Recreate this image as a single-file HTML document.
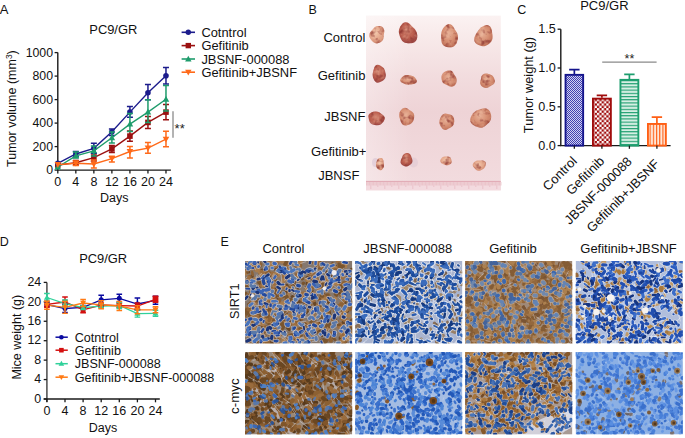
<!DOCTYPE html>
<html><head><meta charset="utf-8"><style>
html,body{margin:0;padding:0;background:#fff;}
svg{display:block;}
text{font-family:"Liberation Sans",sans-serif;}
</style></head><body>
<svg width="685" height="438" viewBox="0 0 685 438" font-family="Liberation Sans, sans-serif">
<rect width="685" height="438" fill="#fff"/>
<defs>
<pattern id="pb" width="2" height="2" patternUnits="userSpaceOnUse"><rect width="2" height="2" fill="#d0d0f2"/><rect width="1" height="1" fill="#4040b0"/><rect x="1" y="1" width="1" height="1" fill="#4040b0"/></pattern>
<pattern id="pr" width="4.7" height="4.7" patternUnits="userSpaceOnUse"><rect width="4.7" height="4.7" fill="#a00c0c"/><rect width="2.35" height="2.35" fill="#fff"/><rect x="2.35" y="2.35" width="2.35" height="2.35" fill="#fff"/></pattern>
<pattern id="pg" width="3" height="3.2" patternUnits="userSpaceOnUse"><rect width="3" height="3.2" fill="#d6efe4"/><rect width="3" height="1.1" fill="#1d9e6e"/></pattern>
<pattern id="po" width="3.2" height="3" patternUnits="userSpaceOnUse"><rect width="3.2" height="3" fill="#ffe6d6"/><rect width="1.1" height="3" fill="#ff5f14"/></pattern>
<filter id="mottle" x="-10%" y="-10%" width="120%" height="120%" color-interpolation-filters="sRGB"><feTurbulence type="fractalNoise" baseFrequency="0.2" numOctaves="2" seed="4" result="n"/><feColorMatrix in="n" type="matrix" values="0 0 0 0 0.95  0 0 0 0 0.78  0 0 0 0 0.68  1.2 0 0 0 -0.62" result="w"/><feComposite in="w" in2="SourceGraphic" operator="in" result="wi"/><feColorMatrix in="n" type="matrix" values="0 0 0 0 0.56  0 0 0 0 0.22  0 0 0 0 0.2  0 -2.4 0 0 1.22" result="d"/><feComposite in="d" in2="SourceGraphic" operator="in" result="di"/><feMerge><feMergeNode in="SourceGraphic"/><feMergeNode in="wi"/><feMergeNode in="di"/></feMerge><feGaussianBlur stdDeviation="0.45"/></filter>
<filter id="soft2" x="-20%" y="-20%" width="140%" height="140%"><feGaussianBlur stdDeviation="0.7"/></filter>
<filter id="soft" x="-5%" y="-5%" width="110%" height="110%"><feGaussianBlur stdDeviation="0.65"/></filter>
<linearGradient id="bgB" x1="0" y1="0" x2="0" y2="1"><stop offset="0" stop-color="#fbf2f2"/><stop offset="0.12" stop-color="#f8eaea"/><stop offset="0.35" stop-color="#f2dcde"/><stop offset="0.55" stop-color="#eed3d6"/><stop offset="0.85" stop-color="#f1d9dc"/><stop offset="1" stop-color="#f2dcdf"/></linearGradient>
<linearGradient id="bgB2" x1="0" y1="0" x2="1" y2="0"><stop offset="0" stop-color="#fff" stop-opacity="0.3"/><stop offset="0.35" stop-color="#fff" stop-opacity="0"/><stop offset="1" stop-color="#fff" stop-opacity="0"/></linearGradient>
<radialGradient id="tl" cx="0.45" cy="0.4" r="0.6"><stop offset="0" stop-color="#f2c6aa"/><stop offset="0.6" stop-color="#e4a68a"/><stop offset="1" stop-color="#d28a70"/></radialGradient>
<radialGradient id="tm" cx="0.45" cy="0.4" r="0.6"><stop offset="0" stop-color="#e8b298"/><stop offset="0.6" stop-color="#d68e72"/><stop offset="1" stop-color="#c0725a"/></radialGradient>
<radialGradient id="td" cx="0.45" cy="0.4" r="0.6"><stop offset="0" stop-color="#d48a76"/><stop offset="0.6" stop-color="#bc5e4e"/><stop offset="1" stop-color="#9e4844"/></radialGradient>
</defs>
<text x="308.5" y="14.0" font-size="12.5" text-anchor="start" fill="#111" >B</text>
<text x="365.4" y="41.6" font-size="13" text-anchor="end" fill="#111" >Control</text>
<text x="365.4" y="79.6" font-size="13" text-anchor="end" fill="#111" >Gefitinib</text>
<text x="365.4" y="121.0" font-size="13" text-anchor="end" fill="#111" >JBSNF</text>
<text x="366.4" y="156.1" font-size="13" text-anchor="end" fill="#111" >Gefitinib+</text>
<text x="338.8" y="179.5" font-size="13" text-anchor="middle" fill="#111" >JBNSF</text>
<rect x="366" y="15.6" width="134.8" height="174.7" fill="url(#bgB)"/>
<rect x="366" y="15.6" width="134.8" height="174.7" fill="url(#bgB2)"/>
<rect x="366" y="181" width="134.8" height="9.3" fill="#f3dadf"/>
<path d="M366 181.4 H500.8" stroke="#e0a8b2" stroke-width="1"/>
<path d="M366.6 182v3.5M368.0 182v3.5M369.4 182v3.5M370.8 182v7M372.2 182v3.5M373.6 182v3.5M375.0 182v3.5M376.4 182v3.5M377.8 182v5M379.2 182v3.5M380.6 182v3.5M382.0 182v3.5M383.4 182v3.5M384.8 182v7M386.2 182v3.5M387.6 182v3.5M389.0 182v3.5M390.4 182v3.5M391.8 182v5M393.2 182v3.5M394.6 182v3.5M396.0 182v3.5M397.4 182v3.5M398.8 182v7M400.2 182v3.5M401.6 182v3.5M403.0 182v3.5M404.4 182v3.5M405.8 182v5M407.2 182v3.5M408.6 182v3.5M410.0 182v3.5M411.4 182v3.5M412.8 182v7M414.2 182v3.5M415.6 182v3.5M417.0 182v3.5M418.4 182v3.5M419.8 182v5M421.2 182v3.5M422.6 182v3.5M424.0 182v3.5M425.4 182v3.5M426.8 182v7M428.2 182v3.5M429.6 182v3.5M431.0 182v3.5M432.4 182v3.5M433.8 182v5M435.2 182v3.5M436.6 182v3.5M438.0 182v3.5M439.4 182v3.5M440.8 182v7M442.2 182v3.5M443.6 182v3.5M445.0 182v3.5M446.4 182v3.5M447.8 182v5M449.2 182v3.5M450.6 182v3.5M452.0 182v3.5M453.4 182v3.5M454.8 182v7M456.2 182v3.5M457.6 182v3.5M459.0 182v3.5M460.4 182v3.5M461.8 182v5M463.2 182v3.5M464.6 182v3.5M466.0 182v3.5M467.4 182v3.5M468.8 182v7M470.2 182v3.5M471.6 182v3.5M473.0 182v3.5M474.4 182v3.5M475.8 182v5M477.2 182v3.5M478.6 182v3.5M480.0 182v3.5M481.4 182v3.5M482.8 182v7M484.2 182v3.5M485.6 182v3.5M487.0 182v3.5M488.4 182v3.5M489.8 182v5M491.2 182v3.5M492.6 182v3.5M494.0 182v3.5M495.4 182v3.5M496.8 182v7M498.2 182v3.5M499.6 182v3.5M501.0 182v3.5" stroke="#e4b2bb" stroke-width="0.6"/>
<ellipse cx="375.5" cy="162.5" rx="3.5" ry="4.5" fill="#d8c4d4" opacity="0.6"/>
<ellipse cx="413.5" cy="162.5" rx="4.5" ry="5" fill="#e0c8d2" opacity="0.6"/>
<g filter="url(#mottle)">
<path d="M383.8 34.7 L383.7 35.9 L383.7 37.1 L383.5 38.5 L383.0 39.7 L382.2 40.9 L381.2 41.8 L380.0 42.6 L378.6 43.1 L377.2 43.4 L375.7 43.3 L374.3 42.8 L373.1 42.0 L372.1 41.0 L371.2 39.9 L370.4 38.8 L369.7 37.5 L369.3 36.2 L369.3 34.7 L369.7 33.3 L370.4 32.1 L371.2 31.1 L372.0 30.2 L372.7 29.2 L373.6 28.2 L374.6 27.3 L375.8 26.6 L377.2 26.1 L378.7 26.0 L380.2 26.1 L381.7 26.6 L383.0 27.6 L383.9 28.9 L384.3 30.5 L384.3 32.0 L384.0 33.4Z" fill="url(#tl)"/>
<path d="M416.5 32.0 L417.0 33.7 L417.3 35.5 L417.2 37.5 L416.8 39.4 L415.9 41.1 L414.5 42.3 L412.8 43.0 L411.1 43.2 L409.5 43.2 L408.0 43.2 L406.5 43.1 L404.9 42.8 L403.5 42.1 L402.2 41.0 L401.3 39.6 L400.5 38.1 L399.9 36.6 L399.4 35.0 L399.0 33.3 L398.8 31.6 L399.0 29.8 L399.6 28.1 L400.3 26.5 L401.3 24.9 L402.5 23.6 L404.0 22.6 L405.8 22.2 L407.6 22.6 L409.2 23.5 L410.5 24.8 L411.6 26.0 L412.6 27.0 L413.7 28.0 L414.8 29.1 L415.7 30.4Z" fill="url(#td)"/>
<path d="M458.0 37.2 L457.8 39.1 L457.3 41.0 L456.7 42.9 L455.7 44.6 L454.4 46.0 L452.9 46.9 L451.3 47.3 L449.8 47.3 L448.3 47.2 L446.8 46.9 L445.3 46.6 L443.8 45.8 L442.6 44.6 L441.8 43.0 L441.4 41.1 L441.2 39.3 L441.1 37.5 L441.1 35.7 L441.2 33.9 L441.5 32.0 L442.1 30.2 L443.0 28.5 L444.1 27.0 L445.4 25.7 L446.9 24.7 L448.6 24.1 L450.3 24.2 L451.8 25.1 L453.1 26.4 L454.0 27.9 L454.8 29.4 L455.7 30.7 L456.5 32.0 L457.3 33.5 L457.8 35.3Z" fill="url(#tm)"/>
<path d="M492.5 38.5 L492.0 40.2 L491.1 41.8 L489.9 43.1 L488.6 44.2 L487.3 45.1 L485.8 45.8 L484.3 46.2 L482.8 46.3 L481.4 46.0 L479.9 45.6 L478.5 45.0 L477.0 44.2 L475.7 43.2 L474.6 41.6 L474.2 39.7 L474.4 37.6 L475.1 35.7 L476.0 34.1 L476.9 32.6 L477.8 31.3 L478.7 29.9 L479.7 28.7 L480.8 27.6 L482.2 26.7 L483.6 25.9 L485.3 25.3 L487.0 25.1 L488.6 25.5 L490.1 26.5 L491.1 28.0 L491.7 29.8 L492.0 31.6 L492.2 33.3 L492.5 34.9 L492.6 36.7Z" fill="url(#tm)"/>
<path d="M385.7 73.9 L385.8 75.3 L385.6 76.8 L385.2 78.2 L384.4 79.3 L383.4 80.2 L382.3 80.9 L381.3 81.4 L380.2 82.0 L379.0 82.5 L377.7 82.7 L376.4 82.4 L375.3 81.6 L374.4 80.5 L373.7 79.3 L373.1 78.0 L372.8 76.6 L372.6 75.3 L372.6 73.9 L372.9 72.6 L373.2 71.3 L373.5 70.1 L373.9 68.7 L374.4 67.3 L375.2 66.0 L376.3 65.1 L377.7 64.8 L379.0 64.9 L380.2 65.5 L381.3 66.2 L382.4 66.9 L383.3 67.8 L384.1 68.8 L384.7 69.9 L385.1 71.2 L385.4 72.5Z" fill="url(#td)"/>
<path d="M416.5 80.0 L416.8 80.9 L416.7 81.9 L416.1 82.8 L415.0 83.5 L413.7 84.0 L412.4 84.3 L411.0 84.5 L409.8 84.6 L408.5 84.7 L407.2 84.6 L406.0 84.4 L404.8 84.1 L403.7 83.6 L402.7 83.1 L401.6 82.5 L400.8 81.8 L400.3 80.9 L400.2 80.0 L400.6 79.1 L401.1 78.3 L401.8 77.5 L402.5 76.8 L403.4 76.1 L404.4 75.5 L405.7 75.1 L407.1 75.0 L408.5 75.1 L409.8 75.3 L411.0 75.6 L412.2 75.9 L413.3 76.3 L414.2 76.9 L414.9 77.6 L415.5 78.4 L416.0 79.1Z" fill="url(#tm)"/>
<path d="M456.5 78.6 L456.7 80.0 L456.6 81.4 L456.3 82.9 L455.6 84.2 L454.7 85.4 L453.4 86.3 L452.0 86.7 L450.5 86.6 L449.1 86.2 L447.9 85.6 L446.8 85.0 L445.8 84.5 L444.7 84.0 L443.6 83.3 L442.8 82.4 L442.1 81.2 L441.7 79.9 L441.5 78.6 L441.4 77.2 L441.6 75.8 L442.1 74.4 L442.9 73.3 L444.0 72.3 L445.2 71.6 L446.4 71.0 L447.7 70.6 L449.1 70.4 L450.5 70.5 L451.7 71.1 L452.8 72.1 L453.5 73.2 L454.1 74.3 L454.7 75.3 L455.4 76.2 L456.0 77.3Z" fill="url(#tm)"/>
<path d="M494.9 80.7 L494.8 81.8 L494.5 82.9 L493.7 83.9 L492.8 84.7 L491.8 85.3 L490.8 85.9 L489.7 86.6 L488.6 87.3 L487.2 87.8 L485.7 88.0 L484.2 87.7 L482.8 87.1 L481.7 86.2 L480.9 85.2 L480.3 84.1 L480.1 82.9 L480.2 81.8 L480.4 80.7 L480.8 79.7 L481.0 78.8 L481.2 77.8 L481.4 76.6 L482.0 75.4 L482.9 74.4 L484.2 73.8 L485.7 73.5 L487.2 73.6 L488.6 73.9 L489.9 74.3 L491.2 74.9 L492.3 75.6 L493.1 76.5 L493.8 77.5 L494.2 78.5 L494.6 79.6Z" fill="url(#tm)"/>
<path d="M384.8 118.4 L384.6 119.6 L384.1 120.6 L383.5 121.7 L382.7 122.6 L381.8 123.6 L380.7 124.4 L379.3 124.9 L377.8 125.2 L376.3 125.2 L374.8 125.0 L373.4 124.7 L372.0 124.2 L370.9 123.5 L370.0 122.6 L369.5 121.5 L369.2 120.4 L368.9 119.4 L368.7 118.4 L368.4 117.3 L368.3 116.1 L368.6 114.9 L369.4 113.8 L370.5 113.0 L371.8 112.3 L373.3 111.8 L374.8 111.6 L376.3 111.5 L377.8 111.8 L379.1 112.3 L380.2 113.0 L381.2 113.8 L382.2 114.5 L383.2 115.3 L384.0 116.2 L384.7 117.2Z" fill="url(#td)"/>
<path d="M414.2 116.8 L414.0 118.4 L413.6 119.9 L413.0 121.4 L412.2 122.6 L411.2 123.6 L410.1 124.3 L408.9 124.8 L407.7 125.1 L406.5 125.4 L405.2 125.5 L403.9 125.3 L402.7 124.6 L401.8 123.6 L401.1 122.2 L400.6 120.9 L400.2 119.6 L399.7 118.2 L399.3 116.8 L399.2 115.2 L399.3 113.6 L399.8 112.1 L400.5 110.7 L401.5 109.6 L402.6 108.6 L403.8 108.0 L405.2 107.8 L406.5 108.2 L407.7 108.8 L408.7 109.5 L409.7 110.2 L410.7 110.7 L411.8 111.4 L412.9 112.4 L413.7 113.6 L414.2 115.2Z" fill="url(#tm)"/>
<path d="M454.3 121.5 L454.0 123.1 L453.6 124.5 L452.8 125.8 L451.8 126.7 L450.8 127.4 L449.8 127.9 L448.8 128.5 L447.8 129.1 L446.7 129.7 L445.5 130.0 L444.2 129.8 L443.0 129.2 L442.0 128.2 L441.2 127.1 L440.4 125.9 L439.8 124.5 L439.4 123.1 L439.4 121.5 L439.6 120.0 L440.1 118.6 L440.7 117.3 L441.4 116.1 L442.2 115.0 L443.2 114.2 L444.4 113.7 L445.6 113.6 L446.7 113.8 L447.8 114.0 L448.9 114.2 L450.1 114.4 L451.3 114.9 L452.4 115.7 L453.3 116.8 L453.9 118.3 L454.2 119.9Z" fill="url(#tm)"/>
<path d="M491.1 118.0 L490.8 119.6 L490.1 121.1 L489.1 122.4 L488.0 123.5 L486.9 124.5 L485.7 125.6 L484.4 126.6 L482.8 127.4 L481.0 127.7 L479.2 127.6 L477.4 127.1 L475.8 126.4 L474.1 125.6 L472.6 124.6 L471.3 123.2 L470.4 121.6 L470.2 119.8 L470.5 118.0 L471.1 116.4 L471.9 114.9 L472.8 113.6 L473.9 112.4 L475.1 111.4 L476.4 110.6 L477.9 110.0 L479.4 109.5 L481.0 108.9 L482.8 108.4 L484.8 108.3 L486.8 108.7 L488.5 109.7 L489.8 111.2 L490.5 112.9 L491.0 114.6 L491.2 116.3Z" fill="url(#tm)"/>
<path d="M383.9 164.1 L384.0 165.0 L384.0 166.0 L383.8 166.9 L383.4 167.8 L383.0 168.6 L382.4 169.3 L381.7 169.9 L380.9 170.3 L380.1 170.3 L379.3 170.0 L378.6 169.5 L378.0 169.0 L377.4 168.4 L376.9 167.7 L376.4 166.9 L376.1 166.0 L376.0 165.1 L376.0 164.1 L376.2 163.2 L376.4 162.3 L376.7 161.5 L377.0 160.6 L377.3 159.8 L377.9 159.0 L378.6 158.5 L379.3 158.1 L380.1 157.9 L380.9 157.9 L381.7 158.1 L382.5 158.6 L383.0 159.5 L383.4 160.5 L383.5 161.5 L383.6 162.4 L383.7 163.3Z" fill="url(#tl)"/>
<path d="M412.4 160.0 L412.5 161.1 L412.3 162.3 L411.8 163.3 L411.1 164.1 L410.2 164.8 L409.4 165.3 L408.5 165.8 L407.6 166.2 L406.6 166.4 L405.6 166.4 L404.6 166.2 L403.5 165.8 L402.5 165.3 L401.6 164.6 L400.9 163.6 L400.5 162.4 L400.6 161.2 L400.9 160.0 L401.4 159.0 L401.8 158.1 L402.2 157.2 L402.5 156.2 L403.0 155.3 L403.7 154.4 L404.5 153.8 L405.5 153.3 L406.6 153.0 L407.7 153.0 L408.8 153.3 L409.8 153.9 L410.5 154.8 L411.1 155.9 L411.4 156.9 L411.8 157.9 L412.1 158.9Z" fill="url(#td)"/>
<path d="M451.6 160.8 L451.7 161.7 L451.5 162.6 L451.1 163.4 L450.5 164.1 L449.7 164.6 L448.8 165.0 L447.9 165.2 L447.1 165.3 L446.2 165.3 L445.4 165.1 L444.6 164.8 L443.9 164.4 L443.2 164.1 L442.4 163.7 L441.6 163.3 L440.9 162.6 L440.4 161.7 L440.2 160.8 L440.4 159.9 L440.9 159.0 L441.5 158.3 L442.1 157.6 L442.9 157.1 L443.7 156.8 L444.6 156.6 L445.4 156.6 L446.2 156.5 L447.0 156.5 L447.9 156.6 L448.8 156.7 L449.6 157.1 L450.3 157.6 L450.8 158.4 L451.1 159.1 L451.4 160.0Z" fill="url(#tl)"/>
<path d="M485.7 165.2 L485.4 166.1 L485.0 167.0 L484.5 167.8 L483.9 168.5 L483.2 169.1 L482.3 169.6 L481.4 170.1 L480.5 170.4 L479.4 170.7 L478.3 170.7 L477.2 170.4 L476.3 169.9 L475.5 169.2 L474.8 168.5 L474.2 167.8 L473.5 167.1 L473.0 166.2 L472.7 165.2 L472.8 164.2 L473.2 163.2 L473.9 162.4 L474.7 161.7 L475.5 161.2 L476.4 160.7 L477.4 160.5 L478.4 160.4 L479.4 160.4 L480.4 160.4 L481.4 160.4 L482.5 160.5 L483.7 160.8 L484.7 161.3 L485.5 162.1 L485.8 163.2 L485.8 164.2Z" fill="url(#tl)"/>
</g>
<text x="220.6" y="246.2" font-size="12.5" text-anchor="start" fill="#111" >E</text>
<text x="283.4" y="252.8" font-size="13" text-anchor="middle" fill="#111" >Control</text>
<text x="407.8" y="252.8" font-size="13" text-anchor="middle" fill="#111" >JBSNF-000088</text>
<text x="513.0" y="252.8" font-size="13" text-anchor="middle" fill="#111" >Gefitinib</text>
<text x="628.5" y="252.8" font-size="13" text-anchor="middle" fill="#111" >Gefitinib+JBSNF</text>
<text transform="translate(239.2 301.3) rotate(-90)" font-size="12.6" text-anchor="middle" fill="#111">SIRT1</text>
<text transform="translate(239.2 396.2) rotate(-90)" font-size="13.3" text-anchor="middle" fill="#111">c-myc</text>
<clipPath id="c00"><rect x="245.0" y="261.0" width="107.3" height="82.6"/></clipPath>
<g clip-path="url(#c00)"><g filter="url(#soft)">
<rect x="245.0" y="261.0" width="107.3" height="82.6" fill="#86786e"/>
<path stroke="#684628" stroke-width="2.6" stroke-linecap="round" d="M246.5 271.4l2.4 .7m11.6 -7.1l-.4 1.6m-5.3 -5.5l0 1.9m15.8 12.4l.1 .1m52.6 .6l.2 .1m2.5 -4.7l.8 2.7m9 -8l.4 .9m16.1 1.9l-1.1 .3m-97.6 21.2l-.5 .5m-4.8 -9.7l.4 .5m30.1 6.5l.1 0m12.2 -6.3l-.3 1.1m57.4 -.2l.2 .6m2.3 -5.1l.1 0m-95 31.3l-.6 .9m-5.8 -14.1l.8 .4m12.4 .8l-2.1 1.9m17.3 -.3l-1 .8m-9.9 -1l2.1 1.7m7.3 -7.2l0 2.9m17.2 -.6l-1.6 .8m-3.5 13.3l-1 .8m3.7 -10.2l0 .4m1.2 5.5l-1.1 1.6m12.9 -6.6l-2.8 0m.4 6.5l.7 1.5m2.3 -5.4l.6 .7m-45.6 5.5l-.8 1.7m3.5 12.6l-2 1.7m-12 -15l1.7 .4m7.6 0l1.7 .7m3.5 2.6l.6 .1m23 -1.7l-.1 .6m-3.6 .3l1 1.4m17.9 3.6l-.9 .5m4.7 -9.2l.2 .2m16.3 4.5l-2 2.2m.4 5l-2 .6m12.1 -7.8l-.1 .8m-10.4 -1.9l2.5 .8m23.2 -1l-.7 2.2m-5.9 -2.5l.4 .8m8.3 -3.2l-1.1 .6m-88.9 30.5l-2.1 .4m-11.2 -2.1l1.4 .2m5.1 1.6l2.3 .3m8.8 -16.1l-1.4 .9m3.3 11.4l-2.1 1.6m10.3 2.4l.6 .1m-9.1 -10.7l-1.1 1.3m15.5 -5.6l-.2 .4m-15.4 11.4l1.2 2.5m36.6 -.1l-.1 0m29.7 -4.8l-2.2 1m24.9 -2.2l-.5 .2"/>
<path stroke="#9c6e40" stroke-width="2.6" stroke-linecap="round" d="M246 269.3l.1 .2m1.7 -6.8l.4 .5m32.1 6.7l-.9 2.5m-10.3 -12.1l.2 2.4m.9 10l1.9 1.1m15.5 -10.3l2.1 1.1m-.3 9.1l2.6 .5m3.5 -11.4l.6 1m8 6.7l-.2 1.7m5.2 1l-.6 2.4m22.5 -10.9l1.6 2m16.2 9.6l1.8 1.5m-3.2 -15l-.9 .2m-7.6 2.7l1.1 1m-82.5 11.9l-1.9 .5m-6.1 -1.2l-.2 1.4m16.5 .9l0 .3m8.5 6.3l-1 2.5m7.3 2.6l-1.3 1.6m-6.3 -5.9l1 .1m9.5 -10.9l.5 1.5m-.4 14.3l.1 0m-1.7 -7l.6 .5m14.5 -6.3l-.1 .3m21.3 6.2l-2.1 .3m24.8 -3.1l-2.4 .7m8.3 -2.9l-1.6 .8m1.8 2.1l1.1 1.2m-4.6 .1l-.1 .1m6.5 -7.7l.3 2m-7.4 4.3l0 .2m0 5l-.8 .8m-91.6 12l.5 .3m.6 -1.4l.8 .7m-3.3 5.4l-2.6 1.1m16.2 -9.6l-.6 1.3m-11 5.1l-.4 2.1m12.7 .1l-.1 0m.9 -11.8l1.2 1.1m16.4 1.4l-.1 0m21.6 -2l-.7 .4m2.8 13l.1 .9m20.2 -5.7l0 1.3m-6.3 -6.4l.3 .5m25.1 9.5l-1.3 1.1m-91.6 6.8l.3 2.1m1.9 -.1l-.3 .7m7 4.1l.7 1.4m17.7 -3.4l-2.1 1m3.3 -4.2l-.3 .4m-11.7 -6.1l1.4 1.7m7.7 -.7l-.2 .4m-4.1 7.4l2 1m-8.6 -3.5l1.7 .3m27.3 -2.5l-.5 2.7m-13.5 -5.7l-.1 .8m8.6 .1l-.1 .2m22.7 5.5l-1.8 1.6m29.7 .6l2.4 1.4m8.9 -5.5l-.5 .4m-83.5 10.3l-2 1m10.4 -2.3l-1.4 .3m-7.8 3.8l.2 .1m.4 10.1l.5 .8m14.9 -12.9l.2 .8m13.2 8.2l2.8 .8m-17.2 -9.6l.5 .5m21.5 1l-.4 .1m6.3 1.5l-.4 .7m21.5 -2.1l0 .1m13.4 1.4l-1.9 1.3"/>
<path stroke="#684628" stroke-width="4.2" stroke-linecap="round" d="M246.5 267.9l.3 .2m29.1 .8l.5 0m-6.2 7.2l.3 .2m18.8 -3.4l-.1 .2m12.3 -.3l-.4 .2m8.8 -.1l0 .4m23 .9l-1.1 .5m-67.7 6.2l2 1.4m10.7 5.9l2.3 .9m-15.5 .4l1.5 .3m21.2 -4l-.2 .6m.3 6l-2.8 .2m27.3 -14.7l1.9 1.3m-5.3 -1l.1 2.3m0 2.9l.1 .7m2.3 4.7l.3 .5m25.7 2.5l2.8 .8m12 -5.2l-.2 .4m-92.3 9.5l1.1 1.1m-.2 -.4l.5 1.6m-.6 -3l.1 .1m3.7 12.6l.6 0m-.8 .2l2.6 .7m55.2 -8.3l.2 .7m1.6 -8.6l.9 .1m21.3 7.2l.1 1m4.3 -4.8l1.3 .4m-91 13.6l0 1m-4.3 7.8l-.5 0m3.8 5.1l2.5 .5m18.6 -8l-.3 1m-9.7 -2.2l-.1 .4m21.4 3.9l-1.8 1.3m25.9 -.3l.4 1.7m-8.4 -12.3l-1.6 1.2m-46.7 16.1l.3 .1m-3.8 8.4l.2 0m15.6 5.1l.2 2m4.8 -15.3l.3 .7m14 5.8l-1.5 0m-.8 5.4l-.6 .4m1.9 -3.2l-.1 0m18.2 2.6l-.8 1m18.6 -7.9l.5 .4m-1.8 7.6l-1.2 2.3m21 -3.8l.8 .7m.6 .8l-2.7 .4"/>
<path stroke="#684628" stroke-width="3.4" stroke-linecap="round" d="M261.9 270.5l.1 .1m-2.2 2.2l1.8 .4m-9.5 2.8l0 .2m10.2 -6l2.2 1.1m15.5 -5l-1.7 1.1m10 1.9l1.1 1.1m41.3 1l-1.4 .4m-59.7 10.3l1.2 .2m16.2 3.7l-1.9 .1m10.9 5.9l1.4 1.6m.2 -4l.2 .5m14.2 .9l-1.8 .2m-4.2 -3.2l.4 .5m14.6 .2l-1.5 .3m21.4 2.4l-.8 .7m-3.3 -14.6l-.9 1.6m-77.9 15.7l-.7 1.5m8.9 11.4l-.1 .1m0 -2.4l-2.1 .9m0 -2.9l-1 2.5m4.9 4.4l.2 0m26.4 -2.7l.7 .9m-8.3 -5.6l-1.6 0m10 2.6l.5 1.1m3.3 -4.9l-2.2 .7m-1.4 7.1l-.1 1.9m-10.8 -2.9l-.2 .5m30.1 -6l.5 1.5m13.5 -2.7l.5 .5m-4 7.8l-.2 .2m27.6 -8.1l-2.2 0m-69.8 11.9l-1 1.8m-6.2 -5.2l-.2 .2m8.7 2.9l-.5 .7m-.6 5.2l1.8 .8m2.6 -1.3l1.2 .7m-4.2 -8l.7 2.9m44.8 -2.2l1.9 .5m-4.2 -2.6l-.1 .4m15.3 .7l.2 0m4.9 10.4l-2.2 .4m-97.7 8.7l2 1m26.1 6.4l-.2 .2m-7.1 -11.4l1.4 .5m5.3 13.6l-.3 .1m2.4 -6.6l.5 0m11.8 -7.3l1.7 1.7m-2.7 13l.5 .1m32.8 -11.2l1.7 2.3m0 7l2.4 1.1m-1.6 -7.1l-.4 .9m18.4 2.4l.2 1.9"/>
<path stroke="#8e6236" stroke-width="4.2" stroke-linecap="round" d="M258.9 263.5l1.4 1m24.7 9.2l1.4 .1m2.1 -4.6l-1 1.4m26.2 2.1l-.4 0m-13.1 -7.4l0 .6m-.2 7.8l-2.7 .9m31.3 -9.2l.1 .9m-7.5 -.6l-.1 2.5m16.6 .6l-2.1 1.1m-91.2 14.3l2.3 .3m15.9 -2.4l-2.2 .6m-3.7 5.4l-1.2 1.1m-6 -12.3l-.8 2.8m18.9 1.7l-2.1 .6m46.7 -5l1.1 2.1m7.8 .8l2.6 1.5m.6 2.1l-.5 2m20.1 -2.3l.1 0m-2.8 1.1l-.1 .2m-7 -7.4l1.4 2.4m-68.3 15.3l-1.4 .7m9.1 -1.5l-2.8 .3m-6 9.1l-1.2 .2m6.8 -.9l-1.2 .8m15.9 -3.8l-.8 1.6m40.5 8.5l.5 .5m7.5 -2.9l.8 1m12.6 .5l.1 .2m1.6 -13.5l-1 1.3m-95.4 23.1l-2.9 .1m13.3 -3.9l-1.2 .5m-17.1 3.4l2.2 1.2m28.5 -3.5l-.9 .1m-8.2 1.9l1.1 2.3m3.2 -3.4l-1.7 1m23.2 -2.7l-1.2 .5m4.4 -4.6l.6 .2m1.6 9.2l-1.4 .5m8.1 2.7l-.8 1.8m28.8 -9.4l.2 .9m-6.6 -3.7l.1 .4m-75 13.9l.4 .8m2.7 6.3l-2 .5m3.8 -2.4l.1 0m12.2 7.5l-2.1 .2m8.4 -5.9l-.5 1.9m-11.2 -3.4l2 1.6m-1.8 -1.9l.2 .2m29.3 -1.1l-.7 .4m7.1 7.9l.4 .1m29.8 -3.1l1.6 1.6m-2.6 -12.3l-2.8 1m23.1 .8l.5 1.2m-5.5 3.5l.4 .2"/>
<path stroke="#9c6e40" stroke-width="4.2" stroke-linecap="round" d="M252.1 264.9l1.2 2.5m-3.1 -4.5l-.2 1.1m2.8 -1.2l.2 0m24.1 -.6l.1 .3m-14 14.4l-.2 .2m28.5 -15.5l.7 .2m-2 13.6l.7 .6m21.9 -15.6l1.5 1.6m-1 .2l.9 .1m5.4 1.9l-.8 1.9m27.1 -5.2l0 2.7m-91.7 24.9l-.7 1.1m-8.4 -7.4l0 .2m16.1 -4.2l.1 .4m-1 6.5l.2 .1m8.2 5.5l1.5 .2m27.2 1.4l.1 0m-5.2 -6.3l-1.9 2.1m1.6 -.4l1.7 2.3m-4.5 1.4l.1 0m24 -13.3l2.7 .9m7.7 .8l2.2 0m7.3 4l-.8 1.6m-3 2.4l-1.9 .9m21.7 -3.4l0 .2m-98.2 23.7l-.7 1.1m10.9 -14.4l-.2 .1m5.8 11.1l-1.4 1.8m9 -1.9l-1.6 1.5m-5.5 -7.5l.1 0m2.2 5.6l-.7 .1m19.4 -5.2l-.4 1.6m6.7 -1l-.1 2.7m4.2 -10.1l-.7 .9m-9.3 4.6l-1.2 .9m24.4 -4.2l.7 .6m12.9 -1.5l-.5 2.4m3.6 -2.6l.6 .9m-2 .1l-.4 2.4m1.4 -3.9l-.1 .1m-5.5 1.5l-1.5 .5m-60.7 25.7l.8 .8m-16.1 -13.4l1 .9m20.3 1.2l.9 .7m22.8 10.9l-1.3 1.2m6.1 -14.1l1.7 1m-13.5 -1.6l-1 1.4m25.9 13.1l-.8 2.2m11.9 -1.9l-1.2 .7m25.2 -8.1l1.7 2.2m-6.1 6.3l1.6 .2m11.1 -2.3l.7 1.2m-9 -12.6l-1.7 1.5m-79.5 25.4l-1.1 1.9m18.4 -5.3l-.3 2.2m16.9 -1.5l-.2 .7m20.5 -9.2l0 1m-12.9 10.2l2.2 1.3m-.3 -1.1l.9 .4m39.2 -6.4l-.4 0m5.9 -5.4l-1.1 .3m2.4 3.3l.6 .4m-10.2 -3.8l0 .9"/>
<path stroke="#a87c4e" stroke-width="2.6" stroke-linecap="round" d="M259.1 272.4l.1 .2m49.6 -.5l1.2 .7m-11.3 2.8l1.1 0m4.2 -2.2l-2.2 .2m47.7 1.6l.1 .4m-3.6 -10.5l-.2 1.9m-98.7 16.9l-1.2 1.2m6.1 7.3l-.7 .7m22.9 -8.1l-.5 1.2m17 .5l-.1 .8m17.1 -7.1l1.1 1.4m-10.1 -.9l.1 0m22 -1.8l-1.6 1.8m2.6 -1.7l-.8 .3m4.3 -.4l-1 2.2m3.9 7.6l-.4 1m15.2 -4.9l.6 2.3m-80.9 10.9l-1 0m-6.9 .6l.7 .3m21.8 -4.8l0 .8m-4.2 1.1l-1.4 .5m13.7 10.4l2.3 1.7m9 1l0 .1m-9.6 -14.8l1.6 1.2m-6.1 -2l.1 2.8m13.4 12.1l.2 1m12.2 -8.7l.2 .4m3.3 3.3l-.4 1.1m22.4 -2.2l.8 .2m-3.3 -6.1l0 .1m3.7 -.6l1 1.3m-74.9 21.1l-.5 .3m2 -7.4l.1 0m-5.2 7.2l1.6 1.3m-6.9 2.4l.9 1.7m9.2 -.8l2.4 1m4.6 -7.6l-.1 1.9m20.2 -2.9l.7 .6m-7.4 5.9l1.2 .1m9.7 -12.2l-2.3 1m-6.5 1.8l2.5 .9m23.1 8.3l-.3 .6m21.2 -7.2l.3 .8m18.1 -2.3l-1 .9m-89.6 16.2l-1 .4m-9.6 2.4l-1.5 .2m9.9 3.4l.2 1.5m3.2 -6.4l-.5 .1m10.5 -6.2l.1 .2m34.5 10.6l.9 .2m-5.8 -3.4l.4 2.4m12.1 -8.3l.2 2.5m-14.3 6.4l1.2 .9m7.3 -3.6l-.5 .6m5.9 2.4l-2.2 .6m11.1 -6.2l2.8 .1m18.1 5.7l1.8 .9m-3.7 -7.1l.5 1.1"/>
<path stroke="#8e6236" stroke-width="2.6" stroke-linecap="round" d="M252.1 272.2l.7 2.7m2.5 -7.8l.2 2.8m13.2 1.6l1.3 1.8m16.4 -.9l.1 1m-1.4 .7l1.2 .3m13.4 0l1.2 .2m34.2 -1.5l1.7 1.6m-74.7 17.3l.8 .2m3.2 -14.1l-1.8 .5m3.9 11.3l.2 2.9m18.5 -14.1l-.4 .4m.4 .7l.1 0m45.5 2.6l0 1.2m15.4 7.3l1.2 .9m-1.4 -10.5l-1.5 .7m-8 6.5l-.7 1.6m-1.9 -9.8l1.2 .4m1.2 -3.2l-.6 1.2m7.3 5.5l1.9 .8m-84.1 22.9l-1.1 2.3m11.9 -8.8l2 .7m-8 -7.8l-.4 .8m26 5.4l-.2 2m-5.9 .1l.3 .4m53.2 -7.9l2.3 1.7m-97.4 18.7l.1 1.5m14.4 -1.5l.6 .6m-9 -3.6l-.4 .7m6 12.4l-.9 .4m-2.7 -10.2l-.2 .2m24.8 10.2l1.4 1m-15.2 -9l-1 1.4m11.8 -.4l-1.4 .8m2.4 1.5l-1.2 2.2m-1.2 -8l.8 2m13.4 5.6l-.8 1.1m-2.8 .3l-.1 .1m-1.6 -6l.2 1.8m19.9 -3.8l-.6 2.6m27 -5.5l0 2.5m2.1 -.3l-.5 .3m7.3 5l-1.4 .5m.1 -8.6l-.2 .1m-88.8 12.8l-.2 2.2m9.5 -.7l-2.3 .8m-1.8 10.9l-1.3 1.4m-3.3 1.1l2.4 .3m7.8 -14.3l-2.3 1.2m-.7 3.5l.1 0m7 2.9l-1.8 2m13.6 -7.9l.5 2.1m-4.3 6.4l-.9 1m-1.2 -7.7l.4 .1m5.9 9.6l.3 .8m13 -4.1l.1 1.1m-4.2 -5.1l-2.8 .9m42.6 6l-.4 .6m6.9 -2.3l.9 2m11.8 -11.6l-.2 .4m3.5 11.1l-1.9 2.2m6.1 -15.3l1.3 .4m.2 8.4l-.8 1.5"/>
<path stroke="#a87c4e" stroke-width="3.4" stroke-linecap="round" d="M258.4 270l.5 .9m-9.8 -8.6l1.7 2m47 7.3l-.4 .2m31.2 -7.3l1 .6m-84.3 22.3l.2 0m-.2 -7.1l.2 2.1m6.8 11.3l.5 .2m2.4 -15.2l2.8 .9m5.4 6.1l.2 .1m14.1 5l.3 .1m17.3 -10.6l-.1 .2m-1.8 -4l.2 2.2m12.5 9.9l1.6 .7m20.5 -4.6l-.5 .6m-2.2 2l.4 1.5m-2.4 1.9l-1.2 1.8m-62.5 5.4l1.1 .4m-1.5 10.4l-1 2.3m7.5 -3.4l-.2 .4m7.6 -8.7l-2.3 1m-6.9 7.1l-.1 2m24.5 -14.8l-.6 2.2m-5.9 .8l-1.7 .2m6.2 10.7l-.3 .9m54.5 -6.1l.8 .7m5.7 5.5l-.5 .7m-96 7.7l.5 .8m.1 .6l.4 0m-4.8 4.4l-.2 .4m29.6 -6l.1 .2m-6.9 -2.7l1 .5m1.1 4.4l-.4 1.5m4.4 -8.1l-1.7 2.4m-5.8 3l.5 .6m-.3 1.3l2.5 .6m-6.2 -3l.4 2.1m29.8 -7.2l1.4 .2m-11.3 1l1.2 1.6m-1.4 6.1l-1.6 1.9m32.8 0l-.4 1.2m-16 -9.7l-.5 .2m23.7 -1.7l-.5 .9m25.8 4.7l-1.2 .2m-101.6 9.6l1.3 .1m6.5 9.1l-.5 .2m2.1 -11.5l-.2 1m2.6 5.7l1.7 .7m-2.3 7l0 .1m21.2 .9l.6 .6m-7.9 -9.5l2.2 .9m24.8 -4.9l-.6 0m-11.1 12.9l.1 .1m20.1 -1.2l1.8 .6"/>
<path stroke="#a87c4e" stroke-width="4.2" stroke-linecap="round" d="M246.6 271.9l-.9 1.5m12.3 -4.6l-1.3 1.4m4 2.6l.8 2.3m12.2 1.5l1 .4m1.6 -3.2l2 1.4m-6.5 -11.5l-.8 .6m9.7 -3.5l1.4 .9m2.8 5.5l.5 2.4m24.7 2.7l.6 1m-11 -11.8l1 .4m20.7 3.2l-.7 .6m24 6.1l-1.9 1m-1.4 -8.1l.1 0m-7 3.1l.9 .1m-88.7 19.7l.4 .4m2.7 -7.5l2.2 .2m22.9 10.7l-1.1 .6m10.3 -5.8l-2.6 .3m2.2 -6.5l-.9 1.7m24.2 -2.2l.3 .5m12.9 3.5l1.3 1.3m3.8 -6l1.1 .8m-4.4 10.1l-2.9 .1m6.6 -8l-1.5 1.2m13.5 -.9l-.8 1.5m-.2 -1.1l-1.8 .2m-72.4 13.1l-.4 .3m-15.3 -1.7l-.7 .9m14.3 -1.4l-.9 1.9m17.3 11.8l-2.3 .7m-11.1 -7.8l1.5 1.3m8.3 -3.4l0 .3m-5.2 -1.1l-1.6 .2m15.3 5.5l1.9 .3m30.3 -9.9l1.5 1.5m4.5 12.6l.7 2.6m4.8 -11.3l-1.9 1.1m21 -5l.6 .3m.7 14.3l-.3 .2m3.1 -14.4l.3 .7m-94.1 17.5l1.5 1.7m-.7 1.1l2 1.3m15.4 6.2l2.6 .4m-5.9 -9.1l-.2 2.4m13.3 -2.7l1.6 .5m28.7 -4.9l-.7 2.8m-5.7 9.8l-2 .4m23.1 -9.2l0 .1m19.6 9.1l.7 .9m-2.6 -10.2l1.3 .6m-93.7 13.6l-2.6 .5m33.2 10.7l-.3 1.3m9.6 .1l-.8 .1m2.9 -4.3l.3 1.7m-3 -4l-1 .2m-.8 2.9l-2.7 1m8.5 -10l.1 .4m6.4 12.4l-1.7 1.7m.2 -13.2l-.6 .3m7.2 11.6l-1.8 1.7m23.4 -16.1l-2.9 .5m-8.8 .1l-.1 .1m30.3 10.4l-.6 .3m-4.9 1.8l-1.4 .3m3 -14l0 1.4"/>
<path stroke="#7a542e" stroke-width="4.2" stroke-linecap="round" d="M250.6 267.3l-1 .2m16.9 2.6l.2 2.5m21.3 -2l1.5 1.1m-6 -4.2l.3 1.2m24.3 2.1l1.1 1.1m1.8 -10.2l-1.2 .8m11.7 -1.7l.5 2.9m6.6 3.8l.2 .4m-11 -.5l-.2 .1m-66.5 14.5l-.1 .1m8.7 6.5l-.8 2.2m-12.5 -3.5l1 .1m27.2 -7.4l.2 .1m-2.4 12.4l1.4 .7m28.6 -15.2l-.2 .2m6.6 9.8l.9 1.7m18.5 -5.3l1 2.2m-6.5 -1.9l-.9 1.7m25.7 -8.3l0 1.7m-96.6 24l-1.8 1.1m-.5 5l-2 .5m-1.1 -16.5l-.3 1.4m10.3 5.9l.2 .3m10.1 2.1l1.6 1.1m10.8 -10l-.2 .4m-4.1 7.8l-.2 1.1m12.1 -7.9l.8 .8m-6.7 -2.8l2.1 0m23.9 14.8l.6 .4m-7.3 -3.6l-.5 .2m18.1 2.9l-.3 .8m30.9 -10.5l-.2 .9m-8.8 7.7l0 .3m8.7 -13.7l.5 1m-96.8 19.6l-.8 1.5m8.7 -2.2l.4 2.9m19.6 6.7l.1 0m-.8 -.3l-.1 .1m5.2 .8l-.2 2.8m32.3 -16.6l2 1.2m-13.2 13.3l-2.6 .3m27.4 -14.7l.1 .3m.9 13.4l.2 1.8m-1.9 -3.3l0 1.9m-10.7 -1l-.3 .9m34.6 -3.8l.1 .3m-94.6 20.7l-.4 2.9m17 -12.4l-2.6 .7m-2.3 4.6l1.7 .3m30.4 -3.3l-.1 .1m24.9 6.2l-1.7 1.8"/>
<path stroke="#9c6e40" stroke-width="3.4" stroke-linecap="round" d="M261.4 271.6l2.6 1.3m-12 -4l.2 0m22.5 -4.8l1.2 2.4m-3.2 6.5l-.7 1.8m25.7 1.3l-2.6 .9m-5.6 -12.9l-2.2 .7m-3.8 11.3l2.3 1.3m1.1 -8l1.5 .3m10.1 -7.1l-.8 .2m-12.2 .3l-.2 1.9m13.6 .6l-.4 2.9m16.9 -6.9l2.8 .9m23.2 1.7l.5 1.6m.7 .1l-.2 1.3m-4 -6.3l-.8 .8m-83.5 27.6l-2.2 0m-.4 1.7l-.2 .2m-2.9 -14.1l-.1 3m29.1 3.9l.3 .5m-3.6 -.5l.6 0m-4.6 6.3l.7 1.6m-.3 -1.2l1.1 1.6m8.2 -7.4l-1.5 .4m8.4 2.3l-1.5 .5m-2.3 -4.5l.5 0m21.1 9.3l-2.4 .5m6.6 -2.3l-1.4 1.4m11.6 -11.7l.8 1.6m5.8 -5.2l-.8 1.4m18.6 -.9l-1.8 0m-3.2 1.8l.1 0m-84.8 22.8l1.9 1.4m-3.7 -3.6l.4 .3m12.4 .2l-.2 .3m18.2 6.9l-.3 .7m22 -8.1l1 1.8m8.5 -1.7l-1.2 .3m-10.2 -2.8l-.4 2.2m26.3 -4.8l.7 2.4m-11.2 7.2l1.2 1.9m24.5 -5.9l.2 0m-92.3 8.7l-.9 2.5m5 3.5l1.7 1.6m0 -2.8l-.1 2.2m-4.5 -.9l-.8 2.7m1.8 5.7l-1.2 2.3m-.1 -2.3l-1.1 2.6m19.4 -12l-.1 .6m4.3 5l.6 .1m-3.9 -8.2l-1.7 1.2m27.2 -1.1l-2.3 1m0 11.1l.8 .4m-4.5 -8.9l-1.2 1.6m3.4 .2l.5 .1m-1 3.4l1.4 2.3m-3.3 -13.1l-2.6 .7m27.3 6.1l-.1 .1m1.6 5.6l-2 1m-2.1 -10.6l.9 .5m27.3 4.6l.9 .6m4.6 .8l-.4 .5m-82.9 21.4l-1.2 .8m-6.8 -3.9l-.2 .5m-6.6 -4l-.4 .5m17.2 4.4l0 .1m9.7 -9.4l2.8 .8m-.8 3l2.5 .2m-2.9 5.6l-.9 1.8m21.6 -13.1l2.6 .5m-6 7l-2.7 .3m-3.8 -1.8l.3 .2m2.7 3.7l-.1 .1m60.8 -10.2l-.1 3m-9.7 4.5l1.3 1.2m5.5 -6.8l-.6 .4m2.9 4.9l.1 .4m-.9 -3.8l.8 .4"/>
<path stroke="#7a542e" stroke-width="2.6" stroke-linecap="round" d="M247.9 271.2l-.4 1.4m32.4 -5.7l0 .3m11.5 6.5l1.4 1.2m-6.5 -5.9l-.7 .5m46.9 -6.3l1.7 2.1m7.1 .6l-.3 1.5m-90.9 23.2l.9 1m29 -7.3l-2.6 0m-1.2 6.6l-.4 .1m13.7 -3.4l.1 0m4.7 -3l-1.8 .8m-4.5 -3.6l-.1 .1m62.9 .7l-1.6 1.2m-88.3 21l-.8 2.4m-13.4 -12l-1.5 2.4m9.5 10l.6 .5m-3.9 -10.2l2.6 .8m21.9 -4.6l-.4 1.3m-12.7 4.1l.5 .8m31.6 1.4l1.2 1.6m5.4 4.9l2 .6m8.5 -3.1l-.4 1.9m14.8 -12.9l2 .2m-.2 4.5l-.2 1.1m23.5 -5.2l-1.6 .4m-89.2 24.4l-.1 1.1m-14.8 -8.2l1 1.4m5.3 11.7l0 .1m-4.5 -13.8l.5 1m27.1 5.2l-2.1 1.9m-8.7 .3l.1 .6m29.4 -11.3l-.2 1.2m-9 .2l-.6 1.1m27.2 6.2l2.4 .6m-2.9 1.5l2.6 .4m-2.5 1.3l-.4 .6m22.8 -.6l0 2.7m-7.2 .7l-1 2m9.6 -4.4l.9 1.2m4.1 -.1l-2.4 .3m-83.6 12.6l.1 0m20.6 -2.8l-.1 .1m1.5 2.7l1.8 .9m8.4 3.9l-.1 1.3m3.6 -10.9l2 1.8m-11.7 -6.3l2.6 1.3m28.7 12.4l-3 0m-.4 -12.6l-1.5 1.8m27.2 7l1.7 1.7m-18.1 -7.5l2.7 .2"/>
<path stroke="#7a542e" stroke-width="3.4" stroke-linecap="round" d="M280.2 268.5l.8 .4m-4.9 7l-1.6 1.9m11.8 -15.7l-1.3 2.2m10.8 2.8l.8 2.9m3.7 .9l-1.3 2.2m44.1 -6.7l-.5 .6m-3.5 -2.8l.4 1.9m-79.7 27.7l.5 0m-1.7 -12.2l.7 1.6m.1 -2l2.7 .3m2.8 -1l2.5 1.3m-3.1 1.4l-.5 .2m27.2 -2l2.3 1.4m1 -.6l-.7 2.9m-10 8.8l.7 .1m19.1 -10.7l-.1 .1m13.8 -.3l0 2.1m32.1 -3.4l0 1.2m-8.5 3.5l1.6 .3m-1.9 3.7l1.2 1.2m-89.5 14.2l-.5 2.3m6.8 -10.3l.8 0m-9.2 -3.3l1.1 .8m3.7 -1.4l1.3 .4m-3.8 1.8l1.1 .6m16.2 12.4l.7 .7m20.7 -10.4l1.3 1.6m-9.7 -4.3l-.6 0m33.9 -.7l-1 1.8m3 .8l1.4 .2m2 -3.3l1.3 .5m-.8 8.1l-1.1 .9m14.8 -10.9l1.1 .9m14 1.7l.1 0m-1.5 -1.5l-.1 1.5m-91.1 15.7l0 .8m-6.4 6l-.6 .8m19.1 5.3l2.6 1.2m-5.7 -11.5l1.9 1.8m.4 -1.4l-2.7 1.1m2.6 8.1l.3 .2m6.3 -10.1l-.4 1.2m.3 6.6l-1.6 .4m8.5 .9l-2.1 .9m2 -11.6l1.9 .7m6.8 12.5l.5 .3m-10.4 -11.3l.7 1.2m22 6.9l1.5 1m15.2 -8.4l2.4 1.6m6.2 -1.2l-1.1 .1m7.3 2.2l-1.1 .2m-74.8 16.3l1.2 .9m19 -6.7l1.6 .9m-6.5 1.1l.5 .2m12.4 4.7l1.4 .9m3.5 -3.8l-.7 2.7m1.4 3.7l-1.1 .1m-10.3 -7.8l.1 1.2m19.9 -5.9l-2 1.2m34.2 8.4l-.4 .4m-10.3 2.3l-1.7 .6m29.3 -11.9l.6 1.9"/>
<path stroke="#8e6236" stroke-width="3.4" stroke-linecap="round" d="M280.4 271.6l-.1 .5m-12.4 -1.8l-1.4 .8m69.2 -1.3l-2.9 .6m-13.1 -4.5l-2 1.1m-58.6 25.4l0 .4m-6.8 -1.6l-1.4 1.2m19 -4.4l1.3 .8m41.7 -2.5l-.9 2.4m.9 -.8l-.3 .1m9.7 -9.7l1.1 .2m24.4 2.1l.7 .7m-100.4 28.2l0 .2m12.4 -1.5l1.8 1.2m12 -12.8l-.6 .4m6.2 2.6l-.6 1.7m1.7 5l-1.6 1.1m6.7 -1.6l.8 .1m18.5 -6.8l-.5 .9m19.3 3.4l.5 .1m26.5 3.5l-1.1 2.7m-7 -6.3l-.2 2.6m4.3 -8.5l-.2 .7m-6 5.7l.3 .7m-3.1 .9l-1.6 1.8m-2 3.1l.3 0m-84.1 11.2l.2 2.4m29.5 -13.5l-.3 .3m-9.9 7.2l-1.2 2.5m-3 -9.6l-.1 1.5m6.7 10.8l.3 .2m28.2 -9.4l2.1 .4m9.1 3.4l.8 1.4m1.6 -1.6l.1 0m37 6.2l0 .1m-12.3 -13.2l-.5 1.7m-73.6 14.7l.6 1.1m-2 1.6l1.3 1.5m8.3 -3.5l.8 1.8m17.4 -2.9l1.7 1.6m-6.7 11l0 .5m15.7 -9.1l.8 1.4m2.4 3.5l-.1 .2m4.1 -1.2l2.2 .8m-4.9 -7.7l-1.3 1.6"/>
<path fill="none" stroke="#dfe4f2" stroke-opacity="0.5" stroke-width="0.8" d="M308.3 316.9l-5.3 .9m.9 -23.6l4 1.5m33.4 31.4l1.7 2.7m-46.5 -27.9l-5.2 1.8m-8.8 1.2l-4 8.6m17.7 -25l-1.9 5.4m35 -11.4l1.9 5.2m-47.3 48.7l4.4 5.2m-7.6 -12.7l-2.3 3.4m-31.1 -55.3l-2.8 2m16.3 .8l2.3 2.5m60.6 38.2l-9.2 1.6m-10.4 15.1l-3.5 .8m-9 -61.1l-7.4 3.5m2.2 -11.7l-6.5 6.4m29.2 66.6l3.2 .6m-54 -79.5l-3.2 7.3m2 4.3l-1.4 4m61.5 62.7l-5.5 .4m-20.1 -48.2l3.6 3.2m54.4 46.7l6.8 4.2m-92.1 -73.8l-3.7 4m-9.3 27.2l7.7 .8m33.2 20.7l1.1 6.9m46.3 -22.6l1.7 5.1m4.9 16.3l-1.8 9.2m-84.1 -65.7l-3.2 4.7m-11.6 47.1l-.4 8.5m.5 -8.9l-3 5.1m63.5 -10.8l-5.8 .7m47.2 15.8l4 6.1m-66.1 -60.6l-7.4 5.7m51.6 39.9l-5.5 8.3m-44.9 -13.5l-1.7 4.5m-15.5 3.7l4.2 4.9m77.8 -68.8l-6.9 6.6m-76.1 49.4l-6.7 2m53.6 -29.6l9.2 2.6m11.3 -29.4l4.6 1.7m5.5 26.3l5.6 5.8m-20.7 11.3l.1 3.7m-1.1 -39.6l4.9 5.8m-42.5 52.5l-9.6 .1m15.6 -28.9l-6.3 6m9.5 18.1l-5.7 .9m7.4 -62.4l7.4 3.6m14.8 -9l-1.3 9.8m7.8 -3.4l2.8 6.9m-55.5 49.6l.2 3.2m-17.6 -.2l9.2 1m31.3 -32.6l-5.3 6m-7.7 32.3l3.9 1.8m46.7 -68.9l0 4.3m-51.3 -.7l.8 9.5m47.4 -2.3l7.2 6m5.8 23.9l-7.4 6.5m-22.2 -13.1l1.6 8.8m-58.7 22.7l-4.7 7.3m74 -63.6l-5.3 3.3m28.6 53.8l-2.3 3.5m-41.4 -46.3l3.8 1.7m-12.8 5.5l2 4.5m6.9 17.7l6.2 3.5m29.5 -36l-9.7 .6m-70.3 17.1l3.5 9.1m40.1 -31.3l2.6 1.9m-48 -4.3l-1.5 7.3m89.9 25.8l-5.5 .9m-28.2 -12.6l-4.6 7.8m-24.7 -2.7l-5.1 .5m-7.4 29.9l3.4 .1m29.8 -63.5l6.1 2.4m24.3 35.9l-7.6 1.8m24.3 -1.1l8 0m-109.2 -20.8l5.4 8.1m50.3 -42.6l-5.6 1.8m7.9 65.6l2.5 1.8m-46.6 -1.2l-3.6 .8m13.1 3.2l3.5 5.6m71.5 -44.8l7.7 1.7m-22.3 45.8l-2.6 2.7m-57.5 -71.5l-2.7 4.8m76 65.1l-3.8 9.2m-28.4 -78l-1.3 8m-30.3 53l4.3 2.1m-25.8 -64.1l-5.8 4.2m6 25l-1.3 6.9m28.4 -3.5l3.1 .6m-2 -25.9l6 5.7m37 -5.4l.3 3.6"/>
<path stroke="#dde2f0" stroke-opacity="0.55" stroke-width="3.4" stroke-linecap="round" d="M286.8 288.3l-.5 .9m6.3 12.8l1.9 1.2m-39.1 31.2l-1.2 2.2m-.8 -68.6l-2 .1m56.8 72.7l-2.2 1.7m31 -29.8l1.6 1.8m-38.2 27.3l-.1 .6m-1.7 -37.3l-1.4 2.6m-21.9 22.9l-3.2 .5m-25.9 -42.4l3.2 .2m75.3 40.5l.4 .6m-21.9 -23.1l2.2 1.3m-10.8 -1.5l-.1 3.5m26.8 10.6l.2 .7m-43.5 -15.7l-.4 .5m65.9 -12.7l2.5 .8m2.9 -10.1l.4 1.1m-36.8 8.5l-.2 1.9m21.3 38.4l.1 1.4m-54.8 -.3l-2.5 .4m-16.6 -4.1l-.6 .9m29.1 -56.8l-.4 .4m-24.1 44.6l-.4 1.4m25.6 18.9l3.2 .9m27.9 -40l-.5 1.8m-12 -12.9l1.9 1m15.5 -3.8l1.7 2.5m-76.2 38.5l-2.1 1.2m61.8 -5l-1.1 .7m12.1 15.4l.9 2m-18.8 -26.4l-1.7 .4m-53.3 6.5l-2.7 1.8m18 -46l.6 1.2m33.3 58.7l1 .5m-35.9 -46.9l.2 1.7m37.3 14.9l-1 3.2m-15.5 -28.4l-3.2 .2m-10.3 -3.1l-.8 .8m-9.7 18.9l.5 3.1m12.1 20.4l1.3 .3m-15.9 -37.6l-1 .2m66.7 -11.3l.7 3.4m-44.1 51.1l1.4 .9m3.4 -.1l.3 .9m-24.3 -21.4l-2.2 1m69.6 -14.6l2.5 2.1m4 32.9l.7 .6m-8.8 -50.1l-1 1.9m-67.4 -22.8l.1 .4m33.4 44.8l-1.4 1.7m8.6 -29.5l-1.1 .7m6.1 46.3l.4 3.1m-38.2 -43.6l1.2 .4m32.3 -10.6l.7 1.7m-46.2 63.8l1 .8m9.3 -64.3l-1.5 .4m36.2 29.5l-.8 1m11.8 -30.8l-1.7 .6m-40.4 .3l1.9 2.1m39.9 -11.9l-.5 .4m39.9 1l1.6 .6m-56.7 -1.1l-2.6 1.2m-12.9 .4l1.5 .9m67.7 6.1l.4 1.3m-39 49.2l-1.8 .1m31.1 -47l1.4 .1m-46.4 -3.4l-.3 3.2m10.7 25.6l-2.4 1.5m14 23.1l-.9 .5m18.9 -29.7l1.2 1m-23.5 -8.6l1 .5m-20.2 -6.1l2.1 1.2m-.9 20.3l2.2 2.6m-4.2 22.7l.6 2.5m-15.9 -75.2l-.4 .5m24.9 44.1l-1.1 2m49.6 -34.6l1.4 .3m-6.7 -14l-.7 0m-41.5 10.5l0 1.8m-38.7 14.9l1.8 .4m14.9 .2l-1.5 2.6m70 1.1l-.7 2.7m3.2 -25.4l-.7 1.1m-76.8 9.7l-.6 .8m-5.9 22.1l.3 2.5m33 35.3l.7 .2m-36.5 -67.1l-2 2.4m43 33.8l-.7 2m-15.3 -7.1l.5 .5m-30 -18l-2 .5m76.6 15.9l-.9 .6m-80.4 -23.6l-2.2 .1m80.5 16.7l-1.1 .8m-80.8 -37.6l-1.1 2.7m83.3 4.8l-2.3 2.6m-35 69.2l-.5 1.2m50.5 -17.2l-2.5 2.3m-52.2 8.7l2.5 .9m-18.2 -21.7l.1 .4m33.2 -19.5l-2.7 1.8m45.9 -2.1l-.1 .7m-95.5 1.1l.5 .8m42.1 10.5l-.2 1.5m46.2 -14.3l-.5 .4m-65.7 21.3l1.2 2.6m26.6 -10.7l-.6 .4m-8.7 -46.5l2.9 .5m49.2 59.7l-.1 1.1m-4.5 -32.2l-.5 .9m-73.3 -9.2l.4 2.1m22.6 -7.7l1.6 .9m53.4 53.7l-1 2m-63.5 -69.1l2.7 .4m-7.6 53.2l-.4 .6m54.3 -36.4l-1.2 2.2m-78.4 -25.7l-2.6 .6m55.3 43.7l-.9 1.1m46.7 31.3l.2 .2m-5.8 -24.9l.5 .4m-24.8 -41.5l-.7 .4m-6.1 65l-1.7 .2m23.6 -63.9l.2 .2m-12.7 27l2.3 .6m-48.6 -.7l.5 .3m24.1 6.2l1.8 2.6m27.5 -40.1l-1.2 .8m-73.8 47.9l-.3 1m47 11.6l-.5 1.2m-3.9 -63.9l-1.6 .6m32.4 -1.3l1.2 1.1m-75.8 28l-2.2 2.3m45.6 -6.1l.4 1.9m10.7 -26.4l3.1 .3m22.6 7.1l-.5 .2m-39.9 1.5l1.1 .1m54 17.7l-.4 .3m-55.9 -8.9l.5 .7m21.9 -17.8l-.1 .4m-42.4 40.6l3.4 .5m62.6 -41.7l.2 .4m-35.5 53.6l-2.7 1.3m-11.5 -18.2l-.6 0m-44.3 -40.8l1.6 1.1m64.7 60.4l-.4 0m20.5 -57.1l-1.4 .6m-52.4 -.5l2.9 .8m-28.1 66.1l.4 .1m94.8 -15.4l2 1.9m-76.6 -11.8l-.8 2.2m76.1 -42.9l-.5 .6m-95.6 -4.4l-2.8 .3"/>
<path stroke="#dde2f0" stroke-opacity="0.55" stroke-width="4.1" stroke-linecap="round" d="M252.5 325.1l1 .5m11.4 -22.3l2.4 1m-3.2 -43.7l1.2 1.5m43.7 44.9l1.2 .3m-7.4 -35.7l2.5 .9m-39.6 -3.3l-.8 .3m74.1 7.5l-.5 1.5m-4.3 53.6l.4 3.1m-49.4 -66.2l-.8 .8m62.8 3.5l-.2 .8m-79.3 64.5l1 0m-12.2 -14.9l-2 1.2m-3.4 -30.2l2.1 1.7m-5.9 .2l-1.8 2.2m32.6 24.8l-1.1 .4m-29.4 5.4l0 1.2m80.8 -10.6l-.6 1.5m-23.7 -22.3l2.3 2.2m-46.9 -22.6l-1.8 .4m52.6 -17.7l-.5 1.6m17.6 11.1l1.6 1.3m-67.9 65.9l-.3 1.1m7.7 -68l-2.6 2.3m33.6 -3.9l-.3 2.4m20.9 51.1l1.2 .6m3.8 5.6l-.2 2.6m-44.1 -26.7l-1.1 1.1m35.5 -41l-.3 .4m31.7 2.3l-1.6 .2m-55.5 18.8l0 .8m6.4 40.6l-1.1 1.6m-17.3 -46.3l2.3 1.6m6.5 28.2l-.5 .8m26.9 -.2l1 1.8m-12.5 -13.1l-.9 .8m15.5 -9.3l1 .6m-69.9 36.2l-.5 .3m22.2 -56.5l.8 1.6m60.4 36.5l-.9 1.5m-57.2 -49.7l.9 0m-4.4 -4.2l-1.6 .3m-14.7 27.2l3.4 .1m58.9 38.6l-2.7 1.1m-25.6 -29.4l3 1.1m-11.4 37.9l-.6 .1m47.2 -27.3l.7 2.3m22.2 -36.8l-.3 .1m-98.9 49.8l.1 3m63.8 -61.8l1 1m31.1 67.1l.1 .5m-44.8 3.6l.6 .9m7 -42.9l-2.9 .1m25.5 -22.6l0 .4m-57 22.9l3.3 0m13.2 -29.2l-.7 .6m-9.9 -1.5l.8 .3m57.1 8.9l-2.7 1.1m-12.9 10l-2.3 .6m-65.9 11.6l-2.5 2m23.6 1.4l-.1 .5m-21.9 -27l2.9 .8m-2.4 4.6l.1 .9m47.4 36.5l2.7 2.1m18.2 8.7l.2 .4m-30.9 4.5l1.1 3.2m-37.8 -9l1 .5m4.9 -67.5l-.4 .6m24.6 51.2l-1.4 .8m7.1 0l-1.2 1.4m44.4 -41l-1.2 1.4m-34.9 10.7l3.1 .4m41.6 39.1l1.1 .6m-60.8 -35.9l1 0m.8 -25.2l-.4 1.5m-23.9 50.3l-2 1.6m77.1 12l1 .1m-18.7 -74.3l-.2 2.6m-54.4 39.5l.5 .6m80.9 -30.1l.4 1m-6.4 31.4l-.9 2.7m-60.5 -4.3l-1.3 .8m59.8 -40.5l-2.6 1m-35 -5.7l-.7 1m-14.8 6.5l2.7 1.8m63.7 14.5l-2.4 .7m-52.2 -6.3l-.2 .6m-3.2 44.4l-3 .2m42.8 10.4l-1.3 2.6m11.3 -49.4l.3 .1m-51.2 12.9l-.3 .2m20.2 -31l.1 1.3m7.3 5.8l-.9 .3m19.8 23.3l-2.2 1.1m-18.9 9.9l-1 1.8m23.2 19.1l-.4 .4m-59.3 -56.3l-1.1 1.8m-3.3 16l2.4 1.6m20.8 22.2l2.3 .7m52.3 -19.2l.7 1.9m-88.8 39l.5 .9m48.4 -12.9l-1.6 1.9m-38.9 -48.2l-.4 2.6m-7.6 15.8l.1 .3m38.2 -31.4l.5 1.6m24.4 -1.2l-.7 1.2m-4.6 45.2l-1.7 1.2m22.2 25.3l-2.2 .2m-57.9 -15.5l-1 .6m-10.2 4.4l1.1 .4m-13 -36.9l-.7 2.2m66.7 -7.8l-.1 3.2m26.9 40l2.3 2.4m-42.7 .3l1.1 1.8m-28 -25.6l-.7 1.4m46.6 -48.9l-1.8 2.9m-35.4 -.5l.8 1.7m30 -5.3l.1 1.4m9.2 33l1.7 2.4m-73.6 -4.5l.4 .4m24.4 -3.5l.7 .9m8.6 26.6l.2 1.1m-39.6 -9l0 .9m49.9 -2.7l-3 .8m-5.5 -12.4l1.5 .5m5.1 40.2l2 .5m-10.6 -12.7l0 1.9m43.5 -7.3l-3.4 .9m-40.3 -45.7l2.9 1.2m55.3 63.2l.6 1.4m-36.6 -48.3l.8 2m-52.2 12.6l.7 1.9m26.8 -2.2l3 .4m10.4 5.2l-2 .9m-27.6 25.3l2.1 .2m-31 -77.5l.5 .8m97.7 -2.2l2.8 .5m-83.5 66.4l-1.6 2.5m18.1 -65.1l.4 .6m26.2 3.4l1.7 .8m-16.5 -9.8l-1.5 2.1m16.3 69.8l1 2.1m15.2 -72.2l1.7 1.3m-41.4 7.2l1.8 1.6m-14.1 31l0 1.4m-5 5.9l.1 2m64.8 -42.1l1.1 .3m-16.5 36.6l.5 2.1m-69.9 9l-.9 .1m50 7.8l-.8 1m31.8 -22.1l1.6 .7m-74 .4l-.5 .9m86.5 -28.5l-2.7 .1m-56 39.9l-.6 .5m49.2 -33.6l-1.5 1.1"/>
<path stroke="#dde2f0" stroke-opacity="0.55" stroke-width="4.8" stroke-linecap="round" d="M306.9 301.6l2.1 1.1m41.9 21l-1.7 0m-71 9.2l.3 .1m55.9 -42.3l2.1 1m-85.5 27.1l-1.2 .3m70.5 -46.3l-2.4 1.7m-48.4 6l-1.2 1.1m-14.3 -18.5l1 .3m-.7 70.9l.5 .9m-4.3 -2.6l-1.1 1.9m11.7 -15l-.4 .3m2.5 -39.3l.8 3m33.7 2l1.6 .4m28.1 30.5l-.7 1.2m-13.1 7.3l1.9 1m-19.5 8.5l-.4 .6m-48.6 -53.7l0 .9m39.1 23.9l.4 1m32.9 -21.3l-2.7 .7m-52.4 8.1l1 .7m82.4 27l-.2 .4m-45.4 8.6l-1.6 .9m8.5 10.1l-3.2 .4m0 -48.2l1.5 .4m24.4 -13.4l-1.8 2.5m16.6 10.1l1.8 .4m-48.8 -20l.7 .7m-25.9 48.6l.7 1.6m-26.3 -3.3l-1.7 2.3m22.1 -30.5l-.1 3.3m-2.4 42.2l-2.8 .1m-9.3 -20.2l2.3 .7m71.3 -10.9l-2.1 1.5m-57.8 -32.4l-1.4 .2m81.4 51.1l.8 1.3m-3.7 -24.2l-1.4 2.5m-50.5 -3l1.9 1m27 18.4l-1.3 .7m-36.9 -55.3l2.5 .7m29 14.5l.4 .6m-12 23.6l-3.2 .1m1 -35.3l-.2 .6m-5.9 56.9l2.4 1.9m33.4 -29.8l-.3 .1m-45.3 38.1l-1.8 .5m25.5 -54.2l.2 1m-28.8 22.7l-2.8 1.4m-21.3 24.8l-2.8 2.1m41.9 -41.3l-.7 .3m-1.3 -30.4l-2.6 1.6m5.8 24.4l.7 .9m-31.9 -29l.5 1.1m-11.2 43.7l-3.3 .3m17.1 -23.4l-3.1 .7m51.5 17.7l.2 3m-54.1 3.1l2.5 .3m-16.3 -47.5l-1.7 2.1m30.6 1.1l.8 .3m-2.9 53.5l.3 .4m48.6 -5.1l-1 2.6m-47.7 11.2l-1.8 .2m-15.9 -42.1l1.4 .5m13.5 -28.1l1.2 .2m-20.5 -1.4l0 .7m2.4 46l.3 2.6m31.5 -30.3l2.4 1m59.1 22.3l-1 .1m-62.3 20.7l1.2 .4m-1.5 -17.3l-1.7 .4m11.2 -2.8l-.4 1.6m-46.1 20.2l-1.2 .3m99.6 -31.7l-1.6 2.4m-37.1 -13.9l-.9 2m-45.7 4.1l-1.6 1.7m76.5 -20.4l-.2 2.3m-24.1 9.4l1 1.1m-57.6 7.2l.9 .5m40.2 2.7l2.2 .3m-28.3 40.7l-.3 2m51.4 -6.8l.5 1.2m-73.6 7l-2.9 1.3m75.3 -64.2l-.8 2.3m-58.9 57.3l.2 .5m71.9 -21.9l-.6 2.9m-20.3 -36.9l2.8 .8m-35.7 -10.4l.5 .1m20.3 1l-.9 .5m-11.6 2.6l-2.7 2.1m23.4 -7.8l-1.3 1.2m34.7 45.7l.8 .3m-90.1 -30l-1 1.2m16.8 39l1 .9m43.5 -31.2l-2 1.1m-44.3 29.9l-.6 1.8m80.4 .5l-1.3 2m-.4 -43.9l-1.4 1.2m-66.7 -7.3l1.1 1.4m3 30.4l0 3.5m-27.4 -31.6l-1.3 .4m85.7 22.4l-2.5 1.4m3.3 -39.9l-.6 1.2m-44.7 -10l1.1 1m-31.8 51.4l-.7 .5m16.3 1.5l-2.7 2.1m67.3 9.4l.7 1m-9.8 -55.2l.4 2m17.4 9.1l-1.9 2.6m-2.4 -.6l1 2.4m-32.3 -4.6l1.1 1.3m-39.5 20.7l2.3 .6m50.9 -35.3l-2 1.3m-83.7 9.1l.6 .6m100.6 10.1l.6 1.5m-32.1 43.5l.2 1.7m-24.3 -64l1.6 2.3m22.9 30.4l-.8 .2m-63.2 24.1l3.1 .3m63.3 -19.9l1 .8m-25.2 .8l-.5 .3m28.2 -12.3l1.7 2.9m-65.1 29.8l-.1 2.9m75.8 -12.7l-2.2 1.7m-20.9 4.8l1.2 1.6m-29.7 .1l2.1 .9m8 -30.4l-.8 3.2m-19.9 -16l-.1 .5m-7.2 7.4l-.2 .6m45.9 17.7l-1.2 1.1m-58.6 -32.9l.6 .8m64 22.6l1.5 0m-10.7 33.3l-2.6 2.3m43.8 -47.3l1.9 .3m-90.6 30.6l-.7 3"/>
<path stroke="#24489c" stroke-width="1.8" stroke-linecap="round" d="M286.8 288.3l-.5 .9m6.3 12.8l1.9 1.2m-39.1 31.2l-1.2 2.2m-.8 -68.6l-2 .1m56.8 72.7l-2.2 1.7m31 -29.8l1.6 1.8m-38.2 27.3l-.1 .6m-1.7 -37.3l-1.4 2.6m-21.9 22.9l-3.2 .5m-25.9 -42.4l3.2 .2m75.3 40.5l.4 .6m-21.9 -23.1l2.2 1.3m-10.8 -1.5l-.1 3.5m26.8 10.6l.2 .7m-43.5 -15.7l-.4 .5m65.9 -12.7l2.5 .8m2.9 -10.1l.4 1.1m-36.8 8.5l-.2 1.9m21.3 38.4l.1 1.4m-54.8 -.3l-2.5 .4m-16.6 -4.1l-.6 .9m29.1 -56.8l-.4 .4m-24.1 44.6l-.4 1.4m25.6 18.9l3.2 .9m27.9 -40l-.5 1.8m-12 -12.9l1.9 1m15.5 -3.8l1.7 2.5m-76.2 38.5l-2.1 1.2m61.8 -5l-1.1 .7m12.1 15.4l.9 2m-18.8 -26.4l-1.7 .4m-53.3 6.5l-2.7 1.8m18 -46l.6 1.2m33.3 58.7l1 .5m-35.9 -46.9l.2 1.7m37.3 14.9l-1 3.2m-15.5 -28.4l-3.2 .2m-10.3 -3.1l-.8 .8m-9.7 18.9l.5 3.1"/>
<path stroke="#1a3478" stroke-width="1.8" stroke-linecap="round" d="M272.2 324.8l1.3 .3m-15.9 -37.6l-1 .2m66.7 -11.3l.7 3.4m-44.1 51.1l1.4 .9m3.4 -.1l.3 .9m-24.3 -21.4l-2.2 1m69.6 -14.6l2.5 2.1m4 32.9l.7 .6m-8.8 -50.1l-1 1.9m-67.4 -22.8l.1 .4m33.4 44.8l-1.4 1.7m8.6 -29.5l-1.1 .7m6.1 46.3l.4 3.1m-38.2 -43.6l1.2 .4m32.3 -10.6l.7 1.7m-46.2 63.8l1 .8m9.3 -64.3l-1.5 .4m36.2 29.5l-.8 1m11.8 -30.8l-1.7 .6m-40.4 .3l1.9 2.1m39.9 -11.9l-.5 .4m39.9 1l1.6 .6m-56.7 -1.1l-2.6 1.2m-12.9 .4l1.5 .9m67.7 6.1l.4 1.3m-39 49.2l-1.8 .1m31.1 -47l1.4 .1m-46.4 -3.4l-.3 3.2m10.7 25.6l-2.4 1.5m14 23.1l-.9 .5m18.9 -29.7l1.2 1m-23.5 -8.6l1 .5m-20.2 -6.1l2.1 1.2m-.9 20.3l2.2 2.6"/>
<path stroke="#1a3478" stroke-width="2.5" stroke-linecap="round" d="M252.5 325.1l1 .5m11.4 -22.3l2.4 1m-3.2 -43.7l1.2 1.5m43.7 44.9l1.2 .3m-7.4 -35.7l2.5 .9m-39.6 -3.3l-.8 .3m74.1 7.5l-.5 1.5m-4.3 53.6l.4 3.1m-49.4 -66.2l-.8 .8m62.8 3.5l-.2 .8m-79.3 64.5l1 0m-12.2 -14.9l-2 1.2m-3.4 -30.2l2.1 1.7m-5.9 .2l-1.8 2.2m32.6 24.8l-1.1 .4m-29.4 5.4l0 1.2m80.8 -10.6l-.6 1.5m-23.7 -22.3l2.3 2.2m-46.9 -22.6l-1.8 .4m52.6 -17.7l-.5 1.6m17.6 11.1l1.6 1.3m-67.9 65.9l-.3 1.1m7.7 -68l-2.6 2.3m33.6 -3.9l-.3 2.4m20.9 51.1l1.2 .6m3.8 5.6l-.2 2.6m-44.1 -26.7l-1.1 1.1m35.5 -41l-.3 .4m31.7 2.3l-1.6 .2m-55.5 18.8l0 .8m6.4 40.6l-1.1 1.6m-17.3 -46.3l2.3 1.6"/>
<path stroke="#3a64b4" stroke-width="1.8" stroke-linecap="round" d="M291.1 336.7l.6 2.5m-15.9 -75.2l-.4 .5m24.9 44.1l-1.1 2m49.6 -34.6l1.4 .3m-6.7 -14l-.7 0m-41.5 10.5l0 1.8m-38.7 14.9l1.8 .4m14.9 .2l-1.5 2.6m70 1.1l-.7 2.7m3.2 -25.4l-.7 1.1m-76.8 9.7l-.6 .8m-5.9 22.1l.3 2.5m33 35.3l.7 .2m-36.5 -67.1l-2 2.4m43 33.8l-.7 2m-15.3 -7.1l.5 .5m-30 -18l-2 .5m76.6 15.9l-.9 .6m-80.4 -23.6l-2.2 .1m80.5 16.7l-1.1 .8m-80.8 -37.6l-1.1 2.7m83.3 4.8l-2.3 2.6m-35 69.2l-.5 1.2m50.5 -17.2l-2.5 2.3m-52.2 8.7l2.5 .9"/>
<path stroke="#24489c" stroke-width="3.2" stroke-linecap="round" d="M306.9 301.6l2.1 1.1m41.9 21l-1.7 0m-71 9.2l.3 .1m55.9 -42.3l2.1 1m-85.5 27.1l-1.2 .3m70.5 -46.3l-2.4 1.7m-48.4 6l-1.2 1.1m-14.3 -18.5l1 .3m-.7 70.9l.5 .9m-4.3 -2.6l-1.1 1.9m11.7 -15l-.4 .3m2.5 -39.3l.8 3m33.7 2l1.6 .4m28.1 30.5l-.7 1.2m-13.1 7.3l1.9 1m-19.5 8.5l-.4 .6m-48.6 -53.7l0 .9m39.1 23.9l.4 1m32.9 -21.3l-2.7 .7m-52.4 8.1l1 .7m82.4 27l-.2 .4m-45.4 8.6l-1.6 .9m8.5 10.1l-3.2 .4m0 -48.2l1.5 .4m24.4 -13.4l-1.8 2.5m16.6 10.1l1.8 .4"/>
<path stroke="#4a74bc" stroke-width="3.2" stroke-linecap="round" d="M299.5 274.5l.7 .7m-25.9 48.6l.7 1.6m-26.3 -3.3l-1.7 2.3m22.1 -30.5l-.1 3.3m-2.4 42.2l-2.8 .1m-9.3 -20.2l2.3 .7m71.3 -10.9l-2.1 1.5m-57.8 -32.4l-1.4 .2m81.4 51.1l.8 1.3m-3.7 -24.2l-1.4 2.5m-50.5 -3l1.9 1m27 18.4l-1.3 .7m-36.9 -55.3l2.5 .7m29 14.5l.4 .6m-12 23.6l-3.2 .1m1 -35.3l-.2 .6m-5.9 56.9l2.4 1.9m33.4 -29.8l-.3 .1m-45.3 38.1l-1.8 .5m25.5 -54.2l.2 1m-28.8 22.7l-2.8 1.4m-21.3 24.8l-2.8 2.1m41.9 -41.3l-.7 .3m-1.3 -30.4l-2.6 1.6m5.8 24.4l.7 .9"/>
<path stroke="#3a64b4" stroke-width="3.2" stroke-linecap="round" d="M266 267.7l.5 1.1m-11.2 43.7l-3.3 .3m17.1 -23.4l-3.1 .7m51.5 17.7l.2 3m-54.1 3.1l2.5 .3m-16.3 -47.5l-1.7 2.1m30.6 1.1l.8 .3m-2.9 53.5l.3 .4m48.6 -5.1l-1 2.6m-47.7 11.2l-1.8 .2m-15.9 -42.1l1.4 .5m13.5 -28.1l1.2 .2m-20.5 -1.4l0 .7m2.4 46l.3 2.6m31.5 -30.3l2.4 1m59.1 22.3l-1 .1m-62.3 20.7l1.2 .4m-1.5 -17.3l-1.7 .4m11.2 -2.8l-.4 1.6m-46.1 20.2l-1.2 .3m99.6 -31.7l-1.6 2.4m-37.1 -13.9l-.9 2m-45.7 4.1l-1.6 1.7m76.5 -20.4l-.2 2.3m-24.1 9.4l1 1.1"/>
<path stroke="#4a74bc" stroke-width="1.8" stroke-linecap="round" d="M273.5 316.2l.1 .4m33.2 -19.5l-2.7 1.8m45.9 -2.1l-.1 .7m-95.5 1.1l.5 .8m42.1 10.5l-.2 1.5m46.2 -14.3l-.5 .4m-65.7 21.3l1.2 2.6m26.6 -10.7l-.6 .4m-8.7 -46.5l2.9 .5m49.2 59.7l-.1 1.1m-4.5 -32.2l-.5 .9m-73.3 -9.2l.4 2.1m22.6 -7.7l1.6 .9m53.4 53.7l-1 2m-63.5 -69.1l2.7 .4m-7.6 53.2l-.4 .6m54.3 -36.4l-1.2 2.2m-78.4 -25.7l-2.6 .6m55.3 43.7l-.9 1.1m46.7 31.3l.2 .2m-5.8 -24.9l.5 .4m-24.8 -41.5l-.7 .4m-6.1 65l-1.7 .2m23.6 -63.9l.2 .2m-12.7 27l2.3 .6m-48.6 -.7l.5 .3m24.1 6.2l1.8 2.6m27.5 -40.1l-1.2 .8"/>
<path stroke="#4a74bc" stroke-width="2.5" stroke-linecap="round" d="M286.3 316.8l-.5 .8m26.9 -.2l1 1.8m-12.5 -13.1l-.9 .8m15.5 -9.3l1 .6m-69.9 36.2l-.5 .3m22.2 -56.5l.8 1.6m60.4 36.5l-.9 1.5m-57.2 -49.7l.9 0m-4.4 -4.2l-1.6 .3m-14.7 27.2l3.4 .1m58.9 38.6l-2.7 1.1m-25.6 -29.4l3 1.1m-11.4 37.9l-.6 .1m47.2 -27.3l.7 2.3m22.2 -36.8l-.3 .1m-98.9 49.8l.1 3m63.8 -61.8l1 1m31.1 67.1l.1 .5m-44.8 3.6l.6 .9m7 -42.9l-2.9 .1m25.5 -22.6l0 .4m-57 22.9l3.3 0m13.2 -29.2l-.7 .6m-9.9 -1.5l.8 .3m57.1 8.9l-2.7 1.1m-12.9 10l-2.3 .6m-65.9 11.6l-2.5 2m23.6 1.4l-.1 .5m-21.9 -27l2.9 .8m-2.4 4.6l.1 .9m47.4 36.5l2.7 2.1m18.2 8.7l.2 .4m-30.9 4.5l1.1 3.2m-37.8 -9l1 .5"/>
<path stroke="#3a64b4" stroke-width="2.5" stroke-linecap="round" d="M258.8 266.2l-.4 .6m24.6 51.2l-1.4 .8m7.1 0l-1.2 1.4m44.4 -41l-1.2 1.4m-34.9 10.7l3.1 .4m41.6 39.1l1.1 .6m-60.8 -35.9l1 0m.8 -25.2l-.4 1.5m-23.9 50.3l-2 1.6m77.1 12l1 .1m-18.7 -74.3l-.2 2.6m-54.4 39.5l.5 .6m80.9 -30.1l.4 1m-6.4 31.4l-.9 2.7m-60.5 -4.3l-1.3 .8m59.8 -40.5l-2.6 1m-35 -5.7l-.7 1m-14.8 6.5l2.7 1.8m63.7 14.5l-2.4 .7m-52.2 -6.3l-.2 .6m-3.2 44.4l-3 .2m42.8 10.4l-1.3 2.6m11.3 -49.4l.3 .1m-51.2 12.9l-.3 .2m20.2 -31l.1 1.3m7.3 5.8l-.9 .3m19.8 23.3l-2.2 1.1m-18.9 9.9l-1 1.8m23.2 19.1l-.4 .4m-59.3 -56.3l-1.1 1.8m-3.3 16l2.4 1.6m20.8 22.2l2.3 .7m52.3 -19.2l.7 1.9m-88.8 39l.5 .9m48.4 -12.9l-1.6 1.9m-38.9 -48.2l-.4 2.6m-7.6 15.8l.1 .3"/>
<path stroke="#1a3478" stroke-width="3.2" stroke-linecap="round" d="M256.9 292.2l.9 .5m40.2 2.7l2.2 .3m-28.3 40.7l-.3 2m51.4 -6.8l.5 1.2m-73.6 7l-2.9 1.3m75.3 -64.2l-.8 2.3m-58.9 57.3l.2 .5m71.9 -21.9l-.6 2.9m-20.3 -36.9l2.8 .8m-35.7 -10.4l.5 .1m20.3 1l-.9 .5m-11.6 2.6l-2.7 2.1m23.4 -7.8l-1.3 1.2m34.7 45.7l.8 .3m-90.1 -30l-1 1.2m16.8 39l1 .9m43.5 -31.2l-2 1.1m-44.3 29.9l-.6 1.8m80.4 .5l-1.3 2m-.4 -43.9l-1.4 1.2m-66.7 -7.3l1.1 1.4m3 30.4l0 3.5"/>
<path stroke="#5a78a8" stroke-width="3.2" stroke-linecap="round" d="M254.7 286.1l-1.3 .4m85.7 22.4l-2.5 1.4m3.3 -39.9l-.6 1.2m-44.7 -10l1.1 1m-31.8 51.4l-.7 .5m16.3 1.5l-2.7 2.1m67.3 9.4l.7 1m-9.8 -55.2l.4 2m17.4 9.1l-1.9 2.6m-2.4 -.6l1 2.4m-32.3 -4.6l1.1 1.3m-39.5 20.7l2.3 .6m50.9 -35.3l-2 1.3m-83.7 9.1l.6 .6m100.6 10.1l.6 1.5m-32.1 43.5l.2 1.7m-24.3 -64l1.6 2.3m22.9 30.4l-.8 .2m-63.2 24.1l3.1 .3m63.3 -19.9l1 .8m-25.2 .8l-.5 .3m28.2 -12.3l1.7 2.9m-65.1 29.8l-.1 2.9m75.8 -12.7l-2.2 1.7m-20.9 4.8l1.2 1.6m-29.7 .1l2.1 .9m8 -30.4l-.8 3.2m-19.9 -16l-.1 .5m-7.2 7.4l-.2 .6m45.9 17.7l-1.2 1.1m-58.6 -32.9l.6 .8m64 22.6l1.5 0m-10.7 33.3l-2.6 2.3m43.8 -47.3l1.9 .3m-90.6 30.6l-.7 3"/>
<path stroke="#5a78a8" stroke-width="2.5" stroke-linecap="round" d="M299.4 269.4l.5 1.6m24.4 -1.2l-.7 1.2m-4.6 45.2l-1.7 1.2m22.2 25.3l-2.2 .2m-57.9 -15.5l-1 .6m-10.2 4.4l1.1 .4m-13 -36.9l-.7 2.2m66.7 -7.8l-.1 3.2m26.9 40l2.3 2.4m-42.7 .3l1.1 1.8m-28 -25.6l-.7 1.4m46.6 -48.9l-1.8 2.9m-35.4 -.5l.8 1.7m30 -5.3l.1 1.4m9.2 33l1.7 2.4m-73.6 -4.5l.4 .4m24.4 -3.5l.7 .9m8.6 26.6l.2 1.1m-39.6 -9l0 .9m49.9 -2.7l-3 .8m-5.5 -12.4l1.5 .5m5.1 40.2l2 .5m-10.6 -12.7l0 1.9m43.5 -7.3l-3.4 .9m-40.3 -45.7l2.9 1.2"/>
<path stroke="#24489c" stroke-width="2.5" stroke-linecap="round" d="M350.8 341.8l.6 1.4m-36.6 -48.3l.8 2m-52.2 12.6l.7 1.9m26.8 -2.2l3 .4m10.4 5.2l-2 .9m-27.6 25.3l2.1 .2m-31 -77.5l.5 .8m97.7 -2.2l2.8 .5m-83.5 66.4l-1.6 2.5m18.1 -65.1l.4 .6m26.2 3.4l1.7 .8m-16.5 -9.8l-1.5 2.1m16.3 69.8l1 2.1m15.2 -72.2l1.7 1.3m-41.4 7.2l1.8 1.6m-14.1 31l0 1.4m-5 5.9l.1 2m64.8 -42.1l1.1 .3m-16.5 36.6l.5 2.1m-69.9 9l-.9 .1m50 7.8l-.8 1m31.8 -22.1l1.6 .7m-74 .4l-.5 .9m86.5 -28.5l-2.7 .1m-56 39.9l-.6 .5m49.2 -33.6l-1.5 1.1"/>
<path stroke="#5a78a8" stroke-width="1.8" stroke-linecap="round" d="M255.7 319l-.3 1m47 11.6l-.5 1.2m-3.9 -63.9l-1.6 .6m32.4 -1.3l1.2 1.1m-75.8 28l-2.2 2.3m45.6 -6.1l.4 1.9m10.7 -26.4l3.1 .3m22.6 7.1l-.5 .2m-39.9 1.5l1.1 .1m54 17.7l-.4 .3m-55.9 -8.9l.5 .7m21.9 -17.8l-.1 .4m-42.4 40.6l3.4 .5m62.6 -41.7l.2 .4m-35.5 53.6l-2.7 1.3m-11.5 -18.2l-.6 0m-44.3 -40.8l1.6 1.1m64.7 60.4l-.4 0m20.5 -57.1l-1.4 .6m-52.4 -.5l2.9 .8m-28.1 66.1l.4 .1m94.8 -15.4l2 1.9m-76.6 -11.8l-.8 2.2m76.1 -42.9l-.5 .6m-95.6 -4.4l-2.8 .3"/>
<circle cx="334.1" cy="272.6" r="2.6" fill="#f0eef0"/>
<circle cx="324.4" cy="288.3" r="1.9" fill="#f0eef0"/>
<circle cx="252.5" cy="295.7" r="1.7" fill="#f0eef0"/>
</g></g>
<clipPath id="c01"><rect x="355.1" y="261.0" width="107.3" height="82.6"/></clipPath>
<g clip-path="url(#c01)"><g filter="url(#soft)">
<rect x="355.1" y="261.0" width="107.3" height="82.6" fill="#aab4ce"/>
<path stroke="#988068" stroke-width="4.2" stroke-linecap="round" d="M372.2 263.1l.1 .1m7.1 2.5l-.2 .1m44.4 2.8l0 2.3m14.3 -6.9l1.5 .4m6.1 10.6l.4 1.8m-21 7.2l1.4 1.1m1.4 -2.4l0 .9m1.9 1.7l.6 .4m18.2 -.7l-.8 1.1m-84.6 19.4l-.5 1m28.4 2.2l-.7 2.6m22.5 -14.7l.2 1.2m-57.3 20.3l.4 .4m30.1 -.9l.3 0m19 4l-.3 .3m13 -.6l-.8 2m23.9 -.6l-.2 .2m21.7 -9.8l-2 1.9m-79.4 20.7l1.4 1.4m24.3 5.5l-1.5 .2"/>
<path stroke="#988068" stroke-width="3.4" stroke-linecap="round" d="M362.3 260.8l0 1.4m-1.1 8.9l-.1 2.7m23.8 2.5l1.2 .9m7.8 -.3l.3 .2m64.2 -5.7l2.9 .7m-13.3 -4.9l2.1 .4m-78.6 11.9l.6 .3m31.3 8.1l.5 1.3m19.5 -1l-.4 .2m-13.3 -2.8l1.6 .9m7.6 -5l-.2 .9m17.2 2.1l-.2 2.8m3.9 -1.3l.3 1.8m15.8 1.4l-1.2 2.6m-6.8 -7l1.2 2.7m3.8 -1.8l1.7 2.3m7.2 -4.8l.1 1.3m-55.9 17.6l1.8 .4m-.8 -3.4l-1.7 .8m23.6 3.4l1.5 2m-1.5 -7.7l2.2 1.4m9 -3l.3 .1m-37.1 20.5l-1.1 1.2m-2.3 -4.4l.6 .1m-8.1 14.7l.5 .2m18.9 10.4l-1.9 1.2m11.5 -.7l.1 .2m20.7 -5.6l1.2 1.7m8.8 -4.4l2.7 1.1"/>
<path stroke="#7a6450" stroke-width="3.4" stroke-linecap="round" d="M370.8 267.6l.7 0m-12.7 7.2l-2 .8m72.2 -3.4l-2.3 1.9m31 -3.4l-.5 .5m-86.5 20.1l-1.5 .1m21 -6l-.2 1.1m-29.8 10.5l1.1 2.3m18.5 9.8l-1.2 1.8m26.2 -8l.9 .9m-.6 -9.9l.2 .7m12.5 12.6l.3 1.1m35.2 -2.1l-.7 .4m-55.5 15.5l.2 .1m21.2 3.9l-.5 .1m-8.6 -6.7l-.7 .9m34.2 -5.5l-.9 1.3m-70.2 15.5l1.2 1m1.9 -2.4l-.1 2.8m60.2 2.6l3 0m.7 2.8l.5 .8m19.7 -8.8l-2.9 0m-10 -2.7l.9 .7"/>
<path stroke="#8a7058" stroke-width="3.4" stroke-linecap="round" d="M364.9 267.9l-1.1 1.9m34.3 -1.5l.2 .1m19.9 -3l-1 2m.1 3l1.4 1.9m26.2 3.6l2.1 .8m-65.8 15.7l-.4 1.6m.5 -8.1l.5 2.2m14.1 -.9l-2.3 1.7m32.4 -6.9l.8 .5m-11.3 6.1l.6 .7m28.7 .3l-1.9 .2m12.4 -5.1l-.7 .2m-57.3 14.9l-.4 .1m26.2 3.3l-.1 0m-9.9 -1.3l1 .9m12.6 -4.8l0 .2m-67.6 28.5l.1 .8m-3.7 -11.7l-.2 .1m31.1 9.6l1.7 .1m39.4 -12.3l1 .6m6 9.4l.1 .1m17.1 -4.5l2.4 1.6m.3 -7.1l.4 .6m-68.1 19.3l-1.4 1.3m19.8 6.5l0 .3m5.2 -7.9l-.6 .2m33.8 5.6l.4 .3m-7.3 2.2l.6 1.3"/>
<path stroke="#8a7058" stroke-width="4.2" stroke-linecap="round" d="M371.7 261.6l2.3 .8m56.3 10.9l1 2.3m-1.8 -7.3l-2.6 .6m23 -4.6l-.3 1.4m-64.2 26.1l1.5 2.2m16.9 -4.7l.5 .8m10.9 -9.8l1.6 1.3m16.4 8.8l.7 2.5m-.7 -7.5l.3 .2m11 -3.6l.1 .1m-62.6 16.8l1.8 .2m13.3 -2.4l.4 .3m10.5 7l-.3 1.5m-1 -1.9l-1.2 1m33.3 -1.6l.4 .2m.9 -4.3l-2.6 .4m-79.2 26.4l-1.6 1.1m64.7 -1.9l.2 .5m-7.9 -11.3l-.8 .5m16.1 1.7l1.8 1.9m27.1 -.1l.1 .2m-89.9 10.3l-.2 .6m-9.2 9.7l1.1 1.2m62.1 -11.5l.5 0m-.1 -.9l-.7 .1"/>
<path stroke="#988068" stroke-width="2.6" stroke-linecap="round" d="M364.7 263.3l1.6 .2m39.6 3.5l-1.6 .5m-13.3 7.2l-.1 .2m40.9 -10.7l-1.7 1.7m-45.9 21.8l2.5 .1m-12.4 -5.4l1.2 .7m50.2 1.3l-.4 .6m12.7 -3.2l-.2 1.2m20.2 5.9l.9 1m-8.7 -13l2.1 1.7m-9.3 27.9l2 .8m15.1 -1l2.3 .6m-4.2 -11.6l-.1 .4m-69 19.5l0 1.8m4.4 .1l-1.8 .1m45.3 7.9l.2 .7m-74.4 2.9l-.3 .3m28.9 2.7l2.2 1.8"/>
<path stroke="#7a6450" stroke-width="2.6" stroke-linecap="round" d="M387.2 267.7l2.2 .7m-14.1 7.8l-.4 .4m28.9 .5l-.5 .2m39.8 -3.3l.1 0m2.6 -1.2l-.5 2.4m-88 7.5l-.1 2.6m19.1 -4.2l-1.6 1.7m32.8 1.3l-1.2 1.3m-1.3 .4l-.2 .2m12.3 -6.7l-1.5 1.3m5.6 2.2l.9 2.6m13.2 1.2l.1 0m-73.2 15.4l-2.9 .6m4.3 3l1.4 2.2m20.7 -2.4l-.6 1.5m.7 -.8l.2 1m2.4 -2.8l-.4 2.4m5.1 -8.6l0 .5m22.5 -1.3l-.6 .9m-5.2 1.9l.5 2.5m39.9 -5.4l1 .7m5.7 11.3l-1.1 1m-1.3 -10l.3 1.2m-43.3 18.8l.3 1.5m24.4 2.6l-1.8 1.9m-58 7.1l-1.4 .8"/>
<path stroke="#a08868" stroke-width="3.4" stroke-linecap="round" d="M378.8 275.6l.7 .8m-10.5 1.3l-.6 1.6m2.1 7l-2 1.2m27.9 -3.9l-.5 1.2m25.7 -6.6l-2.3 1.4m6 11.4l-.7 1.7m6.8 -2.9l1 .2m13.3 -11.6l-1.4 2.3m-65.2 21.7l.1 0m22.5 1.9l-1.6 .3m13.6 -5.2l1.2 0m8.5 4.9l.9 2.2m9.9 -9.8l.9 1.4m7.9 -2.1l1.8 .8m5.4 -.9l-.7 1.6m.8 -3.5l-.3 1.5m-88.9 15.7l.5 .2m18.5 .9l1.9 2.2m37.5 -3.6l-1.4 .1m-36.3 16.9l1.6 .4m23.4 -1l1.6 1.5m-11.9 14.4l-.2 .7m13.2 -12.7l-1.2 .4"/>
<path stroke="#a08868" stroke-width="4.2" stroke-linecap="round" d="M376.4 265.2l2.3 1.4m12.1 5l1.4 .7m52.5 -6.8l-.8 0m-3 1.7l-.1 .5m-69.8 16.7l-2.6 .6m2 4.4l.4 .4m35.6 -1.8l.1 1.5m-7.4 8l-.2 2.8m53.3 9.5l-.1 .6m-65.4 1.7l-.7 1.7m14.7 1.8l2.6 1.4m8.3 3.6l-2.8 1m49.6 -.3l1.7 .4m-99.5 15.4l-1.7 1.5m80.5 -.9l-.4 2.2m7.2 -.6l.5 1.5"/>
<path stroke="#7a6450" stroke-width="4.2" stroke-linecap="round" d="M397.5 270.1l.5 .8m13.6 -9.9l1.8 .1m-.2 4.3l-.9 .9m-.8 -.2l1.4 2.1m21.5 6.9l-1.8 2.1m-53.4 7.6l.9 2m64.6 -.4l-.9 1.2m12.1 -2.5l.2 1.1m-7.1 7.4l2 .1m-80.9 2.9l-.1 2.8m11.2 10.7l0 .7m5.4 -8l2.3 0m35.5 3.1l-.2 .3m5.8 -12.5l-1.2 .7m-62.9 29.3l1 .4m16.4 -4.5l-3 .3m15.7 5.9l-1.6 1m-37.3 5.5l.3 2.9m31.1 -5.2l-.9 1.6m59.9 9.4l1.1 1.1"/>
<path stroke="#a08868" stroke-width="2.6" stroke-linecap="round" d="M399.2 268.6l1.1 .4m21.2 -.6l.2 2.1m-6.7 -4.9l-2.2 .5m25.2 15.3l-1 1.3m-80.4 26.4l.5 .2m42.7 -4.2l-.2 2.5m5.8 -3.1l2.3 .1m33.4 -10.1l-.3 .1m-41.4 18l-2.3 .6m33.4 15.5l1.2 2"/>
<path stroke="#8a7058" stroke-width="2.6" stroke-linecap="round" d="M423.3 268.2l.1 .6m27 8.3l1 .1m-60.8 7.6l.9 .1m14.5 -2.1l-1.2 .3m30.5 .8l-.3 2.6m-1.2 2.5l1.4 .3m9.8 -6.8l0 1.6m-79.5 18.8l1.5 .2m36.2 1.8l1.9 .3m8.9 -2.5l.2 .8m8.1 -9l.6 .2m-5.7 9.2l.1 .5m22.5 -3.6l1.2 .2m-51 15.1l-1.7 .8m-12 -3.5l-1.7 0m19 10.2l-.3 .8m54.1 -2.6l.1 1.1m-57.7 4.3l1.7 1m.8 13l.1 2.3m58.9 -5l0 .2"/>
<path fill="none" stroke="#f2f4fa" stroke-opacity="0.6" stroke-width="0.8" d="M417.7 283.2l4.9 6.4m-59.2 13.2l-.8 3.3m14.8 -4.5l-5.3 8.2m43.1 16.5l-1.4 5.8m42 9.6l-1.2 2.8m-18.6 -13.4l6.2 2.4m-42 -50.4l6 2.5m-38.5 53.6l-5 3.9m58 -49.3l-6.9 2.2m-42.8 21.4l-9.7 .6m54.7 -52.7l.5 7.8m43.2 7.9l3.7 1.1m-47.8 32l-5.9 2.5m51.7 -44l1.2 6.6m-98.3 -2.1l1.5 6.7m19.8 -17.5l-7.5 2.7m-6.4 63.8l-5.7 1.3m90.9 6.4l-2.2 2.3m-95.1 -78.3l4.5 5.4m94.1 33.7l-.2 4.9m-50.7 -46.2l-2.8 8.7m27.5 59.2l8.4 .4m-11.4 -17.6l-1.9 7.4m22 -52.6l-4.5 3.4m-47.9 66.6l-1.9 9.3m37.7 -80.9l-.5 5m-76.7 43.4l6 2.8m65.3 -19.3l2.7 2.2m-54 4l1.8 6.3m73 -46.5l1.5 8.7m-77.6 10.3l-4.7 .1m48.1 1.8l-4.8 1.5m-29.1 44.6l5.3 .3m-33.2 4.7l-8.6 4.1m66.1 -77.9l4.8 4.8m-13.9 65.8l-2.6 3.5m-33 -71.7l1.5 3.5m-2.7 54.2l.2 6m11.1 -19.5l3 1.2m-9.1 -24l5.5 6.9m-.6 7.4l1.3 2.7m42.3 5.7l1.2 9m-9 -45.7l-6.4 2.3m13.2 -8.5l-4.2 4.1m-57.5 66.5l-3.3 7.7m81.8 -42.5l.3 7.6m-6.5 -32.7l3.1 4.1m-17.9 52.7l-.5 6.3m36.1 -66.5l-2.3 4.3m-7.9 27.3l-4 2.7m-27.3 -44.3l-3.3 2.1m-19.2 5.4l-3.9 3.2m-15.4 19.1l2.5 8.5m31.7 -31l2.8 3.1m-21.6 8.3l2.6 2.8m34.3 54.3l-.2 5.5m-45 -51l1.9 4.1m-5 39l7.6 4.3m-21 -43.2l-5.2 1.8m23.4 34.7l-.6 9.2m72.8 -15.2l-3.8 1.4m11.9 -32.4l8.5 1.7m-12.8 43.8l-9.5 3m-11.3 -31.9l.9 6m-33.6 -44.2l1.4 2.9m57.8 -10.1l-1.2 5.3m-18.1 61.9l-.1 7.2m12.4 -58.6l1.4 6.8m-53.4 -.6l-6.1 2.1m59.8 -25.2l4.5 3.9m-.6 36.2l1.8 6.9m-85.3 -17.5l-4.6 2.6m66.4 -11.6l4 3.9m16.9 24.1l6 4m-3.1 14l3 2.8m-13.1 -70.8l2.7 5.9m-17.9 29.1l4.2 4.3m-42.3 -43.6l-1.5 3.2m13.1 8.9l-1.4 6.9m-26.6 10.2l4.2 3.8m2.2 13.9l-3.4 1.6m10.3 -33.8l7.2 3.2m26.1 -16.8l7.8 4.6m-60.9 37.2l1.6 7.4m17.4 -11.3l-1.2 8.5m-14.8 21.2l-.6 3.9m3.4 -49.2l-.6 3.1m-13 54.3l-7.9 2.4m50 -12.2l.2 3.9m25.8 -30.8l2.8 2.9m-1.8 -44.4l-2 2.2m-47.2 41.1l3.2 3m69.6 28.9l.9 9.2m-73.9 -27l-4.7 3.8m22.3 -12.7l-2.2 5.8m-2.1 -17.1l-.3 3.8m61.5 -34.8l3.6 1.6m-88.3 51.1l4.4 8m8.7 -58.7l-4.6 3.9m70.7 20.5l7.3 4.9m-6.5 15.5l.2 4.7m-22 7.8l-3.5 4m24.1 -58l2.8 2.6m-22.5 62.4l-7.6 2.5m-19.4 -35.8l1.7 6.4m20.3 -50.2l2.7 3.2m-45.6 7.9l2.6 2.1m-23.4 14.5l-6.1 5.7m15.2 -12.6l5 1m73.6 36.5l4.5 4.2m-59 -64.9l.5 3.7m-22.1 27.5l-6.7 4.9m66.6 -21.1l-9.7 2.3m-39.6 28.6l.7 3.5m22.9 18.2l3.5 1.3m-11.9 -45.1l-2 2.5m-38.2 42.6l7.4 3.2m69.9 -27.2l3 5.6m-41.8 -23.9l3.5 4.3m24.7 -24.7l5.2 6.6m9.5 -9.6l7.3 4.7m-45.1 49.7l2.2 5.2m-19.3 -29.1l1.3 4.9m-9.4 -38.1l2.3 8.4m-4.7 34.7l-6.5 .3m1 -39.4l-5.2 1.4m-7.7 11.6l-3.8 2.1m34 16.3l-6.7 1.3m39.4 22.4l4.4 2.9m25.8 -17.3l2.6 6.7m-56.9 -3.3l6.6 3.9m-44.7 -26.7l7.8 6.1m29.4 -27.7l-5 2.2m49.1 20l2 9.7m9.7 -11.1l-5.1 .2m-15.2 10.5l.6 8.6m16.1 16.3l-1.2 4.5m11.1 -27.1l-5.1 2.6m-43.2 -34.4l5.6 4.1m-31.9 8.4l-1.5 6.8"/>
<path stroke="#f0f2f8" stroke-opacity="0.7" stroke-width="4.8" stroke-linecap="round" d="M370.2 272.8l-2.4 1.3m13.9 18.1l.7 3.5m15.8 -28.3l-2.7 2.3m21.6 22.6l-.6 2.3m-.8 -33.1l-1.4 .1m-15.6 6.7l-2 .2m63.3 10.3l2.4 .3m-86.3 -9.1l1.5 3.6m9 7.9l3.7 .2m-9.9 53.9l-2.1 .5m36.6 -61.1l.6 1m17.3 18l.9 1m22.7 -17.9l1.8 1m-70.2 38.3l-2.5 2m30.8 12.8l-4 .2m32.7 -23.1l-.4 2.7m-50.8 -6.6l-2.4 1.7m1.8 14.5l-2.1 1.3m-24.6 -10.4l3.5 .4m10.1 -45.1l.8 1.5m36.2 38.8l-1 .3m12.5 -41.6l-.1 3.5m-52 26l2 .8m11.3 17.5l.9 2.3m6 -42.6l1 .9m-15.8 22.7l1.4 2m66.2 41.5l.6 .2m-15.5 -44.4l-3.4 1.3m24.2 -13.2l-2 .5m-80.7 -8.8l-.2 2.9m86.1 52.4l.1 .5m-91 -61l-.7 2.3m59.5 3.6l-.6 .8m-58.6 15.3l-2.5 2.5m28.8 -2.4l-3 .1m18.8 -20.9l3.1 .4m39.2 41.6l-2 3.2m-51.1 -2.6l-1.4 3.6m-2.8 -48.7l-1.7 3.4m1.9 24.2l2.4 2.9m5.6 37.8l.6 .4m19.4 -28.8l.2 3.9m-63.4 -9.2l2.4 1.7m31.3 -41.1l1.4 3.7m-35 16.3l2.1 2.1m56.8 34.1l-3.5 1.4m6.5 18.7l-1.3 1.4m36.9 -18.5l-.4 .7m-53.8 -44.3l-1.9 .5m51.6 -17.3l-.9 2.8m-39 31.6l-.8 1.3m28.2 36.4l-.6 3.9m-76.5 -19.9l-3.2 1.6m-2.2 -13.4l-.9 1.4m49.3 17.2l.6 1.5m15.6 -44.1l.1 1.8m2.1 24.5l-.5 .4m-10.9 -3.6l-2 1.6m-35.4 18.4l-2.1 2.2m41.9 -1.4l-3.2 1.5m-.2 -4.7l-.4 .6m38.2 3l-2.2 3m-21 -25.2l1.3 2.9m-69.7 -11.1l.3 .4m100.1 43.3l2.2 1.2m-28.6 -51.8l-1.8 1.4m-10.5 6.4l-2.4 1.9m-44.1 -28l.5 1.9m70.8 50.1l-3.1 1m-78.5 -4.5l-1.3 1.7m27 -60.4l-.1 .9m52.6 63.7l-2.1 1.9m-58.4 -35.2l-2.8 1.3m28.1 6.6l-3 1.3m-19.6 29.6l-2.2 .5m7 1l.6 1m23.4 -60.2l.9 .9m34.2 4.5l3.2 1.6m-60.1 47.3l-1.3 3.5m21.8 -43.4l1.3 1.4m-16.4 42.2l-3.5 1.5m18 -43.9l1.1 .5m-48.3 44.4l-1.5 .7m32.6 -12.9l-.4 .7m33.2 5.7l-1.1 3.4m-54 -38.2l2.7 1.7m66.8 -34l2.9 1.7m-51.2 54.7l3.3 1.9m53.2 -25l.1 3.6m9.9 29.5l.4 .6m-98.2 -24.9l-2.6 1.6m19.2 -31.4l-1.8 1.7m-13.4 43.8l.9 3.4m35.5 -63.4l1 3.1m32.1 11.7l-1.5 2.7m-49.8 -11.5l-1.9 3.1m-8.6 -1.3l-2.7 1.4m72.8 29.3l-3 2.4m-37.5 -28.7l-3.2 .5m-34.5 58.2l.9 .1m51.4 -32.2l-2.5 .4m-.8 42.7l-1.4 1.2m34.1 -83l-3.1 2.2m-82.7 13.3l-1.8 1.7m13.9 27l3.7 .9m9.2 22l-1.7 2.4m6.8 -2.5l1.2 .8m-7.7 -.1l-.9 1.8m31.5 -7.4l-.5 .3m12.6 -39.5l-1.6 .9m-31.4 -9.9l-.3 1.2m59.7 48.9l-2.1 1.2m-16.9 -64l-.7 .5m24.6 8.2l1.8 0m-74.6 -6.8l-.2 1.2m43.8 57.6l-.6 .2m-48.9 7.6l-2.1 2.2m27.1 -41.5l2.7 2.7m44.7 45.4l1.2 0m-48.1 .1l-1.4 .6m59.8 -59.2l-.8 1m-101.7 38.1l-.3 2m52 -43.3l-.7 2.2m6.5 -13.9l1.5 3.2m20.2 42.5l.4 1m-30.6 23.6l-.3 3.2m36.3 -36.7l.8 .2m-73.5 -16l2.1 1.8m37.7 17.2l.6 .8m-8.6 -25.3l.3 3.1m-43 7.8l-.1 4m28.8 -19.3l2.2 1.1m-26.9 7.8l-.7 .4m-7.5 48.7l-1 .1m23.7 -72.2l-.8 .2m22.3 67.5l-2.1 .3m9.2 -20.3l1.2 .6m39.5 -7.3l1.5 2.6m-42.3 -24.7l-2.8 1.7m-7.9 5.6l.4 1.7m-4.7 48.8l-1.8 2.8m17.8 -37.3l.7 1.2m22 -31.3l1.8 .1m-30.9 5.2l-1.4 2.2m-34.4 -17.7l-1.7 1m45.8 4l.8 1.3m-23.1 41l.6 .1m57 -47.4l2.3 2.5m-43.3 34.8l-1.1 1.1m-30.9 -24.9l1 1.1m51.2 1.3l1.1 1.8m-2.8 28.6l1.4 1m9.1 -42.6l-.5 2.5m14 67.6l2.4 .1m-1.5 -45.4l3 .1m-74.6 -16l-.6 2.9m45.4 30.4l1.7 1.9m-41.5 -29.8l-3.8 .8m23.5 -24l-.2 1.8m27.5 37.6l.5 .1m-31.4 23.5l.1 3.3m49.4 -50.5l-.6 2.8m-8 35.5l3 1.9m-11.4 -26.4l.5 .4m-33.2 9.5l-.1 .7m-35 28.4l-2.4 .8m38.4 -20.8l-1.1 1.6m-10 -30.9l.3 3m45.1 -19.9l-1.9 1.3m-63.6 11.9l-1 1.3m30 45.5l2.2 2.2m-25.8 -34.9l1.5 .9m22 9.8l1.5 2m-31.3 24.5l.5 .6m2.4 -19.4l2.7 1.5m9.6 -21l1.2 2.6m7 -7l-.3 3.7m24.9 -27.3l1.2 3.1m-30.1 76.4l.5 1.4m58 -75.7l3.7 .4m-51 15.3l1.2 2.2m-31.4 -16.1l-.7 1.5m47.2 39l-3.4 1.1m51.9 24.6l1 .9m-40.1 -60.5l-.3 .4m-53.4 27.1l-.4 .5m13.3 -28.6l1.6 .7m75.4 37.9l.6 .1m-73.1 28.1l2.1 1.4m14.8 -59.4l-3.3 .2m19.2 25.3l1.1 3.6m8.9 -45.2l-1.7 2.3m-60.8 45.6l-1.6 .2m12.2 -29.8l1.4 1.8m-7.4 -13l-2.8 .8m50.8 20.9l-.6 3.3m-47.1 -36.1l-1 1m-7.2 51.9l1.4 1.6m58.4 -36.3l1 2.8m7.5 19.9l-1.2 .1m-70.8 26.3l.2 3.4m50.3 2.1l1.4 .6"/>
<path stroke="#f0f2f8" stroke-opacity="0.7" stroke-width="3.4" stroke-linecap="round" d="M440.6 285l.4 .5m-65.2 53.7l3.6 1.4m-21.5 -61.3l3.5 1.1m-2.6 -7.9l-3.4 1.2m81.4 63.5l-1.6 .9m-18 -46.2l-.9 .1m35.1 31.5l3.4 .1m-27.6 -23.2l-.1 2.4m-20 -40.7l1.8 1.3m-52.7 32.3l2.5 .2m59 -24.1l-.2 3.5m41.8 48.3l.9 .9m-96.9 -15.4l-1.2 .2m6 -28.2l-.1 2.8m57.3 58l1.3 .3m-39.3 -77.9l-3.1 .9m-2 10.3l-1.6 .6m22.8 38.1l-.8 1m-11.7 -50.8l0 2.1m11.6 -3.1l-3.7 .3m-12.2 53.2l-1.3 .2m11.2 15.7l.9 2.9m27.8 5.8l-1.2 1.2m33.6 -39.7l1.9 3m-66.6 5.9l3.1 .3m-36.4 23.7l-1 0m36.8 -6.9l1.3 1m-19.5 1l-3.7 .4m4.5 -49.6l-1.4 0m33.4 8.9l-2 .8m34.6 -3.3l1.2 2.7m-.8 50.9l3.3 1.9m-67.1 -34.2l-3.2 1.7m11.8 -6.2l-1.4 0m58.5 -25.6l-3.3 .7m-56.3 34.4l.7 1.6m-12.3 -24l1.7 2.2m18.5 40.5l1.4 2m-30.8 -69.6l-3.5 .3m81.9 29.4l-2.2 2.8m-42.4 1.9l-1.4 1.5m52.2 -19.5l2.6 1m-20.2 2.2l.6 .2m-22.3 15.1l-.2 .6m-24.5 13.8l-3 1.5m-11.7 -46.2l.2 2.1m75.5 15.9l-.4 2.8m-21.9 49.4l-.7 .5m-44.1 -68.3l1.3 3.1m53.8 48.4l3 1.5m-33.3 -62.9l-1.5 .7m-24.2 20.5l.3 .9m28.4 8.2l-1.4 3.2m37.2 -27l.8 1.6m-7.1 -12l2.2 2.6m-27.1 9.3l1.6 1.2m-6.7 25.8l.5 .7m-10.4 -27l.6 1.7m56.8 2.4l-1.6 1.7m-82.6 21.7l-1.1 1.2m70.1 -5.3l-.5 3.5m-18.8 27.1l2.3 1.9m16 -45.5l2.3 1.1m-.3 23.7l1 3.2m-13.2 -12.9l-1 3.1m-3.4 13.3l.1 3.6m-4.1 -35.1l-2.1 .1m-7.5 -19.9l-2 1.5m16.9 17l-1.4 3m-25.3 52.7l1.1 2.2m16.9 -75.2l-1.7 .2m-42.3 53.3l.2 .6m20.2 1.9l-.7 3.4m24.6 -15l-.5 1.7m9.4 3.3l3.7 1.3m11.4 3.9l0 2.7m-23.2 17.4l2.8 1.3m-39.6 -63.6l1.5 1.3m-4.4 -1.3l-1.7 1.2m48.4 31.1l0 .9m-49.1 -49.8l-.6 3.5m62.7 40.5l-.6 1.2m-17.4 -27.1l-.5 1.6m34.3 -10.9l2.8 .9m-12 59.7l-3.5 1m-23.3 -23.2l.6 .4m4.1 20.6l2.9 .1m23.3 5.1l1.3 2.6m-49.9 -17.9l-2 1.2m47.9 19l3 .2m-4.8 3.4l2.3 .8m17.9 -25.5l-3.1 .8m-7.6 -32l1.5 2.1m-86.5 -3l.8 .1m73.6 45.7l.7 .8m-11.3 -51l1.1 .5m-36 2.4l1.5 2.6m2.7 -25.3l-.2 1.3m46 23.8l-2.8 .1m-40.8 29.4l-.7 3.6m40.2 -10l1.9 1.8m-69.4 28.7l-.8 3.9m57.2 -31.2l.5 .4m-49.1 16l2.2 3m28.4 -48l2.8 .7m-41.8 -4.9l-3.4 1.1m48.1 -11.8l.2 1.5m-57.2 20.9l.6 .4m11.4 28.9l-3.3 2m82.4 -21.2l1.7 2.7m-16.6 -42.2l-1.2 .1m21.1 2.5l1.1 .9m-73.2 7.7l-1 1.3m29.6 28.2l-.5 .4m-31.4 10.9l.8 0m38.4 -46.2l-3.5 1.9m-27.8 20.8l-2.5 2m18.1 -22.9l1.3 .2m20.1 48.5l-2.8 .5m18.7 -30.7l.1 .5m-27.4 -25.8l-2.3 .3m28.1 19.3l2.6 1.9m-35 24.3l-.6 .7m10.4 -44.5l.9 .6m21.5 58.4l1 1.6m-31.6 -46.8l1.2 .6m-48.4 49.8l.1 .6m13.5 -14.6l-2.4 .3m11.6 -53.5l-.4 .3m38.4 36.6l3.2 .5m-10.5 -26.1l-1.7 1.4m40.1 -.8l3.8 .6m-74 67.2l-.8 1.3m-29.4 -.9l.9 1.2m86.2 -15.3l-2.4 2.8m-5.8 -40.6l2.4 2.6m-4.9 -19.6l1 2.6m-25.9 53.6l-1.5 2.7m28.2 -47.7l.2 2.1m-10.8 -23.7l2.5 1.8m-28.8 21.2l-3.1 1.8m57 -18.1l-2.2 .7m-35.3 23.7l-.7 .3m-52 -31.2l1.5 3.3m80.5 42.3l-.3 .6m-52.1 22.1l-1.1 .7m47.5 -27.7l-.5 .3m-77 -11.9l-2.7 .5m40.6 38.3l.8 1.4m29.6 7.1l2.9 1.3m-72.9 -22.6l-1.2 1m90.1 -57.5l1.4 3.6m9.1 23.1l-.7 .5m-70.1 -5.7l.3 2.8m23.9 14.2l-3.5 .2m-7.1 26.5l.3 1.9m-3.1 -54.7l1.4 .4m56.3 53.5l1 .9m-17.2 -16.7l-2.9 .4m6.4 3.1l2.1 2.2m-36.3 -42.1l-1.2 1.5m-39.7 20.2l.5 3.1m89.1 -13.6l-3.6 1.3m-31.9 -14.9l.8 2.1m23.2 30.4l0 1.6m-42.3 9.2l-.9 .7m26.7 -25.8l-1 1.1m-66.3 -12.6l1.7 .1m-2.2 21l.5 1.1m63.5 20.8l1.5 2.2m-34.5 6.6l2.9 2m-7.8 -47.3l-1.9 2.3m-25.4 7.4l0 1.7m16.1 -22.7l-3.6 .4m-10.2 41.8l2.9 1.7m13.3 11.8l.5 .1m81.5 -50l.8 1.3m-34.2 42.5l-2.8 .5m19.3 16.2l3.7 1.1m-72.1 -8.4l.2 4m34 -14.2l.1 3.2m-.2 2l.3 .7m-39.9 .1l.1 3.3m3.7 1l-2.8 2.2m10.2 -66.3l-2.5 1.9m54.1 40.2l-.3 .8m-55.6 27.7l2.9 1.3m26.5 -67.8l2.3 2.1m45.1 17.8l.1 1.6m-76.1 -4.9l.6 2.4m74.9 -6.2l1.6 1.2m-1 -24.8l-.2 3.8m-.3 59.8l3.5 .9m-95.2 2.9l3.2 2m49.9 -60.8l-.8 3.1m15.1 17.4l-.4 1.4m-63.3 39.2l2.2 2.6m15.9 -48.2l-1.6 2.5m37.1 2.4l-2 .8m-54.6 1.1l-2.5 .9m15.6 -11.2l-2.5 .1m47 38.4l3 1.9m15.8 15.2l2.2 .7m13.1 -58.1l-.3 .5m-57.3 34.8l1.4 2.2m34.4 14.6l2 .4m-33.5 -57.5l-2.2 1.6m35.5 51.7l-.7 .8m-50.7 -32.4l3.7 .7m-25.1 -33.1l.5 1.2m9.1 2.9l.2 2.5m-11.8 55.2l2 1"/>
<path stroke="#f0f2f8" stroke-opacity="0.7" stroke-width="4.1" stroke-linecap="round" d="M370.1 310.6l1.2 3.6m84.7 -38.7l-.7 2.6m4.4 40l.4 3.2m-44.6 -6.9l-2.8 .6m28.6 -49.1l2.2 .4m-23.5 46.8l1.4 2m-.3 -24.2l.9 2.2m7.8 -24.4l3.1 1.4m-36.8 32.1l-2 .6m-5.4 38.6l.8 1.5m2.5 -71.5l-2.7 1.4m4.2 -1.7l-2.6 2.1m17.5 60.7l-.6 2.8m16.3 -5.5l-.5 .3m11.7 -37.1l1.9 .3m22.5 11.9l3.5 .5m-23.7 .2l-1.9 .6m3 -24.6l.8 .3m-39.4 45.5l2.6 2.7m-13.2 3.2l1.2 2m32.8 -67.5l-.2 1.7m-47.3 16.3l1.5 .2m-14.7 22.5l-.4 1.8m37.6 -5.6l2.2 1.2m-30.1 25.6l.2 .8m48.9 -28.6l1.9 1.7m-18 35l.2 2.6m13.3 -54.9l3.3 1m-50 34.9l.1 3.3m30.6 2.6l-2.7 1m-17.3 -63.6l-.5 1.8m49.8 65.2l-1.7 2.7m.1 -55.8l-.9 .4m-66.3 17l-.3 1.4m10.6 13.6l-.7 2.3m73.9 -41.8l-2.2 1.9m-15.9 29.5l-1.3 1.1m-48.6 3.9l-1.4 .3m72.3 9.1l-1.2 3.5m-71.2 -47l.5 3.4m51.2 26.3l1.4 .4m-57.5 -41.3l3 2.2m14.4 35.3l.4 .3m-35.3 -43.5l-1.6 1.3m89.4 51.2l-.6 3.2m-71.1 -56.3l-1.1 1.2m70.2 11.7l-3 1.2m-32.7 36.9l-.1 .7m-31.5 19.1l-2.2 1m29.7 -.6l.8 3.5m-44.2 -18.3l3.8 0m-4 18.3l-.8 .6m51.4 -63.2l-2.9 2.5m-2.4 63l-2.7 2.7m56.4 -31.3l-1.8 .6m-54.3 -.4l-2.8 .8m24.8 -28.9l1.4 2.9m-5.4 4.2l-3.4 0m8.3 23l-3.4 .1m-21.2 -2.8l.5 3.6m-23 9.2l.7 .5m5.5 -22.4l-.7 1.9m13.8 -27.3l-1.3 .4m-19.6 5.9l3.6 1.2m42.7 21.4l2 1.5m21.9 -14.4l.7 .6m-91.2 -29.6l3.6 1.5m90.1 12.7l1.3 1.6m-58.2 20.6l2.9 1.4m-14.9 -32.6l-1.7 3.5m-3.6 26.5l.8 .4m.9 -20.6l-.1 1.5m69.9 17.6l.4 2.3m-17.7 -29.3l1.4 2.2m-52.2 32.2l1.5 3m2.4 -27.8l.5 .8m-25.1 56.4l-1.7 .1m71.8 -26.8l-1.1 2.9m-64.8 -45.5l.1 3.5m-4.8 69l-1.9 2.2m64.5 -44.4l1.6 1.2m23.9 5.5l-1.1 .4m13.8 29.3l.2 2.2m-73.1 -11.2l-.5 .1m38 -43.4l-1.1 2.8m-35.5 -22.2l-1.7 2.1m-25.3 51l-3.1 0m8.4 -6.2l-2.7 1.1m19.4 -17.1l2.2 .4m35.2 37l-.8 1.1m-10.7 -61.4l3.7 .3m16.7 38.8l-.4 .7m-40.8 -44.4l.5 .6m27.6 56.7l1.1 .6m-53.1 -33.7l1.7 .3m54.3 11.2l1.4 .8m29.6 38.5l-3.2 .1m-87.7 -35.3l-.8 2.2m19.4 -12.2l3.5 1.5m-15.2 10.3l2.5 1.7m77.6 -21.2l-.9 1.9m-59.7 35.6l.9 3.2m21.6 -66l2.5 .9m28.5 69.7l-.1 .7m9.4 -50.7l-.8 3.4m-68.5 35.2l1.9 1.6m8.7 -20.3l.1 .8m-32.7 31.8l2.5 1.8m51.1 -53.5l2.6 1m22.5 6.1l-.7 .2m-28.1 29.4l-3.1 1.6m18.6 -6.9l-.2 3.2m-37 -27.9l3.3 0m4.1 38.8l-1.2 .1m68 -24l-3.8 .3m5.5 -3.4l3.4 1.5m-49.4 -11l-.2 2m-16.6 -3.9l-2.8 2.3m-28.9 -21.7l-2.5 .3m85.2 39l2.1 2m6.3 -40.8l.3 2m-37.3 16.2l.3 .7m-64.9 -9.1l-.3 3.9m83 -5.7l2.4 .1m-42.4 28.2l-2.9 1.7m3.5 -19.7l-3 .6m.3 19.9l.8 3.2m-21.5 -43.7l-1.2 0m9.9 34l-2.7 .3m68.3 24l.6 1.8m-41.7 -28.3l-1.6 3m53.1 3.6l-.4 3.9m-48.1 23.6l-.7 .3m-19.2 -62.6l1.1 3.5m-17.8 55.7l.8 1.9m55.4 -15.4l.7 .5m-5.7 -31.4l-.4 .4m-42.2 16.4l.6 1.5m6.7 -12.6l.9 1.1m-23.3 27l.9 .8m73.1 -11.5l-1.9 1.2m-64.9 24.7l0 1m21.8 -17.7l1.2 3.6m-28.7 -54.4l1.4 .9m45.2 -5.8l1.5 1.4m31 73.6l1.3 .5m-55.1 -29.3l-.6 1.7m66.6 -15.7l-.9 1m-26.2 37l-3.6 .2m-36.9 -1.3l.7 1.6m-7.2 -52.6l2.2 1.4m-10.2 15.7l-.7 1.2m63 -27.7l-.3 .4m-14 33l-.3 .9m-15 15l1.2 .9m-49.6 -52.1l2 .9m25.3 -7.8l2.2 1.6m54.5 73l2 1.7m-6.6 -37.3l-1.6 3m-21.5 -38.2l.2 .5m-45.3 55.1l.3 .6m52.1 -29.1l-2.2 .3m-12.9 43.7l-.6 3m39.9 -13.5l-1.6 1.3m-54.6 -2.3l2.3 1.4m-14.4 -43.7l-2 .8m4.5 32.6l3.1 1.5m53.3 -17.2l-.8 1m-51.1 6.7l2.6 .6"/>
<path stroke="#1f4c9c" stroke-width="3.2" stroke-linecap="round" d="M370.2 272.8l-2.4 1.3m13.9 18.1l.7 3.5m15.8 -28.3l-2.7 2.3m21.6 22.6l-.6 2.3m-.8 -33.1l-1.4 .1m-15.6 6.7l-2 .2m63.3 10.3l2.4 .3m-86.3 -9.1l1.5 3.6m9 7.9l3.7 .2m-9.9 53.9l-2.1 .5m36.6 -61.1l.6 1m17.3 18l.9 1m22.7 -17.9l1.8 1m-70.2 38.3l-2.5 2m30.8 12.8l-4 .2m32.7 -23.1l-.4 2.7m-50.8 -6.6l-2.4 1.7m1.8 14.5l-2.1 1.3m-24.6 -10.4l3.5 .4m10.1 -45.1l.8 1.5m36.2 38.8l-1 .3m12.5 -41.6l-.1 3.5m-52 26l2 .8m11.3 17.5l.9 2.3m6 -42.6l1 .9m-15.8 22.7l1.4 2m66.2 41.5l.6 .2m-15.5 -44.4l-3.4 1.3m24.2 -13.2l-2 .5m-80.7 -8.8l-.2 2.9m86.1 52.4l.1 .5m-91 -61l-.7 2.3m59.5 3.6l-.6 .8m-58.6 15.3l-2.5 2.5m28.8 -2.4l-3 .1m18.8 -20.9l3.1 .4m39.2 41.6l-2 3.2m-51.1 -2.6l-1.4 3.6"/>
<path stroke="#183a80" stroke-width="1.8" stroke-linecap="round" d="M440.6 285l.4 .5m-65.2 53.7l3.6 1.4m-21.5 -61.3l3.5 1.1m-2.6 -7.9l-3.4 1.2m81.4 63.5l-1.6 .9m-18 -46.2l-.9 .1m35.1 31.5l3.4 .1m-27.6 -23.2l-.1 2.4m-20 -40.7l1.8 1.3m-52.7 32.3l2.5 .2m59 -24.1l-.2 3.5m41.8 48.3l.9 .9m-96.9 -15.4l-1.2 .2m6 -28.2l-.1 2.8m57.3 58l1.3 .3m-39.3 -77.9l-3.1 .9m-2 10.3l-1.6 .6m22.8 38.1l-.8 1m-11.7 -50.8l0 2.1m11.6 -3.1l-3.7 .3m-12.2 53.2l-1.3 .2m11.2 15.7l.9 2.9m27.8 5.8l-1.2 1.2m33.6 -39.7l1.9 3m-66.6 5.9l3.1 .3m-36.4 23.7l-1 0m36.8 -6.9l1.3 1m-19.5 1l-3.7 .4m4.5 -49.6l-1.4 0m33.4 8.9l-2 .8m34.6 -3.3l1.2 2.7"/>
<path stroke="#24509c" stroke-width="3.2" stroke-linecap="round" d="M394.4 269.6l-1.7 3.4m1.9 24.2l2.4 2.9m5.6 37.8l.6 .4m19.4 -28.8l.2 3.9m-63.4 -9.2l2.4 1.7m31.3 -41.1l1.4 3.7m-35 16.3l2.1 2.1m56.8 34.1l-3.5 1.4m6.5 18.7l-1.3 1.4m36.9 -18.5l-.4 .7m-53.8 -44.3l-1.9 .5m51.6 -17.3l-.9 2.8m-39 31.6l-.8 1.3m28.2 36.4l-.6 3.9m-76.5 -19.9l-3.2 1.6m-2.2 -13.4l-.9 1.4m49.3 17.2l.6 1.5m15.6 -44.1l.1 1.8m2.1 24.5l-.5 .4m-10.9 -3.6l-2 1.6m-35.4 18.4l-2.1 2.2m41.9 -1.4l-3.2 1.5m-.2 -4.7l-.4 .6m38.2 3l-2.2 3m-21 -25.2l1.3 2.9m-69.7 -11.1l.3 .4m100.1 43.3l2.2 1.2m-28.6 -51.8l-1.8 1.4m-10.5 6.4l-2.4 1.9m-44.1 -28l.5 1.9m70.8 50.1l-3.1 1m-78.5 -4.5l-1.3 1.7m27 -60.4l-.1 .9m52.6 63.7l-2.1 1.9m-58.4 -35.2l-2.8 1.3m28.1 6.6l-3 1.3m-19.6 29.6l-2.2 .5m7 1l.6 1m23.4 -60.2l.9 .9m34.2 4.5l3.2 1.6m-60.1 47.3l-1.3 3.5m21.8 -43.4l1.3 1.4m-16.4 42.2l-3.5 1.5"/>
<path stroke="#2a5cb0" stroke-width="1.8" stroke-linecap="round" d="M443 341.8l3.3 1.9m-67.1 -34.2l-3.2 1.7m11.8 -6.2l-1.4 0m58.5 -25.6l-3.3 .7m-56.3 34.4l.7 1.6m-12.3 -24l1.7 2.2m18.5 40.5l1.4 2m-30.8 -69.6l-3.5 .3m81.9 29.4l-2.2 2.8m-42.4 1.9l-1.4 1.5m52.2 -19.5l2.6 1m-20.2 2.2l.6 .2m-22.3 15.1l-.2 .6m-24.5 13.8l-3 1.5m-11.7 -46.2l.2 2.1m75.5 15.9l-.4 2.8m-21.9 49.4l-.7 .5m-44.1 -68.3l1.3 3.1m53.8 48.4l3 1.5m-33.3 -62.9l-1.5 .7m-24.2 20.5l.3 .9m28.4 8.2l-1.4 3.2m37.2 -27l.8 1.6m-7.1 -12l2.2 2.6m-27.1 9.3l1.6 1.2m-6.7 25.8l.5 .7m-10.4 -27l.6 1.7m56.8 2.4l-1.6 1.7m-82.6 21.7l-1.1 1.2m70.1 -5.3l-.5 3.5m-18.8 27.1l2.3 1.9m16 -45.5l2.3 1.1m-.3 23.7l1 3.2m-13.2 -12.9l-1 3.1m-3.4 13.3l.1 3.6m-4.1 -35.1l-2.1 .1m-7.5 -19.9l-2 1.5m16.9 17l-1.4 3m-25.3 52.7l1.1 2.2m16.9 -75.2l-1.7 .2m-42.3 53.3l.2 .6m20.2 1.9l-.7 3.4m24.6 -15l-.5 1.7m9.4 3.3l3.7 1.3m11.4 3.9l0 2.7m-23.2 17.4l2.8 1.3m-39.6 -63.6l1.5 1.3m-4.4 -1.3l-1.7 1.2m48.4 31.1l0 .9"/>
<path stroke="#2a5cb0" stroke-width="2.5" stroke-linecap="round" d="M370.1 310.6l1.2 3.6m84.7 -38.7l-.7 2.6m4.4 40l.4 3.2m-44.6 -6.9l-2.8 .6m28.6 -49.1l2.2 .4m-23.5 46.8l1.4 2m-.3 -24.2l.9 2.2m7.8 -24.4l3.1 1.4m-36.8 32.1l-2 .6m-5.4 38.6l.8 1.5m2.5 -71.5l-2.7 1.4m4.2 -1.7l-2.6 2.1m17.5 60.7l-.6 2.8m16.3 -5.5l-.5 .3m11.7 -37.1l1.9 .3m22.5 11.9l3.5 .5m-23.7 .2l-1.9 .6m3 -24.6l.8 .3m-39.4 45.5l2.6 2.7m-13.2 3.2l1.2 2m32.8 -67.5l-.2 1.7m-47.3 16.3l1.5 .2m-14.7 22.5l-.4 1.8m37.6 -5.6l2.2 1.2m-30.1 25.6l.2 .8m48.9 -28.6l1.9 1.7m-18 35l.2 2.6m13.3 -54.9l3.3 1m-50 34.9l.1 3.3m30.6 2.6l-2.7 1m-17.3 -63.6l-.5 1.8m49.8 65.2l-1.7 2.7m.1 -55.8l-.9 .4"/>
<path stroke="#24509c" stroke-width="1.8" stroke-linecap="round" d="M374.6 260.6l-.6 3.5m62.7 40.5l-.6 1.2m-17.4 -27.1l-.5 1.6m34.3 -10.9l2.8 .9m-12 59.7l-3.5 1m-23.3 -23.2l.6 .4m4.1 20.6l2.9 .1m23.3 5.1l1.3 2.6m-49.9 -17.9l-2 1.2m47.9 19l3 .2m-4.8 3.4l2.3 .8m17.9 -25.5l-3.1 .8m-7.6 -32l1.5 2.1m-86.5 -3l.8 .1m73.6 45.7l.7 .8m-11.3 -51l1.1 .5m-36 2.4l1.5 2.6m2.7 -25.3l-.2 1.3m46 23.8l-2.8 .1m-40.8 29.4l-.7 3.6m40.2 -10l1.9 1.8m-69.4 28.7l-.8 3.9m57.2 -31.2l.5 .4m-49.1 16l2.2 3m28.4 -48l2.8 .7m-41.8 -4.9l-3.4 1.1m48.1 -11.8l.2 1.5m-57.2 20.9l.6 .4m11.4 28.9l-3.3 2m82.4 -21.2l1.7 2.7m-16.6 -42.2l-1.2 .1m21.1 2.5l1.1 .9m-73.2 7.7l-1 1.3m29.6 28.2l-.5 .4m-31.4 10.9l.8 0m38.4 -46.2l-3.5 1.9m-27.8 20.8l-2.5 2m18.1 -22.9l1.3 .2m20.1 48.5l-2.8 .5m18.7 -30.7l.1 .5m-27.4 -25.8l-2.3 .3m28.1 19.3l2.6 1.9m-35 24.3l-.6 .7m10.4 -44.5l.9 .6m21.5 58.4l1 1.6"/>
<path stroke="#3a6cbc" stroke-width="1.8" stroke-linecap="round" d="M411 279l1.2 .6m-48.4 49.8l.1 .6m13.5 -14.6l-2.4 .3m11.6 -53.5l-.4 .3m38.4 36.6l3.2 .5m-10.5 -26.1l-1.7 1.4m40.1 -.8l3.8 .6m-74 67.2l-.8 1.3m-29.4 -.9l.9 1.2m86.2 -15.3l-2.4 2.8m-5.8 -40.6l2.4 2.6m-4.9 -19.6l1 2.6m-25.9 53.6l-1.5 2.7m28.2 -47.7l.2 2.1m-10.8 -23.7l2.5 1.8m-28.8 21.2l-3.1 1.8m57 -18.1l-2.2 .7m-35.3 23.7l-.7 .3m-52 -31.2l1.5 3.3m80.5 42.3l-.3 .6m-52.1 22.1l-1.1 .7m47.5 -27.7l-.5 .3m-77 -11.9l-2.7 .5m40.6 38.3l.8 1.4m29.6 7.1l2.9 1.3m-72.9 -22.6l-1.2 1m90.1 -57.5l1.4 3.6m9.1 23.1l-.7 .5m-70.1 -5.7l.3 2.8m23.9 14.2l-3.5 .2m-7.1 26.5l.3 1.9m-3.1 -54.7l1.4 .4m56.3 53.5l1 .9m-17.2 -16.7l-2.9 .4m6.4 3.1l2.1 2.2m-36.3 -42.1l-1.2 1.5m-39.7 20.2l.5 3.1m89.1 -13.6l-3.6 1.3m-31.9 -14.9l.8 2.1m23.2 30.4l0 1.6m-42.3 9.2l-.9 .7m26.7 -25.8l-1 1.1m-66.3 -12.6l1.7 .1m-2.2 21l.5 1.1"/>
<path stroke="#1f4c9c" stroke-width="1.8" stroke-linecap="round" d="M424.2 323.8l1.5 2.2m-34.5 6.6l2.9 2m-7.8 -47.3l-1.9 2.3m-25.4 7.4l0 1.7m16.1 -22.7l-3.6 .4m-10.2 41.8l2.9 1.7m13.3 11.8l.5 .1m81.5 -50l.8 1.3m-34.2 42.5l-2.8 .5m19.3 16.2l3.7 1.1m-72.1 -8.4l.2 4m34 -14.2l.1 3.2m-.2 2l.3 .7m-39.9 .1l.1 3.3m3.7 1l-2.8 2.2m10.2 -66.3l-2.5 1.9m54.1 40.2l-.3 .8m-55.6 27.7l2.9 1.3m26.5 -67.8l2.3 2.1m45.1 17.8l.1 1.6m-76.1 -4.9l.6 2.4m74.9 -6.2l1.6 1.2m-1 -24.8l-.2 3.8m-.3 59.8l3.5 .9m-95.2 2.9l3.2 2m49.9 -60.8l-.8 3.1m15.1 17.4l-.4 1.4m-63.3 39.2l2.2 2.6m15.9 -48.2l-1.6 2.5m37.1 2.4l-2 .8m-54.6 1.1l-2.5 .9m15.6 -11.2l-2.5 .1m47 38.4l3 1.9m15.8 15.2l2.2 .7m13.1 -58.1l-.3 .5m-57.3 34.8l1.4 2.2m34.4 14.6l2 .4m-33.5 -57.5l-2.2 1.6m35.5 51.7l-.7 .8m-50.7 -32.4l3.7 .7m-25.1 -33.1l.5 1.2m9.1 2.9l.2 2.5m-11.8 55.2l2 1"/>
<path stroke="#183a80" stroke-width="3.2" stroke-linecap="round" d="M410.3 290.4l1.1 .5m-48.3 44.4l-1.5 .7m32.6 -12.9l-.4 .7m33.2 5.7l-1.1 3.4m-54 -38.2l2.7 1.7m66.8 -34l2.9 1.7m-51.2 54.7l3.3 1.9m53.2 -25l.1 3.6m9.9 29.5l.4 .6m-98.2 -24.9l-2.6 1.6m19.2 -31.4l-1.8 1.7m-13.4 43.8l.9 3.4m35.5 -63.4l1 3.1m32.1 11.7l-1.5 2.7m-49.8 -11.5l-1.9 3.1m-8.6 -1.3l-2.7 1.4m72.8 29.3l-3 2.4m-37.5 -28.7l-3.2 .5m-34.5 58.2l.9 .1m51.4 -32.2l-2.5 .4m-.8 42.7l-1.4 1.2m34.1 -83l-3.1 2.2m-82.7 13.3l-1.8 1.7m13.9 27l3.7 .9m9.2 22l-1.7 2.4m6.8 -2.5l1.2 .8m-7.7 -.1l-.9 1.8m31.5 -7.4l-.5 .3m12.6 -39.5l-1.6 .9m-31.4 -9.9l-.3 1.2m59.7 48.9l-2.1 1.2m-16.9 -64l-.7 .5m24.6 8.2l1.8 0m-74.6 -6.8l-.2 1.2"/>
<path stroke="#2a5cb0" stroke-width="3.2" stroke-linecap="round" d="M427.1 322.2l-.6 .2m-48.9 7.6l-2.1 2.2m27.1 -41.5l2.7 2.7m44.7 45.4l1.2 0m-48.1 .1l-1.4 .6m59.8 -59.2l-.8 1m-101.7 38.1l-.3 2m52 -43.3l-.7 2.2m6.5 -13.9l1.5 3.2m20.2 42.5l.4 1m-30.6 23.6l-.3 3.2m36.3 -36.7l.8 .2m-73.5 -16l2.1 1.8m37.7 17.2l.6 .8m-8.6 -25.3l.3 3.1m-43 7.8l-.1 4m28.8 -19.3l2.2 1.1m-26.9 7.8l-.7 .4m-7.5 48.7l-1 .1m23.7 -72.2l-.8 .2m22.3 67.5l-2.1 .3m9.2 -20.3l1.2 .6m39.5 -7.3l1.5 2.6m-42.3 -24.7l-2.8 1.7m-7.9 5.6l.4 1.7m-4.7 48.8l-1.8 2.8m17.8 -37.3l.7 1.2m22 -31.3l1.8 .1m-30.9 5.2l-1.4 2.2m-34.4 -17.7l-1.7 1m45.8 4l.8 1.3m-23.1 41l.6 .1m57 -47.4l2.3 2.5"/>
<path stroke="#183a80" stroke-width="2.5" stroke-linecap="round" d="M365 300.3l-.3 1.4m10.6 13.6l-.7 2.3m73.9 -41.8l-2.2 1.9m-15.9 29.5l-1.3 1.1m-48.6 3.9l-1.4 .3m72.3 9.1l-1.2 3.5m-71.2 -47l.5 3.4m51.2 26.3l1.4 .4m-57.5 -41.3l3 2.2m14.4 35.3l.4 .3m-35.3 -43.5l-1.6 1.3m89.4 51.2l-.6 3.2m-71.1 -56.3l-1.1 1.2m70.2 11.7l-3 1.2m-32.7 36.9l-.1 .7m-31.5 19.1l-2.2 1m29.7 -.6l.8 3.5m-44.2 -18.3l3.8 0m-4 18.3l-.8 .6m51.4 -63.2l-2.9 2.5m-2.4 63l-2.7 2.7m56.4 -31.3l-1.8 .6m-54.3 -.4l-2.8 .8m24.8 -28.9l1.4 2.9m-5.4 4.2l-3.4 0m8.3 23l-3.4 .1m-21.2 -2.8l.5 3.6m-23 9.2l.7 .5m5.5 -22.4l-.7 1.9m13.8 -27.3l-1.3 .4m-19.6 5.9l3.6 1.2m42.7 21.4l2 1.5"/>
<path stroke="#3a6cbc" stroke-width="2.5" stroke-linecap="round" d="M446.2 290.6l.7 .6m-91.2 -29.6l3.6 1.5m90.1 12.7l1.3 1.6m-58.2 20.6l2.9 1.4m-14.9 -32.6l-1.7 3.5m-3.6 26.5l.8 .4m.9 -20.6l-.1 1.5m69.9 17.6l.4 2.3m-17.7 -29.3l1.4 2.2m-52.2 32.2l1.5 3m2.4 -27.8l.5 .8m-25.1 56.4l-1.7 .1m71.8 -26.8l-1.1 2.9m-64.8 -45.5l.1 3.5m-4.8 69l-1.9 2.2m64.5 -44.4l1.6 1.2m23.9 5.5l-1.1 .4m13.8 29.3l.2 2.2m-73.1 -11.2l-.5 .1m38 -43.4l-1.1 2.8m-35.5 -22.2l-1.7 2.1m-25.3 51l-3.1 0m8.4 -6.2l-2.7 1.1m19.4 -17.1l2.2 .4m35.2 37l-.8 1.1m-10.7 -61.4l3.7 .3m16.7 38.8l-.4 .7m-40.8 -44.4l.5 .6m27.6 56.7l1.1 .6m-53.1 -33.7l1.7 .3m54.3 11.2l1.4 .8"/>
<path stroke="#3a6cbc" stroke-width="3.2" stroke-linecap="round" d="M404.6 302.6l-1.1 1.1m-30.9 -24.9l1 1.1m51.2 1.3l1.1 1.8m-2.8 28.6l1.4 1m9.1 -42.6l-.5 2.5m14 67.6l2.4 .1m-1.5 -45.4l3 .1m-74.6 -16l-.6 2.9m45.4 30.4l1.7 1.9m-41.5 -29.8l-3.8 .8m23.5 -24l-.2 1.8m27.5 37.6l.5 .1m-31.4 23.5l.1 3.3m49.4 -50.5l-.6 2.8m-8 35.5l3 1.9m-11.4 -26.4l.5 .4m-33.2 9.5l-.1 .7m-35 28.4l-2.4 .8m38.4 -20.8l-1.1 1.6m-10 -30.9l.3 3m45.1 -19.9l-1.9 1.3m-63.6 11.9l-1 1.3m30 45.5l2.2 2.2m-25.8 -34.9l1.5 .9m22 9.8l1.5 2m-31.3 24.5l.5 .6m2.4 -19.4l2.7 1.5m9.6 -21l1.2 2.6m7 -7l-.3 3.7m24.9 -27.3l1.2 3.1m-30.1 76.4l.5 1.4m58 -75.7l3.7 .4m-51 15.3l1.2 2.2m-31.4 -16.1l-.7 1.5m47.2 39l-3.4 1.1m51.9 24.6l1 .9m-40.1 -60.5l-.3 .4m-53.4 27.1l-.4 .5m13.3 -28.6l1.6 .7m75.4 37.9l.6 .1m-73.1 28.1l2.1 1.4m14.8 -59.4l-3.3 .2m19.2 25.3l1.1 3.6m8.9 -45.2l-1.7 2.3m-60.8 45.6l-1.6 .2m12.2 -29.8l1.4 1.8m-7.4 -13l-2.8 .8m50.8 20.9l-.6 3.3m-47.1 -36.1l-1 1m-7.2 51.9l1.4 1.6m58.4 -36.3l1 2.8m7.5 19.9l-1.2 .1m-70.8 26.3l.2 3.4m50.3 2.1l1.4 .6"/>
<path stroke="#24509c" stroke-width="2.5" stroke-linecap="round" d="M449.4 339.6l-3.2 .1m-87.7 -35.3l-.8 2.2m19.4 -12.2l3.5 1.5m-15.2 10.3l2.5 1.7m77.6 -21.2l-.9 1.9m-59.7 35.6l.9 3.2m21.6 -66l2.5 .9m28.5 69.7l-.1 .7m9.4 -50.7l-.8 3.4m-68.5 35.2l1.9 1.6m8.7 -20.3l.1 .8m-32.7 31.8l2.5 1.8m51.1 -53.5l2.6 1m22.5 6.1l-.7 .2m-28.1 29.4l-3.1 1.6m18.6 -6.9l-.2 3.2m-37 -27.9l3.3 0m4.1 38.8l-1.2 .1m68 -24l-3.8 .3m5.5 -3.4l3.4 1.5m-49.4 -11l-.2 2m-16.6 -3.9l-2.8 2.3m-28.9 -21.7l-2.5 .3m85.2 39l2.1 2m6.3 -40.8l.3 2m-37.3 16.2l.3 .7m-64.9 -9.1l-.3 3.9m83 -5.7l2.4 .1"/>
<path stroke="#1f4c9c" stroke-width="2.5" stroke-linecap="round" d="M398.2 307.3l-2.9 1.7m3.5 -19.7l-3 .6m.3 19.9l.8 3.2m-21.5 -43.7l-1.2 0m9.9 34l-2.7 .3m68.3 24l.6 1.8m-41.7 -28.3l-1.6 3m53.1 3.6l-.4 3.9m-48.1 23.6l-.7 .3m-19.2 -62.6l1.1 3.5m-17.8 55.7l.8 1.9m55.4 -15.4l.7 .5m-5.7 -31.4l-.4 .4m-42.2 16.4l.6 1.5m6.7 -12.6l.9 1.1m-23.3 27l.9 .8m73.1 -11.5l-1.9 1.2m-64.9 24.7l0 1m21.8 -17.7l1.2 3.6m-28.7 -54.4l1.4 .9m45.2 -5.8l1.5 1.4m31 73.6l1.3 .5m-55.1 -29.3l-.6 1.7m66.6 -15.7l-.9 1m-26.2 37l-3.6 .2m-36.9 -1.3l.7 1.6m-7.2 -52.6l2.2 1.4m-10.2 15.7l-.7 1.2m63 -27.7l-.3 .4m-14 33l-.3 .9m-15 15l1.2 .9m-49.6 -52.1l2 .9m25.3 -7.8l2.2 1.6m54.5 73l2 1.7m-6.6 -37.3l-1.6 3m-21.5 -38.2l.2 .5m-45.3 55.1l.3 .6m52.1 -29.1l-2.2 .3m-12.9 43.7l-.6 3m39.9 -13.5l-1.6 1.3m-54.6 -2.3l2.3 1.4m-14.4 -43.7l-2 .8m4.5 32.6l3.1 1.5m53.3 -17.2l-.8 1m-51.1 6.7l2.6 .6"/>
</g></g>
<clipPath id="c02"><rect x="465.1" y="261.0" width="107.3" height="82.6"/></clipPath>
<g clip-path="url(#c02)"><g filter="url(#soft)">
<rect x="465.1" y="261.0" width="107.3" height="82.6" fill="#a08a78"/>
<path stroke="#7a5434" stroke-width="4.2" stroke-linecap="round" d="M471.8 263.3l.1 0m-5.6 1.1l2.6 .9m-2.6 11l2.8 .5m7.3 -3.2l-1.6 1.4m.8 -5.9l-1.5 1.2m25.2 -.1l1.7 1.4m-11.9 2.3l-.9 1.9m-2.5 -8.1l-.5 .2m46.8 3.7l-.8 .7m2.8 1.3l.1 0m4.8 -.7l-.2 .4m3.7 -10.8l.9 .6m3.8 10.3l1.9 .9m-10.5 -2l-2.5 .2m22.8 -4.7l.1 .2m11.5 7.6l-2.5 .4m-90 7.9l-.4 1.8m3.7 3.2l1.8 .4m-4.7 -.5l-1.2 0m23.1 -9.5l.3 .6m17.1 9.9l.6 2.3m-8 -2.4l-1.1 .8m7.7 -2.7l.8 .8m-4.1 -4l-.8 .1m-1.3 8.3l1.5 .6m12.1 -12.1l-.2 1.7m19 9.8l-.8 1.1m-3 -8.7l-.4 2.6m-.3 .8l2.1 0m-2.4 4.1l0 1.2m6.3 -10l-.2 1.2m8.8 5.3l-.7 .8m13.3 -.3l-.1 2.6m-6.7 -11.4l.4 2.6m-88.3 9.7l.1 0m11.2 2.8l-1.9 1.1m13.3 -3.9l-1.1 .3m15.7 5.3l1.7 .9m-8.3 -3.3l.1 0m28.8 11.3l-.7 .6m-2 -12.2l1 .2m-10.7 9.1l-.3 .2m38.7 -13l-.6 .7m12.6 14.7l-.3 .2m-13 -4.9l.5 .1m-79.6 10.8l.5 1.3m-12.3 -4.2l1.4 .1m15.8 9.2l-.6 .3m-3.4 -6.7l.1 0m14.9 1.6l1 1.3m-.2 1.8l-.4 .1m1.7 2.5l-.7 .1m-2 -6.7l-.2 .5m13.9 -5l-.5 1.3m18.1 3l.1 0m4.5 -5.1l1.1 0m-1.1 3l-.1 1.6m-6.3 5.4l2.3 .3m13.5 -6.3l-2.4 .1m14.2 5.4l.7 2.5m-7.4 -1.7l1.4 .2m-78.5 20.9l2 2m21.8 -7.1l1.8 2m-8.2 3.1l.2 1.8m13 -4.2l-.6 .2m-9.8 -8.3l1.7 1.4m6.2 -1.7l.8 .3m4.8 5.2l1.3 1.1m-2.8 -1.9l.1 1.2m10.9 5.2l.4 1.3m-.4 -1l-.4 .7m-1.1 -5.8l-.4 .1m1.8 -10.5l-1.2 2.3m-.6 -2.2l1.9 .4m-7.7 7.6l-.3 .8m32.9 -5.5l-1.4 .1m11.5 -4.4l1.5 1.2m1.2 14.1l.1 1.3m9.1 -4.1l1 1"/>
<path stroke="#a07448" stroke-width="4.2" stroke-linecap="round" d="M467.2 269.4l-1.4 1.6m12.5 -4.2l.2 1m.6 -7.6l0 2.4m-4.6 13.7l-.6 1m18 -10.9l-1.6 .5m8.8 -.1l-.5 2.8m12.6 -5.4l0 .3m-1.7 5.4l-1.6 1.4m-5.4 -10.9l.6 1.3m9.6 10.5l1.9 .5m.7 -1.2l0 .2m13.2 -6.3l-.5 1.7m-6 3.3l1.2 2.4m1.2 3.4l-1.9 2.3m16.3 -1.5l-1.7 .5m6.2 -17.5l1.6 2.4m-2.3 10.2l1 2.5m4 -9.1l-.3 .1m16.6 7l-1.1 .5m-87.2 8.1l-.3 .8m-.6 7.4l.3 1m-1 -2.7l.8 .4m2.1 -2.4l-.2 .9m-3.1 -7.6l-1.6 2.3m2.7 -.2l-.1 0m44.8 -.2l-1.7 1.1m-.8 5.2l-.8 1.9m-6 4.1l-2.2 .7m15.9 -10.8l-.1 .5m16.7 8.3l-2.3 .3m15.9 .9l.7 .4m-10.2 -16.3l-1.1 1.3m25.5 -.1l-.1 .1m1.1 9.2l.1 .4m-10.9 -9.5l-2.7 1.4m-78.3 28.8l-.1 0m.8 -1.7l-1.6 2m-9.7 -11l-1.3 2.5m30.9 4.4l-1.2 .8m2.9 -4.4l2.3 .4m-15.2 4.2l-1.7 1.6m16.3 -7.6l2.2 1.6m16.6 7.7l1.3 .7m24.1 -4.3l-2.4 .5m11.1 0l-.4 1.8m-13.7 -2.8l2.1 2.1m-2.6 -9.4l0 1.7m26.2 -1.6l.5 1.8m-2.6 -5l.1 0m3.5 7.2l.1 .6m-7 6.9l-.1 .3m-2.2 -13l.3 1.1m-77.7 27.6l0 .1m13.1 -6.6l.5 0m-3 .6l1.7 1.2m-3.5 -8l1.2 .3m-5.1 5.7l-.4 1.7m23.2 2.3l0 .7m-6.1 -3.1l0 .9m11.2 -.8l-.1 1.8m18.8 -2.9l-2.2 .7m-.2 -5.9l1.1 .6m4.5 1.8l-.8 .2m7.3 4.6l-1.7 .7m6 -2.7l-2 1.3m.5 -4l-1.2 .2m13.3 7.1l.5 1.3m12 -6.7l1.1 .5m-9.3 .9l-1.5 1.2m-1.6 -1.4l-1.4 2.1m-75.1 20.4l1.4 1.4m.6 -4.2l-2.2 1.7m10.2 1.1l2.6 .4m4.2 -8.2l1.9 .4m-1.3 -3l1.8 .8m32.3 7.9l-.1 .1m-2.8 -14.4l1.2 1.8m-4.3 1l-.2 0m24.6 -.5l1 2.8m2.2 5l.4 2.6m4.2 -6l.9 .2m2 5.4l.5 .6m-7.9 -6.7l2.5 .2m7.3 8.9l.1 .1"/>
<path stroke="#94683c" stroke-width="4.2" stroke-linecap="round" d="M477.1 268.1l1.1 .6m-11.1 .6l-.1 .2m10.7 5.6l-.8 0m-2.4 -9.3l.6 .3m-8.4 -5.3l-.2 1.4m-1 -1.3l1.1 2.7m22 6l-1.3 .1m5.5 4.9l-1.1 .6m21.4 -9.3l-1.4 .6m-4.8 8.5l1.1 1.3m13.9 -5.5l2 1.7m-4.7 -7.7l-.8 2.5m4.3 2.2l.9 0m6.8 -7.7l2.5 0m17.6 5.9l-2.6 .4m-10.4 8.1l-.4 .3m3.9 -6.9l-.2 1.7m10.5 -5.9l.7 1m-14.4 8.3l1.3 .8m16.7 -6.9l-.5 .9m1.4 -2.7l-.3 1.3m14 -2.4l-1.1 2.3m-2.1 -.9l-.6 .9m-5.9 -3.9l-.2 .2m-79.3 12.6l0 1.4m-12.2 2.1l-2.2 1.8m18.1 .8l-2.7 .7m24.8 -3.4l-2.3 .7m12.4 5.2l-.1 .3m-15 .1l.4 2.6m20.7 -12l1.2 .6m1.1 15.9l.3 .2m2.8 -4.8l-.8 .8m15.3 1.4l-1.1 .1m3.1 -13.5l-.1 0m27.5 7.7l0 .8m-12.8 -6.2l-1.2 2.7m8.4 1.1l-.7 1.3m3.9 -1.9l1.9 .3m-101 12.6l1.3 1.7m-5.4 6.2l1.7 .6m43 4.9l-1.7 1.2m5.6 -9.5l2.1 2m2 -2.9l-1.7 .3m12.8 1.5l1.3 2.7m-1.4 3.1l2.3 1m-10.3 -8.3l1.4 .4m7.8 6.1l.3 1.4m3.6 -12.8l.5 1.6m-4.9 1l-2.1 1.3m27.4 .8l-.7 .1m.2 -2.3l-2 1.1m-56.7 24.8l1.3 .8m-5.9 1.5l2.8 .1m-9.8 -7.9l-1.1 .4m5.9 -6.6l.6 1.9m-4.7 -.8l.9 2.3m4.5 10.4l-.1 .6m-1.2 -6.5l.1 2.3m21.4 .3l-2 .6m-7.5 2.1l-1 1m31 -2.7l-.3 1m-.2 -12.1l.1 .2m-5.3 -2.3l1.2 1m25.5 10.2l-.8 1m19.5 -4.2l-.5 .3m-91.6 15.4l-1.2 2.6m-1.7 -2.1l.4 1.7m3.9 -9.8l1.8 .5m-13.2 8.1l1.7 .5m3.9 -5.1l1.6 1.7m-2.5 8.2l-2.1 2.1m3.4 -13.2l-1.6 1.3m24.1 8l.2 2.8m6 -.2l0 2.3m7.2 -4.9l.7 .8m15.3 -.2l2.4 .2m-4.4 -6.4l.1 1.3m19.8 -5.1l-.5 .7m5.7 3.6l.6 .3m3.5 -4.7l-2.9 .7m14.5 4l-1.2 0m1.5 5.1l-.5 .5m-12 -10.7l.7 1.3"/>
<path stroke="#94683c" stroke-width="2.6" stroke-linecap="round" d="M481.3 263.3l.5 2.1m-17.7 7.4l2.2 1.6m2.6 -10.7l1.8 .1m2.9 -1.3l.8 .3m1 12.4l1.8 .5m-.3 -7.4l.4 .4m15.6 -4.5l1.9 .8m4.6 -.6l.1 0m-2.6 -.5l.1 0m3.4 -2.6l-1.6 .2m-8.1 .7l-1.4 .2m19.8 -.9l-.3 .4m-3.5 12.3l-1 .2m7.5 -6.8l0 .1m-5.9 3.8l0 .4m14.6 -10.3l-.9 .3m14.3 12.1l.2 .5m25.7 -4.8l-2 1.2m-.5 4.7l.7 .3m3.9 -10.1l-1.3 1.9m3.8 5.1l-.2 .4m-97 17.8l1.7 1.9m4.7 -10.8l-2 1.1m27.4 6.5l-.8 1m-2.1 -2.8l-.1 .1m-3.3 -.6l-1.2 1.2m11.7 -6.5l.2 1.4m4 -6.1l-2.6 1.4m28.4 14.1l1.6 .5m9.9 -10.8l.4 .4m5.7 -3.9l1.2 2.6m1.9 11.6l-.1 .4m-10.2 -7.9l2 1.6m13.5 -7.4l0 .1m-1.5 5.1l1.8 .7m11.7 .8l-1.3 .8m-100.6 13.7l.7 1.8m8 1.4l0 .1m13.3 4.2l.4 0m-2.7 -1l-.1 1m24.7 -4.4l0 .2m2.1 -.5l-1.2 2m.1 -6.4l.1 .8m-11 2.7l1.9 .6m3.4 5.7l-1.1 1.6m24.9 -1.3l-2.2 .2m15.5 -13.5l0 2.1m-6.9 -.8l.5 .2m1.9 4.1l1.6 .4m-1 -5.5l-.1 .6m-3.8 -1.9l-.5 1.5m-60.4 16.1l.1 0m-11.2 6.6l.1 0m-1.5 -4.7l1.9 .9m13.8 8.9l-.1 .1m14.7 -14.4l-.2 1m6.9 2.8l2.4 1.4m-1.7 2.1l-.3 .1m2.3 0l.6 .9m5.1 1.5l.2 0m17.1 5.4l.1 0m18.9 -6.9l.2 .4m5.5 1.8l.4 1m-12 -4.5l1 1.9m12.3 2.8l-.1 .5m13 -1.2l-.3 2.4m-8 2l-.5 2m1.4 -2.4l0 2.2m-78.5 4.8l2.5 1.2m-4.9 8.9l.9 1m-12.3 -4.9l-1.1 2.2m11 -9.7l.3 1.8m.1 4.1l-1.8 1.9m12.6 4l-2.6 .6m12.1 -12.5l1.5 .5m5.3 -5.7l-.1 2.8m6.8 10.5l-1 .2m-4 -4.8l-.4 1.1m4.1 5.3l0 .9m12.1 -11.1l.9 1.8m9.5 1.1l-.4 1.7m1.6 -8.2l.4 .3m-2.6 10.1l.1 .1m22.1 .5l.2 .3m13.8 -8.9l-1.3 1.1"/>
<path stroke="#a07448" stroke-width="3.4" stroke-linecap="round" d="M479.3 275.8l-.7 .5m10 -12.9l-1.4 0m17.7 8.9l.7 .4m-2.2 -2l-1.4 .9m20.3 5.8l0 .2m.3 -6.2l-.3 1.7m-2.6 -8.3l0 .3m16.2 -3l-.6 .7m3.9 0l-.4 1.5m3.7 11.3l-2 1.6m24.8 -3.2l.6 2.1m2.6 -7l2.7 .5m-7.5 -7.2l0 .1m-4.5 10.5l-1 1.4m-81.2 17.8l-1.1 .6m-9.2 -9.1l-1.9 .8m31.7 .9l.1 1.8m-6.2 1.1l-1.3 1.5m24.6 -1.3l.8 .3m20.4 4.8l-.9 .8m-7.7 -9.7l.5 1m2.8 -4.7l-.6 .2m-2 2.2l.1 1.2m9.8 -6l-.9 .2m17 6.5l.7 1.8m-13.5 -6.3l-.9 2.4m31.7 2.4l1.6 2.2m-99.2 16.7l-.5 2.3m-2.1 -6.2l-.1 .1m-3.1 -2.4l.9 .3m8.4 8.4l-1.9 .7m15.6 -5.6l.1 2.2m3.9 -4.8l1.4 1.8m4.4 7.9l.3 .5m14 -15.9l-1.4 1.6m-4.9 5.5l.3 1.7m-.9 4.6l1.8 1.6m.9 -.1l.1 .1m-7.9 -1.5l-.3 .3m31.8 -6.2l-.9 .5m6.4 -7.6l.8 1m5.7 .6l.6 .9m3.5 7.3l-.5 .6m-5.1 -5.6l-1.1 1m.6 5.1l-2.3 .8m7.6 -4l-2.2 1.8m-75.8 12.9l-.9 .3m-2 -6.2l-.5 1.1m.9 2.1l-2.8 .9m10.1 10.8l-1.8 1.2m8 -14.3l-1.6 .3m-9.3 4.1l-2.3 .2m20.4 -.4l-.1 .1m-5.8 1.1l.1 .3m15.8 .1l-.3 .1m-7 -2.6l-2 1.5m13.3 -5.2l.2 2.9m.4 2.9l-.2 .4m4.7 7.9l-.2 .1m20 -8.1l0 1.2m20.6 -7.2l.8 1.6m8.9 -1.8l.9 .6m-73.8 30.8l-.4 0m18 -8.7l.1 0m10.5 -5.3l.4 .9m-10.5 3.6l-1.2 .5m18.3 5.5l.4 .1m4.9 -3l.7 1.2m6.7 -6.7l1.4 .6m-6.2 -4.8l0 1.4m-3.8 2.7l.9 1.4m15.6 -.9l-.9 .5m2.1 10.3l-1.8 .9m-4.3 -14.4l.2 .6m27.6 1.9l.1 .5m-3.4 -.4l-.7 1.4m-1.4 3.2l1.3 .1m-6 -7.6l.8 .6"/>
<path stroke="#ac8050" stroke-width="3.4" stroke-linecap="round" d="M477.7 261l.1 .2m-7 1.2l-.8 1.1m29.5 8.8l.4 1m0 -11.2l.6 .5m.7 14.2l.5 .7m15 -.7l.9 .2m-2.5 -15.1l.4 .6m-5.1 6.1l-1.4 2.5m17.3 -2.6l.9 .6m-8.1 -7.4l1.4 .1m-.9 6.2l0 .2m9.4 8l1 .1m-9.4 -5.6l-1.4 .2m11.6 .3l2.4 .8m12.7 -2.7l.5 .2m5.4 -5.7l1.8 .7m12 5.6l-2.3 1.7m-91.6 9.4l-1.1 1.9m40.1 8.4l.3 .9m.8 -6.8l1.5 .2m12.6 2l1.7 .4m11.2 -5.4l-2.9 .1m.8 1.5l1.3 2.5m23.8 1.9l-1 2.8m-.2 -8.7l-.1 .4m4 5.2l-.8 2.1m-96.1 11.9l-2 1.3m9.6 -.6l2.6 .4m-4.3 -7.6l1.1 1m24.8 -2l-1.9 .4m-4.3 9.8l2.4 .9m11.4 .7l-.3 .8m9.2 -9.5l2.3 .7m-14.6 7.2l.1 1.6m0 2.4l.1 .1m1.7 -4.5l-.1 .2m-3.3 -2.1l.5 1.1m1.1 3.1l-1.6 1.9m43.7 -9.9l1.7 .2m2.1 -1.6l2.8 .9m-13.4 0l.1 2.9m9.6 1.2l.2 .7m15.2 -8l.7 .7m-2.1 -.5l-.1 .3m-6 -1.5l-.6 .8m1.4 11.3l-.1 .4m-.7 -12.3l1.2 1.9m-90 15.9l.3 .2m7.9 6.4l-1.5 .9m-7 2.4l2.1 1.5m2.9 -7.3l-.3 2.5m8.8 -4.7l-2.1 .6m10 .4l-.3 1.7m27.5 -4l-.2 0m-5.4 -1.5l-.4 1.7m25.4 7.4l1 .2m1 .9l-2.1 1.7m7.8 -7.7l0 .1m19.3 -3.1l1.8 1.4m2.7 2.5l.2 1.1m2.3 -1.9l.9 .8m-4 -6l1.2 1.1m-4.7 7.6l.5 1.7m-5.9 5.1l-2.5 .1m-87.6 13.7l-.9 .5m19.9 -2.9l-1.1 1m5.8 -6.7l-.9 .1m17 3.5l.4 1.5m6.7 3.6l-.7 2.5m-10.3 -6l.6 .3m10.9 -3.2l2.7 .4m-15.9 6l-1 .3m13.1 -4.8l.3 .1m-3.9 -8.1l2.2 1m6.3 7.5l.2 1.4m2.2 -5.9l2.2 .7m-2.5 -5.8l-1.2 2.1m3.8 1l.1 .5m8.7 -3.4l.6 .2"/>
<path stroke="#7a5434" stroke-width="2.6" stroke-linecap="round" d="M481.2 262.5l-.3 1.5m-12.1 1.1l.6 .7m-1.4 7.9l.1 .6m1.6 -4.8l.1 0m25.2 7.6l-.1 .1m.4 -.8l.6 .3m33.1 -1.1l-2.5 .3m25.8 -3l.3 .3m0 -8l1 .6m-16.4 -1.7l-.9 .9m9.5 11.7l-1.9 .8m1.9 -14.3l-.7 1.1m14.3 -1l-.5 2.7m12.4 8.7l-.1 0m-69.2 13.1l-.1 .2m13.9 -3.4l-.1 .3m-13.5 0l-2.6 1.2m4.1 -8.5l1.4 .1m30.4 .9l-1.7 1.1m1.3 -1.8l-1.4 .4m-7 5.8l-.6 1.5m15.9 2.7l-1.9 1.6m-1.7 -12l0 2.9m14.8 11.9l.1 0m13.1 -11.8l.9 .4m-85.6 14l-.8 2.3m-9.1 .5l.5 .1m-1.4 6.6l1.2 1.3m7.4 2.2l0 .1m17.6 -13.5l.4 .7m-13.5 5.7l2.1 .4m1.3 -2.7l-.2 .4m12.9 6.5l1.3 1.4m3.5 -8.2l-1.2 2.5m-1.3 .8l-.2 .2m-.5 2l1.4 1.1m20.6 .6l-.8 .8m1.9 1.2l-.8 .3m11.3 -4.9l.1 .4m1.9 -8.8l.1 0m34 0l.3 .7m-8.5 -1.5l-1 .1m-95.4 23.2l.2 .2m20.1 6l.4 1m.7 -2.6l1.3 2.4m4.1 -8l-.2 .5m-10 4.7l.1 .2m16.2 -2.1l-2.7 .5m6 2.5l-1.2 .5m6.8 -4.4l.5 .4m11 -8.9l.1 2m13 4.7l.2 .4m-11.9 -7.1l-2.9 .2m32.7 13.4l-.8 2.4m1.4 -8.9l1.3 1.7m-7.2 -3.4l.6 .4m7.2 -4.3l-2.8 .5m1.9 7.2l.5 .8m-13 -8.9l-1.7 .4m24.4 1.7l2.3 .2m-82.1 14.9l-.6 1m6.7 12l1 .2m10.2 -5l-.8 1.3m-14.2 -10l-1.2 1m4.3 13.6l.5 .8m10.1 -3.5l0 2.4m29.2 -1.1l.6 .4m-7.8 -.3l2.2 1.1m11.8 -13.4l-.2 .7m-6.1 7.5l.1 .1m5.9 -6.3l-.4 .2m3.8 7.7l0 .6m7.8 2.8l1.5 .7m.9 -2.1l-.6 1.8m-9.2 -4.3l.5 .2m15.7 .7l.3 2m4.7 -12l-.4 .5m7.3 -1.2l-.7 2.2"/>
<path stroke="#7a5434" stroke-width="3.4" stroke-linecap="round" d="M481.8 267.7l-.4 .4m-14.5 6.8l.4 1.3m2.7 -7.3l.4 .1m8.1 -1.5l-1.7 2m-10.9 -4.7l-.6 .4m24.4 -1.1l-.6 2.7m14.8 -6.4l-.1 2.1m13.3 1.5l-.6 .6m-10.8 9.6l.3 1.5m8.3 -4.9l0 .4m19.1 -3.4l-1.2 1.5m2.5 .2l1.4 1.1m5.8 -4.1l1.5 .8m4.2 3.3l-.6 1m26.2 -.6l-1.7 1.2m-.5 -1.4l.3 .4m-6.5 5.1l2.1 1.8m-91.8 4.5l.1 .2m3.7 3.4l1 2.5m-5.2 -4.4l-1.8 .2m22.6 -5.5l.3 2.4m17.3 .1l2.1 .2m13.4 2l2.3 1.7m.3 -1.2l0 .2m-2.8 6.3l1 .6m2.8 -6.7l-.1 0m13.7 -3.2l2.2 1.5m-9.7 4.3l-.4 .6m13.6 -1.5l.1 1.6m-4.6 3.1l.8 .5m22.4 -9.3l.1 0m-15.1 6.8l.2 1m7.2 1l0 .4m2.7 -1.8l.2 .5m-8.3 -8.5l-1 .2m-80.5 15l.5 1.4m1.7 -.9l-.7 1.1m-9.6 1.8l1.9 1.2m25.7 -2.9l.1 .1m-2.3 -4l-1.4 .7m-4.1 0l0 .1m18.7 2l.2 .3m8.9 4.6l0 .1m-10.6 7.9l-.1 0m33.5 -4.2l1.8 1.8m1.6 -3.9l-2.1 1m7.5 -6.9l-.4 .8m6.1 -4.6l.2 .5m-12.9 4l1.2 1.5m1.1 -2.8l1.6 2.3m25.1 2.9l.9 .5m-103 19.2l-1.1 2.2m10.6 -9.8l-2.5 1.1m4.3 -1.5l-.4 .5m15.3 -.6l1 .2m-2.6 -.5l.6 .8m24.6 4.9l.3 .2m-9.5 1.1l.6 1.3m-5.6 -7.8l-2.7 .1m26.1 1.6l-.9 .2m1.3 -5.2l.1 2.4m-6.6 12.6l1.9 .8m10.8 -16.3l-2.7 .9m-1.7 6.6l1.4 1.4m4.2 -2.5l.9 .9m33.8 2.2l.1 0m3.3 -1.7l-.4 .7m-16.9 .8l1.1 .8m-83.9 18.4l-1.2 1.7m-.2 -4.6l-.4 1.1m13.7 -3.8l-.2 .5m35.2 1.2l-.3 .6m-11 -6.2l-1.7 .6m29.5 -2.4l.6 .4m-15.5 14.4l0 .2m1.4 -11.2l-1.6 .6m14.7 -3l.2 2.9m1.1 -1.5l1.8 1.2m4.2 7.3l2.1 1.5m27.1 1.6l.3 .7m-5 -3.3l-1 .4m.1 2.5l-.4 0m6.6 -3.5l.6 .5m-16 -3.1l2.7 .7"/>
<path stroke="#845c34" stroke-width="2.6" stroke-linecap="round" d="M467.3 272.4l0 .5m8 -6.3l-.5 1.6m9.9 4.7l.2 2.7m14.9 -13.1l-.4 .5m-11.1 .8l.5 1.9m26.5 6l.5 1.1m-3.3 -3l1.7 .1m-7.6 6.8l-1.9 1.3m12.4 -5.8l-1.9 1.1m8.2 -12.4l-.8 1m7.2 10.1l.1 .2m1.9 .9l-2.2 .4m4.4 -6.8l.5 2.2m20 7l-1.5 .3m12.9 -8.2l.1 .8m1.1 -5.9l-2.7 .1m-6.7 11.5l-.8 2.4m-.5 -3.4l.6 .4m-89 5l.5 .5m-.1 9.8l-2.6 .4m11.8 -5.2l.9 2m-3.9 5.9l-.2 .1m6.5 -11.4l1 .4m-6.5 8.7l.3 .3m22.5 -3.7l-.7 .2m-.7 1.8l2 .8m11.3 3.9l-.7 .7m-8.7 -8.2l1.6 2.5m24.5 -.1l-.1 0m8.1 -4.6l-.5 .1m-.9 -.2l1.5 .3m17.1 .8l-2.4 .2m-10.5 -5.9l-1 2.8m2.3 -4.4l1.9 .4m13.7 8.9l1.9 .6m-2.8 -.6l2.3 .3m.6 -1.7l.3 1.1m-77 21.6l1.7 1.5m2.7 -3.5l-.5 .1m3.1 -.2l2.7 .9m3.7 1.7l-1.3 .6m4.6 -5.4l-2.7 1.2m15.9 -8l-.3 .7m-9.6 6.3l.1 .1m31 -9.8l.9 1m5 11.1l1.3 1.2m10.9 -9.4l-1.1 1.1m-8.3 7.3l-.3 2m21.2 -7.7l.9 .1m-8.6 -4.6l.9 1.1m3.4 10.6l.3 .1m8.9 -6.3l2.3 1.5m-6.4 -7.8l-.1 .6m3.4 -.7l.6 2m-86.2 24.6l-1.3 .5m-.8 -11.2l-.2 1.4m-12.2 -2.3l1.2 1.6m2.5 4.6l-1.4 .3m7.1 -2.7l-.1 .1m18.2 4.6l-1.4 .7m8.1 3.8l1.8 1.5m13.9 -7.9l2.1 1.2m-15.4 -6.1l-1.5 0m9 2.4l1.7 1.3m-3.9 10.7l-.9 .6m.1 -12.4l.7 1.6m10.1 1.7l2.1 1.3m1.9 -3.7l.3 1.3m9.2 .4l.3 .2m10.8 -5.2l.1 0m.1 8l-2.4 1.5m-2.4 1.5l.2 1m31.3 .4l-1.1 2.2m-.4 -14.2l.5 .5m-9.8 .4l-2.2 1.5m-85.1 23.1l-.9 .5m.1 -7.9l.3 0m21.6 -.7l1.1 .4m-1 3.4l-.5 .4m5.5 1.4l-1.2 1.7m-3.8 -7.6l-.2 1m-4.8 5.3l-.7 2.3m12.9 -1.1l.1 0m-10.9 1.3l2.4 1.3m14.3 -10.9l2.4 1.4m-2.9 .6l-1.2 .7m5.2 -4.7l1.4 2.1m10 1.3l0 1.5m12.7 2.1l1 .8m11.1 -.3l-1.9 .4m8.8 7.2l1.5 2.1m-8 -5.5l.9 2m4 -5.8l2.1 1.4m-3.8 2l1.4 1.6m-8.4 -12l-.2 1.7m20.3 0l-.4 1.9"/>
<path stroke="#845c34" stroke-width="4.2" stroke-linecap="round" d="M479.1 269.3l2.2 .6m9.7 .5l.5 1.3m5.2 -10.3l.2 1.7m-.2 11l-.2 .2m-2.6 -7.1l1.4 .6m5 -3.7l.1 0m-15.9 12.5l.3 .7m7.8 .1l0 .2m21.4 -8l2.2 .4m-3.8 3.7l0 1m1.1 -6l-1.1 2.6m-11.4 1.5l-.2 2.2m43.7 -5.4l-.2 2.1m-.9 2.3l-1.2 1.3m6.5 -8.3l1.6 1.3m-2.6 6.8l2.3 1.7m17.3 -12.2l-2 .8m-3.2 8.9l.2 .1m-6.8 -.6l.8 2.1m13 -7.1l.1 0m-92.2 9.5l-1.4 1.4m6 -.1l.9 1m15.3 1l-.4 2.3m-5 2.3l-1.3 .8m6.9 .4l2.8 .7m3.5 -6l.6 .1m8.1 2.5l.8 .8m-7.1 -2.3l-1.2 1.8m9.3 6.2l-.6 1.4m15.7 -14.4l.3 1.8m23.1 3.7l.1 1.5m-15 -3.6l0 .2m10.9 .5l-2.2 .7m8.8 5.9l.9 .4m10.3 2.2l1.1 2.7m1.8 -14.2l.2 .1m-12.1 2.9l-1.5 .8m-76.4 10.2l.2 2.2m-14.5 -.2l.1 .1m1.6 1.4l1.1 2.3m30.7 4.6l.3 .5m15.8 -8.3l-2.6 .7m-9.9 -2.9l1.2 0m5.3 .5l-.9 .6m36.8 4.8l.9 1m-.6 4.7l-1.6 .9m5.1 -2.6l-.1 1.5m14.3 -10.5l-1.4 2m-3.1 9.7l.3 .7m-79.4 9.8l-.8 .4m-9.1 1.6l1.1 2.6m-6.7 1.9l2.5 1.1m32.1 1.4l0 .8m-14.3 -15.7l-.3 .2m10 5.8l2 .5m8.5 8.3l1.3 .8m4.7 -12.3l.1 1.3m18.1 3.7l-1.3 .8m6.7 -3.1l-.7 .3m10.3 -.8l-.1 .9m9.3 -2.5l-.5 1.2m-13.1 6.1l-.3 1m12.4 -7.3l-1.9 1m-10.4 4.9l-.5 .4m20.3 2l-2.1 .9m1.5 -15.5l-.1 1.9m7.2 5.9l.4 .4m-100.4 9.8l.2 .1m6.8 5.4l-1 2.3m-.3 -10.2l-.5 2.8m-.7 11.6l1.2 1.5m24.4 -4.2l.1 .2m-10.1 2.2l.5 .2m21.7 -1l.6 1.3m-4.8 -10.8l-1.2 .8m25.2 3.4l0 .1m11.3 6.3l-1.6 .6m9.3 -1.7l-.5 1.6m5.9 -11.7l-.4 1.6m-8.9 -2.3l1.1 .5m21.1 11.9l-1.4 1.8"/>
<path stroke="#ac8050" stroke-width="4.2" stroke-linecap="round" d="M475.6 262.1l-.7 .1m9.8 4.2l-.2 .2m14.9 .5l.2 .4m-11.5 2.3l2.6 .8m16.7 .8l-.1 1m10.1 -10.6l1.8 .9m-16.5 4.9l-1 2.7m8.6 -9l1.6 2m15.9 1.6l.2 .8m8.1 6.3l.9 1.7m-17.2 -7.6l1.5 .1m27.8 9.1l.2 .3m1.2 .5l.9 1.8m-2.9 -16.2l.2 1m4.1 -.6l-1.9 1.2m21.5 10.3l-1 .6m-1 -2.1l.1 .2m-104.1 8.9l.2 .2m11 10.7l-1.5 .5m-6.5 -9.2l1.9 0m-4.2 1l-2.3 .8m33.1 -.2l.5 2.3m4.4 -9.2l-1.1 1m26.5 -.3l1.5 .6m-1 1.8l-2.6 .6m27.6 9.9l-2.7 .6m-8.4 1.4l0 .2m-3.8 -4.5l-.2 1.7m8.9 2.3l-.5 .4m17 -3.4l.7 1.6m4.9 -4.8l-.5 2.1m-89.6 20.3l.9 .1m-3.6 -1.5l1.9 1m-2.4 -15.8l.2 2.4m9.9 5l-1.2 1.6m25.8 6.6l-.4 .6m-2.6 -12.5l0 1.6m-.6 5.9l.9 2.5m5.4 -2.2l-.2 .7m3.4 -7.3l-.1 1.2m3.2 1.9l-.2 0m-1.3 4.2l.7 .8m17.2 -.3l1.4 1.7m2.4 -6.8l-.6 .1m15.8 3.1l.2 .2m7.2 -10.3l.3 1.8m-6.6 11.1l-1 .1m5.7 -12l-1 2.5m-93.2 27.2l-1.4 .5m16.1 -5.3l-1.5 1.1m19.9 .7l.9 2.6m-7.4 -12.9l-2 .4m7.4 6l-1.1 1.4m13.5 5.8l-.5 .1m-8.4 -1.4l2.3 .6m24.4 -12.8l1.4 .9m.8 -.7l.4 .3m16.6 13.9l1.9 .7m-7.5 -8.5l.1 .8m19.6 6.7l.1 0m-86.5 15.6l-1.1 .6m11.9 -9.1l1.4 .5m1.1 1.7l1.2 1.2m-1 -8l-.2 1.1m21.9 8.3l.3 1.8m5.9 -3.2l.6 .4m16.7 -8.8l-1 1.4m-13.6 2.3l-2.3 1.9m35.2 2.7l0 .2m12.1 -8.1l-1.5 .7m-4.7 11.2l0 .2"/>
<path stroke="#a07448" stroke-width="2.6" stroke-linecap="round" d="M477.6 275.5l-.2 0m-.3 -7.8l.2 0m12.4 -1.4l.9 .1m22.6 -1.2l-2.1 .2m7.2 -.7l-1 1.8m10.3 -4l.6 .1m3.7 -1.4l1.2 2.2m2.6 10.4l-1.7 .3m-10.5 -12.3l1.4 1.6m-4.7 9.1l.9 .4m30.8 -6.3l-.4 1.2m8.9 2.8l-2.9 .2m-46.2 9.2l.3 .6m22.6 5.7l.5 .5m.1 -6.8l-.8 .5m-3.5 .1l1.5 .9m2.1 3.6l.3 2.7m12.2 1.1l-.2 1.3m1.8 -8.4l.5 .5m13.6 8.1l-1 .3m-1.2 2.7l-2.5 .7m-80.4 7.3l.6 .5m5.1 2.5l.1 0m3 -10.2l-.5 .8m3.7 2.4l-.8 .3m-1.9 -3.5l-.7 2.7m20.5 2.9l.5 .6m24.1 8.9l-.6 1.1m6.5 -8.4l1.6 1.6m13 .7l-.5 .3m-2.7 2.8l.8 2.8m-7.3 -9.1l-.7 1.9m21.4 3.1l-1.5 .2m5.1 -.2l-1 .7m-90.1 15.7l-.3 .8m-.3 -1.6l0 1.2m-1.1 -9.5l-.4 1.1m12.1 7.9l.6 1m13.8 1l.5 2.4m-8.3 -6l-2.1 1.1m.4 -2.6l1 1.9m20.4 -2.9l.2 0m-9.4 3.1l2 .6m1.3 .3l.3 .7m3.9 -2l-.8 1.7m18.1 -9l1.7 .8m.2 6.1l.1 .5m-9.4 -1.8l.7 2.7m31.8 -2.5l1.9 .1m-15.9 5.9l-.2 .8m33.7 -4.6l-.5 .8m-1.9 .5l1.7 .6m-14.8 -3.7l0 2.7m15.7 -8.1l.1 1.7m-8 4.2l1.5 1.6m-92.8 16.6l-.1 1.3m.7 -5.5l-1.3 .4m4.2 5.8l-2.5 .7m9.4 -1.6l-1.9 .9m-11.8 -12.7l-.7 1.1m30.3 2.4l-1.1 2.2m-9.3 7l-1.3 .1m7.9 -8.3l1.8 .9m17.3 -4.1l1.1 2m3 3.2l-1.7 .5m-3.4 7l.7 2.4m4.6 -2.4l-2.3 1m-.1 -1.5l-.7 .7m15.9 -11.5l-.5 .1m-8.7 7l-.3 .3m17.4 3.9l.4 2.3m12.4 -5l.7 .1m7.3 -2.8l1.5 1.3m.5 -5.5l-.1 .2m1.7 -3.8l.6 2.5m-9.4 7l.4 1.3"/>
<path stroke="#845c34" stroke-width="3.4" stroke-linecap="round" d="M474.1 273.9l-1.8 .2m2.2 2.6l2.4 .8m21.7 -.9l-2.6 1.1m4.1 -15.8l.3 1.3m-9.2 3.4l1.3 .3m-4.7 6.3l2.2 .4m3 -9.5l.8 .3m16.4 6.8l2.4 .6m4.3 5.1l2 1.1m-5.5 -11.8l-.2 .2m0 .2l-.2 .1m8.9 3.2l2.5 .9m43.4 -7.8l1.9 2.1m-6 -2.4l2.3 1.3m-94.6 14.6l.6 1.4m5.6 6.5l1.7 1.3m-12.5 -6l-.3 1.6m49.8 5.3l-3 .2m.1 3.6l.1 .1m-11.2 -3.2l1.5 1.5m19.4 -11.2l1.9 1.1m8 1.9l-.6 2.9m-8.5 -1.4l0 .1m21.7 -1.1l-.1 .4m1.2 -2l-.9 2m6.9 -7l-1 2.8m5.3 13l-.3 2.4m-.2 -9.2l-2.7 1m5.1 -6.2l-.3 .2m-79.1 22.6l-1.6 .9m-10.5 -1.6l-.1 .2m11.5 -7.8l.3 .9m-2.7 .5l.5 2.4m2.2 1.8l0 .5m5.3 -6.3l1.1 .2m30.9 9.4l.4 .7m16.4 -2.4l-1 1m25.5 3.9l-.1 .1m2.5 -3.3l0 1m-1.2 -1.6l-2.4 1.2m-50.5 5.6l2.7 1.1m5.9 11.2l1.8 1.1m-7.9 -8l.7 1.8m-3.9 -5.1l-1 .5m15.9 3.9l.1 .6m-.1 -5.8l-.2 2.8m10.6 10.8l-1 2.5m24.2 -3.1l.6 1.4m-14.3 -15.1l1.1 2.2m29.2 7.3l.2 .1m-4.2 -8.2l-.4 0m-4 3.4l.3 .9m-85.4 25.9l.4 .8m-7.8 -5.2l.3 1.1m.7 -4.1l.1 .4m.4 -1.6l-.1 0m5.7 3.2l1.2 1.5m15.3 .1l-.8 .6m21.5 -11.6l1 .3m2.9 12l1.1 1.2m4.6 -9.9l-.7 2.8m-1.4 8l1.3 .3m9.3 -10.4l2.3 .6m15.3 4.2l-2.4 1.6m5.1 -4l-.4 .2m-8.2 -6.5l-1.6 1.3m13.3 -2.4l.1 .2m9.8 6.6l.1 .1m.7 -3.8l2.5 .7m-9.5 7.9l-1.9 1.2m10 1.2l-.2 .1"/>
<path stroke="#ac8050" stroke-width="2.6" stroke-linecap="round" d="M474.9 275.7l-.5 1.7m2.1 -15.2l2.3 .1m15.5 9.2l2.7 .8m-11.7 4.8l.1 0m24.7 -9.9l-2.9 .4m5.6 -4.5l.6 1.8m18.1 -2.7l-.4 1.9m-6.2 5.9l-1.9 .3m1.5 6.1l.7 .6m4.8 -1.4l1.2 2.6m18.6 -1.4l2.5 .6m-.2 -8.6l-1.7 1.5m-12.1 6.7l-.1 .2m7.4 -8.7l0 .4m3.6 .3l2.4 1.6m10.9 -1.7l-2 1.5m-.6 4.6l-2.2 0m11.6 -.4l.2 2.3m-88 6.4l-1.9 .3m-8.5 9.8l.7 .5m9.3 -2.9l-.5 2.2m4.5 -11.6l1.4 2.3m12.5 -3.7l.8 .2m-4.8 6.2l-.4 1.9m-5.2 -6.1l0 2.1m28 5.6l.9 .9m-8.3 -2.3l.1 0m-2.6 -8.4l-.3 1.7m18.8 2.9l-1.3 2.2m7.5 -4.8l.9 .8m-14.1 8.7l.8 1.2m50.1 -13.7l-2 0m-3.2 .4l-.5 .3m3 8.9l-.9 .7m-3.4 -2.6l-.4 1m-82.6 8.1l1.8 .6m14.5 2.3l2.9 .5m-.3 3.8l-.6 2.8m-14.7 -11l.3 2.6m61.4 4.9l-.8 .5m20.6 -2.2l-2.6 .7m4 -1.8l.2 .1m-5.3 2.8l-1.4 .6m5.6 -2.9l-.2 .4m-11.1 4.1l1.1 2.2m-83.9 10.8l-1.9 1.3m5.4 -7l0 .8m-1.9 -2l2.5 .7m-5.1 2.8l-.8 0m4.8 -1.3l0 .1m26.5 3.1l-2.3 1.3m-8.2 1.5l-.7 .2m6.6 2.7l-.6 .1m-11.3 -8l1.5 .6m29.9 10.3l-.9 .2m-.2 -4.7l-2.7 .7m-1.9 -10.4l2 1m3.1 7.2l1.3 .6m6.5 4.1l2 .6m18.4 -9.4l0 .1m-.8 .1l.3 2.1m13.6 4.2l.2 0m9.7 -4.5l-1.7 .2m-84.6 16.8l-.4 2.1m-10.5 .5l-.9 1m1.1 0l-1.7 .9m-1.4 -.9l0 .5m23.4 .8l-.4 .1m9 2.6l.3 .1m3.9 -3l.2 .1m10.4 .3l1.1 .3m21.9 -3l-2 .6m-11.3 -7.5l-2.6 1.1m17.6 -3.5l-.2 .7m8.2 11.5l-.7 .7m-5.3 -11.8l-.2 .1m18.3 2.2l-.3 2.1m12.6 2.6l.1 0"/>
<path stroke="#94683c" stroke-width="3.4" stroke-linecap="round" d="M472.2 269.3l2.5 .7m14.2 1.1l1.5 .8m12.1 4.3l-1 1.1m14.3 -4l1.9 1.1m-1 -11l-1.4 1.6m19.1 8.7l.4 .1m-7 -3.7l2.4 1.4m4.4 -2.4l.2 .2m18.2 -7l-.1 0m13.2 8.3l1.9 .6m-100.1 22.4l2.3 .6m7.5 -5.2l-1.1 1.2m9.1 -10.1l.1 .4m17.6 10.1l-.9 .3m3.8 -8.8l-.6 .9m1.8 -5.2l.4 .8m8 .3l-.5 1.1m17.8 2.8l-.2 .2m3 -2l-.1 .9m-14.5 -3.7l-1.6 .9m5.8 9.8l1.4 .6m24.9 1.2l0 .1m-7.1 -3l-.2 .2m6.9 .3l-1.9 2.3m6.3 -2.7l.2 .6m5.8 -2.2l.1 0m10 -1.3l.6 1.1m-17.8 0l2.4 1m-84.6 19.9l-.1 .3m10.9 -8.5l-1.1 1.7m18.6 -2.5l-1.8 2.1m-10.7 -1l.6 .1m29.7 6.8l-2.1 2m-8.7 -1.1l-.9 1m10.9 -12.4l-2.4 .8m13.7 12.2l-.2 0m2 -5.7l.1 0m17.8 5.9l.6 .1m13 -9.6l-1.1 .5m9.2 -3.4l-.3 .1m-13.7 12.8l-2.2 1.7m12.1 -6.3l-.3 .5m-93.4 10.2l0 2.2m1.1 5.8l-1.3 1.1m19.9 -8.9l-2.4 1.8m26.3 -1l1.3 2.7m-11.5 2.7l0 .9m18.4 -7.7l.4 1m7.6 7l-2.1 .6m-5.1 -11.8l2 .6m24.9 5l-1.5 2.1m-10.8 -7.7l-.3 .2m12.8 8.8l-.2 1m-8.4 -5.4l-.5 .6m13.9 6.7l-1 1.4m14.7 -2l.5 .5m-10.3 -4.3l-.6 .2m-92.7 10.3l.7 .2m14.7 4.7l1.2 .3m15.6 -7.7l-.7 1.4m-7 7.1l.2 1.1m11.7 -3.6l-1.2 1.7m1 3.9l.5 .1m-2.8 -.2l.1 .2m21.7 -3l.7 .9m-2 5.9l-.1 0m5.9 -6.1l.1 0m1.6 1.8l-1.7 2.5m11.8 -.1l1 0m4.1 1.6l-.2 .7m6.6 -6.5l2.5 .1m-12.1 1.9l1.3 .3m12.5 1.1l-1.7 .9m3 -3.5l.9 .6m8.8 -3.9l-.1 .1"/>
<path fill="none" stroke="#e0dce4" stroke-opacity="0.5" stroke-width="0.8" d="M567.6 338.4l5.3 4.4m-44.1 -49.9l-2.2 6.8m-24.1 23.2l3.2 7.9m-34.1 -34.7l5.6 2.2m92.7 -9.5l7.1 4.6m-83.3 -2l-.4 4.4m75.3 -24.8l-3 5.7m-26.5 43.1l-.6 4.8m-41.8 9l-4.5 5.1m25.9 3.1l-3.2 5.4m26.7 -85.5l4.8 8.1m-65.3 52.8l2.5 2.2m81.2 -18.6l8.9 4m-77.1 -46.8l9.1 .4m51.5 6.9l-7.7 5.7m-83.3 36.3l-5 1.4m87.7 -24.7l-9.2 1.1m-6.5 23.7l2 5.1m-14.8 -8.1l4.4 5.6m-35.7 18l6.2 .9m13.9 -67.5l-.1 8.6m-3.2 -15.5l5.2 4.7m2.1 16.5l-8.1 3.1m35.4 .1l4.2 4.9m-31.6 9.5l7.3 5.3m-29 13l-2.9 5.4m-19.8 9.1l-3.7 5.2m96.6 -51.2l-5.6 2.5m1.3 -21.4l-3.2 8.9m-8.1 6l-4 2.4m18.6 6.5l3.1 1.8m-18.5 35l6.8 .6m-60.9 -20l-5.1 3.7m-17.9 4l9.3 .6m41.5 12.9l3.9 1.2m31 -35l4 2.2m11.7 9l.7 4.2m-44.7 -45l-7.1 .7m53.8 38.7l-6.5 .3m-15.1 -7l-.3 6.4m-44.3 -6.3l1.8 8.5m-6.3 -43.9l-.6 8.5m-16.5 30.5l3.5 3.8m81.2 17.7l-.2 3.8m-16.1 -15.7l-3.6 2.9m-81.7 -8.9l-1.8 4.6m71.9 31.2l-4.4 2.4m-48.7 -5.3l7 2.2m24.2 -58.1l-6.1 2.7m61.5 45.1l-1.9 4m-18.4 -68.8l2.9 2.4m-80.8 19.9l7.8 .2m-9.4 51.5l5.2 .1m84 -79.8l-2.3 9.2m-6.5 .9l-5.2 4.6m-28 53.4l7.3 1.2m-8.8 -37.1l-1.3 9.7m-23.6 -35.7l4.1 5.5m73.5 66.5l1.1 4.1m-61 -37.1l-1.6 3.7m11.2 -40l-2.6 5m5.4 47.2l1.4 9.7m12.2 -15.4l4.8 2.9m-19.3 -31l-3.8 3.5m-14.3 -11.3l-2 3m64.9 24.1l5 4.5m-87.3 -39.4l-5.9 6.3m56.9 -17.2l6.5 7.3m1.7 68.6l.2 3.2m-69.1 -40.5l8 2.7"/>
<path stroke="#d8ccc4" stroke-opacity="0.45" stroke-width="5.2" stroke-linecap="round" d="M504 280.6l.1 1.5m-6.1 13.3l-1.1 .5m-22.6 28.5l-.4 .5m25.8 -48.8l0 .4m29.7 12.8l.2 .3m-23.3 49.9l.3 .4m-2.1 -20.7l-.9 1m-8.6 -58.6l-.8 1.2m18.2 35.1l-.6 1.3m-8.1 -8.9l0 .3m14.3 8.1l.7 .3m34.8 -26.2l1 .3m-33.4 -3.6l1.4 .5m-9.4 28.6l.8 1m-25.1 -23.8l-.9 1.2m35.5 -6l-.3 .1m46.8 51l-.6 .7m-48.6 13.2l-1.1 .8m35.7 -2l.3 .2m-38.3 -61.5l-.1 .3m-26.1 -6l1 .6m-10.4 64.4l-.2 1.1m89.5 -11.3l-.3 1m-93.3 -20.1l-.8 1.2m10.9 8.8l.6 .2m14.8 -9.1l.5 .4m52.5 -12l.7 .3m9.6 17l-.8 .7m-36.8 -44.7l.3 .3m-8.6 7.2l.2 .1m-54.9 19.1l-1 .2m45.6 1.6l.3 .6m-11.2 27.6l.2 .5m-.6 -1.2l-.3 .1m55.7 -40.8l-.2 1m.6 38l-.1 1.6m-81.8 -54.1l.5 .6m17.6 57.4l.2 .5m6.1 -27.6l.7 1.1m25.7 -39.1l-.4 .9m-37 58l0 .2m46 -34.3l-.8 .7m-43.4 33.6l0 .2m3.4 -10.2l-.9 .8m37.2 32l1.3 .4m1.7 -76l-.4 .9m-18.7 61.7l.2 .1m3.2 -13.6l1.2 1m10.9 14l-.3 1.2m-.4 -71.1l.8 .3m38.6 72.5l1.2 .6m-60.7 -10.2l.1 .6m-13 -9.4l-.3 .2m43 15.3l-.2 .3m-30.9 -66.1l.1 .4m-3.9 35.8l.9 .3m-26.3 23.7l-1 .1m97.5 -3l-.3 1.1m-36.1 -22.1l-1.2 .5m-31.9 -37.6l-.6 .9m48.2 33l.3 .5m-58.2 -29.2l-.4 0m58.8 40.8l-.3 1.1m9.9 -33.2l.3 .2m-74.3 45.7l-.5 .5m10.7 -13.5l.2 .2m61.7 -17.7l1 1.1m-64.3 30l.8 .4m28.9 -46l0 .3m-2.6 -2.7l-.3 0m36.7 -5.2l0 .4m-45 48.7l.1 1.2m-12.4 -51.1l.1 1m55.5 66.9l.5 0m-.7 -24l-.5 .4m-77.4 26.8l.4 .9m-3.3 -46.5l-1.1 .3m-1.7 -14.5l.1 .5m75.9 -15.1l-.2 .2m13.3 1.4l-.1 .2m-86.8 1.9l-.5 .5m-7.2 69.6l.6 .5m7.6 -79.7l1.3 .5m26.2 58l-.2 .9m-15.4 3.3l.2 .1m52.7 -60.5l1.1 .4m-7.4 30.2l1.4 .3m-54.1 -12.7l.4 1.1m61.1 8.7l.4 1.1m-.7 -11.7l1.1 1.1m8.1 44.6l.8 .1m17.2 -9.7l-.5 .2m-39.3 13.4l-.3 .2m-55.4 -65.8l.3 .9m71.2 4.2l.7 .7m-51.9 -8.7l1.4 0m51 48.1l.8 .5m-56.3 -48.9l-.4 .6m20 31l-.6 .8m19.1 -27.1l.1 .4m20.9 47l-1.1 .3m-13.4 -39.6l1.5 .6m-28.6 57l.2 1.2m9.6 -68l-1 1.1m-15.8 47.7l-.1 .2m7.9 -17.3l.4 .3m55.7 27.1l1 .2m-81.7 .3l.2 .4m-2.6 -34.4l-.3 .3m84.2 11.3l-1.1 .3m-80.5 17.4l-.6 .9m16.5 -4.9l0 1.2m48.1 -.4l.1 1.1m-27.6 7.3l.6 .8m-46.6 -30.3l-.5 1.3m2.3 37l-1.2 .6m-5.4 -57.7l0 .3m83.9 9.1l-1 .3"/>
<path stroke="#d8ccc4" stroke-opacity="0.45" stroke-width="3.8" stroke-linecap="round" d="M469.2 285.5l-.4 .8m22.4 -21.7l-.2 .4m-5.6 21.9l-.6 1.4m15.4 22.7l-.7 .4m22 32l1.1 .1m24.2 -24.7l1.4 .8m-15.6 -56l.3 0m-8.3 6.6l-1.1 0m42.6 44.7l-.8 .2m-82.3 27.7l-.2 1.1m62 -74.2l-.1 .3m-10.7 30.9l1.5 .5m-69.8 13.4l-.1 1.1m28.7 26l-1.1 .8m17.3 -75.4l.2 .6m11.9 43.5l.3 .8m-49.2 9.7l-.7 .6m66 -37.9l1.3 .8m-13 -4.6l.3 .2m32.9 9.7l.7 .3m-31.7 -24.9l.1 .5m-37.4 62.3l.1 .4m54.7 -17.8l-.4 .3m-72.1 -30.6l-.2 .2m69.8 7.9l.1 .5m-59.3 23.4l-1 0m4.8 -30l-.5 .5m26.8 14.5l-.6 0m-32.2 -1.5l-.4 1.5m13.1 25.2l-1.3 .4m75 -46l-.7 .2m-102.3 17.6l.1 .2m62.5 44.3l-.1 .9m-17.6 -32.8l-.2 .3m-36.4 -25l-.8 .2m95.5 30.1l-.9 .4m-7.2 -20.7l-1 .6m-40.8 39.2l.9 .3m-19.2 -4.6l0 .4m17.6 -49.9l.8 .4m2 34.2l1.3 .9m20.8 23.4l-.7 1m-12.2 -48.2l.6 1.1m-65 -10.4l-.8 .5m22.7 54.3l.3 .5m26.3 6l-1.2 .2m25.1 -70.7l.4 1.4m-18.7 20.3l1.1 .9m32.2 -5l-.5 0m-66.9 -9.6l-1.1 0m15.8 2.7l.3 .3m52 36.2l1.4 .1m15.1 -34.1l.5 1.1m-66.9 32l.4 .3m48.1 12.4l-.7 .6m-49.7 -56.8l.6 1.2m-3 4.8l-.4 .7m-12.4 24.7l.1 .9m4.8 -15.7l-.1 .4m-1.1 -20.1l.3 .4m11 67.6l.6 1m27.8 -54.4l0 .8m-15.9 45.4l0 .2m-6.6 -23.5l-.3 .4m-34.9 12.7l.8 .7m-2.5 -51.6l.6 .7m40 41.4l1.3 .1m-25.8 -1.5l.6 .6m85 -36.1l-.1 .7m-29.2 -6.9l1.2 .5m21.9 54.4l.3 .6m-17.6 -37.8l-.8 .7m14.1 -16.4l.1 .2m-82.8 11.7l.1 .4m2 30.9l-.3 1.2m9.3 -53l-.3 1.5m62.6 77.3l-1.3 .1m21.3 -40.4l-.6 .3m-42.7 -38.8l1 .7m34.3 65.8l.3 .9m-89.7 -68l1 .1m78.6 51.3l-.2 .1m-73.8 -22.5l1.1 1.1m76.2 9.6l.9 .1m-71.7 -13.5l-.5 .3m13 17.6l1.2 .3m56.5 -32l1.3 0m-77.8 19.5l-.1 1.1m42.3 .4l-.2 .2m-31.7 -2.6l.8 .3m14.5 -1.3l-.3 .1m-12.1 -21.4l-.5 .7m21.8 11.3l.9 .6m-3.7 39.9l.2 1.5"/>
<path stroke="#d8ccc4" stroke-opacity="0.45" stroke-width="4.5" stroke-linecap="round" d="M503.3 333l-1.1 .8m-7.1 -40.1l-1.5 .5m-22.3 19.6l-.3 .3m39.6 -11.8l.3 0m43.8 1.1l.3 .3m10.7 16.5l-.2 .1m-14.2 -28.9l-1 .3m-12.1 31l.2 .2m-25.1 12.8l-.1 .5m-23.3 -75.2l.4 .7m-14.8 55.7l-1.3 .1m14.8 -46.2l.6 0m37.1 27.2l-1.3 .7m-59.5 28.4l.2 .3m5 -34.2l-.6 .2m5.9 .1l.6 0m-8.2 -21.9l0 .4m37.2 37.2l-.1 .2m46.5 -9.2l-1.6 .1m6.1 40.5l.2 1.1m-55 -37.6l-.2 .1m44.6 -10.8l.1 .5m-17.5 -5.9l-1.2 .9m-55.5 -6.7l-.6 .4m88.4 .5l-.6 .7m-32.5 10.6l.5 .9m-5.3 -5.4l0 .3m-.6 37.8l-.9 .2m-47.7 -42.8l-.5 .3m23.3 26l.3 .1m-24.3 -46.4l.3 .1m40.4 35.6l-.3 .2m51.9 8.8l-1 .1m-64.5 -47.5l1 .1m65.7 38.1l-.1 .3m-65.7 38.5l0 .3m46.4 -19l.3 1.1m13.3 -38.5l-.3 1.2m-51.1 56.3l.6 .4m-7.9 -29.3l.3 1m-29.3 -22l.7 .2m30.8 42.9l-.3 .4m-30.5 -21.7l.6 .7m89 10.8l-.2 .3m-14.4 -38.4l.8 1.1m-76.4 -6.9l.8 .8m-5.3 38.7l.3 1.2m7.1 -2.5l-.3 1.4m-7 12.3l0 1m80.9 7.2l.2 .3m-41 -20l-.2 1.2m-41.4 -47l-.3 .1m52.6 -12.8l.4 1.2m17.1 44.7l-1.3 0m35.7 -13.1l.5 .3m-38.9 13.3l.7 0m27.6 20.8l-.6 1.4m-93.1 -39.4l-.2 0m8.8 -7.6l.8 1.4m19.2 48.4l.2 .6m1.4 -62.8l-1.1 .2m-15 -10.9l.3 .6m70.3 61.7l-.4 0m-26.4 -33.3l.1 .8m-57 -24.7l-.5 .9m68.9 62.1l.1 .6m-54.5 7.1l1 .2m46 -51.6l-1.3 .5m-14.9 43.3l-.7 .5m49.3 .1l.9 .5m7.1 -23.9l-.3 .4m-2 -23.3l1.3 .7m3.6 22l.3 .2m-29.8 10.8l.4 .9m-9.1 -43l-1.2 .5m32 6.1l.5 .6m-31 -7.8l-.6 1.2m39.2 38.8l.3 .5m-44.5 -15.3l1 .1m34.2 -15.1l.3 .6m-1.2 55l1.3 .3m-41.3 -8.4l.2 .1m-5.6 -20.7l.6 .1m27.2 27.3l.3 .6m-38.4 -3l-.4 .5m49.8 -23.7l.3 .8m-31.4 -24.3l-.2 .1m28.6 -16.4l.1 1.5m14.2 21.2l-.4 .2m-29.9 6.8l-1.2 .7m2.1 -31.5l.8 1.1m-49.2 8l0 .3m50.6 8.8l-.4 .3"/>
<path stroke="#3a68b0" stroke-width="3.8" stroke-linecap="round" d="M504 280.6l.1 1.5m-6.1 13.3l-1.1 .5m-22.6 28.5l-.4 .5m25.8 -48.8l0 .4m29.7 12.8l.2 .3m-23.3 49.9l.3 .4m-2.1 -20.7l-.9 1m-8.6 -58.6l-.8 1.2m18.2 35.1l-.6 1.3m-8.1 -8.9l0 .3m14.3 8.1l.7 .3m34.8 -26.2l1 .3m-33.4 -3.6l1.4 .5m-9.4 28.6l.8 1m-25.1 -23.8l-.9 1.2m35.5 -6l-.3 .1m46.8 51l-.6 .7m-48.6 13.2l-1.1 .8"/>
<path stroke="#5474a4" stroke-width="3.8" stroke-linecap="round" d="M555.3 334.8l.3 .2m-38.3 -61.5l-.1 .3m-26.1 -6l1 .6m-10.4 64.4l-.2 1.1m89.5 -11.3l-.3 1m-93.3 -20.1l-.8 1.2m10.9 8.8l.6 .2m14.8 -9.1l.5 .4m52.5 -12l.7 .3m9.6 17l-.8 .7m-36.8 -44.7l.3 .3m-8.6 7.2l.2 .1m-54.9 19.1l-1 .2m45.6 1.6l.3 .6m-11.2 27.6l.2 .5m-.6 -1.2l-.3 .1m55.7 -40.8l-.2 1m.6 38l-.1 1.6m-81.8 -54.1l.5 .6m17.6 57.4l.2 .5m6.1 -27.6l.7 1.1m25.7 -39.1l-.4 .9m-37 58l0 .2m46 -34.3l-.8 .7m-43.4 33.6l0 .2m3.4 -10.2l-.9 .8m37.2 32l1.3 .4m1.7 -76l-.4 .9"/>
<path stroke="#5474a4" stroke-width="2.4" stroke-linecap="round" d="M469.2 285.5l-.4 .8m22.4 -21.7l-.2 .4m-5.6 21.9l-.6 1.4m15.4 22.7l-.7 .4m22 32l1.1 .1m24.2 -24.7l1.4 .8m-15.6 -56l.3 0m-8.3 6.6l-1.1 0m42.6 44.7l-.8 .2m-82.3 27.7l-.2 1.1m62 -74.2l-.1 .3m-10.7 30.9l1.5 .5m-69.8 13.4l-.1 1.1m28.7 26l-1.1 .8m17.3 -75.4l.2 .6m11.9 43.5l.3 .8m-49.2 9.7l-.7 .6m66 -37.9l1.3 .8m-13 -4.6l.3 .2m32.9 9.7l.7 .3m-31.7 -24.9l.1 .5"/>
<path stroke="#44649a" stroke-width="2.4" stroke-linecap="round" d="M492.2 328.9l.1 .4m54.7 -17.8l-.4 .3m-72.1 -30.6l-.2 .2m69.8 7.9l.1 .5m-59.3 23.4l-1 0m4.8 -30l-.5 .5m26.8 14.5l-.6 0m-32.2 -1.5l-.4 1.5m13.1 25.2l-1.3 .4m75 -46l-.7 .2m-102.3 17.6l.1 .2m62.5 44.3l-.1 .9m-17.6 -32.8l-.2 .3m-36.4 -25l-.8 .2m95.5 30.1l-.9 .4m-7.2 -20.7l-1 .6"/>
<path stroke="#5474a4" stroke-width="3.1" stroke-linecap="round" d="M503.3 333l-1.1 .8m-7.1 -40.1l-1.5 .5m-22.3 19.6l-.3 .3m39.6 -11.8l.3 0m43.8 1.1l.3 .3m10.7 16.5l-.2 .1m-14.2 -28.9l-1 .3m-12.1 31l.2 .2m-25.1 12.8l-.1 .5m-23.3 -75.2l.4 .7m-14.8 55.7l-1.3 .1m14.8 -46.2l.6 0m37.1 27.2l-1.3 .7"/>
<path stroke="#6484b4" stroke-width="3.8" stroke-linecap="round" d="M511.6 329.9l.2 .1m3.2 -13.6l1.2 1m10.9 14l-.3 1.2m-.4 -71.1l.8 .3m38.6 72.5l1.2 .6m-60.7 -10.2l.1 .6m-13 -9.4l-.3 .2m43 15.3l-.2 .3m-30.9 -66.1l.1 .4m-3.9 35.8l.9 .3m-26.3 23.7l-1 .1m97.5 -3l-.3 1.1m-36.1 -22.1l-1.2 .5m-31.9 -37.6l-.6 .9m48.2 33l.3 .5m-58.2 -29.2l-.4 0m58.8 40.8l-.3 1.1m9.9 -33.2l.3 .2m-74.3 45.7l-.5 .5"/>
<path stroke="#7088ac" stroke-width="3.1" stroke-linecap="round" d="M465.9 327.6l.2 .3m5 -34.2l-.6 .2m5.9 .1l.6 0m-8.2 -21.9l0 .4m37.2 37.2l-.1 .2m46.5 -9.2l-1.6 .1m6.1 40.5l.2 1.1m-55 -37.6l-.2 .1m44.6 -10.8l.1 .5m-17.5 -5.9l-1.2 .9m-55.5 -6.7l-.6 .4m88.4 .5l-.6 .7m-32.5 10.6l.5 .9m-5.3 -5.4l0 .3m-.6 37.8l-.9 .2m-47.7 -42.8l-.5 .3m23.3 26l.3 .1m-24.3 -46.4l.3 .1m40.4 35.6l-.3 .2m51.9 8.8l-1 .1m-64.5 -47.5l1 .1m65.7 38.1l-.1 .3"/>
<path stroke="#3a68b0" stroke-width="3.1" stroke-linecap="round" d="M499.6 340.4l0 .3m46.4 -19l.3 1.1m13.3 -38.5l-.3 1.2m-51.1 56.3l.6 .4m-7.9 -29.3l.3 1m-29.3 -22l.7 .2m30.8 42.9l-.3 .4m-30.5 -21.7l.6 .7m89 10.8l-.2 .3m-14.4 -38.4l.8 1.1m-76.4 -6.9l.8 .8m-5.3 38.7l.3 1.2m7.1 -2.5l-.3 1.4m-7 12.3l0 1m80.9 7.2l.2 .3m-41 -20l-.2 1.2m-41.4 -47l-.3 .1m52.6 -12.8l.4 1.2m17.1 44.7l-1.3 0m35.7 -13.1l.5 .3m-38.9 13.3l.7 0"/>
<path stroke="#7088ac" stroke-width="3.8" stroke-linecap="round" d="M496.7 311.6l.2 .2m61.7 -17.7l1 1.1m-64.3 30l.8 .4m28.9 -46l0 .3m-2.6 -2.7l-.3 0m36.7 -5.2l0 .4m-45 48.7l.1 1.2m-12.4 -51.1l.1 1m55.5 66.9l.5 0m-.7 -24l-.5 .4m-77.4 26.8l.4 .9m-3.3 -46.5l-1.1 .3m-1.7 -14.5l.1 .5m75.9 -15.1l-.2 .2m13.3 1.4l-.1 .2m-86.8 1.9l-.5 .5m-7.2 69.6l.6 .5m7.6 -79.7l1.3 .5m26.2 58l-.2 .9m-15.4 3.3l.2 .1m52.7 -60.5l1.1 .4m-7.4 30.2l1.4 .3m-54.1 -12.7l.4 1.1m61.1 8.7l.4 1.1m-.7 -11.7l1.1 1.1m8.1 44.6l.8 .1m17.2 -9.7l-.5 .2"/>
<path stroke="#3a68b0" stroke-width="2.4" stroke-linecap="round" d="M518.7 333.3l.9 .3m-19.2 -4.6l0 .4m17.6 -49.9l.8 .4m2 34.2l1.3 .9m20.8 23.4l-.7 1m-12.2 -48.2l.6 1.1m-65 -10.4l-.8 .5m22.7 54.3l.3 .5m26.3 6l-1.2 .2m25.1 -70.7l.4 1.4m-18.7 20.3l1.1 .9m32.2 -5l-.5 0m-66.9 -9.6l-1.1 0m15.8 2.7l.3 .3m52 36.2l1.4 .1m15.1 -34.1l.5 1.1m-66.9 32l.4 .3m48.1 12.4l-.7 .6m-49.7 -56.8l.6 1.2m-3 4.8l-.4 .7"/>
<path stroke="#7088ac" stroke-width="2.4" stroke-linecap="round" d="M485.6 306.9l.1 .9m4.8 -15.7l-.1 .4m-1.1 -20.1l.3 .4m11 67.6l.6 1m27.8 -54.4l0 .8m-15.9 45.4l0 .2m-6.6 -23.5l-.3 .4m-34.9 12.7l.8 .7m-2.5 -51.6l.6 .7m40 41.4l1.3 .1m-25.8 -1.5l.6 .6m85 -36.1l-.1 .7m-29.2 -6.9l1.2 .5m21.9 54.4l.3 .6m-17.6 -37.8l-.8 .7m14.1 -16.4l.1 .2m-82.8 11.7l.1 .4m2 30.9l-.3 1.2m9.3 -53l-.3 1.5m62.6 77.3l-1.3 .1m21.3 -40.4l-.6 .3"/>
<path stroke="#44649a" stroke-width="3.8" stroke-linecap="round" d="M530.4 331.9l-.3 .2m-55.4 -65.8l.3 .9m71.2 4.2l.7 .7m-51.9 -8.7l1.4 0m51 48.1l.8 .5m-56.3 -48.9l-.4 .6m20 31l-.6 .8m19.1 -27.1l.1 .4m20.9 47l-1.1 .3m-13.4 -39.6l1.5 .6m-28.6 57l.2 1.2m9.6 -68l-1 1.1m-15.8 47.7l-.1 .2m7.9 -17.3l.4 .3m55.7 27.1l1 .2m-81.7 .3l.2 .4m-2.6 -34.4l-.3 .3m84.2 11.3l-1.1 .3m-80.5 17.4l-.6 .9m16.5 -4.9l0 1.2m48.1 -.4l.1 1.1m-27.6 7.3l.6 .8m-46.6 -30.3l-.5 1.3m2.3 37l-1.2 .6m-5.4 -57.7l0 .3m83.9 9.1l-1 .3"/>
<path stroke="#44649a" stroke-width="3.1" stroke-linecap="round" d="M560.2 330.4l-.6 1.4m-93.1 -39.4l-.2 0m8.8 -7.6l.8 1.4m19.2 48.4l.2 .6m1.4 -62.8l-1.1 .2m-15 -10.9l.3 .6m70.3 61.7l-.4 0m-26.4 -33.3l.1 .8m-57 -24.7l-.5 .9m68.9 62.1l.1 .6m-54.5 7.1l1 .2m46 -51.6l-1.3 .5m-14.9 43.3l-.7 .5m49.3 .1l.9 .5m7.1 -23.9l-.3 .4"/>
<path stroke="#6484b4" stroke-width="3.1" stroke-linecap="round" d="M566.6 284.2l1.3 .7m3.6 22l.3 .2m-29.8 10.8l.4 .9m-9.1 -43l-1.2 .5m32 6.1l.5 .6m-31 -7.8l-.6 1.2m39.2 38.8l.3 .5m-44.5 -15.3l1 .1m34.2 -15.1l.3 .6m-1.2 55l1.3 .3m-41.3 -8.4l.2 .1m-5.6 -20.7l.6 .1m27.2 27.3l.3 .6m-38.4 -3l-.4 .5m49.8 -23.7l.3 .8m-31.4 -24.3l-.2 .1m28.6 -16.4l.1 1.5m14.2 21.2l-.4 .2m-29.9 6.8l-1.2 .7m2.1 -31.5l.8 1.1m-49.2 8l0 .3m50.6 8.8l-.4 .3"/>
<path stroke="#6484b4" stroke-width="2.4" stroke-linecap="round" d="M528.5 264.5l1 .7m34.3 65.8l.3 .9m-89.7 -68l1 .1m78.6 51.3l-.2 .1m-73.8 -22.5l1.1 1.1m76.2 9.6l.9 .1m-71.7 -13.5l-.5 .3m13 17.6l1.2 .3m56.5 -32l1.3 0m-77.8 19.5l-.1 1.1m42.3 .4l-.2 .2m-31.7 -2.6l.8 .3m14.5 -1.3l-.3 .1m-12.1 -21.4l-.5 .7m21.8 11.3l.9 .6m-3.7 39.9l.2 1.5"/>
</g></g>
<clipPath id="c03"><rect x="575.6" y="261.0" width="107.3" height="82.6"/></clipPath>
<g clip-path="url(#c03)"><g filter="url(#soft)">
<rect x="575.6" y="261.0" width="107.3" height="82.6" fill="#b0bedc"/>
<path stroke="#96683a" stroke-width="2.6" stroke-linecap="round" d="M583.3 269.9l0 1.4m51.9 .1l-.3 .2m46.4 -.1l-1.7 .1m-86.8 12.1l.2 .7m4 .6l-.8 .2m0 -6.4l-.3 .8m68.1 7.1l-1.4 .6m15.1 -2.9l-.4 .6m-8.1 -6l.5 .6m-56.5 24.8l-.9 1.2m41.6 0l.1 0m-46.8 19.2l-.6 .1m6.3 -4l-.7 .3m-.8 3.2l.5 .2m32.5 -6.2l.4 2m11.3 -4.1l1.5 .8m22.1 -6.2l0 1.5m-23.4 21.6l1.7 1.2m-8.4 5l-.4 .5"/>
<path stroke="#96683a" stroke-width="4.2" stroke-linecap="round" d="M586.6 263.5l1.4 .3m-11.7 10.9l.3 1m24.8 -1.3l-1.8 2m28.8 -14.8l-2.3 .3m10.4 4.6l-.6 .1m22.4 6.2l-.4 .3m8.7 -9.6l-1.5 .8m-40.1 27.9l2.7 .9m-11.8 -10.9l2.6 .4m57.6 9l-.5 2.1m-95.3 2.5l1 .2m-3.9 13l.5 0m17.5 -6.2l1.6 2.4m-2.8 3.5l-.3 .4m6.4 -6.7l.8 2m11.9 2.3l1.2 .2m19 4.3l1.4 1.6m23.6 12.3l.7 .3m19 -15.4l-1.3 1.5m-56.1 30l1.5 1.2"/>
<path stroke="#b88a4c" stroke-width="4.2" stroke-linecap="round" d="M583.7 271.8l.1 1.1m-.4 -11.3l0 1m15.7 2.9l-1.6 1m77.5 10.3l.1 .1m5.7 -15.5l2.2 .6m-75 23.6l-.2 2.8m12.2 -2.9l2.1 2m43.5 -1.1l-1.7 1.6m-62.8 20.6l-1.9 .4m28.5 -1.6l2.3 .2m-8.4 -13.1l-1.6 .3m26.1 2.9l.9 2m-66.4 18.1l1.3 .1m10 3.6l.6 .1m12.1 1.6l.7 .2m19.3 -.2l-.6 .8m25.2 2.3l2.2 1m-64.2 6.9l1.8 .2m21.3 3.4l-.8 .6m68.4 2.4l-2.3 1.7m-6.5 -9.3l1.4 .8"/>
<path stroke="#b88a4c" stroke-width="2.6" stroke-linecap="round" d="M592.3 270.5l1.3 1.2m5.7 -5.8l.2 .8m-22.8 23.3l.4 1.9m19 -4.3l1.1 .6m2.4 .3l0 .1m26.4 -8.5l-1.1 1.1m54.1 5l-1 .4m-100.7 19.9l-1.7 .3m41.8 2.4l1.7 0m43.4 -11.2l-1.4 .7m13 8.5l1.2 1m-71.9 12.3l-.5 1.5m-6.2 2.2l-2.9 .4m33.7 4.6l.9 .2m-7.9 .8l-.7 1.5m22 -.8l1.2 .6m30.5 .1l.6 1.6"/>
<path stroke="#c09a68" stroke-width="3.4" stroke-linecap="round" d="M591.6 265.2l1.7 1.6m11.3 -4.7l-2.3 1m24.1 10.3l.7 .7m-2.6 -8.9l-1.8 1.8m1.8 3.8l.8 1.1m-33.9 15l-.2 .4m14.4 -.3l1 .1m13.4 -8.4l-2.1 1.4m10.1 4l-1.2 1.5m-10.1 2.5l0 .5m60.1 -9.6l-.5 2.6m-80.1 12.5l.6 .1m30.6 12.5l-1 .6m12.9 -2.5l.8 .5m23.8 -10.1l.7 .1m11.5 10.6l-2 .2m-96.8 6.6l.1 .1m2.2 3.8l.9 1.8m37.1 -3.7l-.1 .3m48.9 5.2l.3 2.2m-76.6 9.4l-1 1.9m19.9 5.4l-.6 .7m-9.5 3l.5 1.3m11 -10.4l.5 .1m13.7 9.6l-.3 .2m3.1 -9.8l-.3 1.5m14.4 7.9l-1.3 .5m15.2 -3.1l-.6 1.4"/>
<path stroke="#a8783c" stroke-width="3.4" stroke-linecap="round" d="M598.3 260.4l-1.2 2.2m-2.2 7.2l2.4 1.2m4.8 -4.6l-.1 .7m13.7 2.8l-1.2 2.3m19.3 -2.5l-2.2 1.6m41.5 -8.7l1.5 2.4m-67.7 14.2l-.4 2.7m-10.9 5.3l1.2 1.9m24.7 .1l-1.6 .5m17.1 -7.2l.8 1.7m40.7 8.3l-1.9 .5m-76.3 7.7l-.3 2.5m.3 -3.9l.3 .1m1.8 10l-.7 1.7m29.2 -11.2l.1 .1m48.1 1.3l1.8 1.3m-38.9 9.2l-.9 .9m-50.7 27.2l-.5 2.3m-1 -.3l-1.3 .7m43.4 -4.4l1.7 .6m32.8 -11.8l2.4 .3m-1.2 4.6l-.3 1.4"/>
<path stroke="#c09a68" stroke-width="2.6" stroke-linecap="round" d="M601.1 275.8l.6 2.8m1.2 -7.9l-.3 .4m.5 -9.5l-.2 .4m22.1 11.7l.4 .9m9.6 -4.7l-.5 .5m22.7 -5l.5 2.7m-68.7 18.1l-1 .3m-.5 -.3l-2 .2m-6.5 -4.4l.5 .5m20.6 5.4l.2 1.4m1.3 -7.9l.7 1.3m21.7 -4.4l.6 2.7m2.1 2.8l-1.7 1.5m12.6 -7.1l.1 0m34.3 9.8l-1.8 .7m6.4 2.3l1.9 .3m-70.4 2.7l-.6 .6m51 9.4l-2.4 .7m25.7 -5.6l.7 .6m-72.4 18.1l1 .9m-15.3 -4.1l1.2 .9m48.8 .1l-.8 1.5m-3.1 -.6l1.7 .7m9.5 -4.3l0 .1m-14 16.1l-.1 2m13.1 9.5l1.2 .3"/>
<path stroke="#a8783c" stroke-width="2.6" stroke-linecap="round" d="M600.7 271.8l1.6 1m16.9 .1l.3 .7m25.5 -5.9l-2.9 .1m-57.3 13.7l2.4 1.6m4 7l.1 0m-3.5 -.1l.1 .3m23.7 -7l2 1.6m2.8 -3.8l.6 1.3m2.2 8.3l.7 2.6m-6.3 -14.3l-.2 2.4m60.8 6.8l-1.1 2.1m5.1 -4.4l-.4 .4m-10.6 -6.7l1.4 .3m-59.2 20.8l-1.2 1.1m-6.2 -3.3l.8 .6m-8.2 10.2l-.5 1m45.2 -2.1l.4 .7m27 -2.5l.7 2m-86.2 15.7l.3 .9m22.7 -3.5l1.8 .4m-9.5 4.3l-1.8 1.6m21.4 -17.1l1.2 2.3m-29.5 19.2l-1.4 2m9.7 -6.4l-2.6 1.4m.6 9.4l-.1 0m81.9 -3.5l1 2.8"/>
<path stroke="#b88a4c" stroke-width="3.4" stroke-linecap="round" d="M595.9 269.1l.1 1.6m19.1 -2l-1.7 .4m16.8 -1.8l.7 .5m33.3 1.4l.1 .6m-24 21l.4 .4m-10.6 -6.9l.4 .3m19.4 .8l.3 .3m-66.2 11.6l-1.5 2.3m-5 4.1l-1.1 2.3m23.9 -11l1.1 0m40.1 6.2l-2.1 .6m14.3 1.1l-2.4 1.6m21.4 -3.5l.2 .4m-48.8 23.5l-2.3 1.2m26.8 -10.6l.4 .9m-66.5 10.7l2.8 .2m11.2 6.8l2.3 1.2"/>
<path stroke="#a8783c" stroke-width="4.2" stroke-linecap="round" d="M618.8 271.6l.3 .3m4.9 -1.1l-.7 1.6m5.5 -8.6l.5 .4m-40.1 18.8l-1.1 .9m18.1 4l.1 .1m-10.1 -6l2.2 1.2m3 4.7l.6 1.5m37.5 1.4l-1.5 .8m-5 -13.7l-1.9 .7m29.7 9.2l.5 2.4m-13.6 -4l1.4 1.8m7.2 4.4l-1 2.6m14.1 -11l-.1 .3m-80.6 24.2l-1 .1m15.7 -11l-.4 .7m5.8 2.4l-.3 1m-5.3 -7.6l.7 .5m-.7 5.3l0 .1m19 -.3l-1.8 1.1m29.3 -4.8l-1.2 2.2m-44 12.8l-.9 1.7m16.3 4.6l-1.1 2m22.6 -3.5l1.7 .6m-3.1 -4.1l.2 .4m-5.9 19.8l.9 2.6m26.7 -.9l.6 .5m17.2 -3.9l-2.2 1.5"/>
<path stroke="#96683a" stroke-width="3.4" stroke-linecap="round" d="M624.9 276l1.8 1.8m-6.7 -13.3l.9 1.7m16.4 2.6l0 .2m2.6 4.1l.1 0m-38.7 15.7l1.8 .8m15.9 -1.5l.9 .7m25.9 -2.2l1.8 .1m-9.8 5.9l1.4 1.9m16.4 -5.8l.3 1.4m-70.5 11.9l-.5 2.2m7.3 -.5l.4 1.3m-16.6 -7l1.3 1.9m47.6 -5l.1 0m1.3 13.5l1.3 2.2m8.3 -.9l-2.8 .4m3.5 -.8l.2 .4m-44.3 3.9l-.2 2.8m34.5 6.2l-1 1.2m-2.8 15.7l-2.2 1.3m-4.2 -3l-2 .9"/>
<path stroke="#c09a68" stroke-width="4.2" stroke-linecap="round" d="M644.8 271.8l0 .1m1.7 4l2.3 .7m-61.9 2.2l2.2 .7m37.8 .9l-1 1.5m45.3 2.4l-1.1 2.6m-29.7 15.6l-.5 1m40.8 -1.4l.3 0m-93.6 9.1l-.1 .4m17.9 10.9l2.1 2m57.6 -1.2l-.9 .6m2.4 -3.8l.4 .8m-59.5 7.2l2 1.2m8.7 7.2l.1 1.1m17.9 2.6l.1 .2m27.8 -.8l.7 1m-8.2 -.4l2 1.5"/>
<path fill="none" stroke="#f0f0f4" stroke-opacity="0.7" stroke-width="0.8" d="M671.8 291.2l-5.1 1.4m3.2 36.2l-9.4 .3m-58.9 9.7l-.4 7m13 -18.4l7.8 .3m50.9 -25.5l-1.5 4.4m-49.9 -16.8l-5.6 .8m-19.5 13.6l6.1 1.1m31.3 2.2l-2 7.6m-29.3 -45.5l-7.6 3.8m12 19l.5 8.4m50.2 35.1l-5.9 .8m-46.9 -61.4l4.4 1.8m30.5 49.7l1.7 9.8m22.6 -19.5l3.4 5m-48.7 6.2l3.8 3.4m-25.1 -41.7l2.8 3.1m-23 33.2l2.7 4.5m25.3 -61.3l.6 5.2m72.9 13l1.8 5.6m-55 18.6l4.3 6.3m-11.8 -3.2l5.1 6.6m-44.7 20.6l-.5 7.1m38 -25.8l-5.7 .4m4.2 14.9l1.2 3m8.4 -39.5l-2.6 3.2m-29.6 -32.7l1.8 9.1m75.9 8.6l8.9 2.5m-4.2 48.1l6.2 4.4m-1.6 -62.3l.6 7m-1.3 22.9l2.4 8.3m-76.5 -32.8l-5.2 4.8m57.6 39.6l-1.2 6.9m-33.8 -54.6l8 2m15.6 -12.1l-.1 3.3m9.2 24.6l-8 4.8m6.3 12.3l3.8 7.9m3.7 -64.9l8.5 5.2m-49.3 22.7l4.9 1.4m52.4 46.1l-3.2 8.9m-79.5 -34.2l4.7 8m-13.9 -3.1l2.1 8.2m50.1 -8.2l-6.2 2.4m-26.9 -44.2l-7.6 2.7m82.6 -6.6l4.2 3.7m-48.4 7.7l.6 7.9m21.8 21.7l4.5 8.4m-8.5 -13.7l4.2 4.9m-40.1 14.7l-3.9 6.7m33.1 -40.3l-5.8 6.3m28.8 25.2l-5 5.1m-80.4 8.7l4.9 2.9m-7.5 -25.8l-3 3.2m32.7 -25.9l-4.1 3.7m76 39l3.3 1.3m-48 -8.6l-4.1 7.7m33.2 -26.9l6.5 .4m-9.4 -34.2l-1.3 5.2m-56 58l9.4 3.2m47.5 -51.8l2.3 5m4.2 -13.3l-5.8 7.3m-65.7 -27.7l-2.1 7.2m-2.6 .2l1.6 9.5m62.4 -16.5l1 4.8m-45 44.4l-.5 9.6m61.1 -15.1l6.7 5.3m-61.2 -4.8l-2.8 2.2m-19.8 31.5l-.8 4m79.7 -35.5l-5.2 3.5m-45.5 -6.1l7.9 3.7m-34.2 -47.5l-6.4 3.8m48.3 37.7l8 0m-66.3 -22l4.4 1.7m95.2 32l-6 5.3m-99.1 -51.1l-3.3 .7m91.5 53.2l-6.6 .8m-10.5 -59.4l2.2 6.2m-51.5 70.6l-4.7 4.1m-9.3 -63.7l-1.9 2.6m76.1 6.1l.4 9.2m-18.8 -23.3l-3.3 1.3m39 -5.3l1.2 3.9m-21 24.6l-4.5 8.5m-27 -47l-.9 8.2m50.3 4.9l-1.5 4.3m-48.1 43.5l1.9 4m26.5 4.2l-3.8 5.6m-60.4 -36l2.5 2m70.2 -8.3l1 4m-44.6 29.9l.4 4.4m54.8 -31.3l.8 6.5m-80.4 -39.5l6.5 4.8m74.8 61.9l4.5 5m-17.9 -2.5l-.7 9.5m-19.7 -58.1l3.3 1.8m-64 18.9l-3.5 2m52.6 -33.2l1.5 5.5m9.7 33.2l.1 4m6.6 14.5l8.7 .1m-16.4 -66l-6.9 .7m-33.7 20.8l1.2 4.9"/>
<path stroke="#e8ecf6" stroke-opacity="0.55" stroke-width="3.3" stroke-linecap="round" d="M587.5 286.2l1.6 1.2m.1 8.2l-.1 .6m-1.5 -18.8l.7 1.5m45.4 46l-1.9 3.1m31 -48.9l-3.1 .9m-11.4 25.9l2.3 .5m4.9 -28.4l-2.5 2.8m-55.9 58.8l-3.4 .1m-6.4 -35.7l-3.5 .1m48.5 25.8l-1.5 .1m44.2 -8.8l.2 .8m-63.6 -19.8l.8 1m37.3 34.5l0 3.2m-44.8 -46.9l-.1 .6m66.5 -5.1l-1.6 1.9m-24.5 18.2l-.5 .2m8.2 28.7l-1.4 2.3m-31.2 -15l-2.9 1.5m-7.3 -38.7l-2 2.2m-10.9 17l1.7 1.4m31.5 -30.2l-.2 .8m-30.9 34.5l.5 3.5m12.3 -48.4l-.4 .6m41 -.6l1.1 2.9m-41.4 14.1l1.4 .3m40.9 34.3l-.7 .7m17.6 2l3 .7m-22.3 -15.1l-.7 1.6m-51 -13.9l-3.2 1.7m67.5 38.6l-3.3 .1m4.4 4.1l3.7 1.4m-58.3 -1.6l-2 1.1m7.5 -6.8l.4 1.5m-8 -5.9l-1.2 .8m67.2 -3.5l.6 3.4m-98.7 -40.5l-.5 .3m33.3 22.9l-.7 1.2m35.4 -52.1l3.3 1.1m-47 23.5l-3.4 .2m58.5 -12.3l-1.4 .5m1.1 -5.1l3.4 2m-47.7 -9.6l.6 2.4m-10.8 18.7l.9 1.6m15.2 38.5l.8 .4m-34 -2.5l.4 .7m71.7 -28.9l2.4 .1m-25.4 14.4l-3.6 1.5m-14.3 -25.1l2.8 1.5m-34.9 -16.4l-3.1 .8m6.7 46.9l-.2 1.3m77.6 -13.2l-2.8 2.3m6.7 -37.2l.3 1.1m-62.2 19l0 2.1m11.6 17.8l.1 1.2m5.1 6.5l-1 1.1m25 20.4l.5 1.4m-3.7 -35.1l.3 1.6m-5.3 15.4l-.5 2.2m15.8 -10.9l.3 .6m-4.7 -23.8l-1.7 .9m-42.1 9l-2.5 2.1m9.5 8.6l3 2.4m29.1 14l-3.8 .3m31.8 -68.3l-3.6 .3m-83.5 50.8l2.5 2.8m19.5 -22.8l1.8 1.3m-31.3 -11.7l-1.6 .7m104.8 -8.9l-3.4 2.1m-96.9 37.9l1.7 1.2m7.5 18.6l-1.5 1.5m52.2 -60l2.7 2.4m-37.2 -4l.4 1m73.5 30.3l.2 .6m-26.4 -21.1l-.3 1.6m-26.7 -7.8l.8 3.2m-1.8 39l-2.5 2.1m-26.7 -2.2l0 .7m-16.6 -40.7l-.6 1.8m68 14.5l1.6 .2m-19.5 -19.8l.4 .9m17.4 62.4l-2.7 2.3m-17 -80.6l-1.5 0m5.8 76.6l-.9 3m-52.1 -19.3l-.4 .7m48.4 -2.8l1 .5m-44.2 -36.9l2.1 1.6m28.4 3.7l.4 1m8 18.4l.5 3m46.2 10.9l-.8 .7m-3.5 -40.3l-3.7 1.4m-75.4 40.8l.8 1.1m5.6 -42.6l-1.9 2.9m28.5 17.8l1 1.7m19.5 -38.9l1.3 .8m21.2 37.6l-1.6 1.6m-82.7 -8.3l.5 1m73.3 3.5l-.9 1.4m-48 -36.4l1.9 2.5m17.1 62.2l-1 1m-13.8 -26.5l2.1 3.3m-24.8 16.9l1.5 3.5m57.4 -44.8l.6 1.3m3.9 -6l1.6 .6m-58.6 29.3l.6 2.6m39.9 27.9l-2.5 1.8m-27.7 -6.7l-.6 .2m4.1 -45.7l-1.9 1.5m64.9 -19.3l-1.9 2.2m-51 61.8l-1.6 .4m-21.8 -42.2l.3 1.4m66.9 -.7l-.5 .2m-3.7 -11.1l1.2 .6m-65.7 48.2l2.3 3.2m-11 -62.8l3.7 1.5m22.9 33.3l-2.6 .5m-16.2 -4.2l-1 .4m37.7 -20.5l.8 .7m54.3 12.6l1.5 1m-46.8 -24.4l0 .9m-.6 -12.4l2.1 2.9m-60.5 11.4l3.5 .2m16.4 15.6l-.7 1.5m30.2 19.3l-1.7 1.8m34.3 21.3l-1 1.4m-29.6 -16.3l1.3 .7m-32.7 -55.6l-2.4 1.3m14.5 63.7l.9 .3m20.3 -72.2l0 2.3m36.8 20.1l1.8 .1m-67.4 -9.5l-.4 1.1m52.5 52.2l-2.8 2m-66 -40.4l.4 .8m81.8 -5.5l1.2 3.2m12.8 -13.1l1.3 2.1m-37.5 -11.1l.3 2.3m-25.9 67.2l2.5 .4m23.5 -6.1l.7 2.8m-3.8 -34.1l.9 2.1m-11.3 -18.2l-.7 .1m-56 9.6l2.6 .3m37.7 45.8l-2.1 1.1m52.7 -54.1l-.3 1.2m-65.1 7.3l2.5 2.8m.4 -16.5l-3.6 .3m-2.7 52.8l-1.8 2.1m-12 -3.1l-2.7 1.6m34.8 -12.2l.7 .3m-26.5 10.6l-.3 .5m60.9 -26.9l-1.7 1.3m-21.8 2.8l-2.5 1.1m33.7 -33.1l-.8 3.1m-70.8 29.4l-.2 2.6m87.4 1l.5 .2m-14.3 -13.9l1 .4m-48.9 14.5l-2.5 2.9m-9.7 -45.7l-.5 .8m57.2 6.9l1.8 1.9m-31.9 -18.4l-.5 .3m49.1 76.5l-.9 .8m-3.7 -21.7l1.2 3.4m-47.9 -3.8l2.2 .2m14 -9.8l1.1 .3m-20.4 28.9l-.5 1.4m39.4 -55.4l-2 2.3m-15.5 -23.3l-.4 1m-29.2 49.2l-.7 2.1m-2.1 19.3l-.4 .7m5.6 -68.6l-2.7 .4m-17 36.2l-.7 .4m-13.2 -44.2l3 1.8m21 50l2.1 2"/>
<path stroke="#e8ecf6" stroke-opacity="0.55" stroke-width="4.0" stroke-linecap="round" d="M654.2 301.4l-.4 1.6m-17.8 29.2l1.2 3.3m40.7 -38l.8 2.5m-4.4 -27.1l3.5 1.3m-61.9 26.9l-1.9 2.6m42 23.7l3.3 .7m19.3 -37.1l2.2 1.3m-35.9 -10.7l-.6 2.6m21.7 38.9l-.9 2.5m-21.2 -40.8l-2.3 2.2m4.8 -6.1l1.8 .3m-37.9 -10.2l1.2 1.6m43.4 65.9l.7 2.9m-66.9 -27.9l-.2 2.2m45.9 -11.4l2.2 .1m43.9 -42.3l2 .2m-96.3 48.1l1.5 1.3m19.7 6.2l-2.2 1m62.8 -14.7l-1.2 0m4.6 3.5l-2.7 2.9m-3.8 7.6l-2 .5m10.2 -30l2 1.1m-74.6 -2.3l-2.1 3m24.4 22l1.7 2.4m6.5 -48.9l-2.5 2.6m-31.2 -6.1l-3.6 .2m83.1 73.9l-2.2 3.3m-80.6 -76.5l-1.1 1m-9.4 6.3l-1.8 .8m48 10.1l.4 1.1m-37.4 6.1l-3.3 1m28.1 8.9l-.6 3.8m6.1 -9.7l2.3 1.6m-16.5 1.3l1 .2m-26.9 -19.5l-.2 3.6m50.3 38.3l1.6 .9m-31.9 -45.3l-3.6 .1m23.6 68.9l-2.2 .4m37.3 -49.1l1.2 .7m1.4 30.2l1.9 1.5m-81.2 -53.9l2 1.3m55.3 60.3l.9 1.5m5.9 -32l-.7 .7m-47.4 -11.1l1.9 1.3m79.4 -16.2l2.1 1.5m-27.7 14.9l2.5 0m14.8 45.2l.2 2.3m-24.7 -22l.8 .2m-11.6 -11.5l-1.2 .6m10.5 -22.2l-2.8 .7m-24.1 18.3l.2 3.3m15.8 -5l-1 .2m-30.3 -21l.6 1.9m31 22.8l1.9 1.2m-30.8 20l.6 .4m50.7 2.2l-.6 .4m10.4 -41.8l.8 .9m-30 49l.8 2.8m-12.7 -27.5l-1 3.7m-40.3 14.8l.2 1.4m49.3 -40.6l-3.2 1.6m7.4 -8.8l.6 1.4m44 -5.9l.5 1.1m-73.8 9.1l-1.9 1.9m-7.7 26.4l-.1 3.2m-14.8 11.7l-1.1 .1m43.4 -40.3l.9 3.7m.3 -1.1l-.5 .7m51.2 5.1l-.5 .6m-49.6 33.3l2.3 2m-39.6 -17.9l-1.3 .6m1 -9.5l-.1 2.5m1.9 -38.6l0 1.2m67.4 -8.5l1.4 .5m-49.8 51.3l-.9 2.5m-8.5 1.1l1.7 2.2m62.6 -28.6l1.2 2.4m-60.1 21.5l-.5 .5m23.9 -48.1l-.5 1.7m-21.6 10.7l-1.3 1.3m54.7 36.7l-.5 1.6m-52.1 1.3l-.4 .8m22.3 -44.9l3.2 2.3m21.7 8.6l2.6 2.5m-16 35.4l-2 1.5m15.4 -15.2l-2.4 1.1m3.6 -8.6l2.4 .1m-22.1 -3.5l1.1 .1m-13.1 17.2l.4 2m-45.6 11.7l-3.1 1.7m30.7 -.7l1.2 3m8.7 -42.9l-2.6 2.1m50.2 -13.5l.6 .7m-42.2 -15.5l1.4 2m-4 45.7l-1.6 2.5m17.5 -37.5l-1.1 1.4m22 5.3l.3 .6m-80.4 38.1l2.5 .5m73.9 -24.6l1.5 3.3m-34.6 -6.3l-.9 1.5m58.5 -11.3l-.5 .4m-62.1 37.7l-2.9 1.3m48.3 -38.3l.8 1.6m-58.2 24.3l.5 1.3m45.2 -55.1l2.2 1.7m-10 45.1l.1 1m-.9 -18l-1.7 .4m-43.6 -29.2l1 1.3m59.5 3.3l-1.5 .6m-32.7 47.2l.6 .2m-1.6 11.6l-1 .8m-2.1 -24.5l1.7 3.4m-10 -39l-1.3 2.3m21.9 55.1l1.3 1.4m30.5 -66.4l.5 1m-87 29.7l-.3 2.9m20.5 37.1l.4 1.3m36.4 -5.6l-.6 .5m4.5 -56.1l-1.9 .3m-39.5 13.7l-1.8 2.2m52.5 32.5l-.6 1.8m-32.2 -50.6l1 .8m21.2 45.4l-3.2 1m42.4 -46.3l2.5 1.2m-75.8 -6.7l.4 1.5m10.3 47.3l.4 1.6m25.9 -57.9l-1.6 1.9m44.3 39.6l-2.4 2.4m-53.4 11.5l.2 .5m17.9 11.6l0 .6m25.3 -31.4l-2.6 2.1m-55.4 7.9l1.7 0m22.6 -42l.9 2.4m18.4 55.9l.7 .3m22.8 9.1l2.5 2.4m-65 -54.5l1.9 1.1m12.8 10.7l1.3 1.3m-15.9 -39.6l2.9 .7m19.8 44.7l-1.6 2.2m-52.9 28.6l-2.2 .3m14.2 -41.3l.5 3.3m3.9 23.9l-1.7 .8m3.6 -33.6l.8 .1m76.6 -8.9l.7 1.5m-45.4 -5.2l-1.7 2.5m-24.5 -7.5l1.5 .7m7.5 18.1l-.9 3m-35.5 12.8l2.2 1.6m24.3 -30l2.2 .1m27.9 26.3l2.2 1m29.1 -32.8l-1 1.4m-79.6 48.7l-.9 3.7m47 9.7l2.7 1.2m39 -69.9l.8 3.2m-61.7 45.9l-.1 1.2m-3 -27.7l1 2.7m58.7 -27.3l3.1 1.6m-42.1 53.1l0 2.3m-5.8 3.4l-3 .4m28.4 -61.4l-3.8 .3m-61.4 46.7l-.8 2.7m-10.1 19.4l-.1 3.6m92.4 -37.9l-.4 .5m-7.4 17.9l-2.5 1.1m20.4 4.4l-.2 .9m-3.3 8l2.1 2.8m-50.5 -33.8l.5 2.1m16.6 -33.7l-.9 2.9m-58.5 59.5l.3 .6m12.3 -42l-1.3 2.3m68.5 11.8l1.1 .1m10.5 15.9l.7 1.5m-98.7 -38.9l-2.3 .6m56.2 .8l-.3 3.9m-37.3 -11.9l-.2 2.3m10.2 47.2l-.3 .4m9.1 -49.4l2.6 1.7m62 1.2l-2.6 1.8m3.7 51.4l1.7 1.6m-9 -7.7l-.9 .1m-62 -11.2l-2.3 1.5m-2.6 -41.4l1.3 3.1m-13.1 29.5l2.4 1.8m30.5 -34.9l1.1 .9m-12.1 44.4l-.7 .7m-24 -59.7l-.7 .8m3.4 2.7l-2.2 1.3m13.8 21.7l3.5 .7m56.4 43.3l2.3 1.4m-14.7 6.7l2.5 1.5m-67.9 -2.3l-1 1.2m-8.1 -19l-.2 3.4m.5 -1.8l.9 .2m58.8 6.6l2.9 .1m-39.3 -5.6l0 .6m55.9 -3.4l-.5 .3"/>
<path stroke="#e8ecf6" stroke-opacity="0.55" stroke-width="4.7" stroke-linecap="round" d="M636.6 288.3l.8 3.7m18 6.2l1.1 1.3m-28.8 -29.4l1 2.5m-15.9 -11.8l.9 1.9m20.1 26.3l0 .6m-4.7 -13.3l-2.5 1.3m-16.9 29l1.2 3m15.4 -8.6l0 2.2m19.8 -13l-3.7 .7m-47 50.6l.9 .8m24.2 -50l.3 2.9m14.8 31.7l.3 1.2m33.7 -54.7l2.3 2.6m-38.6 1.1l-2.5 2.3m-44.6 -14.6l1.5 .5m25.8 1.9l-.1 2.2m12.7 69.4l.5 .7m-5.8 -6.8l-2.1 2.2m-10.1 -35.6l-1.4 0m-21.1 31.3l3.3 0m82.7 5l-1 2.1m-24.9 -61.6l3.2 2m-36 -12.6l-.1 1.5m-23 55l-2.8 .4m26.1 -47.9l-2.1 1.3m20.1 36.7l3.4 1.4m20.5 24.7l-1.7 1.2m-25.7 -67.4l-1.6 2.1m35.9 -4.8l.2 .8m-29.6 17.4l-.7 1.2m-18.5 3.6l1.3 1.9m-37 44l2 1.4m42.9 -53.8l-.7 1.4m38.9 42.9l-2.5 1.6m-29.9 -32.8l.4 .9m-23.5 9.6l2.3 2.6m-24 25l-2.5 2.1m92 -46.4l1 1.1m-96.3 31.7l1 3.7m87.7 -7l-.1 .6m-24.3 -29.9l.8 3.7m-46.6 -25l.1 1.1m-8.1 44.5l.1 1.2m2.2 -1.9l-1.2 2.9m32.2 -13.6l-2.6 .3m21.2 33l-.3 2.3m-27.8 -63l-1 .2m56.2 5.8l.7 1.1m-8.8 45.4l-1.1 1.3m-69.3 -8.8l-.8 .8m63 -34.6l.7 .1m22.4 -.3l-1 2.3m-48.9 -.3l-1.6 1.5m-26.3 23.3l.1 1.4m44.6 -47.4l-2.4 .6m-7.2 -1.9l-1.7 .5m-30.5 10.8l2 2.8m36.6 30.2l.6 .1m-17.4 -7.7l1.2 .6m46 -42.5l-1.9 .4m-63.5 72l-1.2 .9m2 -30.9l3.6 .1m56.4 -29l1.7 3.2m-3.4 15.4l-.8 .4m-47.5 29.6l-.5 1.4m-21.6 -48.7l.6 .6m-2.7 62.1l-1.9 .5m5.1 -72.5l0 .5m63.9 1.7l1.5 3.6m9.8 4.9l-.4 1.9m-32.8 32.4l-.4 2.4m39.5 -51.7l1.6 1.8m-65.3 .6l-1.8 .4m-13.9 -2.7l-.9 .4m87.9 47l-2.2 .5m-44 29.4l-.1 .5m32.5 -20.9l3.8 .1m-78.8 -41.3l-.7 2.9m6.9 17.9l.5 2.9m56.5 10l1.2 1.6m-12.4 20.1l-1.8 .9m13.9 -68.8l.2 1m-22 31.6l2.3 2.9m.6 -17l2.6 2m-63.2 11.1l.7 1.2m64.4 -20.1l-2.1 1.8m-56.2 6.8l2.1 1m26.4 -1.1l-.6 1.6m-23 13.1l-1.8 .1m62.1 26.4l-1.5 1.7m-32.1 -51.3l-1.1 1.1m52.9 3.5l2 .7m-41.4 -5.8l-.2 .8m34.8 19.9l-3.7 .6m-70.2 32.9l3.8 .5m37.4 -54.8l-.9 0m28.8 36.2l-.5 .9m20 -14.6l2.7 2.4m-24.2 -23.2l1.5 .8m-77.8 -1.7l-1.1 .1m27.4 -3.8l1.6 1.7m9.9 8.4l-1 1.3m35 -13.1l1 .1m-64.2 -10.5l.9 1.1m5 24.3l1.2 .2m22.2 -3.8l-1.7 1.5m-21.8 6.9l-.1 3.1m19.2 22.4l-.6 0m-22.1 5.3l2.1 .4m42 -64.8l2.2 .7m-16.2 1.6l2.7 2.2m-16.8 52.9l-3.3 .2m47.3 -38.8l.6 3m-60 -3.2l.7 .8m90 3.9l-2.7 .8m-85.2 52.9l-2.1 .9m-12.4 -37.1l-2.8 .6m95.9 -23.7l3.3 1.8m-44.5 53.8l-1.7 1.6m9.3 -74.6l-.5 .5m41.1 70.4l2.2 1.3m-83.3 -45.5l-.8 .5m47.9 -5.3l-1.7 .4m-23.7 -20l-3.6 .3m-8.9 57.3l1 .5m15.3 -11l-.5 1.4m-19 -41.8l-1.5 2.3m50.8 64.5l-.7 1.1m-.3 -30.2l-.4 3.3m-9.4 -21.3l-2.5 .9m-37.8 -27.4l3.3 .1m48.2 33.7l-1 .9m-2.6 -10l.4 .8m-32.8 42.9l2.2 2.7m17.2 -54.1l1.7 2.1m-37.2 -15.3l.6 .1m43.7 43.9l3.5 .5m-26.6 -13.8l-2.5 .8m47.3 -36.9l-3.9 .3m-74.2 74.3l-1.8 2.3m52.1 -36.2l.5 .5m-45.6 19.2l3.5 .2m76.4 -21.6l1.6 1.1m7 28.4l-3.2 .4m-5.5 -69.6l.3 .9m-70.3 40l-1.9 2m43.2 18.2l1.5 .1m32.4 -12.4l1 3.3m-67 -36.4l1.6 1m16.3 26.7l-1.2 1.8m-9.4 -24.5l2.3 1.3m36.6 -15.3l.3 1.2m-51.3 38l-.2 3.3m61.9 -41.4l-1.3 3.2m-7.7 27.2l1.2 .9m-22 20.4l1.7 1.7m9.1 -10.3l2 3.2m-51.4 1.1l-.5 2.4m-24.9 -.1l1.6 .2m22.6 -15.6l-1.4 3.7m.6 10.5l-2.2 1.1m18.2 -21.9l1.1 .8m24.8 26.9l-.3 2.6m24.9 -22l1 .9m-69.7 -8.2l-3 .2m16.2 28.8l2.7 2.8m24.3 .4l1.4 1.5m37.6 -53.4l2.7 1.1m-39 -7.3l-1.6 0m-54.8 22.7l-2.5 .7m40.3 -5.5l-3.2 .1m55.5 -10.9l-.6 1.4m-57.8 7.8l.6 1.5m-25.5 14.5l2 .5m52.8 -24.7l1 1.4m6.8 32.2l2.5 1.4m-22.1 19.6l-2.9 .9m-20.5 -72.1l-1.1 .4m47.8 76.1l2.4 2.5m14.7 -43.8l.8 .7m-73.6 -13.3l2.2 1.1m49.2 -16.1l.7 .3m-60.4 51.2l-1.6 2.1"/>
<path stroke="#183480" stroke-width="1.8" stroke-linecap="round" d="M587.5 286.2l1.6 1.2m.1 8.2l-.1 .6m-1.5 -18.8l.7 1.5m45.4 46l-1.9 3.1m31 -48.9l-3.1 .9m-11.4 25.9l2.3 .5m4.9 -28.4l-2.5 2.8m-55.9 58.8l-3.4 .1m-6.4 -35.7l-3.5 .1m48.5 25.8l-1.5 .1m44.2 -8.8l.2 .8m-63.6 -19.8l.8 1m37.3 34.5l0 3.2m-44.8 -46.9l-.1 .6m66.5 -5.1l-1.6 1.9m-24.5 18.2l-.5 .2m8.2 28.7l-1.4 2.3m-31.2 -15l-2.9 1.5m-7.3 -38.7l-2 2.2m-10.9 17l1.7 1.4m31.5 -30.2l-.2 .8m-30.9 34.5l.5 3.5m12.3 -48.4l-.4 .6m41 -.6l1.1 2.9m-41.4 14.1l1.4 .3m40.9 34.3l-.7 .7m17.6 2l3 .7m-22.3 -15.1l-.7 1.6m-51 -13.9l-3.2 1.7m67.5 38.6l-3.3 .1m4.4 4.1l3.7 1.4m-58.3 -1.6l-2 1.1m7.5 -6.8l.4 1.5m-8 -5.9l-1.2 .8"/>
<path stroke="#2c5cc0" stroke-width="1.8" stroke-linecap="round" d="M675.3 328.5l.6 3.4m-98.7 -40.5l-.5 .3m33.3 22.9l-.7 1.2m35.4 -52.1l3.3 1.1m-47 23.5l-3.4 .2m58.5 -12.3l-1.4 .5m1.1 -5.1l3.4 2m-47.7 -9.6l.6 2.4m-10.8 18.7l.9 1.6m15.2 38.5l.8 .4m-34 -2.5l.4 .7m71.7 -28.9l2.4 .1m-25.4 14.4l-3.6 1.5m-14.3 -25.1l2.8 1.5m-34.9 -16.4l-3.1 .8m6.7 46.9l-.2 1.3m77.6 -13.2l-2.8 2.3m6.7 -37.2l.3 1.1m-62.2 19l0 2.1m11.6 17.8l.1 1.2m5.1 6.5l-1 1.1m25 20.4l.5 1.4m-3.7 -35.1l.3 1.6m-5.3 15.4l-.5 2.2m15.8 -10.9l.3 .6m-4.7 -23.8l-1.7 .9m-42.1 9l-2.5 2.1m9.5 8.6l3 2.4m29.1 14l-3.8 .3m31.8 -68.3l-3.6 .3m-83.5 50.8l2.5 2.8m19.5 -22.8l1.8 1.3m-31.3 -11.7l-1.6 .7m104.8 -8.9l-3.4 2.1m-96.9 37.9l1.7 1.2m7.5 18.6l-1.5 1.5m52.2 -60l2.7 2.4m-37.2 -4l.4 1m73.5 30.3l.2 .6m-26.4 -21.1l-.3 1.6m-26.7 -7.8l.8 3.2m-1.8 39l-2.5 2.1"/>
<path stroke="#3a6cc8" stroke-width="1.8" stroke-linecap="round" d="M597.3 320.3l0 .7m-16.6 -40.7l-.6 1.8m68 14.5l1.6 .2m-19.5 -19.8l.4 .9m17.4 62.4l-2.7 2.3m-17 -80.6l-1.5 0m5.8 76.6l-.9 3m-52.1 -19.3l-.4 .7m48.4 -2.8l1 .5m-44.2 -36.9l2.1 1.6m28.4 3.7l.4 1m8 18.4l.5 3m46.2 10.9l-.8 .7m-3.5 -40.3l-3.7 1.4m-75.4 40.8l.8 1.1m5.6 -42.6l-1.9 2.9m28.5 17.8l1 1.7m19.5 -38.9l1.3 .8m21.2 37.6l-1.6 1.6m-82.7 -8.3l.5 1m73.3 3.5l-.9 1.4m-48 -36.4l1.9 2.5m17.1 62.2l-1 1m-13.8 -26.5l2.1 3.3m-24.8 16.9l1.5 3.5m57.4 -44.8l.6 1.3m3.9 -6l1.6 .6m-58.6 29.3l.6 2.6m39.9 27.9l-2.5 1.8m-27.7 -6.7l-.6 .2m4.1 -45.7l-1.9 1.5m64.9 -19.3l-1.9 2.2m-51 61.8l-1.6 .4m-21.8 -42.2l.3 1.4m66.9 -.7l-.5 .2"/>
<path stroke="#1c46a4" stroke-width="1.8" stroke-linecap="round" d="M654.6 285.8l1.2 .6m-65.7 48.2l2.3 3.2m-11 -62.8l3.7 1.5m22.9 33.3l-2.6 .5m-16.2 -4.2l-1 .4m37.7 -20.5l.8 .7m54.3 12.6l1.5 1m-46.8 -24.4l0 .9m-.6 -12.4l2.1 2.9m-60.5 11.4l3.5 .2m16.4 15.6l-.7 1.5m30.2 19.3l-1.7 1.8m34.3 21.3l-1 1.4m-29.6 -16.3l1.3 .7m-32.7 -55.6l-2.4 1.3m14.5 63.7l.9 .3m20.3 -72.2l0 2.3m36.8 20.1l1.8 .1m-67.4 -9.5l-.4 1.1m52.5 52.2l-2.8 2m-66 -40.4l.4 .8m81.8 -5.5l1.2 3.2m12.8 -13.1l1.3 2.1m-37.5 -11.1l.3 2.3m-25.9 67.2l2.5 .4m23.5 -6.1l.7 2.8m-3.8 -34.1l.9 2.1m-11.3 -18.2l-.7 .1m-56 9.6l2.6 .3m37.7 45.8l-2.1 1.1m52.7 -54.1l-.3 1.2m-65.1 7.3l2.5 2.8m.4 -16.5l-3.6 .3"/>
<path stroke="#3a6cc8" stroke-width="2.5" stroke-linecap="round" d="M654.2 301.4l-.4 1.6m-17.8 29.2l1.2 3.3m40.7 -38l.8 2.5m-4.4 -27.1l3.5 1.3m-61.9 26.9l-1.9 2.6m42 23.7l3.3 .7m19.3 -37.1l2.2 1.3m-35.9 -10.7l-.6 2.6m21.7 38.9l-.9 2.5m-21.2 -40.8l-2.3 2.2m4.8 -6.1l1.8 .3m-37.9 -10.2l1.2 1.6m43.4 65.9l.7 2.9m-66.9 -27.9l-.2 2.2m45.9 -11.4l2.2 .1m43.9 -42.3l2 .2m-96.3 48.1l1.5 1.3m19.7 6.2l-2.2 1m62.8 -14.7l-1.2 0m4.6 3.5l-2.7 2.9m-3.8 7.6l-2 .5m10.2 -30l2 1.1m-74.6 -2.3l-2.1 3m24.4 22l1.7 2.4m6.5 -48.9l-2.5 2.6m-31.2 -6.1l-3.6 .2m83.1 73.9l-2.2 3.3m-80.6 -76.5l-1.1 1m-9.4 6.3l-1.8 .8m48 10.1l.4 1.1m-37.4 6.1l-3.3 1m28.1 8.9l-.6 3.8m6.1 -9.7l2.3 1.6m-16.5 1.3l1 .2"/>
<path stroke="#183480" stroke-width="2.5" stroke-linecap="round" d="M582.9 276.4l-.2 3.6m50.3 38.3l1.6 .9m-31.9 -45.3l-3.6 .1m23.6 68.9l-2.2 .4m37.3 -49.1l1.2 .7m1.4 30.2l1.9 1.5m-81.2 -53.9l2 1.3m55.3 60.3l.9 1.5m5.9 -32l-.7 .7m-47.4 -11.1l1.9 1.3m79.4 -16.2l2.1 1.5m-27.7 14.9l2.5 0m14.8 45.2l.2 2.3m-24.7 -22l.8 .2m-11.6 -11.5l-1.2 .6m10.5 -22.2l-2.8 .7m-24.1 18.3l.2 3.3m15.8 -5l-1 .2m-30.3 -21l.6 1.9m31 22.8l1.9 1.2m-30.8 20l.6 .4m50.7 2.2l-.6 .4m10.4 -41.8l.8 .9m-30 49l.8 2.8m-12.7 -27.5l-1 3.7m-40.3 14.8l.2 1.4m49.3 -40.6l-3.2 1.6m7.4 -8.8l.6 1.4m44 -5.9l.5 1.1m-73.8 9.1l-1.9 1.9m-7.7 26.4l-.1 3.2m-14.8 11.7l-1.1 .1m43.4 -40.3l.9 3.7m.3 -1.1l-.5 .7m51.2 5.1l-.5 .6m-49.6 33.3l2.3 2m-39.6 -17.9l-1.3 .6m1 -9.5l-.1 2.5m1.9 -38.6l0 1.2m67.4 -8.5l1.4 .5m-49.8 51.3l-.9 2.5m-8.5 1.1l1.7 2.2m62.6 -28.6l1.2 2.4m-60.1 21.5l-.5 .5m23.9 -48.1l-.5 1.7m-21.6 10.7l-1.3 1.3"/>
<path stroke="#2c5cc0" stroke-width="3.2" stroke-linecap="round" d="M636.6 288.3l.8 3.7m18 6.2l1.1 1.3m-28.8 -29.4l1 2.5m-15.9 -11.8l.9 1.9m20.1 26.3l0 .6m-4.7 -13.3l-2.5 1.3m-16.9 29l1.2 3m15.4 -8.6l0 2.2m19.8 -13l-3.7 .7m-47 50.6l.9 .8m24.2 -50l.3 2.9m14.8 31.7l.3 1.2m33.7 -54.7l2.3 2.6m-38.6 1.1l-2.5 2.3m-44.6 -14.6l1.5 .5m25.8 1.9l-.1 2.2m12.7 69.4l.5 .7m-5.8 -6.8l-2.1 2.2m-10.1 -35.6l-1.4 0m-21.1 31.3l3.3 0m82.7 5l-1 2.1m-24.9 -61.6l3.2 2m-36 -12.6l-.1 1.5m-23 55l-2.8 .4m26.1 -47.9l-2.1 1.3m20.1 36.7l3.4 1.4m20.5 24.7l-1.7 1.2m-25.7 -67.4l-1.6 2.1m35.9 -4.8l.2 .8m-29.6 17.4l-.7 1.2m-18.5 3.6l1.3 1.9m-37 44l2 1.4m42.9 -53.8l-.7 1.4"/>
<path stroke="#3a6cc8" stroke-width="3.2" stroke-linecap="round" d="M661.2 330.5l-2.5 1.6m-29.9 -32.8l.4 .9m-23.5 9.6l2.3 2.6m-24 25l-2.5 2.1m92 -46.4l1 1.1m-96.3 31.7l1 3.7m87.7 -7l-.1 .6m-24.3 -29.9l.8 3.7m-46.6 -25l.1 1.1m-8.1 44.5l.1 1.2m2.2 -1.9l-1.2 2.9m32.2 -13.6l-2.6 .3m21.2 33l-.3 2.3m-27.8 -63l-1 .2m56.2 5.8l.7 1.1m-8.8 45.4l-1.1 1.3m-69.3 -8.8l-.8 .8m63 -34.6l.7 .1m22.4 -.3l-1 2.3m-48.9 -.3l-1.6 1.5m-26.3 23.3l.1 1.4m44.6 -47.4l-2.4 .6m-7.2 -1.9l-1.7 .5m-30.5 10.8l2 2.8m36.6 30.2l.6 .1m-17.4 -7.7l1.2 .6m46 -42.5l-1.9 .4m-63.5 72l-1.2 .9m2 -30.9l3.6 .1m56.4 -29l1.7 3.2m-3.4 15.4l-.8 .4m-47.5 29.6l-.5 1.4m-21.6 -48.7l.6 .6m-2.7 62.1l-1.9 .5m5.1 -72.5l0 .5m63.9 1.7l1.5 3.6m9.8 4.9l-.4 1.9m-32.8 32.4l-.4 2.4m39.5 -51.7l1.6 1.8m-65.3 .6l-1.8 .4m-13.9 -2.7l-.9 .4m87.9 47l-2.2 .5"/>
<path stroke="#1c46a4" stroke-width="2.5" stroke-linecap="round" d="M661.8 326.9l-.5 1.6m-52.1 1.3l-.4 .8m22.3 -44.9l3.2 2.3m21.7 8.6l2.6 2.5m-16 35.4l-2 1.5m15.4 -15.2l-2.4 1.1m3.6 -8.6l2.4 .1m-22.1 -3.5l1.1 .1m-13.1 17.2l.4 2m-45.6 11.7l-3.1 1.7m30.7 -.7l1.2 3m8.7 -42.9l-2.6 2.1m50.2 -13.5l.6 .7m-42.2 -15.5l1.4 2m-4 45.7l-1.6 2.5m17.5 -37.5l-1.1 1.4m22 5.3l.3 .6m-80.4 38.1l2.5 .5m73.9 -24.6l1.5 3.3m-34.6 -6.3l-.9 1.5m58.5 -11.3l-.5 .4m-62.1 37.7l-2.9 1.3m48.3 -38.3l.8 1.6m-58.2 24.3l.5 1.3m45.2 -55.1l2.2 1.7m-10 45.1l.1 1m-.9 -18l-1.7 .4m-43.6 -29.2l1 1.3m59.5 3.3l-1.5 .6m-32.7 47.2l.6 .2m-1.6 11.6l-1 .8m-2.1 -24.5l1.7 3.4m-10 -39l-1.3 2.3m21.9 55.1l1.3 1.4m30.5 -66.4l.5 1"/>
<path stroke="#2c5cc0" stroke-width="2.5" stroke-linecap="round" d="M575.8 299.2l-.3 2.9m20.5 37.1l.4 1.3m36.4 -5.6l-.6 .5m4.5 -56.1l-1.9 .3m-39.5 13.7l-1.8 2.2m52.5 32.5l-.6 1.8m-32.2 -50.6l1 .8m21.2 45.4l-3.2 1m42.4 -46.3l2.5 1.2m-75.8 -6.7l.4 1.5m10.3 47.3l.4 1.6m25.9 -57.9l-1.6 1.9m44.3 39.6l-2.4 2.4m-53.4 11.5l.2 .5m17.9 11.6l0 .6m25.3 -31.4l-2.6 2.1m-55.4 7.9l1.7 0m22.6 -42l.9 2.4m18.4 55.9l.7 .3m22.8 9.1l2.5 2.4m-65 -54.5l1.9 1.1m12.8 10.7l1.3 1.3m-15.9 -39.6l2.9 .7m19.8 44.7l-1.6 2.2m-52.9 28.6l-2.2 .3m14.2 -41.3l.5 3.3m3.9 23.9l-1.7 .8m3.6 -33.6l.8 .1m76.6 -8.9l.7 1.5m-45.4 -5.2l-1.7 2.5m-24.5 -7.5l1.5 .7m7.5 18.1l-.9 3m-35.5 12.8l2.2 1.6m24.3 -30l2.2 .1m27.9 26.3l2.2 1m29.1 -32.8l-1 1.4m-79.6 48.7l-.9 3.7m47 9.7l2.7 1.2m39 -69.9l.8 3.2m-61.7 45.9l-.1 1.2m-3 -27.7l1 2.7m58.7 -27.3l3.1 1.6m-42.1 53.1l0 2.3m-5.8 3.4l-3 .4m28.4 -61.4l-3.8 .3m-61.4 46.7l-.8 2.7"/>
<path stroke="#183480" stroke-width="3.2" stroke-linecap="round" d="M635.5 342.7l-.1 .5m32.5 -20.9l3.8 .1m-78.8 -41.3l-.7 2.9m6.9 17.9l.5 2.9m56.5 10l1.2 1.6m-12.4 20.1l-1.8 .9m13.9 -68.8l.2 1m-22 31.6l2.3 2.9m.6 -17l2.6 2m-63.2 11.1l.7 1.2m64.4 -20.1l-2.1 1.8m-56.2 6.8l2.1 1m26.4 -1.1l-.6 1.6m-23 13.1l-1.8 .1m62.1 26.4l-1.5 1.7m-32.1 -51.3l-1.1 1.1m52.9 3.5l2 .7m-41.4 -5.8l-.2 .8m34.8 19.9l-3.7 .6m-70.2 32.9l3.8 .5m37.4 -54.8l-.9 0m28.8 36.2l-.5 .9m20 -14.6l2.7 2.4m-24.2 -23.2l1.5 .8m-77.8 -1.7l-1.1 .1m27.4 -3.8l1.6 1.7m9.9 8.4l-1 1.3m35 -13.1l1 .1m-64.2 -10.5l.9 1.1m5 24.3l1.2 .2m22.2 -3.8l-1.7 1.5m-21.8 6.9l-.1 3.1m19.2 22.4l-.6 0m-22.1 5.3l2.1 .4m42 -64.8l2.2 .7m-16.2 1.6l2.7 2.2m-16.8 52.9l-3.3 .2m47.3 -38.8l.6 3m-60 -3.2l.7 .8m90 3.9l-2.7 .8m-85.2 52.9l-2.1 .9"/>
<path stroke="#2450b0" stroke-width="3.2" stroke-linecap="round" d="M579.5 303.2l-2.8 .6m95.9 -23.7l3.3 1.8m-44.5 53.8l-1.7 1.6m9.3 -74.6l-.5 .5m41.1 70.4l2.2 1.3m-83.3 -45.5l-.8 .5m47.9 -5.3l-1.7 .4m-23.7 -20l-3.6 .3m-8.9 57.3l1 .5m15.3 -11l-.5 1.4m-19 -41.8l-1.5 2.3m50.8 64.5l-.7 1.1m-.3 -30.2l-.4 3.3m-9.4 -21.3l-2.5 .9m-37.8 -27.4l3.3 .1m48.2 33.7l-1 .9m-2.6 -10l.4 .8m-32.8 42.9l2.2 2.7m17.2 -54.1l1.7 2.1m-37.2 -15.3l.6 .1m43.7 43.9l3.5 .5m-26.6 -13.8l-2.5 .8m47.3 -36.9l-3.9 .3m-74.2 74.3l-1.8 2.3m52.1 -36.2l.5 .5m-45.6 19.2l3.5 .2m76.4 -21.6l1.6 1.1m7 28.4l-3.2 .4m-5.5 -69.6l.3 .9m-70.3 40l-1.9 2m43.2 18.2l1.5 .1m32.4 -12.4l1 3.3m-67 -36.4l1.6 1m16.3 26.7l-1.2 1.8m-9.4 -24.5l2.3 1.3m36.6 -15.3l.3 1.2m-51.3 38l-.2 3.3m61.9 -41.4l-1.3 3.2m-7.7 27.2l1.2 .9m-22 20.4l1.7 1.7m9.1 -10.3l2 3.2m-51.4 1.1l-.5 2.4"/>
<path stroke="#2450b0" stroke-width="1.8" stroke-linecap="round" d="M596.8 333.1l-1.8 2.1m-12 -3.1l-2.7 1.6m34.8 -12.2l.7 .3m-26.5 10.6l-.3 .5m60.9 -26.9l-1.7 1.3m-21.8 2.8l-2.5 1.1m33.7 -33.1l-.8 3.1m-70.8 29.4l-.2 2.6m87.4 1l.5 .2m-14.3 -13.9l1 .4m-48.9 14.5l-2.5 2.9m-9.7 -45.7l-.5 .8m57.2 6.9l1.8 1.9m-31.9 -18.4l-.5 .3m49.1 76.5l-.9 .8m-3.7 -21.7l1.2 3.4m-47.9 -3.8l2.2 .2m14 -9.8l1.1 .3m-20.4 28.9l-.5 1.4m39.4 -55.4l-2 2.3m-15.5 -23.3l-.4 1m-29.2 49.2l-.7 2.1m-2.1 19.3l-.4 .7m5.6 -68.6l-2.7 .4m-17 36.2l-.7 .4m-13.2 -44.2l3 1.8m21 50l2.1 2"/>
<path stroke="#1c46a4" stroke-width="3.2" stroke-linecap="round" d="M577.3 320.1l1.6 .2m22.6 -15.6l-1.4 3.7m.6 10.5l-2.2 1.1m18.2 -21.9l1.1 .8m24.8 26.9l-.3 2.6m24.9 -22l1 .9m-69.7 -8.2l-3 .2m16.2 28.8l2.7 2.8m24.3 .4l1.4 1.5m37.6 -53.4l2.7 1.1m-39 -7.3l-1.6 0m-54.8 22.7l-2.5 .7m40.3 -5.5l-3.2 .1m55.5 -10.9l-.6 1.4m-57.8 7.8l.6 1.5m-25.5 14.5l2 .5m52.8 -24.7l1 1.4m6.8 32.2l2.5 1.4m-22.1 19.6l-2.9 .9m-20.5 -72.1l-1.1 .4m47.8 76.1l2.4 2.5m14.7 -43.8l.8 .7m-73.6 -13.3l2.2 1.1m49.2 -16.1l.7 .3m-60.4 51.2l-1.6 2.1"/>
<path stroke="#2450b0" stroke-width="2.5" stroke-linecap="round" d="M576.2 335.1l-.1 3.6m92.4 -37.9l-.4 .5m-7.4 17.9l-2.5 1.1m20.4 4.4l-.2 .9m-3.3 8l2.1 2.8m-50.5 -33.8l.5 2.1m16.6 -33.7l-.9 2.9m-58.5 59.5l.3 .6m12.3 -42l-1.3 2.3m68.5 11.8l1.1 .1m10.5 15.9l.7 1.5m-98.7 -38.9l-2.3 .6m56.2 .8l-.3 3.9m-37.3 -11.9l-.2 2.3m10.2 47.2l-.3 .4m9.1 -49.4l2.6 1.7m62 1.2l-2.6 1.8m3.7 51.4l1.7 1.6m-9 -7.7l-.9 .1m-62 -11.2l-2.3 1.5m-2.6 -41.4l1.3 3.1m-13.1 29.5l2.4 1.8m30.5 -34.9l1.1 .9m-12.1 44.4l-.7 .7m-24 -59.7l-.7 .8m3.4 2.7l-2.2 1.3m13.8 21.7l3.5 .7m56.4 43.3l2.3 1.4m-14.7 6.7l2.5 1.5m-67.9 -2.3l-1 1.2m-8.1 -19l-.2 3.4m.5 -1.8l.9 .2m58.8 6.6l2.9 .1m-39.3 -5.6l0 .6m55.9 -3.4l-.5 .3"/>
<circle cx="610.5" cy="297.8" r="3.6" fill="#f6f2ee"/>
<circle cx="596.3" cy="311.9" r="3.2" fill="#f6f2ee"/>
<circle cx="645.2" cy="310.4" r="3.2" fill="#f6f2ee"/>
<circle cx="658.4" cy="270.4" r="2.4" fill="#f2eee8"/>
<circle cx="579.4" cy="289.2" r="2" fill="#f2eee8"/>
<circle cx="603.8" cy="311.0" r="2" fill="#f2eee8"/>
<circle cx="630.2" cy="293.0" r="1.5" fill="#f2eee8"/>
<circle cx="662.2" cy="297.8" r="1.5" fill="#f2eee8"/>
<circle cx="585.0" cy="306.3" r="1.5" fill="#f2eee8"/>
<circle cx="583.1" cy="316.3" r="1.5" fill="#f2eee8"/>
<circle cx="609.5" cy="317.6" r="1.8" fill="#f2eee8"/>
</g></g>
<clipPath id="c10"><rect x="245.0" y="352.0" width="107.3" height="82.6"/></clipPath>
<g clip-path="url(#c10)"><g filter="url(#soft)">
<rect x="245.0" y="352.0" width="107.3" height="82.6" fill="#9a8878"/>
<ellipse cx="293.3" cy="389.2" rx="53.6" ry="4.3" transform="rotate(42 293.3 389.2)" fill="#dcdcea" opacity="0.45"/>
<ellipse cx="271.8" cy="409.8" rx="42.9" ry="3.8" transform="rotate(48 271.8 409.8)" fill="#dcdcea" opacity="0.45"/>
<ellipse cx="325.5" cy="376.8" rx="37.6" ry="3.2" transform="rotate(40 325.5 376.8)" fill="#dcdcea" opacity="0.4"/>
<path stroke="#583a1e" stroke-width="3.4" stroke-linecap="round" d="M259.6 367.7l-.3 .4m-3.8 -14l-2.2 .3m4.2 4.5l2.3 1.1m-1 -7.4l.5 1.5m12 11l.8 2.7m-3.8 -3.6l.8 .7m13.6 -4.8l0 .3m10.5 4.5l.6 1.1m-13.5 -2.2l2.3 .6m15.3 -2.4l.1 .1m-15.4 1.8l-.1 1.2m68.4 0l.9 .1m-95.2 13.8l2.2 .1m-14.8 -6.7l2.2 .5m4.4 3.2l1.2 .3m6.2 -7.1l-1 1.1m-10.7 4.2l.4 .5m44.2 8.7l.9 .9m.7 -8.3l-.6 1m14.2 -6.1l-1.1 1.9m.6 9.3l-2.3 .9m8.3 -3.9l.7 .1m-3 -4.6l-.7 .4m-2.7 5l.7 .8m19.8 -7.6l.2 0m25.3 1.6l-1.2 1.7m-2.3 -5.7l2.7 .6m-12 8.6l-1.3 1.2m12.9 -9.1l1.6 2.1m-82.2 18.6l.3 1.2m56.1 6l-.4 .4m-7.5 -4l-.5 .4m33.4 -12.3l-.5 2.5m-3 10.9l.5 1.1m-13.2 -4.8l2.5 .5m-88.9 20.8l-1.6 .6m8.8 -.8l-.5 1.2m22.5 -14.6l-.1 .8m-.9 -1.6l-.2 .3m-6.6 8.2l1.7 2.1m32.5 -.2l-.7 .1m12.8 -9.6l-2.3 0m-10.2 .9l-.2 .5m4 7.3l-.3 1.5m42.3 2.1l1 .6m-12.6 -14.6l-.5 2.2m3.2 1.6l2.6 .5m-89.7 15.9l.6 1.8m-5.6 2.8l1.5 1.4m28.1 -6.3l-.1 .3m3.8 -1.6l1.1 .6m10.3 11.5l.6 .2m-3.4 -6.7l.3 .3m17.4 -6.8l.9 .5m8.9 .6l1.9 .5m.4 -.1l1.2 .7m3.8 .1l1.1 .4"/>
<path stroke="#9a6c3e" stroke-width="2.6" stroke-linecap="round" d="M257.1 353.6l-.6 .4m-1 10.8l-.1 1.7m18.6 -13.7l-.3 .8m6.2 11l.1 .1m-5.1 2.9l-2.1 .4m-4.7 -11.1l.5 1.2m22.6 9.1l-.4 .1m-8.5 -12.9l1 2.2m13.6 2.6l-2.1 1.3m-1.5 2.6l0 .7m-13.1 -2.5l1.5 .7m3.8 -7.7l-1.7 .4m19.6 6.8l-1.4 1.3m20.6 -9.5l-.4 2.9m20.9 12l1.2 0m.3 -2.8l.3 .1m-85.9 17.1l-.9 1.2m7.8 -2.2l2 .5m3.2 -13.1l.1 .2m-5 2.8l-.8 1.4m-2.2 8.5l1.1 1m13.3 -13l2.1 .4m-6.5 9.7l2.5 .2m-7.9 -5l.8 1.6m2.6 -4.3l2 .9m29.9 -3l2.4 .1m11.2 .8l-.7 2.3m31.1 -3.9l-.5 1.4m-78.1 27.8l.6 2.1m27.9 -14.8l.2 .1m15.7 5.2l.7 1.2m1.5 -.8l.4 2.8m7.9 -4.2l-.8 1.1m11.7 1.6l-.3 .1m16.6 -8.6l.9 1.1m-17 7.6l1.3 1.4m13 -1.3l-.9 2.2m-89.4 6.8l-2.2 .2m2.5 10l.3 .8m9.8 .4l.1 .1m24.9 -3.7l1.8 1.3m-3.8 -2.6l.1 2.3m-7.1 4.8l-1 .8m.8 -4.6l-.2 .5m23.7 -2.5l1 0m25.1 1l0 .9m-10.1 -6.4l-.3 2.2m-2.4 -2.9l-1.1 .4m29.2 7l2.9 .3m-63.2 10.1l-.7 .3m-4.6 -1.1l-.3 2.8m13 1.3l-.4 .9m19.4 -.6l.7 .7m.3 -3.4l-.5 .7m6.1 8l.2 1.6m23 -2.7l.4 .2"/>
<path stroke="#9a6c3e" stroke-width="3.4" stroke-linecap="round" d="M250 359.5l-1.1 1.6m1.9 -8.7l-.6 1.8m3 -2l.6 0m17.9 8.1l.1 0m6.6 .3l.1 2m-3.4 .5l-2.6 .5m-7.4 2.6l.2 .7m13.1 -6.8l-.3 .1m-1.1 -7.6l.1 2.4m-6.6 8.8l-.3 1.7m14.5 -10.4l1.1 2.4m5.6 10.1l.3 .3m16.7 -12.6l.1 .4m43.1 8.7l-.1 .1m-94 18.6l1.2 1.2m-.4 -15.6l.1 .2m2 9.6l-.5 .9m1 4.3l-.5 .3m18.1 -8.7l1.2 1.8m17 -8.7l-.4 .5m-11 8.9l-.4 1.6m1.3 2.1l2 .2m1.2 -9.7l-1.2 2.7m21.4 5.4l-1.8 1.2m8.4 -12.7l-1.7 2.4m19.1 5.2l.6 .5m-14.6 -3.9l.4 2.2m.6 -5.1l-.1 .1m22.5 7.4l2.3 .5m-85 9l.1 0m-6.5 -1l-.9 1.1m16.8 -2.5l2.5 1.1m-2.6 7.7l2.3 .7m25.4 -7.6l1.3 .7m-3.8 3.5l.3 1.6m.6 -3.1l-.6 2.2m2.6 6.9l1.2 .3m-3.7 1.6l-2.6 1.3m-10.5 -9.5l2.1 .5m28.8 3.9l.9 1.3m-10.7 -1.5l1.3 2m5.3 -2.9l1.1 1.4m-1.2 -9.5l1.1 2.2m-5.5 -.7l-.8 1.4m19.9 2.6l0 .1m-4.5 .9l-1.4 .8m6 4.7l-1.6 1.1m-3.4 -2.6l.8 2.4m24.7 -8.8l-.1 .5m-10.4 6.4l.4 1.8m-89.6 4.9l2.4 1.6m44 4.9l-1.9 1.1m8.8 -10.8l0 2.6m-9.3 9.2l-.8 1.6m43.7 -10.3l-1 1.2m-9 1.7l.7 2.7m-4 -2.1l-.4 .9m6.3 3.4l-1.9 .8m10 -8l-.7 1.7m-11.9 4.6l-1.8 .6m24.7 3.5l.5 0m-.8 -13.8l-1.7 2.3m-82.3 19.8l.3 .4m1.7 6.4l-1.4 .7m50.5 -6.9l-.1 1.2m.2 8.3l.7 .9m-.1 -8.5l.9 1.3m1 -1.6l.5 .7m15.4 -8.9l-1 1.1m-.3 6.8l-.2 .4m-4.6 -8l-1.2 .5m11.1 13.4l-.2 .2m-10 -7.1l-1.5 .2m4.2 2.4l-.2 .4m21 6l2.1 .1m-11.4 -12.8l.2 .1"/>
<path stroke="#8c6032" stroke-width="2.6" stroke-linecap="round" d="M248.6 360.6l-2.3 .9m10.6 -3.6l-.2 1.6m-10.5 -.2l.4 .6m12.9 5.3l-1.2 .7m-6 -10.5l1.1 1.7m15.3 8.8l.3 .9m20.1 -.2l.1 0m19 1.1l.6 .4m-6.3 -.3l1 .1m6.5 -12l1.6 1.2m5.8 -.2l2.7 .7m4.8 -3.8l-1.9 .6m24.6 7.9l1.6 .6m-6.1 2.3l-.8 2.4m-83.9 5l-.9 .5m-.1 .9l.7 .4m-.5 -3.5l.2 .5m0 13.5l.1 .1m5.8 -11.1l-.9 1.1m3.4 2.9l-1.2 1.4m13.6 -4.4l2.3 1.4m-2.2 -7.9l2 2m-4.8 11.7l-.4 .4m-2.7 -1.5l-1 .7m-9.3 .7l2.2 .6m4.8 -9l-2.3 1.2m17.7 -1.9l1.7 .9m23.7 -.2l.1 .1m-4.5 -.1l-.1 2m-6.3 -7.2l.6 2m12 4.6l.9 .1m12.5 6.3l-.6 2.5m8.1 -12.2l-.1 2.2m.1 -3.4l-.5 .4m1.7 8.3l-1.4 .3m6.6 3.6l.9 .7m2.6 -11.5l-1 .3m-.1 2.6l.5 .5m-.9 -1.7l-.7 .6m-82.8 10.4l-1.9 .7m11.1 10.1l.1 .5m1 3.4l1 2.7m28.1 -8.9l0 1.7m-14 4.6l1 2.1m20.5 -9.5l-.4 1m-3 .4l-1.5 .6m28.3 -7l.9 2.6m-5.4 2.7l-2.1 .8m5.2 1.8l.8 1.2m-4.1 2.3l.5 1.7m22.6 -10.1l-1.6 .7m2.7 2.9l.3 2.7m-57.1 10l-.2 .1m-8.6 5.9l-.6 .2m3.2 2.8l0 .2m4.2 -2.7l-.6 1.1m13.2 -2.9l-1 2.2m-.8 -12.3l2.2 .2m8.9 6.9l-1.3 2.5m3.2 -3.8l.5 2.9m4.5 .5l-.4 0m30 -.6l.8 .7m-3.7 -2.1l-1.7 1.9m-1.7 2.9l-1 2.4m-78.8 2.5l-2.4 1.1m18 12.6l-.2 .3m-10.6 -14.9l.1 1.9m.6 10.1l1.1 1m1.3 2.7l.1 0m26.2 -8.1l-1.3 .9m.6 -.5l-.4 .2m-7.4 4.3l-.5 0m18.8 -3l1.4 1.8m17.8 -4.1l.7 .4m-6.9 3.5l2.3 1m19.3 -4.5l-.4 .4m-1.3 -5.8l.6 0m4.2 6.2l-.5 .5m-5.1 6.2l.1 1.2"/>
<path stroke="#80542a" stroke-width="4.2" stroke-linecap="round" d="M260.8 360.5l-.1 .6m1.7 -.1l-.1 1.7m5.4 3.2l1.4 .7m10.5 -9.8l.3 .5m-4.2 6.9l.3 1.4m2.4 -12.3l-2.1 1.1m2.4 -1.5l-.5 1.3m10.1 -2l-1.2 1m8.7 7.4l.1 1.9m5.9 -4.2l.7 .8m11.9 -5.6l-.8 1m19.4 .5l-.3 2.3m9.6 4l-.9 1.6m-90.9 15.2l-.1 .5m1.7 -2.4l1.4 .7m2.2 -9.5l-.2 2.5m13.5 5.8l.4 1.2m7.8 -3.7l-.8 .6m-8.6 4.1l.5 .2m.6 -4l-1.1 .5m17.3 4.1l1.2 1.2m-.1 -6.1l0 2.2m5.7 1.9l-1.1 .7m20.3 1.6l-.6 .2m1.3 -11.8l-2.8 .6m-2 11.3l-.5 .4m19.7 -2.8l-.6 2m-3.6 -2.1l1.1 2.4m7.7 -12.5l1.5 2.1m-6.4 8l1.2 2.1m-9.2 -7.8l-1.6 1.1m9.3 1.3l1.9 2.2m19.4 1.9l1.1 1.1m3.2 1.6l-.8 1.4m-5.4 1.5l2.1 .1m-1.9 -13.6l.6 1.9m-99.2 13.4l-1.1 .5m38.3 11.2l-1.7 .1m1.9 .8l2.1 .9m1.9 -8.6l.1 .1m23.4 .4l.6 1.8m18 -.1l-1.1 2m22.5 1.2l-.6 .9m-9.7 -4.9l.4 2m-92.4 7.1l-.2 .5m1.5 8.9l.1 0m17.7 3.4l2.4 0m30.7 2.7l.6 .1m29.7 -5.3l-.2 0m8 -9l-.3 .1m-91 29l-1.1 .3m38.5 -8.2l-.2 .7m29.3 -3.9l-1.9 .5m-5.1 4.4l-.2 .4m22.9 8.1l1.3 .1m-8.9 -16.6l-.1 2.2m24.1 3.2l.4 .1m-6.5 6.4l-.1 .1"/>
<path stroke="#6a4624" stroke-width="2.6" stroke-linecap="round" d="M259.7 366.6l-.3 1.3m-12.6 -13.1l.7 1.4m-2.2 10.2l1.2 1.7m.8 -4.1l-1.7 .8m21.2 1l.5 2.3m-2 -13.8l.9 .1m-3.2 7.3l.3 .3m11.5 2.1l-2.2 1.3m25.6 -8.2l-1.7 .2m2.8 -1.7l-2.5 1.4m.7 .3l1.9 .3m-13.5 9.7l.1 0m20.5 -7l-.1 0m-7.4 4.8l1.4 .2m24.2 -10.7l.3 1.5m20.3 9.2l-.6 .3m-86.4 8.5l2 1.2m-1 -5.8l1.6 .6m-3.6 12.7l0 .7m-12.5 -13.7l2 .7m24.7 12.9l1.3 .5m9.8 -.3l-1.5 1.5m12.5 -10.7l-.1 .1m-8.3 3.3l.1 .6m17 -7l-.2 .1m3.1 -.8l-.4 1.7m4.4 2.7l.5 .5m-55.6 16.7l2.1 1.1m2.6 -7.3l2.3 1.4m16.3 7.2l2 1.5m10.2 4.5l1.3 .8m-8 -10.9l-1.2 1.7m31.4 7.1l.2 1.8m-10 -12.8l-1.3 1.6m-1.7 7.7l-2 .6m15.2 -6.1l-.1 .9m4.8 5.1l1.9 1.7m11.1 -13.6l-1.6 2.5m.3 12.3l-.6 .3m-4.4 -9.3l.6 2.9m5.6 -.2l.4 .2m-.3 -10.1l1.7 1.7m3.6 9.7l1 2.2m-57.3 4.5l-2.3 .1m-14.8 .5l2.4 1.4m2.9 12.7l.8 0m27.1 -14.8l1.7 1.7m17.1 6.3l.8 1m-13.3 5.4l.1 .1m46 -16.4l-2.5 1.4m-11.2 9.7l.4 .3m10 -7.3l-.8 .7m3.7 7.5l-.4 .6m-86.9 15.6l.1 0m-8.5 -8.8l-.2 .4m-1.7 6l0 .8m24 -1.1l.9 1.2m17.7 -9.1l-1.2 1.9m42.5 6.1l-.9 .8m6 -3.7l2.5 1.5m8.4 -6.8l-.6 1.6m-6.6 1.7l.7 2.1m-2.4 9.8l2.5 0"/>
<path stroke="#8c6032" stroke-width="4.2" stroke-linecap="round" d="M247 359.4l-2.1 .9m16.3 -2.9l-.5 .1m-5.9 -4.3l-2.3 1.8m19.3 3.4l1.5 1.9m19.9 -5.3l.3 2.7m3.1 -3.4l.5 1.9m-1.2 2.1l-.9 .5m-12.6 -.2l-.8 1.1m14.1 -5.8l-.6 2.6m14.5 10.5l.4 .1m-5.8 -6.7l-1.2 2.1m30.3 -10.3l-.9 .8m12.1 4.7l-.4 .8m-90.2 25.2l-1 1.7m-4.8 -.7l-1.1 .6m14.4 -.4l-.4 .2m-1 -13.7l.1 0m2.6 7.9l-.1 .5m-12.7 .3l-.4 .2m26.6 -2.9l-.1 .1m-11.6 -5.5l-1.8 1.9m21 5.5l0 .3m8.1 2.7l2.2 1.7m-4.1 -3.1l-.7 1.4m26 -3.6l-.3 .1m14.9 -6.6l1.2 2.2m-4 -4.2l.9 .9m-76.7 25.7l-2.4 1.3m-1.3 -12.4l1.9 1.4m-2 11.9l-.6 2.1m11.7 -14.7l1 .8m21.5 10.2l-.6 .8m-7.4 -7.4l2.3 .2m17.5 9.1l-1 1.1m25.5 -15.2l-1.9 1.6m-7.4 -2.1l-.2 .2m2.8 .8l-2.5 .3m7.2 7l0 .1m2.2 -1.9l2.5 .6m1.5 4.4l-.8 .9m15.3 -2.9l-1.3 .8m15 4.9l-1.7 .5m-8.8 -12.1l2.1 1.4m-93.1 22.1l-.2 .1m26.4 2.4l.1 2m-.9 -12.4l-.3 1m24.5 10.5l.6 .5m-6.9 -11.5l-1.9 1.4m1.7 -.7l1.9 .8m12.9 7.1l-1.5 1.4m1.7 -7l2.4 .7m10.4 .8l.4 2.2m23.3 -9.4l-2 1.4m6.8 6.6l-.1 .3m-89.7 13.5l.5 .9m-10.4 -1.4l2.2 1.9m-1.8 2.1l.5 .1m10 -1.4l-.9 .7m18.1 6.7l.9 .8m14.7 -10.5l1.2 1.8m-4.1 -6l-.1 .5m18.7 8.7l1.8 1.5m23.5 -12.9l-1.3 2.3m6.1 5l1.9 1"/>
<path stroke="#583a1e" stroke-width="4.2" stroke-linecap="round" d="M246.3 355.7l-.3 1.8m2.3 6.8l2.7 .2m7 -11.9l.3 .7m-3.2 13.2l1.5 .8m20.8 -14.8l0 .1m14.4 9.4l1.1 .6m.7 3.7l1.3 1.4m-6.2 -14.2l-2.6 .2m-.6 8.1l.5 1.4m18 -10.2l-1.4 2.5m1.1 -2.7l.9 1.2m-5.3 7.8l-.2 1.5m23.7 4.2l.9 .3m10.2 -.2l-.8 .1m16.6 -2.6l.5 .5m-16.5 -5.6l2.2 .3m6.6 2.5l-.7 .8m-86.7 6.2l-1.3 1m-5.4 1.7l1.1 2.7m1.4 6.6l.6 .6m-.6 -3l-1.5 1.1m7.5 -2.5l0 1.5m-12.1 -3.3l.9 0m33.6 3.5l.1 2.3m-11.6 2.8l0 .1m21.2 -13.7l-2.3 1.3m11.8 11.8l-.1 1m-2.9 -13.6l-1.5 2.4m-12.1 -5.2l.6 .1m34.3 3.5l-1.3 .9m-8.5 4.4l1 2.4m-6.2 -11.4l.9 .6m1.1 3.1l-.3 .3m18.3 5.2l1.7 1.2m-3.4 -.8l-.1 .3m9.9 -7l-.3 1.8m-5.7 .7l.3 .2m2.2 -2.8l-.2 .6m15 8.2l-1.7 1.2m5 -8.8l-.7 1.7m5.3 -6.2l-.2 .5m-89 16l.2 .9m1.5 2.2l2.2 .9m-3.6 7.7l.2 1.1m-10.1 .7l1 2.1m-6.1 -3l.2 .6m61.2 -8.2l1.6 1.4m10.4 -5l.3 .6m12.3 8.1l1.6 .6m10.7 2l-1.5 2m-86.5 13.6l.1 0m-3.6 2.4l-.6 2.4m18.5 -13.2l-1.2 2m-1.7 -4.7l-.4 1.3m32 .3l-.8 .5m8.2 -3.3l.1 1.6m-1.6 14.2l1.1 .7m25.5 -6.9l2.3 .3m-3.9 5.3l-.1 .5m-6.6 .8l0 1.2m9.2 -6.3l-.7 .8m-2.1 -2.1l-.6 .5m11 -1.3l1.9 2m-81.5 9.2l-1.6 1.3m-12 -.7l2.1 .1m10.3 -.2l.2 .2m20.2 5.6l-.8 .4m27.9 -1.8l.3 .4m-2.6 -8.3l.6 2.1m8.1 11.9l-.5 1.6m-9.2 -14.9l.1 0m21.1 -.4l1.6 .1m7.9 7l-.2 .2m-17.5 -4.9l2.8 .7m26 3.1l0 .6"/>
<path stroke="#6a4624" stroke-width="3.4" stroke-linecap="round" d="M260.4 355l1.5 2.3m-15.7 4.1l1 .2m-1.2 2l-1.3 1.4m2.4 2.8l-2.3 .6m10 .1l1.2 0m8.7 -10.9l-1 .1m3.2 -3.4l.5 2.5m-.4 5.6l-.1 .2m-1.4 -7.4l-.1 0m19.6 5.9l1.7 .9m16.4 -1.7l-1.8 .8m10.4 -7.4l1.3 1.9m5.5 3.5l-.8 .2m1.7 -2.9l2.3 1.6m-4.9 5.4l0 .2m1.5 -5.5l-.3 0m15.2 4.3l.3 1.3m2 4.1l.1 0m11 -9.8l2.3 1m-87.6 21.3l.1 2m-9.1 -5.8l-.8 1.1m21.6 1.7l1.2 1.6m14 -3.3l0 1.1m4.3 2.1l-.5 .3m25 -11.8l-1.4 .2m.3 5.6l0 .5m-14.1 .6l1 1.2m20.4 -6.9l-.1 .3m.1 1l.7 1.2m-62.6 12.6l.5 .5m-13.1 9.5l1.4 2.5m21.7 -11.6l.1 0m11.7 11l-2.2 2m1.4 -11.3l-.2 2.7m14.2 2.4l.7 .4m1.6 3.9l.6 1.6m15.6 -12l1 .8m3.1 7.6l2.4 .1m2 -3l1.2 1.1m-69.2 8.3l0 .7m6.4 5.8l.2 1m19.1 -1.5l2.3 1.5m5.2 -1.8l.8 .2m4.8 1.3l-.3 1.1m7.9 4.9l.1 .2m-1.8 -5.3l-.5 1.8m6.1 -1.1l1.8 1.9m-3.4 .4l-.2 0m26.9 -1.5l-.6 2.1m5.1 -7l-1.6 1.6m8.1 .5l-1.2 1.2m5.1 -.2l2.1 2m-1.5 -7.2l2 .2m-93.8 20.5l1.1 1.6m19.5 3.2l-.6 .3m14.5 -12.2l1.8 1.1m27.8 11.1l.7 2.2m28.4 -12l-.4 .8m3.3 5.1l1.5 2.3"/>
<path stroke="#8c6032" stroke-width="3.4" stroke-linecap="round" d="M260.4 353.8l-1.5 2.5m8.5 -1.7l-1.3 1.8m-1.4 12l0 .1m7 -10.4l-.9 2.3m20.7 7.2l1.1 1.8m1 -14.6l0 .7m19 -2.6l-1.2 2.2m-4.6 3.6l-1.7 .6m-.7 -2.9l-2.9 .3m5.9 1.8l-.8 .3m-2.6 -.2l.9 .7m9.9 1.4l.4 1.5m-6.3 1.2l-2.1 1.3m8 -12.5l.4 .3m-1.8 13.2l.5 1.9m14.8 -10.5l-.7 1.1m-10 6.2l.2 1.7m-65.4 17.8l-2.4 .3m22.8 -15.6l-.1 0m8 3l-1 1.7m-13.1 9.6l0 .2m32.3 -7.7l-1.6 .2m8.9 -7.3l.1 1.3m2.3 7l-1.9 .7m4.1 5.9l.2 2.5m15.1 -13.5l1.2 2m-11.6 9.6l1.3 2.1m32.8 -10.3l-.8 .7m-9.6 7.1l-2.1 1.5m-2 -6.8l.7 1.5m-89.5 19l2.6 0m7.8 -4.7l-1.5 .6m16.1 -4.2l-2.7 0m6.2 -3.7l.1 .6m-3.8 10.4l.1 .8m15 -.7l-2.6 1.2m2.9 -5.2l-1.4 .1m13.2 4.2l-1.1 1.1m1.2 -8.4l.3 .3m7.8 2.2l.8 2.3m13.9 -4.2l.3 .1m15.5 5.8l.7 .4m10.2 -.9l-.2 .4m-98.6 18.5l-.2 1.3m27.9 -8.2l1.3 1.4m18.7 6.8l-.7 1.1m5.7 -3.4l2.3 1m9.5 -2.2l1.5 1.3m14.6 -13.3l-2 1.9m-7.1 8.3l-1.7 .1m6.6 -9.4l0 2.2m18.7 10.9l.2 .6m-2.6 -4l2 1m-93.8 8.7l-.7 1.9m8.6 9.9l2.5 .4m-10.1 -3.4l-.3 .2m9.3 -.6l.4 .6m2 -6.1l1.8 .6m32.1 3.3l-3 0m-4.5 -8.1l-1.3 2.4m10.5 11.5l.1 0m9.8 -13.8l-2.1 .5m3.1 9.1l-.2 .5m6.9 -4.9l-1.2 .9m-6.7 3.7l-2.8 .6m27.2 -13.7l.3 1.8m-6.2 3l-.1 .5m7.9 2.5l-2.6 .4m8.6 -4.7l-2.6 1.1m8.4 3.5l-1.2 2.5m-8.8 2.7l.9 .8"/>
<path stroke="#9a6c3e" stroke-width="4.2" stroke-linecap="round" d="M248.9 367.6l.3 .4m26.8 -2.3l-1.9 .8m15.7 -2.6l.1 0m7.1 -5.5l.1 0m29.7 -3.3l2.2 .7m-11.1 3.9l-2.6 .9m14.9 -2.5l2.3 1.6m-5.4 -3.9l2 1.7m-5.1 9.4l1.9 2.2m-81.3 13l1.5 2.1m.7 -.7l2.2 .8m21.2 -9.4l-.5 .7m32.7 -6.5l-.1 .1m24 7.4l.1 .2m-7.2 -.5l.4 2.1m19.5 -2.1l-1.3 1.6m-79.8 21.8l-1.5 2.2m-5 -16.5l-1.4 2.4m.4 -1.5l.1 .3m3.4 10.7l.8 1.9m25.3 -4.4l.1 .9m-16.2 2.2l-1.2 .6m10.6 -12.1l-.8 2.2m10.3 -3.8l.6 .8m12.8 11.1l.7 1m-4.4 -7.2l-.9 .6m7.4 7.7l.9 .1m23.3 .1l-.1 .1m7.7 -1.6l-.5 .3m.2 -9.7l.4 .2m-8.8 7l-2.7 .2m-2.8 2.4l.1 .6m18.6 -7.1l-2.5 .1m8.3 -4.5l1.1 .3m2.8 11.5l.1 .2m-87 9.9l-2.3 .4m16.9 4.6l-.2 0m7.6 -1.1l1 2.7m-.3 -8l1.7 .5m14.7 -5.7l-.4 .2m12.6 3.8l-.4 2.8m-.9 .8l.3 1.7m4.4 2.1l-.8 2.1m-6.2 -4l2.3 1.6m22.6 -2.3l.5 .6m1.7 .9l-.2 .6m-4.3 -2.4l-1.2 .4m18 -1.3l2.6 1.2m-4.5 2l-.2 .3m-.1 3.6l2.4 1.5m4.9 -11l1.6 .8m-2.7 3.8l1 .5m-11.1 -1.5l.6 .6m-91.9 18.1l.5 2.3m7.3 -7.8l-.7 .6m-6.7 7.8l.8 .7m23.2 -11.9l.5 .9m-.7 -3.5l-1.5 2.4m25.2 -1.6l2.1 1.3m-13.2 9.3l-.5 1.5m13.4 -11.4l-.9 1.2m-5.2 8.4l.6 .2m-3.1 -11l-1 2.6m11.3 5l0 .2m16.2 -2.7l.6 .2m15.6 7.8l-.3 1.5m-10.7 -.3l.5 .3m25.8 -1.6l.5 2.4m-7 -10.2l-.5 2.1m3 -5.9l-2.2 1.3"/>
<path stroke="#583a1e" stroke-width="2.6" stroke-linecap="round" d="M255.8 357.7l.4 .8m-9.5 -5l-.1 .6m25.5 10.5l-1.6 .9m17.5 -10.4l.2 .3m17.7 5.3l-2.9 .5m2.1 1.5l1.6 1m4.9 -8.8l-.6 2.3m12 -1.9l1.2 1m3.9 3.9l.7 .7m14.8 1.1l-3 .2m6.6 4.8l-.1 1.5m-2 -11.4l.8 1.2m-93.5 15.9l.7 1.1m-.9 2.5l-.1 .8m-5.1 -8l-.6 .6m-2 1.3l1.5 .1m9.4 7.8l1.8 2.3m-9.6 -5.4l-.6 .5m31 3l2.1 0m-7.3 -7.3l-1.9 .6m22.3 8.6l.3 1.5m-3 -5.3l2.1 .9m5.4 -.2l-1.1 .4m-10.8 2.2l.5 1.1m9.5 -2l-1.3 .5m-10.3 -1.3l-.5 1m26.7 1.3l-1 .4m-11 -8.8l.1 2.2m22 5.5l-.8 1.6m16 -10.3l.2 0m-.1 10l.3 .8m-77 15.5l-.6 .9m.5 -4.1l.1 .1m19.1 2l-1.4 .6m-5.6 .8l-.4 .2m9.9 -6.1l1 .6m1.3 1.5l.2 1.3m24.5 -7.8l-1.1 .6m4.4 -2.3l-.2 0m-2.5 -.2l-2.2 .9m2.3 .5l-1.2 .4m-6.8 4.4l-.8 1.1m6.9 -5.8l.2 .1m14.1 -.7l1.5 1.8m30.1 7l-1.9 .5m-10.3 -10.8l1.1 .6m-94.6 14.3l0 2.6m1.8 11.5l.1 .1m8.5 -9l-2.4 1.5m-7.6 1.5l-.9 2.7m11.1 -4.1l.4 .2m35.9 -3l-.2 .9m-4.4 -2.9l.9 1.6m3.6 5.5l-.2 .4m16.8 3.9l.9 2.2m4.8 -10.2l.4 .1m-6 7.2l2.1 .1m-7.5 -5.3l.1 0m15.1 6.8l-1.7 1.2m23.1 -12.1l-2.8 .7m7.1 4l0 .1m-5 4.3l.9 .2m-5.5 -1.3l-.2 .1m-57.4 19.1l1.4 .5m.8 -4.4l-.6 0m-.5 2.3l-.1 .8m-13.6 -10.8l-.1 .4m15 -3.5l0 .3m17.5 -.1l-2.6 .4m8 10l-.9 .4m1.1 -3l-.7 2.1m5.6 6l-.4 .5m9.7 -14l-1.7 .6m3.8 6.2l1.2 2.6m3.5 -3.3l.6 .7m-1.7 -5.5l-.6 2.3m26.1 -4.9l2.4 .3m-1 9.4l-.3 1.4m-10.6 3.4l-1.4 .1"/>
<path stroke="#80542a" stroke-width="2.6" stroke-linecap="round" d="M251.1 357l0 .8m36 5.5l.7 .5m6 3.9l.6 .1m-12.7 -2.8l-.5 1.8m30 -7.9l.1 .5m-4.6 2.3l.7 .6m8 -8.7l.6 2.5m8.8 2.8l1.8 .6m-.4 .3l1.7 1m24.4 3.5l-1.5 .1m-8.5 -4.9l-.4 .8m-7.1 -4.5l-.2 .1m6.3 3.1l-1.7 1.4m-85.5 16.4l.1 .9m16.6 -3.6l-.5 .5m15.5 4.4l.6 0m-4 -9.6l-1.6 1.9m4 -3.2l1.5 1.9m35 1.2l.2 .6m15.4 -.3l1.4 2.2m-2.9 7.6l1.4 .3m-.1 -7.6l1.9 2.1m-92.6 10.8l-.4 1.7m14.3 2.2l1.4 2.4m-6.1 -4.4l-.4 .6m-.1 7.1l1.2 1.4m19.5 -5.4l1.1 .7m-7.4 .6l-1.8 1.3m10.4 -4.6l.3 1m-13.3 2.3l.1 1.7m19.6 3.8l-.3 .5m26.1 -11.9l.1 2m-.3 4l.8 .1m22.9 3.5l.2 1.9m-8.4 -3.5l-1.4 1.4m-.5 1.8l1.1 .1m22.4 -13.6l-1.8 0m-82.5 17l.7 1.9m-10.6 10.1l1.8 .3m5.3 -10.7l1.7 1.4m13 7.8l1.2 .5m-4.4 -11l-1.3 1.4m17.4 9.9l-2 2.1m18.4 -4.4l-.5 1.1m10 -5.5l-.5 .4m-2.8 -4.5l1 .5m16.1 4.7l-.2 .2m5.8 1l-1.1 .6m-8.3 -8.2l-.8 1.2m17.4 5.3l1.4 2.3m-6.5 6l.7 .5m-85.4 8.2l-1 2.6m-4.1 -2.9l1.3 .4m15.6 -5.2l2 .2m3.4 1.4l-1.4 2.2m6.7 -.9l1.4 .4m18.5 3.8l-.6 2.6m2.5 -12l.5 1.4m31.8 12.9l-.9 1.8m2.2 -4l1.6 1.2m-3.8 -8l1.2 .1m19.1 -2.6l-.2 .7m-1.3 -.7l-1.4 .6m-3.5 -.8l-.1 2.3"/>
<path stroke="#80542a" stroke-width="3.4" stroke-linecap="round" d="M246.4 359.8l-1.8 0m15.6 -8.5l.5 2.3m5.1 3.5l-2.1 .5m24.3 8.4l.8 1.2m-5.1 -7.2l1.3 1m11.1 1.6l.3 .2m-12.5 1.7l1 1.2m24.6 -3.8l-1.1 .2m14.5 -4.7l-1.5 1.3m10.1 -1.9l-1 .6m2.2 -3.4l.5 .8m-2.8 9.9l1.5 2.1m-.8 -13.3l.4 1.6m18.5 .2l2.6 .6m-15.6 2.9l1 .1m.7 3.4l-.6 .6m-82.6 6.5l-2 1.2m1.8 .7l.1 0m15.6 4.4l-.8 1.6m-5.6 3l.4 .8m4.6 -5.6l-.1 0m23.7 3.7l-2.1 1.1m22.1 -9.2l-.3 2m-4.9 -3.9l-1 2.7m-4.2 9.2l-.3 .1m26.5 -13l-.6 1.2m-10.7 11l-.5 .2m3.4 3.4l-1.2 .6m-69.4 6.5l-1.4 .2m1.3 -1.7l-.4 1.8m57.3 -4.1l1 2.5m10.3 -2.4l-.6 1.9m.7 -.4l.1 .4m32.8 6.8l-.2 .2m-.1 -11l0 .1m-8 12.1l.3 .5m8.4 -7.5l1 .7m-102.1 11.8l0 .4m27.1 4.3l.9 1.3m-12 -.6l-.8 .6m18.2 -4.5l.6 .4m13 1.8l-2.6 1m-7.3 -2.2l-.9 2.3m29.4 4.1l-2.8 .2m-4.1 2.1l-.4 .4m-.7 .4l-1.8 .5m9.6 -10.6l-2.7 .8m8.5 3.4l2.1 .9m-2.3 3.5l-1.2 .1m7.4 3.2l.3 .6m.8 -5.9l-.1 .4m23 .5l-.9 .5m-101.2 19.2l.4 .5m-3.4 .6l-.5 1.3m15.4 -12.7l.1 .9m9.1 1.7l-1.3 1.3m16.3 3.3l.2 1.8m3 -4.5l1 .2m-6.7 3.7l2 .2m-2.4 -7l-.5 1.6m8.2 -4.5l-.2 .2m25 3.7l1.1 .7m-4 6.8l2 .4m12 -9.7l-2 .7m.1 -.7l0 .1m9.1 8.3l1.9 1.9m6.5 -4.4l.1 0"/>
<path stroke="#6a4624" stroke-width="4.2" stroke-linecap="round" d="M252 357.2l-2.4 .6m14.2 -4.7l1 .6m15.9 10.5l-1.8 .6m-1 -2.6l.3 .9m-2.1 -1.4l-.5 .1m23.1 -4.8l-.6 1.9m-12.8 0l.2 1.2m-1.2 -2.8l-.3 .4m9.9 7.3l-1 .1m-3.7 -3.6l.1 .5m-6.7 3l.7 .8m15.6 -9.8l.9 .8m4 10.7l2 .6m13.4 -4.1l.2 .6m12.4 -11.9l.9 .5m.7 3.3l.2 2.6m-7.3 7.5l-2.1 1.4m21.6 -15.5l1.2 .3m-100.3 19.3l-1.1 .1m17.2 7.6l.7 .9m13.8 .2l2.2 1m-14.3 -2.5l1.8 .6m33.2 2.2l.4 .6m-.2 -11.9l-1.1 1m17.4 1.2l-1.3 .2m13.4 6.5l2.1 1.2m-10.1 -12.5l-2.3 .1m-72.3 23.1l-.4 1.4m.8 -5.2l.1 .8m-1.1 -.5l2.5 .3m40.4 5.7l-.3 2m21.6 -4.2l.2 .5m13 5.7l1.5 1m12.5 .2l.3 2.1m3.7 -7.9l-2.2 2m1.7 4.3l-.3 .1m11.2 -6.4l0 .2m-7.3 3.7l2.6 .9m-97 3.2l-1.3 2.4m1.1 -.3l-2.5 .6m40.7 12.5l-.2 0m-1.7 -5.6l-.4 .9m-.8 -1.6l.2 .4m12.5 1.6l-.5 .3m-9 3.9l1 1.6m18.9 -6.1l-1.9 .4m1.4 -11.6l1.6 1.2m-9.4 3.2l-.3 .1m26.8 9.9l1.6 .7m3.4 -4.9l-2 1.1m9.6 2l.3 1.1m3.8 -9.1l0 .9m9.1 3.9l-.8 1.1m-9.7 -7.6l-2.1 1.6m-86.1 24.8l-.6 .2m2.6 -12.8l1 1.7m3.1 -1.2l.8 2.5m14.5 8.1l-.4 .4m-6.5 3l2.8 1m-3.6 -12.7l.6 .2m7.9 -2.8l-.2 .1m5.1 15l-1.2 1.5m-12.3 -16.9l2.2 1.9m27.2 -1.5l-1 2.2m-1.6 -1.7l.2 .1m4.7 11.1l.4 .5m16.1 -9.9l1.7 1.4m-.9 8.1l1 .2m27.1 -1.3l1.5 .5m-.3 -1.4l-2.1 1.3"/>
<path fill="none" stroke="#dde0ec" stroke-opacity="0.55" stroke-width="0.8" d="M315.2 371l2.9 7m-60.2 2.6l4.1 3.2m88 10l-5.5 1.7m-69.7 -37.1l-5.9 8m-21.4 56.3l-3.3 3.7m51.2 -3.3l-3.8 4.3m-7.4 -49.3l7.4 7.2m40.2 8.5l-.9 4.3m-42.2 -40.3l7.2 8.2m-48 10.3l10 5.8m29.5 3.7l10.6 9.3m-30 15.1l4.5 7.1m-.2 -64.1l5.9 8.1m20 58.6l10.3 8m-40.5 -70.5l9.6 11.7m10.4 -8.6l3 5.7m-17.2 -12.7l6.3 5.4m44.8 15.9l9.4 4.7m8.3 -.5l-9.9 1.5m-54.7 -22.6l8.2 7.8m22.7 36.7l3.1 4.5m-5.8 26.1l4.8 5.6m32.3 -61l2.9 5.5m-58.5 3.1l7.1 9.3m31.5 -32.5l11.7 6.2m-78.3 1.7l4.6 5m73.5 -13.6l11.5 9m-11.8 47.2l.7 3.6m-39.6 -69.5l5.5 9.2m45.8 71.9l7 10.6m-84.2 -52.3l6.6 6m-4.1 2.7l3.6 4.1m28.3 -49.2l11 8.1m-67.5 36.7l1.4 6.1m100.1 2l6.5 6.7m-28.6 -2.5l4 13.2m-25.2 -21.5l4.4 4.9m-49.6 -54.1l5.5 4.8m77.1 30.5l1.4 4m-7.7 -36.8l-3 1.8m-66.4 58.6l3.6 3.5m-.4 -54.4l6 8.7m70.1 28.1l-7.9 .1m-67.6 1.1l5.2 6.6m22.9 15.1l5.1 4.4m30.9 -23.3l9.9 9.9m-53.3 -39.6l9.9 9m-48.7 -19.6l-7.2 2.5m50.3 38.3l7.2 11.3m-50.5 -60.2l-3.4 .9m30.8 69.2l8.8 10.8m-26.9 -82.1l2.3 2.4m6.4 2.6l4.1 2.6m-2.9 29.3l-2.6 9.6m67.5 -18.3l.7 6.8m-89.7 25.4l9.7 8.6m-4.6 -34.7l7 4.4m34.7 2.1l3.6 9.1m36 -13.4l-4.4 5.3m-53.7 -27.6l2.8 8.1m-14.9 -6.5l-5.9 2.2m88.2 47.5l-.7 6.4m-7 -26.4l-3.5 .8m-20.2 -41.1l-3.7 3.6m33.2 -9l1.6 5.2m-3.4 10.4l-5.7 3.3m-90.3 -17.6l-6.5 7.5m46.1 38l6.6 10.6m26.8 -31.7l1 8.2m27.2 -7.3l4.5 4.9m-14 -27.5l3.5 8.2m-95.9 20.7l3.5 5.2m69 -43.5l-4.9 1.2m29.8 49.7l4.4 6m-61.2 -25.3l7.8 1.2m-36.4 -19l12.5 8.4m72 -7.1l-1.9 2.8m-75 51.1l6.3 8.3m21.6 -64.3l5.3 11.9m34.2 20.2l8.7 10.3m1 22.2l4.4 6.2m-50.7 -3.7l9.3 10.9m39.3 -42.5l5.9 7.5m-61.1 -1.1l3 4.7m-26.7 -42.2l3.9 5m70.7 3l4.5 5.2m-87.1 12.2l2.9 5.2m18.7 -2.5l7 4.9m23.3 -41.2l4 .8m19.6 13.8l-.8 4"/>
<path stroke="#3a68b4" stroke-width="2.0" stroke-linecap="round" d="M248.2 393.3l-1.4 1.1m23.9 -35.9l1 .6m79.5 5.9l-.5 2.5m-36 65.7l-.6 1.2m-29.8 -25.4l2.5 1m34.7 -41.8l-.8 1.9m-66.9 -3l1.5 1.5m65.4 45.5l-.6 0m-52.1 11.2l-2.3 .9m4.8 -1.8l0 .3m-1.3 -12.7l-.9 .7m8.6 -29.2l.6 .5m19.2 29.7l1.2 .7m-10.8 -28.9l1.5 .3m12 -20l-1.6 .5"/>
<path stroke="#3a68b4" stroke-width="3.4" stroke-linecap="round" d="M274.1 395.1l1.4 1.4m77.2 -33.4l-1.2 1.7m-23.1 43l2.3 .3m-11.7 15.5l0 .5m-64.8 2l1.7 .5m17.6 -24.5l.4 .4m54.2 -6.2l.8 1.7m-29.9 -20.7l2.9 .2m-25 -16l-.8 .3m-16 4.6l-1.9 .5m30.7 -6.3l.3 .8m16.8 48.2l0 .6m28.3 -47.4l.6 1m-53.6 56l-.1 .2m8 -4.5l-.2 .8m25.9 -6.2l.8 1.4m6.2 22.5l-.2 .3"/>
<path stroke="#2e5494" stroke-width="3.4" stroke-linecap="round" d="M344.4 376.6l-1.2 .2m-84 49.9l-.4 1.9m13.3 -5.9l.3 .4m4.6 -22.2l-2.1 .3m15.2 7.8l0 .8m-7.4 -25.7l.9 .9m-25.7 -8.3l.1 .6m23.2 32.4l1.2 1.3m27.2 -45.3l-1.4 .5m-5.9 .3l-.1 1.1"/>
<path stroke="#5080c4" stroke-width="3.4" stroke-linecap="round" d="M325.8 431.7l.8 2.6m-75.6 -8.6l-.2 1.2m.7 -34.6l-1 1.2m13 -8l-1.6 .9m45 46.4l-.2 .1m-9 -25.3l-.5 .4m22.9 .6l.1 1.7m-46.9 -25l-.9 .2m74.4 -32l-1.2 2.5m-80.3 30.2l-2.6 .1m-17 -26.6l1.1 1.5m45.2 -6.8l-1.5 .6m48.6 11.6l0 2.1m-5.7 26.4l.6 1.6m7.5 -.7l1.4 0"/>
<path stroke="#3a68b4" stroke-width="2.7" stroke-linecap="round" d="M291.6 361.7l-.5 .7m40.2 56.3l1.2 2.7m3.5 -15.8l.8 .1m-24.4 28.3l-.8 1.1m31.6 -27.8l2.5 1.4m-74.2 -25.1l-1 .4m-15.4 17l-.8 0m74.8 -45.7l-.2 .1m17.1 9.2l-1.7 .3m-81.7 51.1l0 1.4m20 -62.2l-.3 .1m-3.4 78.4l-.6 .4"/>
<path stroke="#5a78a8" stroke-width="2.0" stroke-linecap="round" d="M295.5 374.3l-.4 .8m-48.7 52.2l.6 1.1m91.3 -62l-.9 .7m-71.6 -9.3l.8 2.5m25.5 35.1l1.4 1.1m-22 -7.7l.7 1.7m42.9 7.4l-1.5 2.2m-28 -6.7l2.5 .4m17 24.6l-.1 .2m31 -24.5l-.2 2.7m-.2 17l1.1 1.1m-40.7 -25.6l1.6 2m-30.3 -10.5l-.3 .1"/>
<path stroke="#5a78a8" stroke-width="2.7" stroke-linecap="round" d="M296.9 404.2l-1.5 1.1m13.9 -5.9l-.8 0m5.9 11.3l-1.1 .6m3.4 -25.8l1.6 1.4m-71.5 9.2l1.6 2.1m74 -36.2l.7 1.2m11.6 -2.9l-.3 1.8m-29.4 -9.3l-.4 .5m21.8 38.1l.3 1m-34.3 -12.8l-.2 1.2m12.6 35.3l.1 1.4m41.6 -61.1l0 .4m-95.3 51.9l2.9 .5m68.9 -29.9l-1.7 1.7m-71.1 12.3l1.1 .2m87.5 8.2l.1 1.6m-78.6 26.2l-.2 2.5m68.9 -36.2l0 .9m12.7 12.6l1.2 2.5m-49.8 -59.8l.1 .6"/>
<path stroke="#5080c4" stroke-width="2.0" stroke-linecap="round" d="M245.5 381.8l.7 .1m83.4 42.4l2.6 .5m-77 -27.2l-1.9 1m66.6 -10.2l.5 .1m-52.8 -3.1l2 1.1m-22.3 -6.1l-2.3 .6m25.5 -14l.2 1.8m.2 64.5l1.4 .6m78.8 -43.6l.7 .1m-5.8 .1l-.1 .7m-76.7 -3.4l.9 2.2m78.1 35.7l1.4 1.7m-19.5 3.8l.3 0m-35.5 -26.5l1.2 .1m41.9 23.3l-.9 .6m-17.9 -10.2l2.2 1.5"/>
<path stroke="#5a78a8" stroke-width="3.4" stroke-linecap="round" d="M265.5 400.9l.8 .1m75.8 -10.1l.9 .2m-87.9 -18.4l1.7 1.8m-7.2 35.6l1.2 .6m100.7 -16.9l1.2 .6m-102.8 38.5l-1.7 1.6m80.3 -66.1l1.3 .8m-2.3 38.4l-1.3 2.2m-45.6 19.8l3 0m-.4 -22.8l-.3 1.9m26.8 4.5l-.2 1m-61.8 .6l-.2 .9m91.4 -58.4l.5 2.6m-81.6 42.9l-2.9 .7"/>
<path stroke="#2e5494" stroke-width="2.7" stroke-linecap="round" d="M319.8 405.7l-2.4 1.7m-56.8 -11l2.2 1.1m79.2 -15.7l.2 .6m-45.6 33.9l2 1.1m-34.1 -20.3l-.6 .5m-17 .2l.3 1.6m89.9 20.8l-.1 .3m-40.2 -61l-1 .4m-23.7 3.4l.5 .4m-9.4 48.7l-1.6 1.2m24.7 -36.5l.2 1.4m3.3 9l.1 1m31.6 31.6l.5 .3m-39.3 -9l1.3 1.3"/>
<path stroke="#5080c4" stroke-width="2.7" stroke-linecap="round" d="M263.3 430.7l1.5 1m31.2 -14l.3 .5m-24.4 -2.6l1.8 2.1m.8 -58.4l1.4 .5m40.4 -1.6l1.2 1.7m-1.5 72.8l-.4 2.6m-52.6 -40.3l1.9 1.2m83.3 28.1l-1 .6"/>
<path stroke="#2e5494" stroke-width="2.0" stroke-linecap="round" d="M260.9 384.7l.3 .7m53.3 22.1l2.2 1.6m-68.2 4.6l-1.5 .1m104.4 -58.3l-1.7 1.2m-42.4 -5l-.9 2.7m-23.4 54.6l.7 2m24.9 16.5l.4 .6m-35.1 -63.4l-.4 1.5m71.5 -11.1l2.5 .8m-17 63.3l-.1 2.6"/>
</g></g>
<clipPath id="c11"><rect x="355.1" y="352.0" width="107.3" height="82.6"/></clipPath>
<g clip-path="url(#c11)"><g filter="url(#soft)">
<rect x="355.1" y="352.0" width="107.3" height="82.6" fill="#a4bce2"/>
<path stroke="#8a5a28" stroke-width="2.6" stroke-linecap="round" d="M367.5 356.2l-1.1 2.6m18.1 39l.1 1.2"/>
<path stroke="#8a5a28" stroke-width="3.4" stroke-linecap="round" d="M413.9 362.9l-1.1 1.1m-34.3 4.4l-.4 .5m24.9 46.7l.4 1.1"/>
<path stroke="#8a5a28" stroke-width="4.2" stroke-linecap="round" d="M360 380.2l-1.3 .9m-1.4 11.6l-.2 .4m55.5 5.7l1.6 .4m-57.3 7.6l-.3 1.1m56.7 -.3l.5 .9"/>
<path fill="none" stroke="#c8d4ec" stroke-opacity="0.7" stroke-width="0.8" d="M441.7 425.6l-.5 3m2.7 -31.3l-1 2.9m-60.2 13.2l-1.2 6.3m66.8 1.4l-7 5.4m-62.1 -4l1.7 3.9m41.6 -33.5l8.1 2.5m-37.7 1.2l-3.8 1.8m-17.8 -28.9l8.4 4.7m36.8 60l-4.5 1m-45.5 -52.3l5.3 1.5m11.9 -3.7l-2.5 3.4m62.8 1.7l-4.1 5.3m-55.5 -3.2l-1.7 8.1m15.6 -36.6l1.9 4.6m29.4 41.5l-2.6 2.5m-36.8 .5l-1.5 8.3m16.4 -17.5l4.4 1.1m-4.2 15.9l-3.8 3.6m31.1 -49.7l-8.8 2.1m-16 43.4l2.4 6.1m-11.8 -44.3l-.2 8.3m55.9 35.1l6.1 4.5m-96.2 -18.8l5.4 1.1m-12.9 -38.1l-4.2 5.3m36.5 55.1l-2.8 3.6m-1.3 -38.1l-5.4 5.5m-6.3 -14.7l-3.2 8.7m51.2 -3.8l-4 5.3m-24.3 -39.9l-5 3.6m41.4 50.3l6.1 4.1m-11.8 -19.6l9.2 .7m26.5 -19.1l7.4 5m-104.2 15.9l.6 4.2m59.3 -11.7l-7 4.1m-8.6 -26.5l-2.6 5.5m-2.4 -10.1l-2.2 5.2m34.6 41.5l4.7 5m22.1 -45l-5.4 5.4m-34 52.3l3.9 .8m-17.3 3.9l4.3 3.4m-49.8 -77.6l2.7 4.8m-8.6 18.2l2 2.6m83.9 46.6l3.4 6.5m-23.1 -82.9l-.6 3.2m34.8 21.8l2.9 2.8m-19.9 -16.2l-.8 5.1m-.7 8.2l-1.7 6.4m10.6 -9.5l-5.5 .2m-47.3 10.8l-6.8 5.4m-3.3 -27.3l7.5 5.7m1.8 20.4l.6 8.7m-11.5 26.1l3.7 6.9m-3.8 -11l3.1 4.1m-28.4 -41.3l-5.6 5.4m75.7 21.7l-1 3.2m20.1 -33.1l2.7 7.9m-48.9 25.3l2.4 8.9m18.4 -15.9l4 8.4m-33.2 -18.2l-9.8 2.1m18.7 -22.9l-5.5 1.8"/>
<path stroke="#5a8cd8" stroke-width="2.2" stroke-linecap="round" d="M432 414.3l-.5 .5m-72.9 -61.4l.7 .7m14.3 -.6l-1.6 .9m29.1 66l-.9 1.7m5.2 -12.8l-1.8 .5m-1.5 -27.3l-1.4 .6m-34.9 -22.4l-.6 .9m53.4 14.5l-.1 .6m-34.8 4.1l.2 1.1m45.5 -28.9l-.4 1.6m-36.6 66.1l-1.3 .7m-2.2 -7l1.5 .7m36.9 13.4l.2 .3m-7.4 -56.8l-.7 1.3m1.9 3.4l.4 .3m-55.7 21l1.9 .1m77 -19.8l-1.5 .7m-12.8 47.2l.1 .2m1.3 -37l-.8 1m26.6 32.3l.3 .9m-89.2 -64.3l0 .4m38.3 -4.8l-1.1 1.4m48.8 70.8l.8 .7m-64.7 -29.5l0 .8m29.9 -1.1l-2.1 .3m-44.5 29.6l-1.1 1.4m48.6 -11.7l-.1 .2m35.3 16.1l-.1 .3m-62 -82.1l1.5 .9m-10.1 47.3l.1 1.2m65.9 6.1l-2.1 .3m-.2 -50.6l-.8 .1m7.2 2.6l-.8 2m-17.3 49.3l2 0m-41.4 -26l1.4 .9m24.2 -16.1l-1.8 1.1m1.4 12.6l.8 1.7m12 4.8l-.1 .5m-66.3 -29.9l2.2 .2m7.7 19.6l.5 1.5m72.7 36.5l-.3 1.5m-.9 -4.7l-1.4 .7m-88.6 -36.5l1.1 .4m84 -9.1l.5 2m-12.9 -.8l1.6 .3m-57.9 -3.1l.8 .4m31.6 18.3l-1 1.8m36.8 -24.6l1.6 1.3m-17.1 17.3l-1.8 .1m-67.9 -12.7l1.1 1.1m41.9 29.4l.8 1.9m-28.8 9.4l.7 1.5m85.1 -1.6l-1.6 1.4"/>
<path stroke="#5a8cd8" stroke-width="2.8" stroke-linecap="round" d="M410.6 379.7l-.6 .9m9.5 30.6l.8 .8m-17.4 13l0 1.3m43.5 -7.9l.8 .7m-30.5 -13.9l-.7 .7m-28.9 -13.1l.3 .4m42 2.4l-.6 1.6m2.8 15.9l.2 .8m-21.7 -27.2l-.7 1.3m-50.4 8.7l-1 1.7m26.4 21.7l.3 .2m-24.8 -18.5l.6 1.2m20.2 25.1l-1 1.6m43.1 -27.3l.5 .7m-15 -27l.4 .8m-35.1 45.3l0 .6m85.5 -9.6l1.1 1.8m-41.9 -24.8l0 1.7m-34.4 -9.1l-1.3 .2m63 -27.9l-.9 1.2m-36.2 50.5l-.6 .7m-39.8 -33.3l-.5 .7m41.5 9l-1.3 0m8.8 13.3l1.1 1.3m16.8 -34.7l.1 .8m-66.9 28.7l.6 1.4m.7 -1.8l-1.7 .2m22 20.1l1 1.1m22.4 -57.5l-1.8 .4m19.9 49.9l1.9 .2m18 21.1l-1.9 1m9.7 -12.8l-1.1 .2m-17.1 -61.8l.2 .4m-42.9 25l.9 .1m-39.3 -22.4l-.2 1.1m29 58.6l.4 .4m46.5 5.4l1.3 .4m-48.6 -14.2l-.2 .4m52.4 10.8l1.1 1.1m-25.6 1.1l1.5 .7m-44.3 -22.3l1.1 .6m-1.8 .3l.9 1.7m1.1 -27.2l-1.4 .7m56.4 8.8l.6 .3m18.9 19.9l1.3 .7m-78.6 -27.3l-.1 .4m36.6 12.5l-.3 .4m28.4 4.4l.7 .4m4.4 7.3l.9 .8m-33.1 18.4l1.6 1.1m-54.9 -29.9l0 .5"/>
<path stroke="#2a62c4" stroke-width="3.4" stroke-linecap="round" d="M449.1 398.8l1.2 .8m.8 16.3l-.7 1.9m-74.8 -54.8l-.4 1.1m87.5 53.3l-1.3 .4m-36 -18l-1.3 1.5m-59.7 -25.4l0 .4m56.3 5.1l-.8 .2m12.6 38.2l.6 .9m-54.5 -17l.1 .7m29.9 -39.7l.1 .5m1.9 61.8l-1 .9m-34.6 -8.1l-.2 .1m66 -16.3l.4 1.1m-1.2 -21.5l-.4 1.6m-16.7 33.7l-1.5 .2m-3.1 2.6l-2.1 .5m40.8 -10.7l-.8 .9m-71.5 -22.6l1.2 .3m29.3 29.2l-.6 .7m-26.9 -50.9l1.3 1.4m5.4 54.7l-.3 .8m40.6 -4.4l.8 .2m-53.1 -53.1l-.9 .5m70.8 11.6l-.8 .3m-96.4 -10.6l1.3 1m32.3 -10.8l.5 .8m-6 -5.5l.7 .6m-21.8 -.6l1.5 .2m-4.9 45.3l-.6 1.2m81.8 -44.3l-.8 .6m-37.9 61.7l.1 1m34.2 8l-.8 .1m-79.1 -66.5l.4 .4m103.1 35.8l-1.1 .6m-15.6 31.6l.1 .7m-32.4 -14.2l-2.2 .2m-35.9 -63.8l-1.6 1.1m-8.7 77.9l-.2 1.7m52.9 -62l1.6 .9m20.1 24.8l-.1 .7m2.5 4.8l.4 .3m-28.1 -23.4l-.3 .3m-3.2 10l-.7 1m-10.7 -39l0 .2m44.8 73.2l.4 .2m-1.8 -60.8l-.4 .8m-14.7 -7.9l-.3 1.8m-10.9 27.9l-.6 .2m24.9 .7l-1.5 1.4m-47.8 36.1l1.3 .3m13.6 -43.3l-.8 .5m-35 -10.1l-.7 1.3m94.6 -4.3l-1.6 1.2m-56.7 5.9l1.5 .8m-33.7 44.4l-.7 2.1m53.5 -60.5l.9 .2m-15.8 -3.1l2 .7"/>
<path stroke="#3a70cc" stroke-width="2.8" stroke-linecap="round" d="M457.3 360.5l-1.6 .9m-92.9 24.4l-.3 .8m21.2 11.2l-1.6 .4m9 17.5l-.7 1.9m20.5 -14.4l1.5 .9m21.7 28.8l-1.9 .7m14 -63.2l.8 0m-68.4 32.9l-1.5 .2m10.1 -51l-.1 1.2m31.9 73.6l2 .8m39.2 -19.8l-1.4 1.6m-88.5 -20.9l-.1 .3m57.3 -31.7l-.1 .6m-7.5 7.6l.3 .1m5.9 54.1l-1.5 .4m-29.2 -32.1l-.6 .5m-20.2 4.7l0 1.3m-6.9 -24.8l-.1 .7m84.5 -16.6l-1.7 .1m-80.7 33.3l.6 1m78.7 14.3l.8 1.7m-55.3 4.7l.1 2m-18.4 -7l.6 .3m32 1.5l.9 1m5.7 -9.8l-.8 .3m-16.3 35.6l.4 1.2m-41.1 -8.7l-.2 .1m76 -61.7l-.9 .3m-47.7 -4.3l-.2 .2m62.7 53.8l.2 .9m-51 -31.2l.7 .7m-3.4 42.1l-.9 1.2m-29.5 -68.4l-.2 1.2m-5.6 2.1l-.2 .5m64.3 23.5l1 .1m-6.7 10.6l-.9 1.8m17.2 33.8l-1.9 .3m-4.7 -29.1l-.9 .7m-20.2 -16.8l-1.5 0m34.3 -28.3l.5 0m-38.7 37.3l1.2 1.7m12.2 -41.1l-.2 .2m-1.2 28.8l-.6 .6m-35.8 11.3l.2 .6m68.9 29.5l1.6 .4m-34.9 -37.6l.1 .4"/>
<path stroke="#2a62c4" stroke-width="2.2" stroke-linecap="round" d="M386.7 430.1l.6 1.9m40.2 -76.3l1 .8m-31.2 7.2l-.8 .5m-5.4 48.5l.9 1.5m35.4 -54.1l1.6 .5m-44.9 61.1l-1 .9m59.3 -68.2l-.3 .1m7.9 72l-.1 .2m-89.5 -63.4l-1.1 1.4m17 15l-.6 1.8m-5.9 26.3l-.8 0m62.2 2l.6 .7m-47 -36.5l-1.1 .5m9.5 -2.9l-1.9 0m-18.5 30.4l-1.5 1.2m-15.3 -43.3l-.2 .6m14 63.3l.6 .9m40.1 4.8l-.7 0m30.3 -25l-.2 1.3m-63.2 27.7l1.1 1.2m60.6 -31.4l.3 1.7m-79.1 -11.5l.4 .8m89.4 -41.4l.9 1.6m-81.5 1.9l.7 1.8m66.7 1.4l-.8 1.9m-32.5 67.2l-.2 .2m-8.4 -39.8l.7 .4m14.5 -16.6l.5 .9m-18.8 56.9l.8 1.7m-20 -35.3l.6 .2m61.3 3.7l-.8 .5m-13.4 -21.4l1.2 .6m6.9 48.5l1.5 .3m-36.2 -36.7l-.2 2m-21.8 28.2l-1.2 1m31.6 -1.5l.3 1.5m-7.2 -5.3l.1 .8m36.6 -39.6l-.6 .2m-35.1 -12.8l-.3 .1m54.1 7.2l-.2 1.4m-30.4 1.9l-1.7 1.4m-30.8 28.8l-1.4 .8m24.4 13.6l1.1 .1m-5.7 -46.4l-1 .2m-22.9 -11.1l.7 1.5"/>
<path stroke="#2458b8" stroke-width="2.2" stroke-linecap="round" d="M372.6 430.1l.2 .1m72.9 -68.8l-.7 1.8m-47.7 12.5l0 .3m21.4 28.1l.4 .4m-27.6 3.1l0 .3m4 14.8l-.2 .4m-39.1 -47.2l.5 .5m12.2 51.3l.3 1.6m40.4 -49.8l.1 .9m53.1 51.9l-1.3 .5m-16 -4.5l-1.7 .3m-25.5 -59.1l1.7 .6m25.4 -12.5l1.3 .4m-91.7 16.8l.7 .6m52.3 -20.7l-.5 .9m1.1 46.9l.8 1.6m-8.7 29.3l-1.6 1.4m21 -60.8l1.5 0m.6 23l.7 .7m-11.3 -8.8l.1 .2m12.2 -20.2l.5 .3m-68 25l-.9 .3m32.4 4.6l1.1 1.4m21.5 -10.6l-1.2 1.5m-27.4 21.2l.3 1.5m-17.1 -31.6l.8 .9m24 21.1l-.2 .4m68.3 -13.1l-1.6 .6m-1.7 -8.9l-.5 2m-91.9 35.8l-.4 1.3m35.3 -41.9l.8 1.5m23.4 -24.8l1.6 .5m12.9 62.5l.6 .9m15.9 -49.6l.3 .3m-52 39.1l-.6 .2m61.9 15.8l-.2 .4m-59.3 -60.1l1.3 1.1m-11.1 -.3l-.2 .9m56.9 52.1l-1.8 1.2m3.6 -20.8l-1.4 .7m-87.5 8.1l.1 .2m93.1 7l0 1.3m-79.9 -43.7l0 .6m83.1 -21l-.9 1.2m-80.5 16.3l-1.4 .3m20.4 58.5l-.2 .3m8.4 -22.9l.4 .5m39 -16.3l-.4 1m-19.6 17.3l.2 .3m18 -50.1l-.6 .2m-.4 8.2l-.3 2.1m-24.5 38.1l1.7 0m-37.1 24.5l-.3 .5"/>
<path stroke="#3a70cc" stroke-width="3.4" stroke-linecap="round" d="M398.4 379.3l.5 1.3m54 51.1l.8 .4m-93.1 -32.8l.8 1.3m3 -17l0 .9m42.6 43.6l-.2 2.2m-4.6 -58.7l-2 .8m20.3 8.5l.2 1.7m-23.7 -22.1l1.1 .9m2.8 47.1l.5 1.1m12.7 -.2l-.2 .4m7.4 -22.9l0 .2m25.7 -3.7l-.1 .3m10.5 26.9l-.6 .1m-31.5 -30.2l-.1 1.2m8.5 49.9l-1 .8m-33.5 -53.6l.2 .3m51.3 -17.5l1 .4m-97.2 13.2l1.2 1.7m58.2 15l1.2 .4m39.1 -35.8l-1.9 .6m-87.8 50l1.2 1.3m81.3 -54.6l-.1 2.1m-3.3 65.3l-.9 .9m2.3 -64.5l-1.3 1m-9.9 18.8l.5 .4m-56.7 29.3l.4 1.3m18.6 23.9l.5 .2m-4.7 -39.6l-.2 .7m-33.5 29l-1.2 .9m34.1 -26.8l-.5 .2m-33.6 15.9l2 .1m11.9 -52.7l-.4 1.4m46.7 42.4l1.8 .5m.2 7l0 .4m-44.4 -24.7l-.2 .4m33.7 45.4l1.2 .1m17.6 -19.8l0 1.8m-33.1 14.4l1.8 .4m-3.7 -67.9l-1.2 .9m-8.3 16.2l-.3 0m-19.6 48.4l.5 .5m-4.7 -1.3l.7 2m46.8 -74.1l-.8 .2m19.1 42.6l-1.2 0m18.6 -34.4l.1 1.8m-85.8 2l-.3 1.4m23.7 31.6l.3 .2m57 11.4l-1.3 1.5m13.6 13.8l.6 .1m-.5 -16.7l.3 .4m-47.4 -26.5l.3 .2m-10.5 -24l.6 .5m48.2 69.3l-.1 .2m-56.6 -15l-.5 .3m64 8.5l-1.5 .1m-32.5 1.9l-.2 .2m-3.7 -6.6l0 .3m-19.6 -39.2l-.3 1.8m-10.1 37.6l-.5 1.9"/>
<path stroke="#2458b8" stroke-width="2.8" stroke-linecap="round" d="M413 423.3l1 1.7m-.8 -50.1l.1 1m31.2 11l.6 .3m-58 26.5l-.4 .1m-14.3 -23.2l-.5 .8m18 -25.2l-.7 1.9m39.8 -10.2l0 .9m-4.5 24.6l-1.2 .1m-24.2 7.8l.1 2m30.2 21.5l-1 .4m-42.4 -9.7l-.2 .4m20.7 -40.7l-1 .2m28.1 51.5l.3 1.4m-58.2 -66.9l.2 1.3m2.9 3.5l.4 1.4m36.8 71.6l.4 2.1m-48.6 -37.8l-.4 1.1m52.2 4.3l.5 2.1m2.3 -32.5l-1 .5m-14.8 29.2l1.4 .8m30.8 -4.1l-.1 .3m10 -7.2l-.2 .6m-10.9 2.5l-.2 .2m-22.7 15.4l1.9 .3m-18 5.5l.1 .8m9.7 .7l-1 1.9m49.6 -2.9l.4 .1m1.3 -20.3l-.2 1.7m-101.4 -18.5l-1.7 1.4m21 46.3l.2 .9m40.5 -69.7l-1.4 .2m-43.9 72.7l-.1 1.3m-5.7 -70l-1.1 .3m93.4 47l.6 .8m.7 -6.1l-.3 .7m-13.3 -12.7l.2 .9m-18.8 18.9l1.6 1.3m19.9 19.3l1.9 0m-18.2 -64.4l.1 1.1m-36.1 21.2l1.9 .9m58.1 -24.3l.4 0m-45.7 36.6l-.3 .2m-46.1 -12.8l-.1 .2m65.6 10.4l.1 .2m3.9 -33.6l.2 2.1m-33.8 16.9l1.2 1.3m46.5 47.9l.5 .7m-42.4 -81.3l-1 .4m.8 36.5l-1.2 .1m45.6 2.8l-1.6 1.4m-48.5 -2.3l.7 .7m35.6 10.5l.1 .4m-66.2 -24.5l-1.8 1.1m49.4 27.3l-.6 .2m-27.9 -22.1l.6 .1m45.6 -28.8l.5 1.3m21.5 19.1l-.3 .1m-41 32.5l.9 1.7"/>
<path stroke="#4c84d6" stroke-width="2.8" stroke-linecap="round" d="M428.8 390.1l0 .4m-38.9 40.9l1.9 .9m-17.9 -49.6l.5 1.1m-9.8 -.8l-.3 .1m18.5 45.9l-.5 1.3m61.1 -57l1.3 1.5m13.9 -15.8l.3 .1m-63.3 41.2l-.5 .6m65.3 -25.6l1.9 .9m-1.6 7.5l.7 1.7m-21.5 30.4l.1 .7m-28.4 -11.4l0 .4m24.1 -45l-.7 .8m1 23.6l-2 .6m.3 -22.4l1.6 .5m21.7 4.5l1 .2m-51.6 29.9l-.4 .2m10.4 -43.2l-.2 1m22.3 75.1l.9 .8m-65.1 -45.6l-.3 2.1m18 3.4l.5 .7m61.6 3.2l.7 1.1m-19.4 20.1l-1.5 1.1m-54.7 12l-.7 1.5m-20.8 -69.2l.4 .4m61.6 -2.1l-2.1 .4m-60.2 34.9l.4 .1m78.1 -26.8l-.1 .3m-70.5 -2.7l-.3 1.1m-6.1 49.8l.5 1.1m78 -11.6l-.9 1.4m-18.6 8.6l-.1 .2m-49.4 -47.3l-1.7 .7m12.1 56.2l.1 1.7m72.9 -73.5l.3 .4m-27.4 72.1l-.1 .9m4.6 -50l-1.4 1m-10 48.8l-.9 .8m-27.6 -65.3l-.6 .8m-23.3 9.4l-.1 .7m53.9 19l-.3 1.4m4.3 -36.8l1.7 .5m-53.1 26.7l.8 .2"/>
<path stroke="#4c84d6" stroke-width="3.4" stroke-linecap="round" d="M372.2 407.9l-.7 .3m89.4 -47.1l1.8 .2m-1.9 56.9l-2 .7m-17.9 -34l1.4 0m-81.1 -15.5l-.8 .2m11 21.8l-2 .6m-2.3 40.1l-.6 0m4.1 -22.6l.2 .8m27.1 17.5l1.2 1.6m42.9 -23.7l.3 .5m-84.1 -21.7l-.3 .4m81.2 4.1l-.9 1.4m9.7 -34.2l1.9 .6m-4.7 64.6l0 1m-25 -21.1l.1 .8m14.9 15.2l.3 .5m-69.8 -54.7l-2.2 .2m19.6 -9.3l.5 .6m27.6 77.1l0 .3m-21 -35.1l0 1.8m-.7 -21.3l.8 .1m-2 3.2l0 1.9m60.7 38.6l-1.2 1.8m-72.5 -38.2l-.7 .4m66.1 -29.5l-.2 .6m-57.3 28.8l1.2 .2m17.3 -1.9l-1.5 .6m26.1 1.7l.9 1.8m34.8 -19.4l.9 1m-20.9 38.5l0 1.3m-81.8 -4.7l1.8 1.1m65.6 14l-.6 1.8m-27.3 -37.6l1.2 .8m52.2 7.1l1 1.6m-69.7 28.5l-.3 1.6m54.8 -48l-1.2 0m-12.3 54.4l.4 .7m8.3 -27.8l.3 1.6m-68.4 -7.4l-.4 1.2m85.7 -4.6l-.7 .5m-3.6 6.7l.6 1.4m-66.4 9.7l-.5 .9m22.1 -28.3l-.8 .6m15.6 48.4l-.3 .1m43.6 -74.4l.1 .5m-79.4 44.9l1.8 .5"/>
<path stroke="#2a62c4" stroke-width="2.8" stroke-linecap="round" d="M450.1 432.6l-.2 2.1m-59.2 -76.9l1 1.1m54.5 19.4l-.3 2m-72.6 44l.9 1m31.2 -52.9l.2 .1m-39 -14l.4 1.2m21.4 5l.1 .6m-1.2 30.1l.3 0m25.1 -.8l0 2m48.2 36.1l-2.1 0m-95.1 -59.9l.4 .7m39.8 25.9l.4 .6m-1.7 27.2l.2 .9m-41.3 -6.7l.6 .2m50.3 -39.4l.8 .4m22.9 50.3l-.4 .6m-43.2 -57.4l1.7 .9m-19.1 -18.2l.1 1.8m60.7 29.9l1.1 .6m-26 2.4l.5 .3m10.4 -27.9l-.2 1.9m27.1 57.2l-.4 .5m-55 7l.1 .2m-38.3 -10.3l.2 1.4m3.5 -50.8l-.4 .4m54.3 11l.2 .1m25.3 -6.7l-.3 0m12.7 -23l0 1.6m-26.1 26.3l.5 1.1m-61.1 30.7l0 .3m38.5 7.3l.6 1.5m-41.5 -67.6l-2.1 .1m66.2 53.3l.6 .4m-5.8 0l1.6 1.1m2.4 -8.6l1.1 .5m29.7 27.3l-.4 1.3m-33.7 -51.1l-.3 .9m40 -5.9l1.4 .2m-14.9 .1l.2 .8m-50.6 43l-1.7 .6m60.7 4.2l-.3 2.1m-47.7 -30.3l1.1 .7m41.1 -10.1l-.3 .6m-69.3 -35.6l.1 .9m50 67.6l.2 0m-13.4 9.8l.3 0m-18.9 -70.1l1.5 1m38.1 49.5l-.3 .6m-57.4 19.5l.1 2.1m30 -51.6l-.9 1.3m25.1 8.1l.3 0m-67.1 -2.4l.6 .2"/>
<path stroke="#2458b8" stroke-width="3.4" stroke-linecap="round" d="M415.4 352.6l-.7 1.6m16 -1.8l.3 .3m6.3 71l-.2 0m5.9 -70.9l.6 1.1m-83.8 39.3l-1.8 .5m62.3 -27.4l.3 .1m-49.8 -10.6l1.7 .5m-5.9 25.2l.5 0m53.8 -4.9l-1.5 .8m-27.6 15.8l.4 .7m45 39.9l.6 .5m-4.8 -29.6l-1.4 0m-22.5 -15.1l-1.4 .6m-4.1 -3.9l-2 .1m5.2 39.8l1 1.6m-37.7 -37l-.3 1.2m92 -25.4l.8 0m-104.2 -5.1l-.4 .6m11.8 30.6l.7 1.2m8.9 -37.2l.1 .6m22.6 70.7l0 .5m43.5 -7.9l1.5 1.4m-75.4 11.4l.9 .8m64.2 -54.3l-.6 1.4m16 12.8l.6 1.8m-25.4 35.2l1.3 .4m-61.3 -79.5l-.2 1.6m51 61.7l-1 .8m5.9 -2.3l.2 .7m-40.2 -28.1l-1.4 .5m23.2 2.4l0 .8m28.7 19l-.4 .8m-52.4 -32.7l.6 1.1m28.8 18.9l-.7 1.9m-27.9 14.4l-1.4 .5m70.7 -34.4l1.5 .6m-85.2 -12l1 .9m79 48.9l.3 1.9m-44.6 -12.9l.5 .2m41.5 11l-.8 1.9m11.2 -64.1l-1.7 .3m-17.6 72.2l-.6 .6m-34.1 -49l.7 0m21.2 -13l.2 .2m-55.7 2l-.2 .7m40.9 28.5l.6 1.1m-26.2 8.8l-1.4 .1m72.8 -37.3l1.4 1m-4.1 -2.3l-1.2 1.3m.1 21.9l0 .8m7.9 19.4l.9 1.6m-48.3 -28.4l-.5 .4m-43.9 34l.1 .5m-6.8 -27.2l1 1.6m24.8 -24.7l-1.3 1.7m70.3 4.7l1.1 1.1m-15.5 36.3l0 1.2m-12.7 -17.8l-.3 .3"/>
<path stroke="#5a8cd8" stroke-width="3.4" stroke-linecap="round" d="M431.7 355.5l.4 .8m-65.7 47.8l-.4 .2m25.8 -42l-.2 .4m18.2 6.5l-1.7 .8m9 2.5l-1.9 .4m-23.9 11.8l-.6 .3m-21.6 -24l-.6 1.2m14.8 50.6l.5 1.2m-13.4 -20.8l.3 1m67.4 5.6l-.2 1.5m-55.2 -47.5l.7 1m2.1 36.2l.1 .3m-23.7 -22.8l1.3 1.1m93.3 60.7l.9 .8m-95.9 0l.8 .3m87.4 -14.3l-.9 0m-84.1 -42.1l.9 1.4m82.9 57l.3 .2m-63.5 -74.7l-1.5 .1m54.8 19.7l1.9 .1m-39.5 47.9l1 1m-21.7 -3l1.5 .4m1.4 -53.4l-.6 .2m68.7 -11.2l-.1 .4m-42.2 11.8l-.9 .7m-7.5 55.9l-.3 .7m14.3 -75.3l-1.4 .1m-39.1 32.5l-.7 .1m.3 -6.6l.2 1.4m3.8 51.1l-.6 1m36.5 -22.6l-.6 1.6m-9.7 -38.9l.3 1m-2.6 -6.9l.3 .6m5.3 52.8l.9 1.4m19.8 -50.1l1 .3m-14.5 41.9l.1 .1m-23 6.7l-1.2 .3m23.2 -40.4l.6 .2m-45.4 -7.7l-.8 1.7m56.1 -17.4l1 .2m-67.9 60.4l.6 .8m86.2 1.1l-1.4 .8m-27.5 -61.4l-1.5 1.4m-12.9 -7.8l-.6 .8m-2.3 70.5l.1 1.9m40.6 -20.9l.2 .1m-12.3 -14.2l0 .6m-65.6 -36.3l-.7 1.1m24.2 33.9l0 1.9m60.6 21.9l-1.8 .8m-20.1 -19.3l-1 1m-53.2 18.2l-1.6 1.4m93.1 -21.9l1.2 1.3m-25.1 -25l-.8 1.2m23.7 -16.4l-.7 .8m-16.4 65.6l.7 2m-42.1 -53.1l-.9 1.6m25.3 -5.6l-.5 .2m16.3 45.1l-1.1 .1m-70.6 -14.5l1 0m75.5 -26.1l-2.1 .3m15.7 16.3l.7 .5"/>
<path stroke="#4c84d6" stroke-width="2.2" stroke-linecap="round" d="M408.6 377.5l-.4 .1m-15.4 -23.1l-.6 1.6m9.7 38.8l-.1 .3m39.7 23.3l.3 1.5m-63.6 -7.2l-.5 2.1m58.5 -18.1l.6 .4m-52.5 27.5l.2 .2m14.1 -54l.9 1.4m29 54.6l-1.2 1.2m-54.3 -28.1l-.4 2.2m-7.3 7.1l1.1 0m44.6 -6.6l-.2 .9m-42 27.6l-.5 1.8m-12.2 -45.9l.7 .5m13.9 -8.7l1.3 1.4m41.4 8.9l-.3 .3m-18.2 -2.9l1.4 .6m12.9 32.8l1.9 .4m-48.1 -16.2l.3 .1m94.2 -8.2l.7 .3m-71.7 21.5l.1 .2m61.9 -61.4l-.8 1.7m-3.7 74.8l-1.3 .1m12.6 -16.6l-.3 1.3m-63.5 11.2l-1 .3m41 -62.6l.7 .1m-5.1 18.6l.2 .3m13.8 47.3l-.2 .1m-25.1 -45.7l-1.5 .6m-41 -31.4l.9 1m56.5 20.2l.1 .7m-10.9 -20.6l1.4 1.3m14.1 20.2l-1.1 .8m-13.4 -14.8l.9 1.8m-9.4 6l-.3 1.1m-56.6 54.3l.3 .6m101.3 -3.4l.2 .1m-54.7 6.2l-.4 .7m-15.6 -37.4l0 1.5m39.8 -18.1l.3 .1m-16.2 4.8l-.5 .6m-51.6 -7.9l.3 .1m64.2 5.9l1 1.2m-21.4 1.1l.1 1.8m39.3 2.9l.9 .2m11.3 -30l-.6 1.2m-78 47.9l1.6 1.4m74.3 -6.8l-.8 1.3m-87.8 15.9l-.2 .3m15.3 7.6l1.6 .8m23.1 -60.2l.4 .9m-2.1 24l-.5 .7m35.6 -2.5l1.7 1m-60.7 -9.2l-.7 .2m64.2 42.7l1.1 1.2m-3.1 -69.9l1 1.4m-47.7 34.6l-.2 1.5m21.9 34.8l-.2 1.4m-37.6 -60.6l-.8 .1m46.5 24.8l-.1 1.1m6 -42.5l.1 1.9m-54.7 26l0 2"/>
<path stroke="#3a70cc" stroke-width="2.2" stroke-linecap="round" d="M382.6 390.6l.3 .2m-23.9 -15.5l.3 .2m70.3 39l.6 1.5m-16.6 -25.5l.8 .2m14.3 -31.6l-1.8 1.1m-52.9 13.7l-1.6 1.3m86 30.5l-.1 1.3m-28.6 -3.2l0 2.1m-31.7 1.2l.6 1.7m-42.4 -39.2l.9 .2m25.6 16.3l0 .4m18.5 8.8l.1 .7m-35.7 10.3l-.2 .4m81.9 15.5l1.1 .7m-28.7 -41.4l-.6 .3m-2.4 -15.2l-.3 .7m-5.8 27.6l1.5 .5m-3.9 -29.8l-1.2 .2m-27.3 14l-.5 1.4m-9.1 -7.7l.7 .4m14.8 16.9l.8 .7m17.5 23.4l-1.6 .6m-20.3 -64.5l-.1 2m47.1 56.5l-2 .5m4.9 -32.9l-.2 2.2m-37.2 50.9l1.2 1m29.8 1.1l-1.4 .8m-46.2 -31.1l1.1 .1m77.6 -27.6l.1 .5m-59.8 -13l-.7 .1m29.3 49.9l-.5 .8m3 -47.7l-1.1 1.3m-30.2 1.6l1.2 .2m26.9 -12.2l-.5 .4m-42.7 18.4l-.4 .1m-9.6 37.9l-1.7 1.3m16 -20.1l1.6 1.2m31.2 6.7l-.9 .3m10.3 25.2l.6 1.5m30.5 -73.3l-1.1 .2m-44.3 24.2l-.4 1m23.2 -24.8l-1.7 .2m-5.1 35.5l1.1 .5m-70.8 7.7l1.7 1.3m-5.2 -2.1l-1 .8m47 -11l.1 .2m11.2 -12.1l-.4 0m43.4 17.6l1.6 .3m-72.9 12.4l.9 1.3m68.1 -7.3l.8 1.6m-15.8 30.8l-1 1.2m-35.3 -40.9l-1 .1m21.5 31.4l.4 .3m-26.9 -32.1l.1 .2m33.4 33.7l.1 .3m-70.9 -42.5l-.2 .5m21.7 3.4l1.2 .3m1.5 24.7l-1.5 0m26.4 -51.7l-.7 .5m-21.2 11.7l1 .3m-13.9 39.8l-1.6 .5m76.4 -62.1l0 .5m-89 80.1l2 .1"/>
<circle cx="362.6" cy="361.4" r="2.8" fill="#6a4420"/>
<circle cx="362.9" cy="361.7" r="1.4" fill="#4a3018" opacity="0.8"/>
<circle cx="429.5" cy="362.4" r="3.8" fill="#7a4a20"/>
<circle cx="429.8" cy="362.7" r="1.9" fill="#4a3018" opacity="0.8"/>
<circle cx="411.2" cy="376.5" r="2.9" fill="#7a4a1c"/>
<circle cx="411.5" cy="376.8" r="1.4" fill="#4a3018" opacity="0.8"/>
<circle cx="443.9" cy="381.2" r="2.4" fill="#7a4a20"/>
<circle cx="444.2" cy="381.5" r="1.2" fill="#4a3018" opacity="0.8"/>
<circle cx="433.2" cy="400.7" r="3.8" fill="#7a4a1c"/>
<circle cx="433.5" cy="401.0" r="1.9" fill="#4a3018" opacity="0.8"/>
<circle cx="398.8" cy="416.1" r="3.6" fill="#7a4a1c"/>
<circle cx="399.1" cy="416.4" r="1.8" fill="#4a3018" opacity="0.8"/>
<circle cx="387.1" cy="401.4" r="2.0" fill="#8a5a30"/>
<circle cx="359.8" cy="375.5" r="2.3" fill="#5a4a48"/>
<circle cx="360.1" cy="375.8" r="1.1" fill="#4a3018" opacity="0.8"/>
<circle cx="384.3" cy="366.1" r="1.5" fill="#8a6040"/>
<circle cx="433.8" cy="384.0" r="1.5" fill="#8a6040"/>
<circle cx="417.2" cy="371.8" r="1.3" fill="#8a6040"/>
</g></g>
<clipPath id="c12"><rect x="465.1" y="352.0" width="107.3" height="82.6"/></clipPath>
<g clip-path="url(#c12)"><g filter="url(#soft)">
<rect x="465.1" y="352.0" width="107.3" height="82.6" fill="#a89a94"/>
<ellipse cx="550.9" cy="426.3" rx="32.2" ry="10.7" transform="rotate(-22 550.9 426.3)" fill="#e0e2f0" opacity="0.75"/>
<ellipse cx="567.0" cy="414.8" rx="10.7" ry="6.4" transform="rotate(-22 567.0 414.8)" fill="#e0e2f0" opacity="0.6"/>
<path stroke="#744c26" stroke-width="4.2" stroke-linecap="round" d="M479 360.3l.3 .5m31 -9.2l-1 1.6m7.8 4.7l.1 .9m-2.8 -3.2l2.4 1.5m16.3 1.9l-2.3 .2m-7.9 -4.3l-1.3 0m4.9 2.9l-.3 .3m-1.2 6.6l.5 1.4m13.8 -8.2l1 1.8m25.7 -1.5l-1 0m-10.3 6l2.6 .1m-73.8 9.9l-2.8 .9m8.8 4.2l-.3 .7m28.7 -11l.3 .2m3.6 12.7l.7 .4m-1.9 -2.5l-.5 1.4m25.1 1.2l.9 2m-6.3 -9.9l-.9 2.5m24.7 1.5l.3 2.5m-3.3 -7.1l-1.8 1.4m-91.6 9.9l1.2 1.5m74.3 8.3l.9 .4m-75.9 14.2l.8 .4m32.5 -8.2l-1.7 1.5m15.7 8.2l.4 0m6.6 5.4l0 1.5m25.3 -16l1.2 1.7m-63.5 18.9l-.2 .4m16 4.6l-1.2 1.5m-4.1 -4.3l-2.3 1.6m3.6 -9.6l1 2.1"/>
<path stroke="#86582a" stroke-width="3.4" stroke-linecap="round" d="M470.2 354.3l.1 .3m3.2 3.7l.3 2.2m-8.6 -4.1l2.1 .9m42.2 1.8l.2 .3m5.2 -5l.2 .4m11.3 10.4l1.9 1.3m6.7 -7.3l-.3 .2m19.1 -3.6l-1.4 2.5m-12.5 4.8l2.1 .9m-.3 -.9l-.4 .7m-9.7 12.4l-1.1 .2m-4.2 -6.4l.5 .3m15.9 8.2l0 2.3m8.9 -9l.1 .1m-8.4 7.7l-.4 2.6m14 -11.3l1.2 .6m9.2 5.5l.8 2.5m-92.4 17.7l-.1 .1m20.5 -6.2l1.1 2.7m-3.5 -3.9l2.3 1m20.5 -6l-1.6 2.3m-7 2.3l1.4 2.4m-8.1 -2.5l-.1 .3m28.2 5l1.7 0m-.7 -1.9l2 .2m13.1 -6.2l.8 .7m1.1 -1.1l-2.2 .2m14 4.1l-.8 1.2m4.6 4.5l.7 .3m-5.5 1.1l0 .1m-86.8 15l-2.1 0m4.4 -3.8l-1.1 2.8m45.1 -1.1l-.4 2.4m-15.3 .3l.5 .1m19.1 -.9l-1.8 .1m.4 4.2l0 .3m17.6 -11.4l-.8 2.3m28.8 -2.5l-.5 1.5m-72 14.7l1.3 2.1m16.9 8.7l-1 2.4m-4.7 -3.6l-.5 .4"/>
<path stroke="#9a6632" stroke-width="3.4" stroke-linecap="round" d="M480 364.7l0 .1m2 -11.4l-.8 .9m-.5 -.1l-1.4 2.2m4.6 9.5l.3 .2m12.6 -5.1l.1 0m-10.6 -.2l.8 2.1m15.3 -3.5l-1.9 .4m32.6 8.5l1.6 .2m-.8 -11.7l-.2 .2m-4.1 3.9l-1.6 .5m-36.2 17.7l.4 .3m19.9 -5.7l-1.7 .2m-4.5 10.3l2.2 .2m27.5 -9.3l-2.4 0m1 9.7l-1.4 0m-11.9 -11l-.7 .3m14.9 -1.4l-.8 1m22.7 10.1l-.8 .7m15.4 -15.5l.1 0m-94.5 18.8l1.8 1m15.9 -2.8l.9 1m.3 -1.9l-1 1.4m7.6 2.6l-2.9 .7m33.1 9.8l2.1 .2m11.8 -8.2l-.7 .5m1.9 9l1 .6m-2 -4l-2.6 .2m-4.9 -10.1l-1.2 2m16.1 -4.5l1.7 1.9m13.3 -.5l2 2.1m-6.2 .1l0 .1m-86.9 12.9l1.8 1.6m9 9.8l-.9 1m29.5 -11.6l-.7 .1m-12.7 -.3l-.4 .2m10.1 3l-1.3 0m39.5 7.9l.6 .7m-7.1 -1.3l1.6 1.1m-77.6 12.3l1.5 .6m32.3 -4.4l.1 1.6m54 9.4l1.8 .4m5.6 -7.1l.5 .5"/>
<path stroke="#b4844c" stroke-width="4.2" stroke-linecap="round" d="M473.1 353.4l-1.1 .6m5.9 2.2l-2 1.5m8.6 -1.4l2.3 1m.5 2.2l1.1 1.1m28.7 -1.8l-.1 .2m-9.1 4.1l2.6 .6m-4.3 2.7l-1.6 .5m11.1 -9.7l.5 1.8m-10.9 1.1l-.1 0m5 -2.1l1.1 0m21.6 5.9l.5 1.8m16.6 -12.3l-1.2 0m-6.4 3.4l.4 1.1m9 8.6l.7 .9m-3.8 -9.1l-1.1 0m12.6 .9l.6 .3m5.3 7.4l-2.6 0m-1.1 -6.8l-.7 2.4m-74.1 13.7l-1.3 1.4m18.5 5.6l.8 .2m8.4 -12.8l2.3 .7m4.2 4.2l-.1 1.6m8.9 -.3l-.3 .4m13.5 -7.1l-.1 .5m1.8 4.2l-.9 .6m-1.8 9.2l-.4 .2m29.7 -15.7l1.1 1.3m-8.5 8l1.7 .1m-2.6 -2.7l2.6 1.2m-85.6 22.7l1.3 .6m3.3 -7.3l0 .4m16 6.6l-.1 .1m-3.6 -2.8l-.3 .1m8.4 -1l-1 .5m29.4 -6.3l1.5 .3m-2.8 7.9l.9 1.4m14.2 -13.7l.1 0m-5.5 4.1l1.5 .8m-53.7 21.3l1.8 .6m9.6 0l-.1 .2m-11.7 -6.9l0 1.3m-2.2 6.1l.1 0m13.7 -9l-.2 .7m-16 2.2l-1 .6m17.9 -7.1l.7 2.4m2.9 -.4l1.8 1.8m15.6 2.7l-.4 1.5m26.5 .1l1.1 .3m17 -6.1l-2.1 .4m1.3 3.7l-.8 0m-82.8 19.4l-2.5 .4m-11.4 -6.3l.2 .2m0 10.6l-.2 .2m22.3 -9.6l-1.5 1.9m4.7 .8l-2.9 .5m14.4 -3.7l2.9 .1m9.7 8.1l-.5 0m-15.4 -1.6l0 .1m21.2 -1l-.9 2.6m13.6 -8.8l-.6 2"/>
<path stroke="#a8763e" stroke-width="4.2" stroke-linecap="round" d="M469.1 360.9l.3 .2m3.3 -2.4l1.4 1.6m-6.5 -7.3l-1.3 .2m26.8 2.8l1.6 .2m-11 2.6l.4 .6m.7 -1l0 .4m8 8.6l2.1 2.1m12.3 -14.6l-.2 .4m5.4 8.8l.9 2m36.1 -3.5l-1.4 1.9m-1.9 -6.1l.3 .5m-65.1 15.6l.2 .7m9.7 6.2l1.4 1.8m44.5 -6.3l-2.2 .1m-15.8 .4l.5 .2m3.4 4.3l2.2 .3m8.3 -1.7l1.6 1.9m5.9 1.9l-.4 .1m10.1 -10.8l1.9 .5m-3.8 -3.2l-.8 .2m-9.5 6.2l1.5 2.5m1.2 -.5l-.1 .1m29.2 -.5l-2.8 .6m-101.3 10.7l2.1 1.9m25.4 -4.5l-.4 .4m38.5 6.8l-1.6 .6m18.3 -5.2l1.3 1m-.3 1l.2 0m8.6 2.9l-2 1.8m.3 -2.4l2.6 .9m-76 7.2l2.4 .4m9.8 5.8l2.4 .7m15 -3.5l-.3 2.2m-9.2 6.8l-2.6 .9m1.2 -4.3l.2 .3m34 2.1l-1.2 1.2m11.1 -11.9l-2.1 1.9m7.7 1.9l.8 .3m3.1 9.7l2.3 1.2m.6 -3.5l-1.5 .8m-86.3 15.6l-1.7 1.3m-2.5 -3.4l-.5 .7m16.9 -.4l.2 .9m14 -2.3l.9 1m-.1 -1.2l-1.8 1.7m29.3 1.7l-1.4 .4m13.7 -7.2l-.5 1.2m24.2 -6.6l.9 .5"/>
<path stroke="#b4844c" stroke-width="2.6" stroke-linecap="round" d="M467.5 361.5l.2 1.6m3.1 1.3l-.3 .5m2.4 -8.5l.1 .4m19.5 -3.9l.1 .3m-5.8 6.9l0 .1m31.2 5l-1.8 1m-6 -8.3l-1.5 .4m-3 -2l1.1 .9m19.6 -.2l2.3 1.2m14.8 -2.8l-1.1 .2m-3.2 -1.6l-.6 .1m13.6 .2l-.6 .9m-5.4 -1.6l-.1 .6m-8.2 9.8l.1 0m27.7 -3.7l1.2 1m-5 -2.4l-.5 1.4m-94.9 17.9l-1.4 .2m3 -.5l-.2 2.1m20.9 -.4l0 1.4m12.6 -3.7l2.2 1.4m29.6 2.1l1.4 .6m-7.8 2.7l.4 .4m-5.5 -12.3l-.4 .4m18.3 6.3l2.1 1m-64.3 10.8l-.2 1.1m-8.2 -6.3l.5 .6m28.7 14l-1.2 .7m5.2 -6.6l1.6 1m49.4 2.4l-2.1 .3m5.4 -1.4l0 .6m4.4 3.3l1.1 .8m.4 -6.5l1 .2m-80.5 11.5l-.7 .5m11.7 8l1 1.8m14.7 -13.8l2 1.7m-6.6 11.2l-.2 .9m24.2 -12.4l.7 .1m6.3 -3.6l-1.5 1.8m9.2 .8l.1 .6m21.1 -1.3l2.1 1.7m-70.2 17.2l.2 2.7m-9.9 -3.3l-.9 .9m6 2.3l-.1 1.1m-1 -4.1l-.2 .1m11 .9l0 .1m2.2 -1.9l1 1.3"/>
<path stroke="#86582a" stroke-width="4.2" stroke-linecap="round" d="M481.3 361.1l0 1.4m.4 4.1l.7 1.5m-2.1 -3.8l-1.7 2m14.7 -13.3l.5 1.3m-6.3 3.1l.1 .7m26.3 1l-1.6 .8m32.8 -8.6l-2.1 1.5m25.2 1l-2 1.5m-95.5 20.4l-.6 .8m5.8 -5.7l-2.3 .9m22.4 3.7l-.2 0m-12.6 .2l.6 .1m20.6 7.9l.5 2.1m14 -17.9l-2 1.5m-10 8.8l-.8 1.7m20.2 2.4l-.8 .1m22.4 -5.2l1.6 1.7m1.5 -4.4l0 .6m-10 -.8l-.2 .3m3.9 -.5l.8 1.3m18.2 7.8l-1.2 .1m-3.1 -12.2l.1 0m-3.3 3.5l1 1.7m-90.9 22.4l-.6 .9m1.8 -11.1l.8 .3m21.5 10.2l-2 1.6m9.2 -10.6l-.1 .1m-10.5 3l1.6 1.8m25.5 4.8l-.1 .2m-.3 -6.8l.3 .1m-1.7 4.1l-2.3 1.3m28.3 -6.4l-2.5 1.1m-1.3 -7.1l-1.2 .8m-11.9 1.9l0 .1m4.4 1.8l1.6 .5m5.7 4.8l1.1 1.4m15.4 .4l-1.1 0m-1.5 -4.6l0 .5m-1.3 2.7l2 2.2m6.9 -6.4l.9 .4m-3.5 -5.5l1.9 .6m-87.3 14.5l-1 .8m15 .6l.6 2.2m3.2 -4.3l.9 2m15.6 10.9l.5 1.2m-11.6 -6.4l-1.5 1.1m27 -6.4l.2 0m-2.8 -.6l-3 .3m1.2 13.4l1.5 .8m-8.2 -11l-.5 2.8m-.4 -7.4l.6 1.4m25.5 13.7l.1 0m8.5 .3l-.5 .5m-72.2 3l1.1 1.1m17.2 7.9l.9 2.3m15.8 -4.8l-1.1 1m16.3 -2.6l-1.5 1.6m-9.3 -8.6l-.8 2.2m3.4 3.1l-.4 .6m14.1 2l1.9 1.6m22.4 1.6l-1.8 .5"/>
<path stroke="#9a6632" stroke-width="2.6" stroke-linecap="round" d="M471.8 360l1.9 1.9m16.7 5.6l-.9 1.1m5 -7.6l-1.9 1.1m13.2 -2.1l.5 1m20.8 -1.2l.4 .3m4.9 -1.7l1 .3m-46.2 17.8l1 2.8m7.8 -2.3l-1.4 .4m33.7 -3.2l.7 .3m.9 2.2l-1.9 0m10.9 1.5l1.4 1.4m25.9 -7.6l1.8 1.5m-91.8 11.2l-2.5 .7m24.2 1l-1.6 1.1m13.1 10.9l.2 1.3m1.3 -5l.6 .8m-9.6 1.3l.8 1.8m6.8 -11.5l0 .1m6.2 10.2l.1 0m6.2 -12.5l-.3 .4m8 2.5l.3 1.3m-10.1 11.8l.1 0m14 -1.4l.5 2.1m19.3 -13.7l-.9 .8m-1.9 8.1l.7 0m.3 3.6l.1 .3m-11.8 -13.4l.2 .1m1.6 10.9l2.7 1m15.6 -6.4l.5 1m.3 5.8l.1 0m2.2 -2.9l.3 .2m-87.9 7.4l.8 .3m3.9 3.6l-1.7 1.3m6.4 2.8l1.7 1.1m-2.7 .3l0 .6m4.7 -10.2l2.7 .3m6.4 4l1.5 .3m17.5 8.8l.9 .6m-12.4 -7.3l-1.1 1.6m46.8 2.1l2.7 1m-56.6 16l-.8 2.5m13.7 -4.8l-.1 .3m6.4 -1l-1.1 2.6"/>
<path stroke="#86582a" stroke-width="2.6" stroke-linecap="round" d="M472.8 367.6l.1 0m17.9 -15.4l-.4 .3m-6.5 5.3l.2 .3m17.4 8.6l.2 2.8m7.4 -4.5l-.2 0m27.5 -13.1l-.4 2.8m3.5 6.2l1.2 1.6m10.3 .7l-1.1 1.3m8.6 -1.9l2.6 1.3m-84.5 5.7l-.5 .9m-2.6 5.4l.4 .3m4.3 -5.6l-1 .6m12.2 4.3l0 .3m16 -1.9l-1.2 2m9.2 -.3l-1.6 1.4m27.3 -1.6l-1 2.3m-46.9 13.9l1.7 1.7m7.6 -.4l.1 .7m14.5 4.1l-1.4 .2m-1.6 -12.6l-.4 .4m.1 4l-1.6 1.9m12.1 2.2l-1.2 2.2m23.4 -7.1l0 .7m19.1 6.6l-.1 .1m-88.8 7.1l-.4 .3m5.5 1.8l-2.7 .2m10.8 3.8l0 .2m26.9 -1.7l-2 1.4m23.2 -7.7l1.1 2.5m7.2 2.1l1.5 .6m-65.2 15.3l.5 1.1m-14 3.4l.2 .3m-2.6 -5.9l2.3 1.7m27.7 10.5l.3 .5m23.1 -10.8l.4 2.9"/>
<path stroke="#a8763e" stroke-width="2.6" stroke-linecap="round" d="M468.8 360.4l0 .1m26 -.1l1.7 .3m-7.5 -2.3l-.8 .7m-1 2.5l-.2 .5m18.7 4.1l-2 1.1m3.1 -9.4l-.8 .5m20.9 9.6l1.5 .6m.2 -16.6l.1 0m16.5 9.6l-.3 1.2m2.7 -7.9l.2 1.3m11.2 -2.2l-1.7 2.2m-89.5 21.9l-.6 .5m22.1 -9.6l1.3 1m2.3 9.7l.6 2.1m22.7 1.9l-.8 2m-5.2 -4.5l0 .1m12.5 -6.6l2.6 1.2m7.6 1.1l-1.7 .8m9.2 .4l-1.2 .6m.2 -6.5l-.5 .9m6.7 -4.6l1.5 2m2.6 3l-2.1 2m8.3 6.9l-2.7 .9m17.5 -8.7l.1 .4m-75.3 10.9l-.1 .5m1.6 12.5l.1 .8m29.5 -.8l0 .2m6.3 -2.5l0 .1m-1.7 -10.8l-.2 .1m-9.7 5.8l-.8 .6m8.9 1.6l-1.3 2.1m23.1 -6.8l1 2m-11 6.7l.2 .3m7.9 -8l-1.9 .7m23.7 -1l.5 1.1m-2.9 1.6l0 .1m-8.8 3.7l.3 0m-75.8 14.5l.1 .6m11.3 -7.9l.5 2.6m27 10.2l-1.9 1.5m.7 -.5l-.6 .3m-1.7 -15.7l.5 1.3m19 -.5l.2 .9m-62.3 20l-.2 .6m17.4 6.4l-.2 .8m26.6 -2.1l-.6 1m.7 -10.1l-2.2 .4m46.5 3.5l.5 1.1"/>
<path stroke="#b4844c" stroke-width="3.4" stroke-linecap="round" d="M476.8 362.3l-.4 1.9m14.6 -2.1l.1 .3m1.4 -4.1l-1.4 .2m.2 5.2l-.2 .2m16.7 -4.2l-2.9 .7m2.3 2.6l-.2 1.9m40.1 -10.2l.3 .4m1.4 8.6l1.9 .8m4.9 -9.8l.8 .4m-83.3 23.8l-.3 1.2m19.5 -7l-.3 .1m-4.2 -.4l-1.3 1.8m2.8 -3l-1.5 1.9m4 -2.6l.4 2.3m9 4.9l0 .1m9 4.6l1.7 1.5m-8.7 -9.9l.5 2.1m6 3.7l-.7 1.4m-8.1 -9.6l1.3 .2m4.2 3.8l.2 .1m-4 -.5l-.4 1.2m32.9 2.4l.5 .1m1.5 -7.9l-2.2 1.3m-4.7 4l-1.1 .6m32.8 2.9l.9 .3m-82.6 13.1l.1 0m-12.6 -7.9l-.3 2.2m16 11.2l2.7 .3m24.7 -3l.9 .5m-9.5 -7.7l-2 .7m17.4 -1.7l2.1 .6m-13.6 9.3l.5 1.4m.2 -1.8l2.6 .3m20 0l-1.3 .4m-4.2 -13.6l-.1 2m9.8 5l.7 2.2m-5.7 2.9l.8 .4m21.1 -4.2l1.2 .6m-.1 1.7l1.8 1.3m-4.1 2.9l1.9 1.5m-9.8 -14.2l-.5 2.1m25.4 8.5l.5 .5m-9.6 -12l-1.4 2.4m-90.6 19.4l.9 2.8m13.2 -2.9l2.4 1.7m-2.8 -6.2l1.5 .9m2.9 .7l-.2 .3m23.3 10.6l-1.3 1.1m7.4 -1.8l-1.1 .3m13.4 .6l-2 .4m-2.7 -5.5l2.5 .4m-52 11.6l1.1 2.3m28.7 -5l-.4 .1m5.5 7.1l-.3 .5"/>
<path stroke="#744c26" stroke-width="2.6" stroke-linecap="round" d="M499.2 355.5l-1.3 .3m-10.1 5.8l-.7 1.5m30.9 4.2l-.1 .1m-7.3 -7.3l-1 .2m11.6 3.9l.6 1.7m1 .7l.1 1.9m6.9 -15.7l2.8 .1m16.7 13.6l2.4 .7m-9.1 -6.3l2.1 1.7m-69.5 17.5l-.5 .7m24.7 -11.5l-1 1m-11.7 1.1l2.9 .3m7.9 6.2l-1 .6m-2.5 -5.7l.1 .1m12.4 6.7l-.3 1.6m18.6 -2l2.1 1.5m7.4 -3.9l-2.6 .6m4.2 1.4l-1.3 .4m17.1 2.1l-1.8 .1m-11.6 .1l-2.5 .2m10.6 -10.6l-.1 1.5m9.8 -1.3l.1 .3m-.8 .5l-.7 1.7m-85.7 17l-.1 .2m1.8 5l-1 .2m13.5 -1.3l-1.3 1.5m5.9 -8.4l-.9 .4m8 10.5l0 .3m3.3 -10.8l-.1 .1m11.4 11.5l-.2 .4m1.2 -2.3l.2 1.1m11.3 -1.7l-.8 1.1m3.5 -7.8l-.2 .7m14.5 4.2l-.5 2m1.1 -12.1l-2.1 1.7m6.6 -.8l-.6 1.2m-44.5 17.6l-.4 .2m-4.5 3.7l-.1 .9m-2.9 7.3l.5 1m7.4 -2.1l.2 0m-10.8 -12.1l-2.8 .4m29.1 9.3l-.5 1m.3 -8.6l-.9 .8m4.7 -2.7l-.8 .3m16.7 5l2.1 .3m-10.7 2.9l.1 .3m26.6 -.9l-.7 .4m-1.1 -7.7l-1.8 1.1m3 -3.2l-.9 1.6m13.7 11.4l.1 .4m-9.6 -14.2l2.2 .4m2.3 5.2l-.9 .1m4.2 2.9l-2.7 0m-78.5 11.7l2.1 1.4m1 2.5l-1.1 .4m4.4 .1l.7 .3m5.1 -1.8l-.4 2.3"/>
<path stroke="#744c26" stroke-width="3.4" stroke-linecap="round" d="M487.5 354.7l2.8 .9m-3.1 12.1l2.6 1m12.4 -1.4l-.1 .3m6.6 -14.3l.1 0m3.4 13.6l-1.9 1.8m11.5 -14.9l-.3 .2m6.5 -.8l-1.4 .1m-4.9 14l-1.5 0m29.2 -2.3l-.1 1.5m6.8 -9.2l-.3 .4m.4 -4.7l.6 2.8m-74.1 18l2.7 1.2m12.1 7.5l-2.2 1.4m-.8 -5.1l-2.8 .5m.5 0l.4 0m11 -2.8l.1 0m11.3 -1.8l-.8 .6m-13.6 7.1l1.3 2.1m29.7 -8.4l-.3 .2m-7.3 7l-1 .2m20.4 -9.1l2.1 2m6 -5.4l.1 .8m-14 3.4l1 .6m30.3 1.8l-.1 .4m-8 5.5l1.1 .8m-5.7 -3.1l.4 2.8m14.6 -.7l-1.6 2.2m.8 -2.7l.1 0m-93.4 15.2l.2 .2m15.3 -12.1l-1.6 1.2m-1 5.4l.3 .1m13.3 -.8l.9 1.5m28.9 -4l-2.1 .7m4.5 4.3l0 .6m-3 -1.4l-.8 2.1m19.2 -3.8l-.1 .3m-13.2 5.9l-1.3 .3m6.3 -10.3l.2 .3m10.5 -3.3l-.3 .4m2.5 5l.4 .3m9.4 4.1l-.4 .4m-93.5 20.6l2.3 .3m2.9 -3.8l2.4 .9m18.8 -11.2l-1.2 1.6m1.5 5.6l.1 1m7.8 -6.8l1.3 1.4m5.6 9.8l.1 0m12.6 2.7l-.6 1m5.3 -15.4l1.6 2.1m12.1 8.7l1.7 .6m8 -2.7l.4 2.3m13.9 -9l.9 1.1m-87 12.8l.3 1.7m17.9 -1.1l-.7 .6m11.2 9.7l-.9 1.3m3.4 -12.9l.1 1.2"/>
<path stroke="#a8763e" stroke-width="3.4" stroke-linecap="round" d="M493.2 358l.8 .2m11.1 -2.8l1.4 1.6m26.4 4.4l-2.7 .7m-8.9 4.2l.2 1.1m32.6 -8l.4 .9m-3.3 -5.2l.4 2.1m-2.5 3.4l-.5 .1m10.3 -5.4l.5 .4m1.4 -1.9l.8 .4m-.6 5.1l-.3 .1m-90.7 8.8l.6 1.3m.4 .9l0 .4m10.6 1.8l.6 1.3m-2.5 -3.5l0 .3m-4.2 2.5l-2 .1m21 9.9l.4 2.6m-8.4 -18l-1.2 1.9m22.8 10.6l.8 0m6.2 -5l.4 1.1m29.1 -1.4l-.4 .1m-3.4 2.1l.2 .3m19.2 -3.5l2 .5m-3.3 10.2l0 .5m-83.9 10.2l-1.2 2.4m7.8 -13.1l0 .9m-5.1 5.3l-2.5 .3m16.3 -.7l-.2 .4m-5.9 8.7l.1 .3m13.5 -6.4l-.1 0m17 3.3l.6 .1m-13.8 -11.7l.9 1m4.2 14.3l-.4 .3m-.4 -3.1l-1.6 .5m40.1 -1l-1.4 .1m8.5 -5.1l.9 1.3m-2.2 4.3l-1.5 1.9m10.8 -2.8l-.4 2m11.5 -11.8l-1 .6m-99.5 26.6l.3 .1m34.9 -2.2l1 .2m1.9 2.9l.8 2.7m-.3 -7.9l-.5 .8m.2 2.1l-2.3 .1m28.9 -2.7l-.3 2.9m-11.9 2.7l-.1 1.1m11.8 -.4l-1.4 2.1m-5.4 -10.6l-2.6 .3m40.8 .5l-1.6 2.1m-96.3 12.5l2.6 .8m2.5 .1l-.3 0m34.9 -7l-.5 2m35.2 3.9l-1.1 1"/>
<path stroke="#9a6632" stroke-width="4.2" stroke-linecap="round" d="M501.1 354.1l.1 .1m15.4 .5l.1 .3m4.9 1.2l-.6 0m23.5 -1.4l.4 .5m27.3 11.8l-.9 1.6m-15.1 -9.9l.5 1.3m3.2 1.3l-1.3 .4m-76.6 12.8l.1 0m-16.4 -.5l-.2 3m22.1 4.4l1.2 1.5m7.8 -5.3l1.4 .8m.3 -2.7l-.4 2.8m6.6 3l1.6 .9m.6 -4l-.7 .1m11.1 .6l-.2 .1m11.4 -9.4l-1.9 1m.3 6.7l.5 .2m-7.2 6.6l1 1.1m-1.8 -13l1 2.7m19.4 2.7l2.8 .4m-3.3 -.6l-1.2 2.2m-50.1 8.8l-1.1 1.8m13.9 7.4l-.1 .6m-13.3 -10.5l0 1.1m20 4.9l-1.3 1.4m-4.4 4.5l-.3 1.8m16.5 -8.2l-1.8 1.6m-11.1 1.4l.2 .1m26.7 -2l-.8 2.1m-6 -12.2l1.5 2.3m-.8 -1.8l-2.1 1.9m13.2 4.9l-2.6 .3m29.3 -5.3l-.5 .2m-7.1 1.6l1.8 .9m7.9 11.7l.4 .1m5.9 -14.9l.5 1.2m-12.3 .7l1.6 1.2m-92.1 23.8l-1.3 2.1m.3 -10.1l2.7 .8m37.7 1.9l-.9 .8m7.2 2.6l-.7 .3m16.8 -2.2l-2.1 0m-7.7 -5.4l-.8 .4m5.6 10.3l-1.5 .2m38.8 -11.5l-.3 .4m-83.3 15.9l-1.7 2m-5.5 7.7l1.5 .1m11.5 -4.2l-.8 2.3m.1 -6.8l.4 .1m22.6 6.9l2.6 .6m9.2 -8.6l-1.4 1.7m28.5 8.5l-.5 .1m10.8 -8.9l1.8 2.2"/>
<path fill="none" stroke="#e4e8f2" stroke-opacity="0.65" stroke-width="0.8" d="M480.8 365.5l5.5 7.6m22.9 -13.3l-3.7 9.1m61.9 27.8l-4 1.8m-14.7 30l-3.1 3.1m-64.1 -46.1l5 5.6m4.8 -31.1l-4.8 2.7m-20.4 -3.6l-6.7 6.4m101.3 4.6l8.7 2.2m-52.6 -12.4l4.5 2.4m-38.9 -7.3l4.9 7.5m29 70.1l-4.6 2.2m56 -19.5l-7.5 1.4m-36.3 8.9l3.3 2m-58.4 -63.5l1.8 2.4m79.4 15.2l1.5 5.2m-70.2 15.4l-7.8 .8m59.6 -16.9l3.3 5.7m-16.6 40.6l-7.4 6.7m47 -79.3l-2.7 3.6m-46 60l-1.8 3.9m29.4 -57.1l6.9 .6m-68.2 41l-4.5 1.8m76.6 -22.8l2.8 4.7m-66.1 15.9l-2 5.2m42.4 9.3l-1.9 5.8m-16.6 -70l2.9 4.6m31 37.4l-2.7 3.6m5.3 -1.3l-2.8 3m-37.2 -36.9l6.5 2.3m-6.5 43.1l9.4 3.2m-27.3 -12.5l4.5 6.7m26 -36.5l-7.9 4.3m-10.9 24.6l-4.3 3.4m64.9 -.1l-1.7 3.2m-56 -41.2l9.5 1.4m34.7 46.2l-2.1 3.8m-27 -3.6l-4.8 1.3m-8.1 -51.5l-5.9 7.8m40 30.1l-2.2 6.5m9.2 -9.5l2.4 3.5m-28.3 -19.8l.2 4.6m45.8 -14.5l8.2 .3m-44.5 24.7l.4 5.2m18.7 -30.7l-7 3.7m-71 -12l-2.1 4m75.4 -.3l1.4 3.3m18.9 9.3l-2.1 8.6m2.4 13.4l-2.4 2.7m-94.6 -38.7l3.8 2.9m85.7 13.6l-8.1 5.2m8 17.8l-3 2m-69.8 -39.3l.3 4.8m57.3 17.9l.6 3.6m-7.1 11.9l6.2 5.6m3 -57.2l-4.9 2.3m-49.6 62.1l-3.2 .6m33.5 3.4l3.9 4.8m-47.4 -35.5l4.8 5.8m78.6 -22.5l2.9 5.2m9.1 -12.2l2.3 5.9m-64.7 28.9l8.6 3.6m-19.9 18.1l-.2 3.6m18.5 -35.4l-2.2 2m14.6 -6.1l8.3 2.2m8.9 -14l-9.2 1m-23.7 47.9l-.4 5.3m-3.3 -67.4l1 9.4m28 15.3l-7.9 3.4m5 4.3l-3.4 2m-42.3 -47.9l-5.2 2.3m57.2 36.9l6.7 6.9m17.8 25.8l-3.5 5.7m-41.3 -41.2l-2.5 8.9m-12 10.2l3.6 6.3m-7.3 -5.7l-6.2 5.8m58.2 -4.9l1.6 6.3m-8.5 -42.2l2 7.3m7.7 -20.6l-5.7 6.6m8.7 60.3l-7.1 1.5m-72.6 -75.4l6.1 4.5m64 34.7l-8 1.6m28.8 -13.4l-4.8 1m-69.6 31.1l-3.6 5.4m41.7 -31.2l-4.3 5.6m-42.4 -13.6l-5.8 3.6m85.1 8.3l-1.4 7.1m-60.8 -19.3l-7.1 4.3m-21.1 -23.5l4.9 4m47.7 27.5l.3 4.8m-62.6 -16l7.8 1.8m-1.3 24.9l-5.1 2.4m15.8 -6l4.4 1.9m61.8 -8.3l-3.3 3.3m-56.5 16.3l-2 2.4m-.8 -40.1l-7.7 .1m35.9 -1l-4.7 2.6m38.6 18.8l-6.2 .6m7.7 -21.4l5.8 2.1m-87 26.9l5.4 6.9m71.4 -60.5l4 .3"/>
<path stroke="#e0e4f0" stroke-opacity="0.45" stroke-width="4.0" stroke-linecap="round" d="M519.9 360.7l1 .2m-40.3 12.3l.4 .7m79.6 35.7l.1 1.6m-62 -39.6l-2.9 .2m-16.7 46.6l1.9 2.4m70.7 -63.9l.4 .6m-56.8 42.2l-.1 2.7m30.6 -9.9l-.9 1.9m-16.2 -9.9l.4 2m13.7 30.5l-1.1 2.4m-30.7 -25.7l.1 .8m66.9 -26.9l-1.5 2.3m-60.6 64.1l-1.7 .2m-15.7 -44.7l-.1 2.5m15.2 -10.2l.6 2.2m59.6 -27.3l2.4 .8m-31.2 40.3l.5 1m24.8 -38.9l-1.7 .5m-11.7 28.8l.5 1.6m33.2 21.7l2.4 .9m-66.1 -32.1l2.2 .7m-12.6 40.6l2.3 1.4m7.2 -14.8l.4 3.3m32.7 -7.7l-2.1 .7m-68 .2l-1.1 1.6m87.2 -31.8l2 .4m1.1 -10.6l-.3 1.7m-27.1 -12.8l-2 2.5m4.6 18.5l3.1 1m-67.2 46.5l.9 .9m63.1 -26.2l-.1 .8m-49.7 -39.5l0 1.1m.5 9.3l-.9 1.4m56.9 38.3l-.9 .9m-32.5 10.1l3.3 .3m39 -5.5l-.4 .9m-34.6 -9.7l.6 .4m47.3 -42.6l-1.2 2m-5 53.8l-2.6 2.2m-29.2 -20.5l-.7 .4m12.4 -2.3l-1.3 1.2m-42.9 16.1l-.5 2.1m-25.4 -47.4l2 2.7m38.1 -10.4l-1.5 2m-24.6 19.7l.9 .6m82.6 41l-.6 .7m-39.3 -49.4l.8 1.5m-32.7 .7l-.1 2.7m-6.8 31.7l-.3 .8m46.2 -17.8l.1 .6m-50.8 -28.9l.3 1.6m16 53.7l-1.7 2.7m65.4 -64.2l1.9 2.9m-4.6 58.3l-1.2 2m-3.7 -1.5l-2.3 2.4m-70.8 -73.7l.5 .5m85.4 17.8l-2.8 1.6m-32 53.6l2.6 2.1m-28.6 -46.1l1.2 2.7m44.3 -18l-.8 1.8m-12.9 10.6l-1.6 2.6m-6.1 -13.3l-1 1.2m-27.9 11.3l-2.2 1.7m30.8 40.5l2.3 .1m40.6 -18.8l-1.1 2m-60.1 -24.5l-3.2 .7m-37.6 4.6l-.8 .1m75.5 2.2l-2.7 1.3m7.6 3.8l-1.5 2.8m-31.1 21.6l3.1 .6m32.3 -46.5l2.4 2.3m9.2 11.4l2.8 .9m-45.2 33.9l2.6 .9m-57 -43.8l-.2 .7m33.7 -10.3l.8 .6m3.4 40.5l-.7 .5m45.5 17.5l-1.8 2.5m-74.5 1.8l.8 1.8m88.4 -57.1l-2 2.3m-47.4 10.9l.6 1.8m57 7.8l-.6 .9m-19.3 12.3l-1.5 1.3m-69.3 -2l.1 2.4m52.8 -63.4l.7 2.9m11.6 -2.7l1.5 1.3m19.8 63.9l-.3 .5m-15.2 -34.3l.4 3.4m-10.2 -19.4l1.1 .1m-36.2 -1.1l-1.2 .4m40.4 24l-2.5 2.1m-22.8 -21.3l-2.3 2.5m21.8 -18.8l.3 .7m-12.3 73l-.3 .9m-7 2l2.5 .1m-20 -37.1l-.8 2.3m68 -24l.8 1.6m-72.8 -17.4l-1.6 1m-19.1 46.5l1.8 1.9m59.4 -19.7l1.5 1.8m-62.4 34.7l-3 .1m38.7 -45.7l1.3 3m41.4 13.2l-1.3 .1m14.5 32.1l-1.8 .6m-40.5 -.8l.3 .5m-21.5 -44l-1.3 3.1m-10.5 -4.1l1.2 1.9m-8.8 38.1l.4 2m83.1 -2.2l-.1 1.2m-22 -59.7l1.8 1.7m-33.1 2.9l1.6 0m-19.8 .8l-1.1 1.5m-30.4 54.7l1.2 1.6m89.5 -7.6l0 .6m6.1 -55.7l1.5 1.7m-72.6 20.9l.2 .6m65.6 34.2l3.1 1.4m-58.5 -56.6l-1.4 1.3m6.8 -6.4l1.2 .1m-24.9 -2l2 .1m34.5 -3.1l.3 1.3m7.2 1.9l-2 1.5m1 65.6l-1.8 .5m42.9 -2.6l-1.7 2.2"/>
<path stroke="#e0e4f0" stroke-opacity="0.45" stroke-width="3.3" stroke-linecap="round" d="M502.6 414.4l-1.4 2.7m3.9 -38.8l-.1 2.2m25.7 5l2.7 1.9m-43.5 6.9l-.5 1.3m7.2 -4.5l1.8 .8m68 -5l2 1.2m-18.9 14l2.7 .9m-23.5 -34.1l-.6 1.9m-31 -13.5l-2.1 .5m41.7 65.4l2.3 1.1m-21.9 -22.9l-.1 1.7m19.3 10.4l1.1 .7m-31.4 -11.1l-.5 2.3m18.9 11.2l-.4 1.2m17.5 -48.1l.7 1.7m-47.3 -14l-2.7 .5m33.6 10.6l.3 .6m-13.2 30.4l-1.9 .1m20.1 21.5l-2 2.1m1.9 -63.4l.5 .2m-56.9 18.9l.7 2.2m32.7 12.9l.6 1.2m19.4 5.8l-.4 1m-12.7 -32.4l1.7 1.8m3.9 -10.3l-.5 1.3m-6.5 59.4l-.3 .6m-12 -42.7l-1.1 .1m-22.5 6.4l2.2 .1m-5.2 -32.3l-.3 .7m17.5 75.3l-1.3 3.2m71.2 -39.4l2.6 1.8m-45.3 -36.2l1.8 1.7m-30.1 29.7l1.1 1.3m-4.6 -18.1l-2.9 1m44.1 38.8l1.7 .6m-50.8 -14.4l-1.4 .5m59.9 12.8l-1 2m-60.8 10.6l-1.6 .1m40.6 -43.1l-1.9 1.6m-25 -21l3.4 .3m64.9 54.5l2.1 .7m-65.1 -18.5l2 .4m-8.9 -9.3l.4 1.3m16.4 31.3l2.3 1.5m66.6 -21.4l-.6 .3m-98.4 9.7l2.6 1.7m-5.6 15.4l-1 .7m40.4 -9.7l2.2 1.3m57.9 2.2l.2 .8m-1.3 -32.8l2.3 2.4m-30.2 14.6l-.9 2m16.8 17.5l1.8 1.9m-75 -80.8l1.9 2.3m-18.5 35.2l1.3 3.2m98.1 -23.5l-.5 .7m-18.8 59.8l1.2 .4m-39.8 -60.1l-.5 .6m54.5 -11.6l-2.8 1.4m-73.5 11.4l-.8 3m47.9 -17.6l-.7 .4m-61.4 20.3l.8 1.4m12.3 27.9l-1.5 .2m52.1 -23.6l-2.1 1.9m-55.4 13.8l1.3 .5m6.8 -45.8l-1.3 2m35.7 18l-.7 .2m32.9 59.2l2.2 .7m-23.1 -55.6l2.7 .3m-6.9 36.5l1.8 .2m11.1 -11.8l1.8 2.6m-36.7 -5.6l-2.2 .5m59.4 15.6l1.1 1.9m-7.6 -20.8l2.2 1.6m-35.5 -40.3l2.1 .7m1.2 37.4l-1.7 1m-7.7 27l0 2.3m30.3 -48.7l-2.3 .4m-17.9 -18.2l1.6 .2m-57.3 64.8l.4 .4m40.3 -9.4l-2.4 1.4m60.9 -7.5l0 1.4m-102 -2.8l-.7 1.1m8.2 -1.5l-1.2 .6m88.9 -33.8l-1.4 1m-2.1 41.8l.8 3.3m-3.6 -10.6l1.5 2.5m-63 -22.5l2.7 .3m20.3 -7.9l-.6 .2m-22.1 43.1l1.5 1.5m46.4 3l-1.8 .5m-37.6 -31.1l2.8 .2m-35.2 -10.7l.5 .5m11.6 -4.6l-2.1 .2m-11.3 16.2l-1.9 .8m18.3 -19.9l-2.5 1.1m17.3 15.1l1.1 1.9m26.5 -16.1l-.9 2.3m-5.5 -13l-2 1m42.6 38.8l.1 1m-95 -60l.9 1.7m95.6 .1l-2.2 .1m-4.8 16.4l-.2 .5m4.3 1.8l-1 2.2m4.9 41.5l1 2.4m-35.7 -65.5l1.4 1.1m-25.1 42.9l-1.8 2m4.1 11.5l-.2 1.9m32.3 -39.2l1.7 .3m-50.5 3.3l1.8 1.7m76.8 38.9l-2.9 1.1m-62.4 -36.6l.6 2.4m-6.9 -10.4l.6 1.5m38.7 29.8l3 .7m20.3 8.5l2.4 1.6m2.4 -44.8l-3 1.2m-26.7 -13.3l-.5 .2"/>
<path stroke="#e0e4f0" stroke-opacity="0.45" stroke-width="4.7" stroke-linecap="round" d="M504.8 370.7l-1.3 .2m-7.8 36.9l.8 1.1m-29.6 -29.7l2.4 2m27.7 38.2l-.8 1m-1.6 -30.8l-.1 1m67.3 38.4l-.7 .8m-91.3 -50.9l.6 2m58.6 -11.5l-1.1 2.6m-14.6 .6l2.9 1.8m28.7 17.6l-.3 .9m-63.4 22.3l1.8 .4m26.2 15.5l-.9 2.9m-26 -68.3l-1.8 2.8m67.5 42l-.5 2.2m-75.4 -26.3l-1.6 1m3.3 -12.8l-1.4 1.7m92.4 11.9l-.8 .8m8.4 13.7l-2.9 .8m-68 -28.6l.8 .7m31.6 25.8l-1.3 .3m14.9 -35.9l-.8 .4m-1.9 40.3l-2.1 .2m-61.8 16.8l1.2 2.5m-17 -45.5l.7 3.2m9.6 -5.4l-.7 2.8m48.2 25.5l-.4 1.6m-2.1 -33.4l.2 2.8m32.8 55.9l-1.4 .6m-50.6 -9.2l-1.2 1.1m-6.6 -55.4l-1.2 .6m-4.3 16.8l.6 .2m-19 .3l.9 1.5m69.8 33.2l1 .1m-16.1 -60l-1.2 .5m-13.9 22l3 .2m13.9 13.9l-.6 1.2m39 8.8l.1 .8m-20.4 -48.6l-.3 .4m-4 27.5l.6 .4m-46.7 -27.3l-.3 .5m13.9 5l2.4 1.5m-14.9 54.6l1.9 .9m64 -4l1.3 .9m-20.1 -42.3l2 .6m-56.6 23.5l.6 .4m79.1 -40.4l-1.4 1.1m-46.5 41.2l1.5 1.7m42.5 -4.3l-.6 1.4m-42.2 -31.1l-1.2 2.4m49.7 -10.8l-2.7 .5m-96.3 56l.3 .7m26.4 -41.7l-1.1 2.8m36.5 22.4l-.6 3.2m23.7 -1.1l.5 1.1m-89.6 9.7l-.3 2.2m23.9 -58.9l2.9 .9m10.9 20.1l.8 1.2m16.5 39.8l.6 1.1m15.3 -66.2l.6 .9m-12.9 50.9l-.1 1m-35 -20.6l1.9 .1m38.7 -13.9l2 1.1m-40.3 -22.8l.6 2m40.1 57.2l-.8 1.1m-5 -28.2l-1.1 2.1m-43.1 -30.5l2.4 2.1m26.6 11.6l-.7 .3m41.8 -4l-2.5 .9m20.2 48.3l.2 .5m-105.6 -26.4l.5 .6m92.6 3.7l-1.3 2.2m-86 7.7l.3 1.2m15.9 -46.1l-.6 0m72.2 66.2l-.9 1m-86.9 -14.8l2.1 .1m15.1 17.1l-.6 .8m41.6 -44.2l1.1 2.9m-44.8 16.6l.1 .5m85.3 .1l-.3 1.4m-34.6 -26.1l-2.3 2.4m-61.9 -13.9l2.8 1.2m23.1 20.6l.6 1.4m39.9 -12.4l-1.1 1.4m7.8 1.1l0 .6m-22.5 2.5l-1.9 2.5m27.8 -23.4l1.9 .1m-63.2 57.4l2.4 .1m21.9 -14.3l-1 .3m36.5 -59l.8 0m-12.2 48l-1.8 1.3m-53.9 20.2l.3 1.3m60.3 -35.4l-1 3.4m32.4 16.1l-2.1 2.1m-103.4 -34l0 .8m30.4 34.9l-1.5 .9m9.7 -50.2l-.5 .7m24.5 18.4l-3.1 1m-30.6 6.9l-1.8 .1m3.7 -3l-.9 1.8m35.1 5.6l-1.5 .9m-63 17.4l-2.9 .3m16.1 -29.5l.6 .4m62.7 -28.7l.3 1.3m-21.3 53.5l1.3 1.2m-14.4 22.9l1.1 .8m48.8 -79l1.2 .9m-36.9 24.3l1.7 .1m-6.4 34.1l-2.5 1.3m-3.9 6.7l-.6 2.5m-13 -18.4l-.5 1.9m5.1 6.6l.2 .7m44.9 -58.2l-.9 .3m-26.4 35.8l-.6 .1m-15.7 9.6l-1.7 0m36.4 20.9l2.3 2.3m-77.8 -31.1l2.1 .9m42.8 -20.7l-1.5 1.9m-40.4 -19.2l-.5 .4m44.4 55.3l-.1 .8m-16.1 -25.6l-2.5 .6m-25.1 -26.4l2.2 1.4m1.6 60.5l-2.7 .4m16.8 -65.2l1.2 1.2m-18.4 -2.5l-1 2m72.8 16.4l-.7 .6m23.5 30.3l-1.4 2.3m-89.2 -46.2l-.5 .9m64.6 7.1l2.9 .2m-14 -1.2l-1.7 1.2m-18 57.7l2.1 2.7m35.2 -21.9l0 1.1m-27.7 -42.9l2 .2"/>
<path stroke="#1a3e84" stroke-width="2.5" stroke-linecap="round" d="M519.9 360.7l1 .2m-40.3 12.3l.4 .7m79.6 35.7l.1 1.6m-62 -39.6l-2.9 .2m-16.7 46.6l1.9 2.4m70.7 -63.9l.4 .6m-56.8 42.2l-.1 2.7m30.6 -9.9l-.9 1.9m-16.2 -9.9l.4 2m13.7 30.5l-1.1 2.4m-30.7 -25.7l.1 .8m66.9 -26.9l-1.5 2.3m-60.6 64.1l-1.7 .2m-15.7 -44.7l-.1 2.5m15.2 -10.2l.6 2.2m59.6 -27.3l2.4 .8m-31.2 40.3l.5 1m24.8 -38.9l-1.7 .5m-11.7 28.8l.5 1.6m33.2 21.7l2.4 .9m-66.1 -32.1l2.2 .7m-12.6 40.6l2.3 1.4"/>
<path stroke="#4a74b8" stroke-width="1.8" stroke-linecap="round" d="M502.6 414.4l-1.4 2.7m3.9 -38.8l-.1 2.2m25.7 5l2.7 1.9m-43.5 6.9l-.5 1.3m7.2 -4.5l1.8 .8m68 -5l2 1.2m-18.9 14l2.7 .9m-23.5 -34.1l-.6 1.9m-31 -13.5l-2.1 .5m41.7 65.4l2.3 1.1m-21.9 -22.9l-.1 1.7m19.3 10.4l1.1 .7m-31.4 -11.1l-.5 2.3m18.9 11.2l-.4 1.2m17.5 -48.1l.7 1.7m-47.3 -14l-2.7 .5m33.6 10.6l.3 .6m-13.2 30.4l-1.9 .1m20.1 21.5l-2 2.1m1.9 -63.4l.5 .2m-56.9 18.9l.7 2.2"/>
<path stroke="#24509c" stroke-width="1.8" stroke-linecap="round" d="M508 394l.6 1.2m19.4 5.8l-.4 1m-12.7 -32.4l1.7 1.8m3.9 -10.3l-.5 1.3m-6.5 59.4l-.3 .6m-12 -42.7l-1.1 .1m-22.5 6.4l2.2 .1m-5.2 -32.3l-.3 .7m17.5 75.3l-1.3 3.2m71.2 -39.4l2.6 1.8m-45.3 -36.2l1.8 1.7m-30.1 29.7l1.1 1.3m-4.6 -18.1l-2.9 1m44.1 38.8l1.7 .6m-50.8 -14.4l-1.4 .5m59.9 12.8l-1 2m-60.8 10.6l-1.6 .1m40.6 -43.1l-1.9 1.6m-25 -21l3.4 .3m64.9 54.5l2.1 .7"/>
<path stroke="#3a68b0" stroke-width="3.2" stroke-linecap="round" d="M504.8 370.7l-1.3 .2m-7.8 36.9l.8 1.1m-29.6 -29.7l2.4 2m27.7 38.2l-.8 1m-1.6 -30.8l-.1 1m67.3 38.4l-.7 .8m-91.3 -50.9l.6 2m58.6 -11.5l-1.1 2.6m-14.6 .6l2.9 1.8m28.7 17.6l-.3 .9m-63.4 22.3l1.8 .4m26.2 15.5l-.9 2.9m-26 -68.3l-1.8 2.8m67.5 42l-.5 2.2m-75.4 -26.3l-1.6 1m3.3 -12.8l-1.4 1.7m92.4 11.9l-.8 .8m8.4 13.7l-2.9 .8m-68 -28.6l.8 .7m31.6 25.8l-1.3 .3m14.9 -35.9l-.8 .4m-1.9 40.3l-2.1 .2m-61.8 16.8l1.2 2.5"/>
<path stroke="#2e5aa4" stroke-width="2.5" stroke-linecap="round" d="M506 409.2l.4 3.3m32.7 -7.7l-2.1 .7m-68 .2l-1.1 1.6m87.2 -31.8l2 .4m1.1 -10.6l-.3 1.7m-27.1 -12.8l-2 2.5m4.6 18.5l3.1 1m-67.2 46.5l.9 .9m63.1 -26.2l-.1 .8m-49.7 -39.5l0 1.1m.5 9.3l-.9 1.4m56.9 38.3l-.9 .9m-32.5 10.1l3.3 .3m39 -5.5l-.4 .9m-34.6 -9.7l.6 .4m47.3 -42.6l-1.2 2m-5 53.8l-2.6 2.2m-29.2 -20.5l-.7 .4m12.4 -2.3l-1.3 1.2m-42.9 16.1l-.5 2.1m-25.4 -47.4l2 2.7m38.1 -10.4l-1.5 2m-24.6 19.7l.9 .6m82.6 41l-.6 .7m-39.3 -49.4l.8 1.5m-32.7 .7l-.1 2.7m-6.8 31.7l-.3 .8"/>
<path stroke="#3a68b0" stroke-width="2.5" stroke-linecap="round" d="M530.1 397.7l.1 .6m-50.8 -28.9l.3 1.6m16 53.7l-1.7 2.7m65.4 -64.2l1.9 2.9m-4.6 58.3l-1.2 2m-3.7 -1.5l-2.3 2.4m-70.8 -73.7l.5 .5m85.4 17.8l-2.8 1.6m-32 53.6l2.6 2.1m-28.6 -46.1l1.2 2.7m44.3 -18l-.8 1.8m-12.9 10.6l-1.6 2.6m-6.1 -13.3l-1 1.2m-27.9 11.3l-2.2 1.7m30.8 40.5l2.3 .1m40.6 -18.8l-1.1 2m-60.1 -24.5l-3.2 .7m-37.6 4.6l-.8 .1m75.5 2.2l-2.7 1.3m7.6 3.8l-1.5 2.8m-31.1 21.6l3.1 .6m32.3 -46.5l2.4 2.3"/>
<path stroke="#2e5aa4" stroke-width="3.2" stroke-linecap="round" d="M465.1 380.5l.7 3.2m9.6 -5.4l-.7 2.8m48.2 25.5l-.4 1.6m-2.1 -33.4l.2 2.8m32.8 55.9l-1.4 .6m-50.6 -9.2l-1.2 1.1m-6.6 -55.4l-1.2 .6m-4.3 16.8l.6 .2m-19 .3l.9 1.5m69.8 33.2l1 .1m-16.1 -60l-1.2 .5m-13.9 22l3 .2m13.9 13.9l-.6 1.2m39 8.8l.1 .8m-20.4 -48.6l-.3 .4m-4 27.5l.6 .4m-46.7 -27.3l-.3 .5m13.9 5l2.4 1.5m-14.9 54.6l1.9 .9m64 -4l1.3 .9m-20.1 -42.3l2 .6m-56.6 23.5l.6 .4m79.1 -40.4l-1.4 1.1m-46.5 41.2l1.5 1.7m42.5 -4.3l-.6 1.4m-42.2 -31.1l-1.2 2.4m49.7 -10.8l-2.7 .5m-96.3 56l.3 .7m26.4 -41.7l-1.1 2.8"/>
<path stroke="#1a3e84" stroke-width="1.8" stroke-linecap="round" d="M493.4 400.5l2 .4m-8.9 -9.3l.4 1.3m16.4 31.3l2.3 1.5m66.6 -21.4l-.6 .3m-98.4 9.7l2.6 1.7m-5.6 15.4l-1 .7m40.4 -9.7l2.2 1.3m57.9 2.2l.2 .8m-1.3 -32.8l2.3 2.4m-30.2 14.6l-.9 2m16.8 17.5l1.8 1.9m-75 -80.8l1.9 2.3m-18.5 35.2l1.3 3.2m98.1 -23.5l-.5 .7m-18.8 59.8l1.2 .4m-39.8 -60.1l-.5 .6m54.5 -11.6l-2.8 1.4m-73.5 11.4l-.8 3m47.9 -17.6l-.7 .4m-61.4 20.3l.8 1.4m12.3 27.9l-1.5 .2m52.1 -23.6l-2.1 1.9m-55.4 13.8l1.3 .5"/>
<path stroke="#2e5aa4" stroke-width="1.8" stroke-linecap="round" d="M485.3 353.7l-1.3 2m35.7 18l-.7 .2m32.9 59.2l2.2 .7m-23.1 -55.6l2.7 .3m-6.9 36.5l1.8 .2m11.1 -11.8l1.8 2.6m-36.7 -5.6l-2.2 .5m59.4 15.6l1.1 1.9m-7.6 -20.8l2.2 1.6m-35.5 -40.3l2.1 .7m1.2 37.4l-1.7 1m-7.7 27l0 2.3m30.3 -48.7l-2.3 .4m-17.9 -18.2l1.6 .2m-57.3 64.8l.4 .4m40.3 -9.4l-2.4 1.4m60.9 -7.5l0 1.4m-102 -2.8l-.7 1.1m8.2 -1.5l-1.2 .6m88.9 -33.8l-1.4 1m-2.1 41.8l.8 3.3m-3.6 -10.6l1.5 2.5m-63 -22.5l2.7 .3m20.3 -7.9l-.6 .2m-22.1 43.1l1.5 1.5m46.4 3l-1.8 .5m-37.6 -31.1l2.8 .2"/>
<path stroke="#3a68b0" stroke-width="1.8" stroke-linecap="round" d="M471.5 390.3l.5 .5m11.6 -4.6l-2.1 .2m-11.3 16.2l-1.9 .8m18.3 -19.9l-2.5 1.1m17.3 15.1l1.1 1.9m26.5 -16.1l-.9 2.3m-5.5 -13l-2 1m42.6 38.8l.1 1m-95 -60l.9 1.7m95.6 .1l-2.2 .1m-4.8 16.4l-.2 .5m4.3 1.8l-1 2.2m4.9 41.5l1 2.4m-35.7 -65.5l1.4 1.1m-25.1 42.9l-1.8 2m4.1 11.5l-.2 1.9m32.3 -39.2l1.7 .3m-50.5 3.3l1.8 1.7m76.8 38.9l-2.9 1.1m-62.4 -36.6l.6 2.4m-6.9 -10.4l.6 1.5m38.7 29.8l3 .7m20.3 8.5l2.4 1.6m2.4 -44.8l-3 1.2m-26.7 -13.3l-.5 .2"/>
<path stroke="#4a74b8" stroke-width="3.2" stroke-linecap="round" d="M533 406.6l-.6 3.2m23.7 -1.1l.5 1.1m-89.6 9.7l-.3 2.2m23.9 -58.9l2.9 .9m10.9 20.1l.8 1.2m16.5 39.8l.6 1.1m15.3 -66.2l.6 .9m-12.9 50.9l-.1 1m-35 -20.6l1.9 .1m38.7 -13.9l2 1.1m-40.3 -22.8l.6 2m40.1 57.2l-.8 1.1m-5 -28.2l-1.1 2.1m-43.1 -30.5l2.4 2.1m26.6 11.6l-.7 .3m41.8 -4l-2.5 .9m20.2 48.3l.2 .5m-105.6 -26.4l.5 .6m92.6 3.7l-1.3 2.2m-86 7.7l.3 1.2m15.9 -46.1l-.6 0m72.2 66.2l-.9 1m-86.9 -14.8l2.1 .1m15.1 17.1l-.6 .8m41.6 -44.2l1.1 2.9"/>
<path stroke="#1a3e84" stroke-width="3.2" stroke-linecap="round" d="M485.9 408.4l.1 .5m85.3 .1l-.3 1.4m-34.6 -26.1l-2.3 2.4m-61.9 -13.9l2.8 1.2m23.1 20.6l.6 1.4m39.9 -12.4l-1.1 1.4m7.8 1.1l0 .6m-22.5 2.5l-1.9 2.5m27.8 -23.4l1.9 .1m-63.2 57.4l2.4 .1m21.9 -14.3l-1 .3m36.5 -59l.8 0m-12.2 48l-1.8 1.3m-53.9 20.2l.3 1.3m60.3 -35.4l-1 3.4m32.4 16.1l-2.1 2.1m-103.4 -34l0 .8m30.4 34.9l-1.5 .9m9.7 -50.2l-.5 .7m24.5 18.4l-3.1 1m-30.6 6.9l-1.8 .1m3.7 -3l-.9 1.8m35.1 5.6l-1.5 .9m-63 17.4l-2.9 .3m16.1 -29.5l.6 .4m62.7 -28.7l.3 1.3m-21.3 53.5l1.3 1.2m-14.4 22.9l1.1 .8m48.8 -79l1.2 .9"/>
<path stroke="#24509c" stroke-width="3.2" stroke-linecap="round" d="M523.7 380.5l1.7 .1m-6.4 34.1l-2.5 1.3m-3.9 6.7l-.6 2.5m-13 -18.4l-.5 1.9m5.1 6.6l.2 .7m44.9 -58.2l-.9 .3m-26.4 35.8l-.6 .1m-15.7 9.6l-1.7 0m36.4 20.9l2.3 2.3m-77.8 -31.1l2.1 .9m42.8 -20.7l-1.5 1.9m-40.4 -19.2l-.5 .4m44.4 55.3l-.1 .8m-16.1 -25.6l-2.5 .6m-25.1 -26.4l2.2 1.4m1.6 60.5l-2.7 .4m16.8 -65.2l1.2 1.2m-18.4 -2.5l-1 2m72.8 16.4l-.7 .6m23.5 30.3l-1.4 2.3m-89.2 -46.2l-.5 .9m64.6 7.1l2.9 .2m-14 -1.2l-1.7 1.2m-18 57.7l2.1 2.7m35.2 -21.9l0 1.1m-27.7 -42.9l2 .2"/>
<path stroke="#24509c" stroke-width="2.5" stroke-linecap="round" d="M562.5 387.9l2.8 .9m-45.2 33.9l2.6 .9m-57 -43.8l-.2 .7m33.7 -10.3l.8 .6m3.4 40.5l-.7 .5m45.5 17.5l-1.8 2.5m-74.5 1.8l.8 1.8m88.4 -57.1l-2 2.3m-47.4 10.9l.6 1.8m57 7.8l-.6 .9m-19.3 12.3l-1.5 1.3m-69.3 -2l.1 2.4m52.8 -63.4l.7 2.9m11.6 -2.7l1.5 1.3m19.8 63.9l-.3 .5m-15.2 -34.3l.4 3.4m-10.2 -19.4l1.1 .1m-36.2 -1.1l-1.2 .4m40.4 24l-2.5 2.1m-22.8 -21.3l-2.3 2.5m21.8 -18.8l.3 .7m-12.3 73l-.3 .9m-7 2l2.5 .1m-20 -37.1l-.8 2.3m68 -24l.8 1.6m-72.8 -17.4l-1.6 1m-19.1 46.5l1.8 1.9"/>
<path stroke="#4a74b8" stroke-width="2.5" stroke-linecap="round" d="M537 387.9l1.5 1.8m-62.4 34.7l-3 .1m38.7 -45.7l1.3 3m41.4 13.2l-1.3 .1m14.5 32.1l-1.8 .6m-40.5 -.8l.3 .5m-21.5 -44l-1.3 3.1m-10.5 -4.1l1.2 1.9m-8.8 38.1l.4 2m83.1 -2.2l-.1 1.2m-22 -59.7l1.8 1.7m-33.1 2.9l1.6 0m-19.8 .8l-1.1 1.5m-30.4 54.7l1.2 1.6m89.5 -7.6l0 .6m6.1 -55.7l1.5 1.7m-72.6 20.9l.2 .6m65.6 34.2l3.1 1.4m-58.5 -56.6l-1.4 1.3m6.8 -6.4l1.2 .1m-24.9 -2l2 .1m34.5 -3.1l.3 1.3m7.2 1.9l-2 1.5m1 65.6l-1.8 .5m42.9 -2.6l-1.7 2.2"/>
</g></g>
<clipPath id="c13"><rect x="575.6" y="352.0" width="107.3" height="82.6"/></clipPath>
<g clip-path="url(#c13)"><g filter="url(#soft)">
<rect x="575.6" y="352.0" width="107.3" height="82.6" fill="#8cb0e4"/>
<path stroke="#8a7c70" stroke-width="3.4" stroke-linecap="round" d="M657.8 366.5l1.5 .9m-72.3 11.8l-.5 1.2m42.5 -2.1l.6 1.9m-33.8 9.4l-1.1 .1m29.1 5.3l2 .5m-7.2 -6.3l-.3 .1m14.8 2.7l-.4 1.1m5.5 -8.3l1.1 1.1m20.5 12.4l-.7 1.4m-27.1 4.8l.1 .3m28.8 -.6l2.1 1.6m-7.6 16.2l1.6 1.7"/>
<path stroke="#7a7070" stroke-width="3.4" stroke-linecap="round" d="M666.1 352.7l.5 2.8m-59.7 18l.5 .2m8.8 5.4l.3 1.8m64.3 1.7l.3 .8m-88.5 2.9l-.2 .6m39.2 -.4l.1 0m-33.9 27.8l.2 .2m31.6 -.6l1.8 .7m-28.3 4.1l-.5 2.6"/>
<path stroke="#7a7070" stroke-width="2.6" stroke-linecap="round" d="M582.8 371.9l.1 0m28.1 27.9l0 .2m5.6 -1l.1 0m22.4 25.8l1.4 .8"/>
<path stroke="#6a6468" stroke-width="2.6" stroke-linecap="round" d="M597.4 372.2l1.7 .3m57.2 7.6l0 .1m-64.6 6.2l-1.6 .6m35.9 26.4l1.8 .8m-10.5 -4.1l-.8 1.1m7.3 19.9l-.5 1.4"/>
<path stroke="#6a6468" stroke-width="3.4" stroke-linecap="round" d="M627.8 372.8l.1 .4m50.4 22.4l1 .4m-98.9 6.3l-1.2 2.7m42 15.2l2.7 1"/>
<path stroke="#6a6468" stroke-width="4.2" stroke-linecap="round" d="M626.3 379.5l1 .8m-1.7 11.9l-.2 .4m-36.5 19.4l.2 .5m40.1 -2.8l0 .1m-52.9 16.2l2 1.3m6.3 5.1l.4 .1m17.8 -5.1l.4 1.3"/>
<path stroke="#8a7c70" stroke-width="2.6" stroke-linecap="round" d="M631.5 370.9l2.4 .9m3.7 8.7l2.2 1.2m-62.6 11.1l-.2 .5m20.7 15.5l2.6 1.2m7.8 .2l2.3 1.4m-28.3 10.8l.4 .9"/>
<path stroke="#8a7c70" stroke-width="4.2" stroke-linecap="round" d="M638.1 368.4l2.1 .6m-1.3 20.9l.1 0"/>
<path stroke="#7a7070" stroke-width="4.2" stroke-linecap="round" d="M664.2 381.4l.1 0m-58.7 11.6l.9 1.6m-28.2 18.3l-.2 2m94.2 18.2l-.2 .1"/>
<path fill="none" stroke="#b8cced" stroke-opacity="0.7" stroke-width="0.8" d="M582.2 413.2l7.9 4.2m54.1 -4.8l5.9 .8m-9.9 -43.4l-6.7 1.1m28.4 -11.4l-7.5 3.6m17.3 59.6l-.7 8.4m-60.2 -42.5l-1.7 3.7m46.3 30.4l3.5 2.6m-59.1 -73.5l2.6 2.2m18.9 39.6l-3.7 6.3m23.5 5.1l-7.1 1.1m-24.2 23l-3 1.5m23.4 -35.3l3.8 1.9m.4 22.5l-3.6 1.4m51.9 -45.2l-.6 3.7m-9.2 39.5l4.3 1.2m-85 10l-2.9 2.9m24.2 -56l-8.4 4.8m-1.6 -28l-2.4 1.9m49.9 63.3l8.4 1.4m21.9 -61.8l3.7 5.4m-79.3 39.2l-4.1 2.7m43 26.4l8.8 2m17.4 -19.8l4.8 .2m-16.6 -6.7l6.9 1.5m12.6 9.7l.1 8m-91.8 -33l-4.5 6.8m91.1 32.7l7.6 .8m-38.5 -45.6l-1 5.3m10.3 25.6l5.7 5.6m6.6 -26l0 8.9m8.3 10.2l-7.1 4.9m-19.6 -65l-2.3 9m-.9 30.4l-2.8 8.1m-3.3 -37.7l4.6 2m-28.3 29.3l-7.8 2.6m19.6 10.1l6.1 0m-22.9 -50.9l-7.3 3.6m57.7 -1.1l-6.1 3.6m-14.9 65.5l-3.9 1.7m36.1 -62l-5.1 4.3m-87.4 37.1l.3 4.3m99.6 -44.2l9.8 1.8m-8.1 -.8l5 8.5m-81.5 8.6l-7.4 2.2m3.1 30.4l.1 9.7m67.2 -56l-.7 6.2m-45.6 -27.8l.7 8.3m17.1 47.7l-2.1 2.6m-58.4 -21.6l3.1 1.2m80.8 -42.1l9.2 2.1m-69.4 39.8l5.5 4.1m39.3 -1.3l2.7 4.1m4.4 22.2l-3.3 .5m-14.6 -11.5l-3.8 5.5m-17.8 -39.9l-5.6 .5m36.1 11.7l4.7 1.1m31.7 -27.8l3 2.6m-42.7 -13.2l2.7 2.5m-13.9 71.6l-8.7 4.6m-1.4 -42.6l-8 3.2"/>
<path stroke="#6a9ae4" stroke-width="2.8" stroke-linecap="round" d="M597.4 356l.1 .3m64.3 59.4l-.9 2m-22.6 -52.6l1.2 .1m-31.4 42.9l.5 .6m48.1 -26.4l-.4 .6m-4.9 -6l-1.1 0m-.9 17.4l2.1 .3m16.9 -11.4l-.2 .3m-31.1 -19.9l-.7 .8m16 37.9l1.3 .5m-75 14.2l-1.9 .8m44.3 -35.4l-1 1.4m33.1 -21.9l.9 1m8.5 68.3l-.3 .3m-56.4 -9.6l1 .6m-30.2 -52.4l-.7 .1m12.7 49.1l-.7 .2m44.4 -27.4l-.4 .8m-42 18.3l-.2 1.1m-9.1 -47.6l1.7 .1m34.6 10.8l-.8 .8m59.5 12.5l.6 2.1m-4 -2.5l-.4 0m-39.6 -.5l-.6 .3m22.8 24.1l.1 .5m-2.7 17.3l-.9 .3m-16.7 -65.4l-.6 .5m42.7 36.9l-.8 .2m-72.6 5.9l-.1 .5m6.8 4.7l-.8 1.7m70.4 -49.9l.8 .7m-57.2 8.8l-.8 .7m-42.4 -8.2l-.3 .4m4.9 19.8l.1 .3m62.2 -3l-.2 2m21.5 19.2l-1 .8"/>
<path stroke="#4478d4" stroke-width="3.4" stroke-linecap="round" d="M634.8 428.6l-.6 .3m18.7 5l-1.3 .6m-44.1 -55.7l1.8 .2m-27.1 13.3l1.2 1.8m75.2 12.6l0 .3m-16.2 24.5l.8 1.1m1.6 -26.1l-1.6 1.3m32.5 19.2l1 .5m-100.5 -1.6l-.8 1m89.3 -11.2l0 1.6m-27.3 -.1l1.8 1.1m27.6 -18l.4 1.6m-7.1 -36.2l-.4 .4m-22.6 65.4l.8 1m-46.1 -14.9l-.7 0m84.4 -59.6l-.8 .9m-13.9 6.4l-.8 1.8m-49.8 17l-.2 2.1m.4 2.6l-1.3 1.4m21.3 -16.7l.7 .9m-1.4 17.8l-.6 .3m52.9 -38.2l0 .3m-92.8 .8l-.8 1.9m81.6 48.7l-1.1 1.2m-15.7 -29.1l.2 .5m-35.9 32.2l.1 .3m-19 -23.1l-.4 .2m.3 34.7l.1 1m39.6 -31.9l-1.1 .8m-.7 -10.8l-.8 .4m1.5 50.7l-1.6 .6m8.2 -76.1l-.8 .3m1.3 4.8l0 .4m-56.9 32.4l.9 .7m-6.2 36.4l.4 .2m90.1 -43.6l-.5 .1m-17.1 -24l1.7 1.4m-49.4 53.5l1.4 .2"/>
<path stroke="#4478d4" stroke-width="2.8" stroke-linecap="round" d="M669.2 410.3l-.4 .1m-37.2 -48.2l-.6 2.1m-52 -8.1l-1 .2m50.2 32.1l-.9 .9m-6.8 -31l-.1 1.1m-26.5 14.5l-.5 .2m60.8 28.1l.3 .5m-15.4 -45.5l.5 0m3.3 40.9l-1.7 .4m-46.3 -37.6l-1.3 1.7m9.5 -.5l.7 1.3m20 -11l-1.7 .9m19.1 17.2l.8 1.6m-49.6 58.9l-1 .9m26.7 -7.9l-.5 1.7m-20 1.5l-1.5 .6m30.9 -67.2l.1 1.4m37.9 -4.9l.4 1m-50.6 16.2l-1.3 .8m-9.8 -21.9l-.8 .1m11.8 .2l-.2 .8m19.6 47.5l-.9 .7m-49.3 -20.1l.6 1m70.8 26.6l-.1 .6m-15.4 -50.4l-2.1 .3m-44.4 28.3l1.3 1.2m5.4 38.1l.8 .7m21.1 -11.7l.9 .2m-32.9 -54.2l.2 .1m79.3 30.9l.7 .5m-76.6 -13l1.4 .6m29.9 41.1l-1.4 1.1m54.5 -41l.9 .5m-76.9 -9l-.6 .9m7.2 51.1l-2.1 .2m31.8 -63.7l.6 .4m-12.7 -.5l.9 1.2m-23.9 47l-1.9 .1m35.6 -6.9l.4 .2m36 10.2l1 1.6m-66.8 -30.7l2.1 0m25.3 34.8l0 .4m-34.4 -14l-1 .7"/>
<path stroke="#4a80d8" stroke-width="2.2" stroke-linecap="round" d="M666.8 427l0 2m-37.6 -49.9l.5 .2m41.5 50l.7 1.5m1.8 -63.9l0 .7m-43.8 22.3l-.1 1.4m-46.2 33.2l.1 .5m23.8 3.5l-.4 .1m-5.4 -55.4l-.9 0m-1.8 52.2l-1.3 .5m-9.1 -66.9l1.4 .8m78.7 67.7l.3 1.5m-51.5 -75.1l-1.1 .2m-35.2 -1.1l-2.1 .3m89.9 49.5l.1 1.1m12.2 9.8l-.7 .8m-102.3 -59.3l-.9 .5m26.4 13.6l-.1 .3m21 11.1l.3 2m-24.5 10.3l1.5 .2m-7.1 -26.6l2 .4m12 28.6l1.3 1m-6.6 13.1l-.9 1.2m70.7 -31.7l-.4 .1m-42.1 51.1l.2 .4m-13.2 -54.5l.7 1.4m7.5 8.7l.6 1m-8.2 29.8l2.1 .5m19.9 -11.1l-.4 .7m-35.1 -34.8l-1.3 .1m-10.4 45.2l.4 1.3m41.6 -63.1l1.8 .1m33.7 5l.5 1.4m-24.6 37.7l0 .7m17.3 -3.3l1.9 .4m15.2 -39.9l-.6 .7m-38 30.6l-.4 .4m18 3.3l0 .9m-74.6 22l-.6 .3m88.2 -3.3l.7 .7m-61.2 -17.1l.2 .7m-21.7 -21.3l1 1.3m-4.8 20.1l-.4 .4m92 -26.4l-1.6 1.4m3.6 27.2l-.9 .2"/>
<path stroke="#5a8ee0" stroke-width="3.4" stroke-linecap="round" d="M611.3 365.8l1 .2m65.8 -9.2l-.3 1.7m-68.6 54.8l.9 .6m29.9 3l-.9 .1m-21.2 -6.6l-.2 1.1m-28.6 -56.7l1.9 .9m-13.5 34.9l-1.2 1.7m87.2 12.6l1.5 .2m-15 -5.6l-.7 1.5m13.3 15.5l0 1.4m-77.3 -21l-1 1.3m52.1 27.7l1 1m-26.5 -32l-.4 .1m-34.7 2l-.4 .4m50.7 6.7l.3 .2m18.4 5.3l-.2 .1m-46.4 -8.2l0 .3m68.5 -38.4l.7 .4m-70.1 37.3l.1 .4m10.4 14.9l1.9 .3m-3.6 -61.5l.5 .2m8.7 .5l-.7 .2m56.4 29.7l1.1 1.6m-59.8 44.9l-2 .6m-14.1 -79.4l.2 .8m79.5 53.6l.6 0m-95.2 3.3l-.6 .6m25.5 -24.4l-1 .3m-1.3 -5l.2 .9m-26.8 24.4l-.2 1.1m85.2 -1.3l-.6 .6m-70 -.4l-1.4 .9m56.6 -36l-.1 .8m-14.6 6.9l.2 .3m-52.9 -.5l1.6 .3m41.9 -18.7l-.3 .3m13.7 59.9l.3 .5m-30.9 -52.8l.4 .8m15.2 29.7l-1.1 1.3m62.3 -46.1l.2 1.3m-28.8 6.7l-.3 .3m-30.1 34.8l1.6 1.4m-14.6 23.5l.2 .3m69.7 -66.8l-.8 .9m-24.2 28.2l-.3 .1m-23 -25.2l.2 1.2m-43.7 44.4l.1 .5m75.3 -21.8l-.8 .3m-84.7 22.2l0 1.6m24.4 18l-1.1 1.2m11 -60.6l-.1 .5m48.5 -7.9l-1 1.2"/>
<path stroke="#4a80d8" stroke-width="3.4" stroke-linecap="round" d="M602.8 390.8l1.7 .6m-3.8 8.6l-1.2 .3m18.8 -8.8l1 .7m-10 32.6l1.6 .7m19.4 -48.1l1.2 .5m-26.6 -21.3l1.6 .9m20.3 .9l1.5 0m35.7 39l-.9 .2m-27.8 -17.9l.8 1.7m4.8 28l-.7 .7m18 -45.7l.1 .6m-7.8 -1.4l.3 .4m-20.1 26l1.6 1.3m-35.4 -5.2l-1.1 1.8m69.4 -14.8l0 1.4m-84 13.2l.2 1.4m64.7 -23.5l-.8 .4m14.3 50.1l.7 1.2m7.1 -19.4l.3 1.6m9.8 -46.4l1 .7m-72.4 15.7l1.3 .3m38 -11.2l.1 .8m1.2 22.6l-1.1 .8m-54 35l.7 1.6m21.7 -23l.3 2m54.1 2.2l-1.5 .2m-26.6 -19.6l-2 .9m-36.8 43.8l-.5 .2m-7.7 -36.5l.3 1.7m33.1 -34.4l-1.1 .7m25.8 60.6l1.2 .5m-70.7 -36.8l1.2 .2m42.7 -2.4l.5 1.5m12 40.8l-2.2 0m41.6 -11.1l-.9 1.1m-36.1 -45l1.5 .1m-24.8 2.1l-.1 1.9m45.6 -10.6l.1 .2m-48.5 -7l2.1 .3m37.1 76.8l-.6 1.1m-10.6 -36.1l-1.4 .8m15.4 .6l-1.3 .4m-28.9 2.6l.6 1.9m-44.6 -42.4l-.3 1.5m94.1 -8.3l-2.1 .3m-22.6 67.6l-.1 1.3m31.1 -10.6l-.7 .2m-5.4 -14.6l.9 1.2m-68.7 -.4l-.5 .6"/>
<path stroke="#6a9ae4" stroke-width="3.4" stroke-linecap="round" d="M647.2 369.8l.4 .1m-22.3 20.1l1 1.6m-24.8 1.5l-.1 .2m70 15.5l-.9 .9m-79 -55.8l.1 .7m72.1 35.3l-1 1.1m-68.3 -15.5l.1 .3m18.6 5.7l1.3 1.1m42.3 33.2l1.1 1.3m-69.2 1.4l-.5 .3m36.8 -32.5l0 .7m-26.2 -23l-1 .6m-17 9.1l-.3 .2m.4 -20.3l-.9 1.7m26.6 38.3l-.2 2.1m.5 -36.8l-.8 1.1m5.5 0l.3 .1m10.7 63.7l1.6 0m-1.5 -14.9l-.8 1.8m-31.7 -51.8l-1.3 .4m-11.8 54.9l.2 .9m80.9 -32.2l-.2 .5m-12 -23.9l-.9 .5m17.2 43.3l-1.7 .7m-48.7 17.1l-.6 .1m4.4 -54.6l.1 .8m-7.2 -5.1l.3 .2m54.2 64.7l-.2 .3m-44.5 -61.9l.1 .4m-41.7 26.5l.3 .2m82.6 -24.6l-.5 .6m-37.4 8.6l-.9 .5m34.4 -18.6l-1.2 .7m-51.2 62.2l.3 1.8m77.4 8.3l-.4 .7m-89.7 -49.4l-.5 1.3m15.4 -15.8l-1.3 1.1m1.6 -5l-.2 1.3m.8 14.6l.7 .9"/>
<path stroke="#6a9ae4" stroke-width="2.2" stroke-linecap="round" d="M629.9 410.6l.9 .9m-51.2 -39.2l.4 .2m42.5 25.5l-1.3 1.1m51.1 25.4l-1.2 1.7m-88.3 -3.1l-.6 .8m1.6 -69l.7 .4m48.9 11.2l1.3 .5m-49.5 65.5l.5 1.1m50.7 .2l-1.1 .5m38.5 -50.5l.7 .7m-34.3 6.3l.6 .4m28.9 28.4l.5 1.3m-8.6 -62l-.3 1.4m-74.2 61.1l1.7 .9m-1.9 -68.8l-1.3 1.3m42.2 40.3l-.2 .1m-5.9 13.1l-.6 1.5m1.1 -2.9l.7 2m52.3 -53.8l1.9 .9m-30.9 67.7l-.8 .8m-11.5 -37.7l.4 1.4m26.3 4.4l.1 1.2m6.7 21.3l-.2 .8m-67.9 -40.3l.2 1.5m57.1 40.6l-.2 0m-3.8 -8.3l1.2 1.5m-10.9 -52.5l.7 1.6m-5.1 19.4l-1.1 1m41.3 44.6l.3 .6m-1.9 -50.5l.6 .8m-76.2 16.5l-.2 1m23.4 14.7l.4 1.1m9.5 20.4l1.1 1.3m-5.5 -50.7l.9 .4m49.2 -6.1l-.1 .7m-25.9 .8l-.9 1.9m19.9 30.5l-.9 .5m-6.9 -5.4l-1.2 .2m-29.8 27.5l-1.8 .7m1.6 -68.3l0 .6m-21.8 40.5l.3 1m29.4 -48.9l-.4 1.2m-22.3 56.2l-.8 .6m53.2 -6.1l.2 .9m-75.9 -4.3l-.8 1m11.1 .6l-.5 1.1m-7.2 -38.4l-1.4 .6m65.5 -5.3l1.3 .2"/>
<path stroke="#3a70cc" stroke-width="2.2" stroke-linecap="round" d="M659.2 426.9l-.6 .2m-40.1 -14.9l-.8 1.1m9.7 -30.1l-.1 .3m32.3 -13.5l.1 2.1m-3.6 5l-.2 .4m-42.3 41.1l1 .3m51 1.7l-.8 .6m-62.3 .1l-1 .9m-25.6 4l0 .8m78.7 -7.2l-.2 .2m-52.6 -35.9l-.3 0m45.2 -3.6l-.5 1.8m15.3 40.9l.5 .1m17.6 5.3l-.4 .4m-93.9 -51.1l.6 0m6.8 41l.7 .2m65.3 -60.8l1.3 .9m12.4 2.2l-.3 1m-79.2 45.5l-1.1 0m-13.7 -50.1l-.3 .3m29.7 71.7l.8 .3m21.4 -62.5l.6 1.8m-15 -11.6l-1.1 .1m57.9 -.7l-.9 1.8m-29.5 18.1l.4 .3m-48 39.1l.7 1.4m51.5 -1.3l-.2 .3m37.4 -27.6l-1.7 .6m-104 -32.9l1.3 .1m28.9 68l2 .5m-13.7 -52.5l.8 1.3m-20.2 .3l-.1 .3m89.8 24.1l-.1 .2m-27 -34.5l.8 .2m19.5 47.3l1.5 .5m.2 -4.1l-.1 .2m-22.4 -6.4l-.5 0m11.3 -13.7l.6 .9m1.2 -30l1.3 .7m8.1 27.7l-.2 .9m-11.5 -2.8l-.1 .2m-5.5 21.3l-.5 0m38.7 5.4l-.4 .2m-88.1 19l1.1 .8"/>
<path stroke="#3a70cc" stroke-width="3.4" stroke-linecap="round" d="M613.9 425.3l-1.3 .1m51.6 -28.2l1 .9m-14.7 -28.1l.9 .1m-38.3 25.2l-.5 .3m1.5 36.9l.9 1.4m15.1 -14.5l-.6 .2m15.3 -58.3l.2 .8m-39.3 47.9l-.3 .3m.9 22.5l-1.5 .1m-26.4 .5l-.4 .2m39.2 -58.3l.1 .5m44.6 29.9l1.1 1.2m18.1 -16.6l-.5 .5m-26.6 -36.8l.8 1.2m.1 45.4l-1.2 .2m-11.2 6.1l-.5 0m39.7 -5.2l1.3 1m-23.5 -17.8l-.7 1.4m-45.8 10l-.1 .2m-37.6 -22l.7 .5m25.1 54.5l.4 .5m78.2 -22.3l1.8 .9m-15.7 -12.2l.5 1.3m-33.7 12.1l1.4 1.4m48.3 18.8l0 2.1m-29 -78.5l-2.1 .3m-70.2 57.6l.5 .4m22.3 -9l1.1 1.7m42.9 -33.2l1.8 .6m-42.2 61.4l0 2m75.3 -57.8l-.4 .5m-54.8 13.1l2.1 .2m8.2 -5l-1 1.3m7 18l-.9 1.9m22.5 -46.2l-1 .2m-34.7 40.8l1.3 .2m32.6 -19l-.5 1.6m-76.8 23.9l-.3 .9m72.6 11.3l-1.2 1.7m24.3 -29l-.4 .2m-84.4 -23l-.3 1m27.3 49.6l-1 1.8m1.8 -34.9l.6 0m46 20.3l.5 1.5m5.2 -6.9l2 .7m-84 -32.5l-.2 .9"/>
<path stroke="#4a80d8" stroke-width="2.8" stroke-linecap="round" d="M648.7 393.6l-1.5 .2m-32.6 25.3l1.4 1.3m66.4 5.9l-.6 2.1m-32.9 .3l0 1.1m-40 -7.5l-.6 .3m-4.4 -51.3l.3 .1m37.8 59.6l-.6 .8m-13.1 -36.6l.2 .3m-.9 -2.6l-1.4 .6m55.5 19.7l.6 .2m-59.3 16.8l-.5 .6m5.2 -47.8l-.2 .5m41.7 -14.1l.2 .1m-40.6 35.5l.5 .2m13.3 -2.2l-1 .6m39.6 -3.6l.5 1.3m-20.5 12.5l.5 1.9m-42.4 8.1l.2 .3m-23.7 -26.4l1.6 1.5m58 23.3l.7 2m-21.4 -50.1l.9 .1m-19.2 -3l1.2 1.5m51 12.6l.9 .4m-59.3 -18.1l.5 .3m58.8 10l.8 .7m-21.6 -8.6l-.7 1.4m26 -3.6l1 .8m-80.5 -9.7l-.1 .3m80.6 50.3l-.6 1.7m-29.2 -15.2l.5 1.1m-17.7 33.8l.7 2m36.8 -18.8l1.6 0m12.1 11.7l.4 0m-10.7 -33.8l.5 1.4m-79.4 9.9l-.6 .2m71.6 -16.7l1.9 .1m-41.3 44.7l.4 .7m3.5 -55.3l-.5 .6m-45.1 9l1 .6m-3.6 -11.2l1.8 .3m10.8 -18.4l.7 .8m18.6 13.6l1.5 1.5m-17.4 54.3l1.3 .1m-4.4 -12.2l1.5 .2m52.5 2l.1 .7m-47.9 -10.6l-1.2 1.8m77.6 1.9l-1.9 .4m-2.4 -10.5l-.4 .9m-76.5 10.7l-.6 0m86.5 3.3l-.7 1.7m-88 -55.8l-.4 0m65.3 68.2l-.6 .4"/>
<path stroke="#4478d4" stroke-width="2.2" stroke-linecap="round" d="M576.5 375.3l-.9 .2m45.9 21.7l.3 .7m20.2 25.7l-.8 .6m-19.3 -41.5l.2 .4m-5.9 -5.9l.1 1.3m28.3 5.2l-1.8 .3m7.3 10.9l-1.4 1.7m-1.5 -39.2l1.3 .2m-25.7 5.4l.9 .2m40.8 41.6l.1 .2m-5.5 -22.4l1 .7m18.1 11.9l.5 0m-32.8 -31.8l-.1 .3m-46.5 9.5l.2 0m83.3 53.9l-.7 .7m-60.1 -42.7l-1.6 1.2m-5.1 45.9l1.6 .4m-33.6 -58.8l2 .9m21 -17.4l-2 0m46.5 71.5l-1 0m-30.1 -62.9l.2 .8m-38.6 20.3l-.9 0m-4.6 24.1l.5 2m59.6 -32.2l.1 .2m-13.2 33.8l1 .3m28.7 -33.5l.2 .2m-23.9 15l.1 .2m-21.2 -16.6l.1 .4m-18 25.4l.7 .5m1.4 12.2l-.6 .1m-4.7 -32.1l-.6 1.6m60.1 -10.7l-1.2 .4m-14.1 10.2l2.1 .2m-28.9 15.2l1.4 .6m28 -19.5l0 .5m-20.1 39.6l-.7 .5m-2.7 -51.9l1.2 1m43.3 1.9l-1.2 1.5m-17.4 53.6l1.4 .3m15 -16.7l.7 .5m-42.3 -29l.6 .2m-16.3 1.8l-1 1.2"/>
<path stroke="#3a70cc" stroke-width="2.8" stroke-linecap="round" d="M592.6 424l-.5 .3m.5 -30.2l-.8 1.2m-2.7 12.5l1.1 1.8m85.8 13.4l-.3 .1m-52.1 -13.1l.6 1.4m8.8 -9l.6 .9m-.1 17.9l-1.6 .6m33.2 -27.2l-.1 .6m17.4 -3.1l-.5 .5m-60.4 37.5l-1.8 1m39.4 -20.2l.6 .8m-19.5 13.5l-.7 1.6m4.6 -39.5l.1 .2m33.9 24.6l.2 .2m-25.9 -54.4l-1.5 .6m-41.7 62.5l1.2 1m-10.1 -17l.7 .6m-7.4 -43l.2 .5m-1.9 12l.5 1.5m45.6 -11.4l-.9 .8m-47.9 -1.2l-.3 0m11 22.8l1.1 1.2m-11.1 39l-.3 1m32.1 -15.3l1.5 1.3m19.6 -9.8l-.3 1.9m-38.6 -28.9l.5 1.4m.5 2.8l.8 .9m40 10.1l.6 1.3m-6.7 -12.9l-1 1.8m-39.5 29.2l-.1 .4m40.6 15.8l.6 .1m-16.8 -34.1l.2 1.7m-35.8 13.7l1 1m62.5 22.8l-.8 .4m-73.3 -17.1l.1 .2m92.4 -48.5l-.2 .5m-77.4 5.1l.1 .3m34 53.1l-.4 1.3m7.3 -43.2l-.6 .2m-2 16.2l-1.3 .5m49.9 23.6l1.9 .2m-98.3 -65.3l.4 .4m58.9 52l1.4 1.1m-14.7 -57.5l-.8 1.5m-22.4 26.1l1.2 .1m-24.5 47.7l2 .2m88 -18.9l.3 1.3m10.1 6.1l-.4 1.4m-89.3 -21.4l.9 .9m56.3 -44.2l.2 .7m-3.6 35.2l1.2 1m-67.5 16.6l1.6 1.5m28 -46.2l1.5 1.4m23.9 57.3l-.4 .2m-31.9 7.9l1.3 .3m32 -60.2l-.4 .2m-39.1 20.7l-.2 .2m84.6 -9.1l-1.8 .2m-25.9 -15.2l1.5 1.3"/>
<path stroke="#5a8ee0" stroke-width="2.2" stroke-linecap="round" d="M651.7 408l-.4 .9m-69.7 18.6l.3 .3m20 -16.2l.5 .1m11 1.4l.5 1.5m16.4 -43.6l1.1 .1m43.7 2.1l.1 1m.5 42.2l1 .4m-72.2 -55.9l-.8 1.3m-15.2 60.1l-.2 .6m-1.5 4.8l.8 .1m14.6 -33l1.3 .7m32 -18.6l-.9 .6m32.6 6.5l.5 0m-37.1 -6.8l-.3 1.8m-35.9 30.6l2 0m55.3 17l0 1.7m-71.2 -.9l.1 .7m6.7 -3.4l-2.1 .1m44.4 -37.1l.6 .1m1 -35.4l1.7 1m-17.3 11.7l.6 2m5.1 .7l.9 .6m-5.3 61.5l-1.1 .3m.8 -6.7l-1.8 1.2m-11.8 -67.1l.1 .4m5.1 .3l-.4 1.3m64.8 25.1l-.7 2.1m-26.3 30l.8 .8m-39.6 -12.8l-1.7 .7m25 15.8l.1 1.2m-47 -.2l1.7 .2m27.3 10.4l-1.2 1.3m-10.4 -53.1l1.3 0m-23.7 12.5l-.7 1.9m92.3 13.7l2 .1m-79.8 4l-.4 .5m42.5 -15.8l-.4 1.9m44.7 -35.7l-.3 1.5m-19 55l-.9 2m-25.1 -43.5l-1 1.5m-47.9 32l-.6 .3m63.2 -40.9l1.8 .3m26 47.4l-.5 .6m-27.8 -46.1l.9 .8m-47 -23.1l.6 .3m9.9 70l1.6 .2m43.8 -19.3l.3 0m-62.9 -28.3l2 .3m1.6 -11.2l-.7 .6m16.1 46.6l-1.6 1m60.2 -21.4l.2 .2"/>
<path stroke="#5a8ee0" stroke-width="2.8" stroke-linecap="round" d="M675.1 409.7l-.8 1.3m-31.7 22.9l1.3 .7m-2.9 -31.7l-.9 1.8m2.6 16.7l-.8 .6m33.9 -11.4l.5 1.6m-65.8 12.2l1.6 0m-8.7 -57.1l.5 1m55.2 -7.6l1 .9m-10.1 .3l-.5 1.8m-62.6 35.2l.7 .8m76.4 4.9l.2 .2m-7.1 -49.9l-.1 .7m-14.1 40.4l.6 .2m-18.2 -5.2l-1.7 .9m-8.6 17.7l2 .4m20 6.3l1.3 1.2m9.7 -36.6l-.2 1.2m28.6 32.6l-.4 .1m-100.3 -61.3l.1 1.5m90.6 16.9l.4 1.1m-72.9 38.3l1.4 .8m60 -54.5l-1.7 .4m-37.6 33.2l1 .9m-21.7 25.4l1.2 .6m51.8 -15.3l0 .5m3 5l.4 .6m26.1 -9.8l1.5 1.1m-71 28.9l-.2 1.1m19.2 -2.9l1.3 .1m-36.6 -21.7l.4 1.7m71.2 -9.5l.4 .8m-39.2 -44.6l.3 .9m47.1 21.1l.5 .2m-92.4 -3.2l-.5 .1m53 29.9l-.6 1.3m-9.5 15.4l-.1 1.6m47.6 -25.6l-.9 1.3m-69.4 -21.8l-.6 2m37.2 -1l-.6 0m-38.3 45.6l.3 .2"/>
<circle cx="587.8" cy="380.2" r="2.6" fill="#8a6a48"/>
<circle cx="588.1" cy="380.5" r="1.3" fill="#4a3018" opacity="0.8"/>
<circle cx="600.1" cy="386.9" r="2.0" fill="#7a5a3a"/>
<circle cx="607.6" cy="390.7" r="3.2" fill="#9a7a58"/>
<circle cx="607.9" cy="391.0" r="1.6" fill="#4a3018" opacity="0.8"/>
<circle cx="583.1" cy="393.5" r="2.8" fill="#8a6a48"/>
<circle cx="583.4" cy="393.8" r="1.4" fill="#4a3018" opacity="0.8"/>
<circle cx="579.4" cy="401.1" r="2.3" fill="#7a5a3a"/>
<circle cx="579.7" cy="401.4" r="1.1" fill="#4a3018" opacity="0.8"/>
<circle cx="628.3" cy="382.1" r="2.8" fill="#9a7a58"/>
<circle cx="628.6" cy="382.4" r="1.4" fill="#4a3018" opacity="0.8"/>
<circle cx="641.5" cy="376.5" r="3.6" fill="#8a6a48"/>
<circle cx="641.8" cy="376.8" r="1.8" fill="#4a3018" opacity="0.8"/>
<circle cx="643.4" cy="382.1" r="2.8" fill="#7a5a3a"/>
<circle cx="643.7" cy="382.4" r="1.4" fill="#4a3018" opacity="0.8"/>
<circle cx="637.7" cy="370.8" r="2.3" fill="#9a7a58"/>
<circle cx="638.0" cy="371.1" r="1.1" fill="#4a3018" opacity="0.8"/>
<circle cx="652.7" cy="370.8" r="2.3" fill="#8a6a48"/>
<circle cx="653.0" cy="371.1" r="1.1" fill="#4a3018" opacity="0.8"/>
<circle cx="658.4" cy="369.9" r="2.0" fill="#7a5a3a"/>
<circle cx="677.2" cy="370.8" r="3.0" fill="#9a7a58"/>
<circle cx="677.5" cy="371.1" r="1.5" fill="#4a3018" opacity="0.8"/>
<circle cx="647.2" cy="389.7" r="2.0" fill="#8a6a48"/>
<circle cx="618.9" cy="414.2" r="2.8" fill="#7a5a3a"/>
<circle cx="619.2" cy="414.5" r="1.4" fill="#4a3018" opacity="0.8"/>
<circle cx="587.8" cy="421.8" r="3.3" fill="#9a7a58"/>
<circle cx="588.1" cy="422.1" r="1.6" fill="#4a3018" opacity="0.8"/>
<circle cx="673.5" cy="422.7" r="2.8" fill="#8a6a48"/>
<circle cx="673.8" cy="423.0" r="1.4" fill="#4a3018" opacity="0.8"/>
<circle cx="654.7" cy="423.7" r="2.8" fill="#7a5a3a"/>
<circle cx="655.0" cy="424.0" r="1.4" fill="#4a3018" opacity="0.8"/>
<circle cx="630.2" cy="425.5" r="2.3" fill="#9a7a58"/>
<circle cx="630.5" cy="425.8" r="1.1" fill="#4a3018" opacity="0.8"/>
<circle cx="600.1" cy="427.4" r="2.3" fill="#8a6a48"/>
<circle cx="600.4" cy="427.7" r="1.1" fill="#4a3018" opacity="0.8"/>
<circle cx="649.0" cy="412.4" r="2.0" fill="#7a5a3a"/>
<circle cx="632.0" cy="399.2" r="2.0" fill="#9a7a58"/>
</g></g>
<text x="-0.3" y="13.6" font-size="13" text-anchor="start" fill="#111" >A</text>
<text x="113.3" y="34.2" font-size="12.9" text-anchor="middle" fill="#111" >PC9/GR</text>
<path d="M57.8 52.6 V170.1 H170.9" stroke="#1a1a1a" stroke-width="1.4" fill="none"/>
<path d="M54.599999999999994 170.10 H57.8" stroke="#1a1a1a" stroke-width="1.3"/>
<text x="53.0" y="174.29999999999998" font-size="12.3" text-anchor="end" fill="#111" >0</text>
<path d="M54.599999999999994 146.60 H57.8" stroke="#1a1a1a" stroke-width="1.3"/>
<text x="53.0" y="150.79999999999998" font-size="12.3" text-anchor="end" fill="#111" >200</text>
<path d="M54.599999999999994 123.10 H57.8" stroke="#1a1a1a" stroke-width="1.3"/>
<text x="53.0" y="127.3" font-size="12.3" text-anchor="end" fill="#111" >400</text>
<path d="M54.599999999999994 99.60 H57.8" stroke="#1a1a1a" stroke-width="1.3"/>
<text x="53.0" y="103.8" font-size="12.3" text-anchor="end" fill="#111" >600</text>
<path d="M54.599999999999994 76.10 H57.8" stroke="#1a1a1a" stroke-width="1.3"/>
<text x="53.0" y="80.3" font-size="12.3" text-anchor="end" fill="#111" >800</text>
<path d="M54.599999999999994 52.60 H57.8" stroke="#1a1a1a" stroke-width="1.3"/>
<text x="53.0" y="56.8" font-size="12.3" text-anchor="end" fill="#111" >1000</text>
<path d="M57.80 170.1 V173.4" stroke="#1a1a1a" stroke-width="1.3"/>
<text x="57.8" y="185.6" font-size="12.5" text-anchor="middle" fill="#111" >0</text>
<path d="M75.83 170.1 V173.4" stroke="#1a1a1a" stroke-width="1.3"/>
<text x="75.83" y="185.6" font-size="12.5" text-anchor="middle" fill="#111" >4</text>
<path d="M93.86 170.1 V173.4" stroke="#1a1a1a" stroke-width="1.3"/>
<text x="93.86" y="185.6" font-size="12.5" text-anchor="middle" fill="#111" >8</text>
<path d="M111.89 170.1 V173.4" stroke="#1a1a1a" stroke-width="1.3"/>
<text x="111.89" y="185.6" font-size="12.5" text-anchor="middle" fill="#111" >12</text>
<path d="M129.92 170.1 V173.4" stroke="#1a1a1a" stroke-width="1.3"/>
<text x="129.92000000000002" y="185.6" font-size="12.5" text-anchor="middle" fill="#111" >16</text>
<path d="M147.95 170.1 V173.4" stroke="#1a1a1a" stroke-width="1.3"/>
<text x="147.95" y="185.6" font-size="12.5" text-anchor="middle" fill="#111" >20</text>
<path d="M165.98 170.1 V173.4" stroke="#1a1a1a" stroke-width="1.3"/>
<text x="165.98000000000002" y="185.6" font-size="12.5" text-anchor="middle" fill="#111" >24</text>
<text x="114.3" y="201.8" font-size="12.5" text-anchor="middle" fill="#111" >Days</text>
<text transform="translate(16.4 108.6) rotate(-90)" font-size="12.5" text-anchor="middle" fill="#111">Tumor volume (mm<tspan dy="-4.5" font-size="8.5">3</tspan><tspan dy="4.5">)</tspan></text>
<polyline points="57.80,165.00 75.83,162.70 93.86,157.70 111.89,148.90 129.92,136.10 147.95,122.40 165.98,112.10" stroke="#9b1010" stroke-width="1.4" fill="none"/>
<rect x="55.00" y="162.20" width="5.6" height="5.6" fill="#9b1010"/>
<path d="M75.83 160.5 V165.0 M72.83 160.5 h6 M72.83 165.0 h6" stroke="#9b1010" stroke-width="1.5" fill="none"/>
<rect x="73.03" y="159.90" width="5.6" height="5.6" fill="#9b1010"/>
<path d="M93.86 154.0 V161.0 M90.86 154.0 h6 M90.86 161.0 h6" stroke="#9b1010" stroke-width="1.5" fill="none"/>
<rect x="91.06" y="154.90" width="5.6" height="5.6" fill="#9b1010"/>
<path d="M111.89 145.5 V152.4 M108.89 145.5 h6 M108.89 152.4 h6" stroke="#9b1010" stroke-width="1.5" fill="none"/>
<rect x="109.09" y="146.10" width="5.6" height="5.6" fill="#9b1010"/>
<path d="M129.92 131.0 V141.2 M126.92 131.0 h6 M126.92 141.2 h6" stroke="#9b1010" stroke-width="1.5" fill="none"/>
<rect x="127.12" y="133.30" width="5.6" height="5.6" fill="#9b1010"/>
<path d="M147.95 116.4 V128.4 M144.95 116.4 h6 M144.95 128.4 h6" stroke="#9b1010" stroke-width="1.5" fill="none"/>
<rect x="145.15" y="119.60" width="5.6" height="5.6" fill="#9b1010"/>
<path d="M165.98 104.4 V119.8 M162.98 104.4 h6 M162.98 119.8 h6" stroke="#9b1010" stroke-width="1.5" fill="none"/>
<rect x="163.18" y="109.30" width="5.6" height="5.6" fill="#9b1010"/>
<polyline points="57.80,163.40 75.83,154.00 93.86,148.30 111.89,131.80 129.92,112.10 147.95,92.70 165.98,75.80" stroke="#1c1c8c" stroke-width="1.4" fill="none"/>
<circle cx="57.80" cy="163.40" r="2.8" fill="#1c1c8c"/>
<path d="M75.83 151.5 V156.5 M72.83 151.5 h6 M72.83 156.5 h6" stroke="#1c1c8c" stroke-width="1.5" fill="none"/>
<circle cx="75.83" cy="154.00" r="2.8" fill="#1c1c8c"/>
<path d="M93.86 143.2 V153.3 M90.86 143.2 h6 M90.86 153.3 h6" stroke="#1c1c8c" stroke-width="1.5" fill="none"/>
<circle cx="93.86" cy="148.30" r="2.8" fill="#1c1c8c"/>
<path d="M111.89 128.9 V135.5 M108.89 128.9 h6 M108.89 135.5 h6" stroke="#1c1c8c" stroke-width="1.5" fill="none"/>
<circle cx="111.89" cy="131.80" r="2.8" fill="#1c1c8c"/>
<path d="M129.92 106.6 V117.3 M126.92 106.6 h6 M126.92 117.3 h6" stroke="#1c1c8c" stroke-width="1.5" fill="none"/>
<circle cx="129.92" cy="112.10" r="2.8" fill="#1c1c8c"/>
<path d="M147.95 84.6 V99.7 M144.95 84.6 h6 M144.95 99.7 h6" stroke="#1c1c8c" stroke-width="1.5" fill="none"/>
<circle cx="147.95" cy="92.70" r="2.8" fill="#1c1c8c"/>
<path d="M165.98 67.5 V84.1 M162.98 67.5 h6 M162.98 84.1 h6" stroke="#1c1c8c" stroke-width="1.5" fill="none"/>
<circle cx="165.98" cy="75.80" r="2.8" fill="#1c1c8c"/>
<polyline points="57.80,167.00 75.83,155.80 93.86,150.80 111.89,137.80 129.92,124.10 147.95,112.10 165.98,99.30" stroke="#1f9c6c" stroke-width="1.4" fill="none"/>
<path d="M57.80 163.60 L61.10 169.50 L54.50 169.50Z" fill="#1f9c6c"/>
<path d="M75.83 152.0 V158.0 M72.83 152.0 h6 M72.83 158.0 h6" stroke="#1f9c6c" stroke-width="1.5" fill="none"/>
<path d="M75.83 152.40 L79.13 158.30 L72.53 158.30Z" fill="#1f9c6c"/>
<path d="M93.86 146.0 V156.0 M90.86 146.0 h6 M90.86 156.0 h6" stroke="#1f9c6c" stroke-width="1.5" fill="none"/>
<path d="M93.86 147.40 L97.16 153.30 L90.56 153.30Z" fill="#1f9c6c"/>
<path d="M111.89 132.0 V143.0 M108.89 132.0 h6 M108.89 143.0 h6" stroke="#1f9c6c" stroke-width="1.5" fill="none"/>
<path d="M111.89 134.40 L115.19 140.30 L108.59 140.30Z" fill="#1f9c6c"/>
<path d="M129.92 113.5 V131.5 M126.92 113.5 h6 M126.92 131.5 h6" stroke="#1f9c6c" stroke-width="1.5" fill="none"/>
<path d="M129.92 120.70 L133.22 126.60 L126.62 126.60Z" fill="#1f9c6c"/>
<path d="M147.95 99.8 V122.4 M144.95 99.8 h6 M144.95 122.4 h6" stroke="#1f9c6c" stroke-width="1.5" fill="none"/>
<path d="M147.95 108.70 L151.25 114.60 L144.65 114.60Z" fill="#1f9c6c"/>
<path d="M165.98 85.4 V110.9 M162.98 85.4 h6 M162.98 110.9 h6" stroke="#1f9c6c" stroke-width="1.5" fill="none"/>
<path d="M165.98 95.90 L169.28 101.80 L162.68 101.80Z" fill="#1f9c6c"/>
<polyline points="57.80,164.60 75.83,163.20 93.86,164.00 111.89,158.70 129.92,151.50 147.95,148.10 165.98,139.20" stroke="#ff6a1a" stroke-width="1.4" fill="none"/>
<path d="M57.80 168.00 L61.10 162.10 L54.50 162.10Z" fill="#ff6a1a"/>
<path d="M75.83 161.0 V165.5 M72.83 161.0 h6 M72.83 165.5 h6" stroke="#ff6a1a" stroke-width="1.5" fill="none"/>
<path d="M75.83 166.60 L79.13 160.70 L72.53 160.70Z" fill="#ff6a1a"/>
<path d="M93.86 160.0 V168.0 M90.86 160.0 h6 M90.86 168.0 h6" stroke="#ff6a1a" stroke-width="1.5" fill="none"/>
<path d="M93.86 167.40 L97.16 161.50 L90.56 161.50Z" fill="#ff6a1a"/>
<path d="M111.89 156.3 V162.1 M108.89 156.3 h6 M108.89 162.1 h6" stroke="#ff6a1a" stroke-width="1.5" fill="none"/>
<path d="M111.89 162.10 L115.19 156.20 L108.59 156.20Z" fill="#ff6a1a"/>
<path d="M129.92 146.4 V158.0 M126.92 146.4 h6 M126.92 158.0 h6" stroke="#ff6a1a" stroke-width="1.5" fill="none"/>
<path d="M129.92 154.90 L133.22 149.00 L126.62 149.00Z" fill="#ff6a1a"/>
<path d="M147.95 142.6 V153.2 M144.95 142.6 h6 M144.95 153.2 h6" stroke="#ff6a1a" stroke-width="1.5" fill="none"/>
<path d="M147.95 151.50 L151.25 145.60 L144.65 145.60Z" fill="#ff6a1a"/>
<path d="M165.98 131.3 V146.7 M162.98 131.3 h6 M162.98 146.7 h6" stroke="#ff6a1a" stroke-width="1.5" fill="none"/>
<path d="M165.98 142.60 L169.28 136.70 L162.68 136.70Z" fill="#ff6a1a"/>
<path d="M173.0 111.3 V137.8" stroke="#8a8a8a" stroke-width="1.3"/>
<text x="174.6" y="132.6" font-size="13" text-anchor="start" fill="#222" >**</text>
<path d="M181.6 32.3 H195" stroke="#1c1c8c" stroke-width="1.6"/>
<circle cx="188.30" cy="32.30" r="2.7" fill="#1c1c8c"/>
<text x="201.4" y="36.9" font-size="12.9" text-anchor="start" fill="#111" >Cotntrol</text>
<path d="M181.6 45.6 H195" stroke="#9b1010" stroke-width="1.6"/>
<rect x="185.60" y="42.90" width="5.4" height="5.4" fill="#9b1010"/>
<text x="201.4" y="50.2" font-size="12.9" text-anchor="start" fill="#111" >Gefitinib</text>
<path d="M181.6 59.0 H195" stroke="#1f9c6c" stroke-width="1.6"/>
<path d="M188.30 55.70 L191.50 61.40 L185.10 61.40Z" fill="#1f9c6c"/>
<text x="201.4" y="63.6" font-size="12.9" text-anchor="start" fill="#111" >JBSNF-000088</text>
<path d="M181.6 72.2 H195" stroke="#ff6a1a" stroke-width="1.6"/>
<path d="M188.30 75.50 L191.50 69.80 L185.10 69.80Z" fill="#ff6a1a"/>
<text x="201.4" y="76.8" font-size="12.9" text-anchor="start" fill="#111" >Gefitinib+JBSNF</text>
<text x="-0.2" y="246.0" font-size="12.5" text-anchor="start" fill="#111" >D</text>
<text x="103.2" y="263.0" font-size="12.9" text-anchor="middle" fill="#111" >PC9/GR</text>
<path d="M46.9 282.4 V402.0" stroke="#4a4a4a" stroke-width="1.5" fill="none"/>
<path d="M43.699999999999996 399.0 H159.8" stroke="#1a1a1a" stroke-width="1.4" fill="none"/>
<path d="M43.699999999999996 399.00 H46.9" stroke="#1a1a1a" stroke-width="1.3"/>
<text x="41.2" y="402.7" font-size="12.4" text-anchor="end" fill="#111" >0</text>
<path d="M43.699999999999996 379.57 H46.9" stroke="#1a1a1a" stroke-width="1.3"/>
<text x="41.2" y="383.26666666666665" font-size="12.4" text-anchor="end" fill="#111" >4</text>
<path d="M43.699999999999996 360.13 H46.9" stroke="#1a1a1a" stroke-width="1.3"/>
<text x="41.2" y="363.8333333333333" font-size="12.4" text-anchor="end" fill="#111" >8</text>
<path d="M43.699999999999996 340.70 H46.9" stroke="#1a1a1a" stroke-width="1.3"/>
<text x="41.2" y="344.4" font-size="12.4" text-anchor="end" fill="#111" >12</text>
<path d="M43.699999999999996 321.27 H46.9" stroke="#1a1a1a" stroke-width="1.3"/>
<text x="41.2" y="324.96666666666664" font-size="12.4" text-anchor="end" fill="#111" >16</text>
<path d="M43.699999999999996 301.83 H46.9" stroke="#1a1a1a" stroke-width="1.3"/>
<text x="41.2" y="305.5333333333333" font-size="12.4" text-anchor="end" fill="#111" >20</text>
<path d="M43.699999999999996 282.40 H46.9" stroke="#1a1a1a" stroke-width="1.3"/>
<text x="41.2" y="286.09999999999997" font-size="12.4" text-anchor="end" fill="#111" >24</text>
<path d="M46.90 399.0 V402.3" stroke="#1a1a1a" stroke-width="1.3"/>
<text x="46.9" y="415.2" font-size="12.5" text-anchor="middle" fill="#111" >0</text>
<path d="M65.00 399.0 V402.3" stroke="#1a1a1a" stroke-width="1.3"/>
<text x="65.0" y="415.2" font-size="12.5" text-anchor="middle" fill="#111" >4</text>
<path d="M83.10 399.0 V402.3" stroke="#1a1a1a" stroke-width="1.3"/>
<text x="83.1" y="415.2" font-size="12.5" text-anchor="middle" fill="#111" >8</text>
<path d="M101.20 399.0 V402.3" stroke="#1a1a1a" stroke-width="1.3"/>
<text x="101.2" y="415.2" font-size="12.5" text-anchor="middle" fill="#111" >12</text>
<path d="M119.30 399.0 V402.3" stroke="#1a1a1a" stroke-width="1.3"/>
<text x="119.30000000000001" y="415.2" font-size="12.5" text-anchor="middle" fill="#111" >16</text>
<path d="M137.40 399.0 V402.3" stroke="#1a1a1a" stroke-width="1.3"/>
<text x="137.4" y="415.2" font-size="12.5" text-anchor="middle" fill="#111" >20</text>
<path d="M155.50 399.0 V402.3" stroke="#1a1a1a" stroke-width="1.3"/>
<text x="155.5" y="415.2" font-size="12.5" text-anchor="middle" fill="#111" >24</text>
<text x="103.0" y="432.0" font-size="12.5" text-anchor="middle" fill="#111" >Days</text>
<text transform="translate(21.0 337.2) rotate(-90)" font-size="12.5" text-anchor="middle" fill="#111">Mice weight (g)</text>
<polyline points="46.90,304.70 65.00,308.50 83.10,307.40 101.20,299.80 119.30,298.30 137.40,304.00 155.50,300.30" stroke="#0a0aa0" stroke-width="1.3" fill="none"/>
<polyline points="46.90,304.30 65.00,302.00 83.10,309.80 101.20,305.00 119.30,305.60 137.40,306.00 155.50,299.30" stroke="#d40f0f" stroke-width="1.3" fill="none"/>
<polyline points="46.90,297.50 65.00,303.50 83.10,307.60 101.20,306.10 119.30,305.50 137.40,313.60 155.50,313.30" stroke="#2fd19a" stroke-width="1.3" fill="none"/>
<polyline points="46.90,305.20 65.00,307.40 83.10,303.00 101.20,304.80 119.30,306.00 137.40,309.80 155.50,309.80" stroke="#ff7a14" stroke-width="1.3" fill="none"/>
<path d="M46.90 302.70 V306.70 M44.10 302.70 h5.6 M44.10 306.70 h5.6" stroke="#0a0aa0" stroke-width="1.4" fill="none"/>
<circle cx="46.90" cy="304.70" r="2.5" fill="#0a0aa0"/>
<path d="M65.00 304.50 V312.50 M62.20 304.50 h5.6 M62.20 312.50 h5.6" stroke="#0a0aa0" stroke-width="1.4" fill="none"/>
<circle cx="65.00" cy="308.50" r="2.5" fill="#0a0aa0"/>
<path d="M83.10 305.40 V309.40 M80.30 305.40 h5.6 M80.30 309.40 h5.6" stroke="#0a0aa0" stroke-width="1.4" fill="none"/>
<circle cx="83.10" cy="307.40" r="2.5" fill="#0a0aa0"/>
<path d="M101.20 295.30 V304.30 M98.40 295.30 h5.6 M98.40 304.30 h5.6" stroke="#0a0aa0" stroke-width="1.4" fill="none"/>
<circle cx="101.20" cy="299.80" r="2.5" fill="#0a0aa0"/>
<path d="M119.30 294.30 V302.30 M116.50 294.30 h5.6 M116.50 302.30 h5.6" stroke="#0a0aa0" stroke-width="1.4" fill="none"/>
<circle cx="119.30" cy="298.30" r="2.5" fill="#0a0aa0"/>
<path d="M137.40 298.00 V310.00 M134.60 298.00 h5.6 M134.60 310.00 h5.6" stroke="#0a0aa0" stroke-width="1.4" fill="none"/>
<circle cx="137.40" cy="304.00" r="2.5" fill="#0a0aa0"/>
<path d="M155.50 296.30 V304.30 M152.70 296.30 h5.6 M152.70 304.30 h5.6" stroke="#0a0aa0" stroke-width="1.4" fill="none"/>
<circle cx="155.50" cy="300.30" r="2.5" fill="#0a0aa0"/>
<path d="M46.90 301.30 V307.30 M44.10 301.30 h5.6 M44.10 307.30 h5.6" stroke="#d40f0f" stroke-width="1.4" fill="none"/>
<rect x="44.40" y="301.80" width="5.0" height="5.0" fill="#d40f0f"/>
<path d="M65.00 297.00 V307.00 M62.20 297.00 h5.6 M62.20 307.00 h5.6" stroke="#d40f0f" stroke-width="1.4" fill="none"/>
<rect x="62.50" y="299.50" width="5.0" height="5.0" fill="#d40f0f"/>
<path d="M83.10 306.80 V312.80 M80.30 306.80 h5.6 M80.30 312.80 h5.6" stroke="#d40f0f" stroke-width="1.4" fill="none"/>
<rect x="80.60" y="307.30" width="5.0" height="5.0" fill="#d40f0f"/>
<path d="M101.20 303.00 V307.00 M98.40 303.00 h5.6 M98.40 307.00 h5.6" stroke="#d40f0f" stroke-width="1.4" fill="none"/>
<rect x="98.70" y="302.50" width="5.0" height="5.0" fill="#d40f0f"/>
<path d="M119.30 303.60 V307.60 M116.50 303.60 h5.6 M116.50 307.60 h5.6" stroke="#d40f0f" stroke-width="1.4" fill="none"/>
<rect x="116.80" y="303.10" width="5.0" height="5.0" fill="#d40f0f"/>
<path d="M137.40 303.00 V309.00 M134.60 303.00 h5.6 M134.60 309.00 h5.6" stroke="#d40f0f" stroke-width="1.4" fill="none"/>
<rect x="134.90" y="303.50" width="5.0" height="5.0" fill="#d40f0f"/>
<path d="M155.50 296.30 V302.30 M152.70 296.30 h5.6 M152.70 302.30 h5.6" stroke="#d40f0f" stroke-width="1.4" fill="none"/>
<rect x="153.00" y="296.80" width="5.0" height="5.0" fill="#d40f0f"/>
<path d="M46.90 293.50 V301.50 M44.10 293.50 h5.6 M44.10 301.50 h5.6" stroke="#2fd19a" stroke-width="1.4" fill="none"/>
<path d="M46.90 294.40 L49.90 299.70 L43.90 299.70Z" fill="#2fd19a"/>
<path d="M65.00 300.00 V307.00 M62.20 300.00 h5.6 M62.20 307.00 h5.6" stroke="#2fd19a" stroke-width="1.4" fill="none"/>
<path d="M65.00 300.40 L68.00 305.70 L62.00 305.70Z" fill="#2fd19a"/>
<path d="M83.10 305.60 V309.60 M80.30 305.60 h5.6 M80.30 309.60 h5.6" stroke="#2fd19a" stroke-width="1.4" fill="none"/>
<path d="M83.10 304.50 L86.10 309.80 L80.10 309.80Z" fill="#2fd19a"/>
<path d="M101.20 304.10 V308.10 M98.40 304.10 h5.6 M98.40 308.10 h5.6" stroke="#2fd19a" stroke-width="1.4" fill="none"/>
<path d="M101.20 303.00 L104.20 308.30 L98.20 308.30Z" fill="#2fd19a"/>
<path d="M119.30 302.50 V308.50 M116.50 302.50 h5.6 M116.50 308.50 h5.6" stroke="#2fd19a" stroke-width="1.4" fill="none"/>
<path d="M119.30 302.40 L122.30 307.70 L116.30 307.70Z" fill="#2fd19a"/>
<path d="M137.40 310.10 V317.10 M134.60 310.10 h5.6 M134.60 317.10 h5.6" stroke="#2fd19a" stroke-width="1.4" fill="none"/>
<path d="M137.40 310.50 L140.40 315.80 L134.40 315.80Z" fill="#2fd19a"/>
<path d="M155.50 310.30 V316.30 M152.70 310.30 h5.6 M152.70 316.30 h5.6" stroke="#2fd19a" stroke-width="1.4" fill="none"/>
<path d="M155.50 310.20 L158.50 315.50 L152.50 315.50Z" fill="#2fd19a"/>
<path d="M46.90 301.20 V309.20 M44.10 301.20 h5.6 M44.10 309.20 h5.6" stroke="#ff7a14" stroke-width="1.4" fill="none"/>
<path d="M46.90 308.30 L49.90 303.00 L43.90 303.00Z" fill="#ff7a14"/>
<path d="M65.00 301.40 V313.40 M62.20 301.40 h5.6 M62.20 313.40 h5.6" stroke="#ff7a14" stroke-width="1.4" fill="none"/>
<path d="M65.00 310.50 L68.00 305.20 L62.00 305.20Z" fill="#ff7a14"/>
<path d="M83.10 299.50 V306.50 M80.30 299.50 h5.6 M80.30 306.50 h5.6" stroke="#ff7a14" stroke-width="1.4" fill="none"/>
<path d="M83.10 306.10 L86.10 300.80 L80.10 300.80Z" fill="#ff7a14"/>
<path d="M101.20 300.80 V308.80 M98.40 300.80 h5.6 M98.40 308.80 h5.6" stroke="#ff7a14" stroke-width="1.4" fill="none"/>
<path d="M101.20 307.90 L104.20 302.60 L98.20 302.60Z" fill="#ff7a14"/>
<path d="M119.30 301.50 V310.50 M116.50 301.50 h5.6 M116.50 310.50 h5.6" stroke="#ff7a14" stroke-width="1.4" fill="none"/>
<path d="M119.30 309.10 L122.30 303.80 L116.30 303.80Z" fill="#ff7a14"/>
<path d="M137.40 305.80 V313.80 M134.60 305.80 h5.6 M134.60 313.80 h5.6" stroke="#ff7a14" stroke-width="1.4" fill="none"/>
<path d="M137.40 312.90 L140.40 307.60 L134.40 307.60Z" fill="#ff7a14"/>
<path d="M155.50 306.80 V312.80 M152.70 306.80 h5.6 M152.70 312.80 h5.6" stroke="#ff7a14" stroke-width="1.4" fill="none"/>
<path d="M155.50 312.90 L158.50 307.60 L152.50 307.60Z" fill="#ff7a14"/>
<rect x="152.60" y="296.40" width="5.8" height="5.8" fill="#d40f0f"/>
<path d="M55.5 337.2 H67.8" stroke="#0a0aa0" stroke-width="1.5"/>
<circle cx="61.40" cy="337.20" r="2.3" fill="#0a0aa0"/>
<text x="74.7" y="341.7" font-size="12.6" text-anchor="start" fill="#111" >Cotntrol</text>
<path d="M55.5 350.2 H67.8" stroke="#d40f0f" stroke-width="1.5"/>
<rect x="59.10" y="347.90" width="4.6" height="4.6" fill="#d40f0f"/>
<text x="74.7" y="354.7" font-size="12.6" text-anchor="start" fill="#111" >Gefitinib</text>
<path d="M55.5 363.7 H67.8" stroke="#2fd19a" stroke-width="1.5"/>
<path d="M61.40 360.80 L64.20 365.70 L58.60 365.70Z" fill="#2fd19a"/>
<text x="74.7" y="368.2" font-size="12.6" text-anchor="start" fill="#111" >JBSNF-000088</text>
<path d="M55.5 377.2 H67.8" stroke="#ff7a14" stroke-width="1.5"/>
<path d="M61.40 380.10 L64.20 375.20 L58.60 375.20Z" fill="#ff7a14"/>
<text x="74.7" y="381.7" font-size="12.6" text-anchor="start" fill="#111" >Gefitinib+JBSNF-000088</text>
<text x="517.3" y="14.0" font-size="12.5" text-anchor="start" fill="#111" >C</text>
<text x="604.4" y="9.9" font-size="13" text-anchor="middle" fill="#111" >PC9/GR</text>
<path d="M560.8 29.2 V145.6 H670.6" stroke="#1a1a1a" stroke-width="1.4" fill="none"/>
<path d="M557.5999999999999 145.60 H560.8" stroke="#1a1a1a" stroke-width="1.3"/>
<text x="555.8" y="149.6" font-size="12.6" text-anchor="end" fill="#111" >0.0</text>
<path d="M557.5999999999999 106.80 H560.8" stroke="#1a1a1a" stroke-width="1.3"/>
<text x="555.8" y="110.8" font-size="12.6" text-anchor="end" fill="#111" >0.5</text>
<path d="M557.5999999999999 68.00 H560.8" stroke="#1a1a1a" stroke-width="1.3"/>
<text x="555.8" y="72.0" font-size="12.6" text-anchor="end" fill="#111" >1.0</text>
<path d="M557.5999999999999 29.20 H560.8" stroke="#1a1a1a" stroke-width="1.3"/>
<text x="555.8" y="33.2" font-size="12.6" text-anchor="end" fill="#111" >1.5</text>
<text transform="translate(532.5 85) rotate(-90)" font-size="12.8" text-anchor="middle" fill="#111">Tumor weight (g)</text>
<rect x="565.55" y="74.85" width="17.60" height="70.75" fill="url(#pb)" stroke="#14148c" stroke-width="1.9"/>
<path d="M574.35 73.9 V69.7 M569.15 69.7 h10.4" stroke="#14148c" stroke-width="1.7" fill="none"/>
<path d="M574.35 145.6 V148.79999999999998" stroke="#1a1a1a" stroke-width="1.3"/>
<rect x="592.95" y="98.65" width="17.90" height="46.95" fill="url(#pr)" stroke="#a00c0c" stroke-width="1.9"/>
<path d="M601.90 97.7 V95.3 M596.70 95.3 h10.4" stroke="#a00c0c" stroke-width="1.7" fill="none"/>
<path d="M601.90 145.6 V148.79999999999998" stroke="#1a1a1a" stroke-width="1.3"/>
<rect x="620.45" y="79.85" width="17.90" height="65.75" fill="url(#pg)" stroke="#1d9e6e" stroke-width="1.9"/>
<path d="M629.40 78.9 V74.39999999999999 M624.20 74.39999999999999 h10.4" stroke="#1d9e6e" stroke-width="1.7" fill="none"/>
<path d="M629.40 145.6 V148.79999999999998" stroke="#1a1a1a" stroke-width="1.3"/>
<rect x="647.95" y="123.95" width="17.90" height="21.65" fill="url(#po)" stroke="#ff5f14" stroke-width="1.9"/>
<path d="M656.90 123.0 V117.1 M651.70 117.1 h10.4" stroke="#ff5f14" stroke-width="1.7" fill="none"/>
<path d="M656.90 145.6 V148.79999999999998" stroke="#1a1a1a" stroke-width="1.3"/>
<path d="M602.2 62.1 H656.6" stroke="#8a8a8a" stroke-width="1.3"/>
<text x="629.4" y="63.2" font-size="12.5" text-anchor="middle" fill="#222" >**</text>
<text transform="translate(577.7 161.9) rotate(-45)" font-size="13" text-anchor="end" fill="#111">Control</text>
<text transform="translate(605.2 161.9) rotate(-45)" font-size="13" text-anchor="end" fill="#111">Gefitinib</text>
<text transform="translate(632.7 162.3) rotate(-45)" font-size="13" text-anchor="end" fill="#111">JBSNF-000088</text>
<text transform="translate(660.2 164.7) rotate(-45)" font-size="13" text-anchor="end" fill="#111">Gefitinib+JBSNF</text>
</svg></body></html>
